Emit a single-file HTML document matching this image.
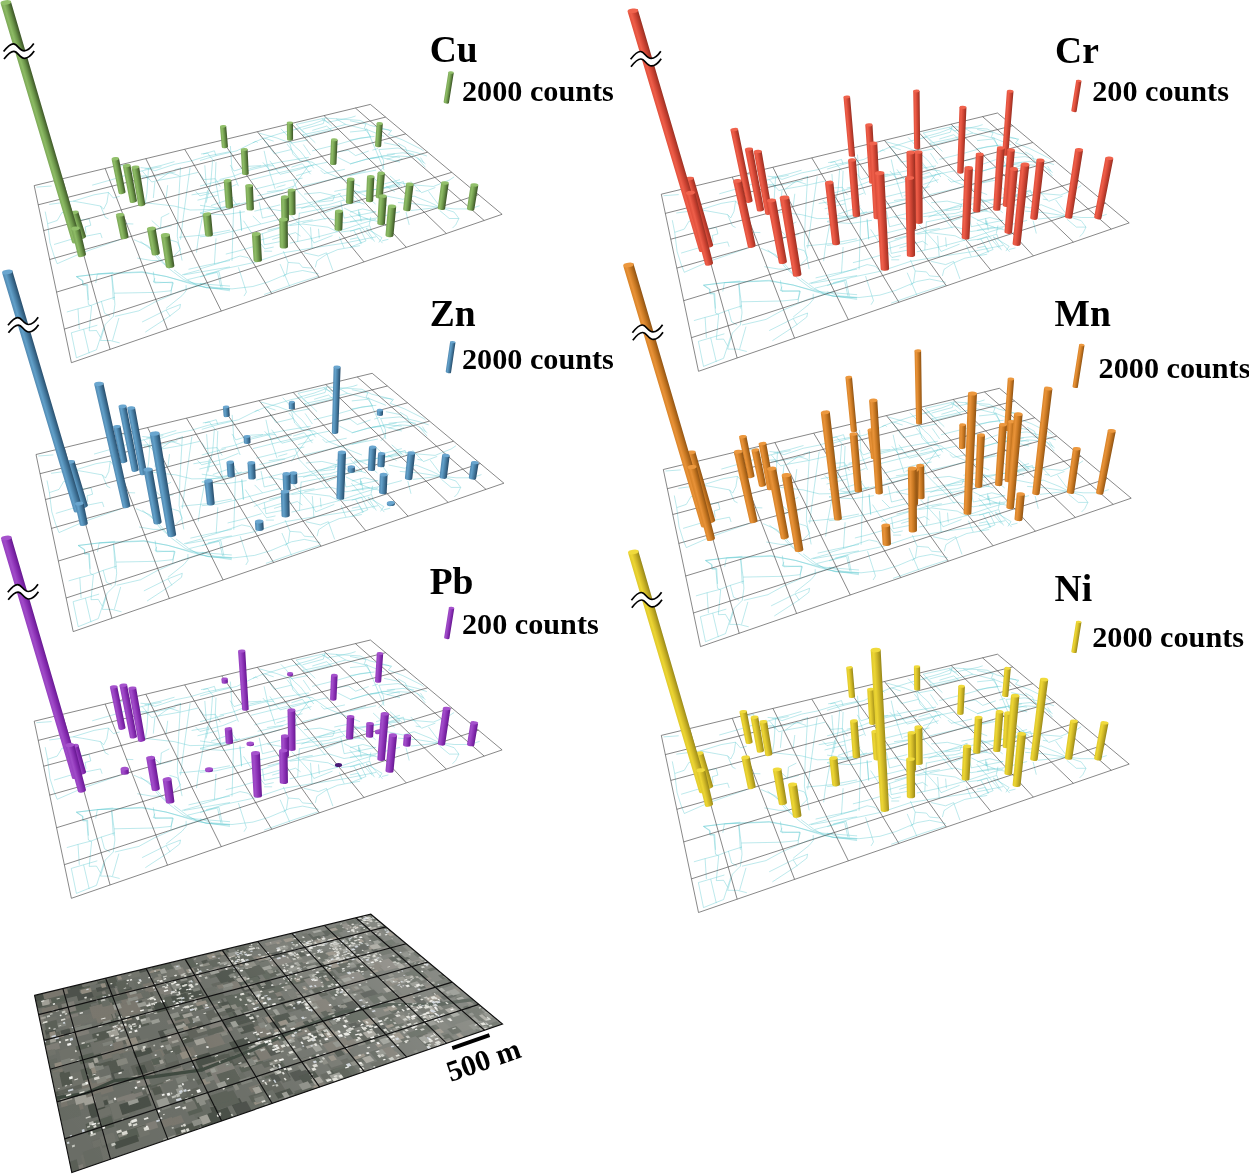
<!DOCTYPE html>
<html><head><meta charset="utf-8"><title>Heavy metal distribution maps</title>
<style>
html,body{margin:0;padding:0;background:#fff}
svg{display:block}
.t{font-family:"Liberation Serif","Times New Roman",serif;font-weight:bold;fill:#000}
</style></head><body>
<svg width="1249" height="1174" viewBox="0 0 1249 1174">
<defs>
<linearGradient id="gCu" x1="0" y1="0" x2="1" y2="0"><stop offset="0" stop-color="#7ca757"/><stop offset="0.28" stop-color="#8dbb65"/><stop offset="0.6" stop-color="#6c964a"/><stop offset="0.85" stop-color="#4c6a32"/><stop offset="1" stop-color="#3c5527"/></linearGradient>
<linearGradient id="gZn" x1="0" y1="0" x2="1" y2="0"><stop offset="0" stop-color="#5188b0"/><stop offset="0.28" stop-color="#62a0c9"/><stop offset="0.6" stop-color="#477da3"/><stop offset="0.85" stop-color="#325e7f"/><stop offset="1" stop-color="#284c6a"/></linearGradient>
<linearGradient id="gPb" x1="0" y1="0" x2="1" y2="0"><stop offset="0" stop-color="#9640c0"/><stop offset="0.28" stop-color="#a04cc8"/><stop offset="0.6" stop-color="#8a30b4"/><stop offset="0.85" stop-color="#74209f"/><stop offset="1" stop-color="#63188c"/></linearGradient>
<linearGradient id="gCr" x1="0" y1="0" x2="1" y2="0"><stop offset="0" stop-color="#e2503c"/><stop offset="0.28" stop-color="#ee5e49"/><stop offset="0.6" stop-color="#d04534"/><stop offset="0.85" stop-color="#ae3728"/><stop offset="1" stop-color="#952e21"/></linearGradient>
<linearGradient id="gMn" x1="0" y1="0" x2="1" y2="0"><stop offset="0" stop-color="#d98428"/><stop offset="0.28" stop-color="#e89238"/><stop offset="0.6" stop-color="#c87822"/><stop offset="0.85" stop-color="#a46018"/><stop offset="1" stop-color="#8c5112"/></linearGradient>
<linearGradient id="gNi" x1="0" y1="0" x2="1" y2="0"><stop offset="0" stop-color="#dfc82c"/><stop offset="0.28" stop-color="#ecd533"/><stop offset="0.6" stop-color="#cdb526"/><stop offset="0.85" stop-color="#ab981d"/><stop offset="1" stop-color="#938418"/></linearGradient>
<filter id="blur" x="-5%" y="-5%" width="110%" height="110%"><feGaussianBlur stdDeviation="0.55"/></filter>
<linearGradient id="pg" gradientUnits="userSpaceOnUse" x1="72" y1="1172" x2="400" y2="930"><stop offset="0" stop-color="#fff" stop-opacity="0"/><stop offset="0.45" stop-color="#fff" stop-opacity="0.02"/><stop offset="1" stop-color="#fff" stop-opacity="0.2"/></linearGradient>
</defs>
<rect width="1249" height="1174" fill="#fff"/>
<g id="panel-Cu">
<clipPath id="c0"><polygon points="34.2,185.6 370.4,104.4 502.1,214.3 71.4,362.7"/></clipPath><path clip-path="url(#c0)" d="M71.3 332.8L76.4 357.8L96.5 349.7L103.7 327.6M71.3 332.8L97.3 325.2M83.6 329.2L89.2 353.3M66.8 312L78 308.8L90.8 305.5L102.1 301.2L114.9 297.2M78 308.8L79.3 329.2M86.8 285.2L88.4 304.4L91.6 306L89.2 330.8L96.5 330.5L100.5 337.3M76.4 276.7L82.8 281.2L82.8 285.2L86.8 285.2M76.4 276.7L97.3 274L113.3 272.4M111.7 274.8L114.1 293.2L114.9 304.4L113.3 316.4L105.3 324.4L100.5 340.5L110.1 340.5L119.7 342.9M114.1 293.2L154.9 292.4L170.9 290.8L173.3 282.8L153.3 282L154.9 278M101.3 301.2L104.5 313.2L110.1 316.4M118.9 318L112.5 340.5M114.9 316.4L138.9 310.8L154.9 302L180.5 290.8L206.1 282.8M142.1 322L166.1 310L180.5 304.4L179.7 308.4L169.3 316.4L145.3 332.1M166.1 310L170.1 316.4M97.3 274L142.1 272.4L166.1 276.4L190.1 283.6L206.1 287.6L230 289.2M174.1 270L186.9 279.6L198.1 286L230 290.8M182.1 274.8L199.7 270M187.7 279.6L217.3 272.4M206.1 274L219 271.6L222.2 287.6M186.1 285.2L186.1 290.8L182.1 295.6L166.1 308.4M36.4 187.1L51.6 186M49.2 204.4L73.2 201.2L94.1 194.8L108.5 192.4L113.3 198L119.7 196.4M108.5 192.4L106.9 202.8L103.7 209.2L100.5 206L82.8 202.8L73.2 201.2M45.2 211.6L47.6 223.7L57.2 220.5L62 212.4L71.6 214.1M47.6 223.7L50 242.9L54 255.7L57.2 263.7L82.8 252.5L119.7 239.7M54 244.5L70 239.7L82.8 236.5M84.4 236.5L100.5 233.3L102.1 238.1M78 220.5L89.2 218.9L90.8 225.3L85.2 226.9L86 233.3M100.5 206L105.3 217.3L108.5 218.9M126.1 223.7L133.3 224M140.5 167.6L148.5 168.4L154.9 170.8L174.1 164.4L190.1 161.2L206.1 156.4L230 151.6M142.1 170.8L151.7 182L158.1 180.4L180.5 176.4L198.1 172.4M148.5 168.4L146.9 193.2L145.3 202.8M154.9 182L153.3 198M167.7 185.2L166.1 198M180.5 167.6L179.7 182L178.1 210.8L177.3 236.5L182.1 260.5M190.1 167.6L183.7 214.1L180.5 239.7M207.7 190L202.9 214.1L198.1 239.7L196.5 252.5M212.5 161.2L210.9 182L206.1 202.8M158.1 180.4L169.3 172.4L178.9 175.6M145.3 202.8L174.1 206L190.1 210L230 209.2M169.3 213.3L161.3 217.3L160.5 228.5L151.7 220.5M134.1 239.7L148.5 246.1L158.1 258.9L170.9 270.1L183.7 279.7L206.1 287.7L230 289.3M140.5 241.3L154.9 252.5L166.1 265.3M137.3 258.1L151.7 260.5L162.9 260.5M169.3 239.7L177.3 242.1L180.5 249.3L174.1 255.7M178.9 237.3L204.5 234.9L230 230.1M188.5 269.3L206.1 265.3L230 260.5M183.7 274.9L230 266.9M76.4 276.5L97.3 274.1L142.1 271.7L166.1 276.5L190.1 282.9L230 286.1M76.4 276.5L82.8 280.5L82.8 284.5L87.6 284.5L88.4 300M111.7 274.9L113.3 300M97.3 274.1L95.7 282.9M153.3 271.7L154.9 282.9L172.5 282.1L170.9 294.1M200 283.3L212.8 287.3L232 288.9L252.8 286.5L268.9 281.7L289.7 272.9L302.5 270.5L318.5 273.7M200 276.9L224 268.9L254.4 262.4L283.3 252.8L312.1 248L344.1 243.2L376.1 236.8M200 268.9L216 264.1L240 256L248 257.6L252.8 262.4M216 238.4L214.4 264.1M233.6 208L232 260.8M217.6 272.9L220.8 287.3M238.4 267.3L246.4 292.1L244 296.1M264.1 294.5L296.1 283.3L318.5 276.1M280.1 264.1L289.7 286.5M283.3 251.2L288.1 262.4L286.5 273.7L283.3 276.9M288.1 262.4L299.3 263.3L302.5 267.3L312.1 268.1M304.1 252.8L318.5 256L326.5 252.8L332.9 270.5M315.3 267.3L316.9 260.8L326.5 254.4L337.7 249.6L360.1 245.6M200 236.8L216 235.2L236.8 230.4L260.8 224L280.1 219.2M240 211.2L241.6 230.4M252.8 216L260.8 224M262.4 233.6L264.1 244.8L280.1 241.6M264.1 251.2L272.1 251.2M260.8 240L280.1 234.4M289.7 243.2L312.1 238.4L336.1 232L360.1 224L376.1 219.2M289.7 225.6L302.5 224L328.1 227.2L337.7 232M299.3 212.8L297.7 241.6M310.5 227.2L312.1 248M318.5 228.8L319.3 238.4M340.9 232L353.7 230.4L369.7 225.6L371.3 230.4L382.5 243.2M353.7 230.4L361.7 243.2M366.5 228.8L374.5 241.6M344.1 208L360.1 216L368.1 219.2M358.5 209.6L359.3 216M200 212.8L219.2 208L240 203.2M254.4 211.2L280.1 204.8M296.1 208L328.1 204.8L344.1 200M339.3 236.8L344.1 248M200 160.5L216 155.7L236.8 150.8L252.8 142.8L264.1 138L273.7 141.2M203.2 154.1L214.4 150.8L216 155.7M204.8 165.3L206.4 186.1M216 162.1L215.2 179.7L220.8 208.5M230.4 146L232 170.1L238.4 186.1M252.8 142.8L256 141.2L257.6 142.8M259.2 133.2L276.9 138L289.7 142.8L292.9 154.1L299.3 160.5L312.1 162.1M264.1 150.8L267.3 165.3L275.3 189.3M249.6 168.5L280.1 162.1L308.9 157.3M251.2 179.7L283.3 171.7L312.1 165.3L328.1 162.1M254.4 189.3L286.5 181.3L302.5 178.1M257.6 195.7L283.3 190.1M308.9 165.3L296.1 182.9L289.7 192.5M296.1 124.4L324.9 118L336.1 118.8L345.7 124.4L324.9 130L302.5 134.8M296.1 124.4L315.3 142.8M302.5 134.8L305.7 136.4L331.3 130M324.9 118L323.3 123.6L302.5 129.2M336.1 118.8L360.1 120.4L369.7 125.2L389 130L390.6 131.6M345.7 124.4L368.1 130L384.1 136.4M312.1 150.8L337.7 144.4L360.1 138L374.5 136.4M337.7 157.3L350.5 163.7L368.1 158.9L384.1 155.7L400 157.3M366.5 128.4L376.1 150.8L384.1 170.1M384.1 142.8L400 146M380.9 157.3L400 162.1M312.1 162.1L328.1 173.3L344.1 179.7L360.1 186.1M302.5 186.1L344.1 176.5L376.1 170.1M304.1 194.1L320.1 192.5L334.5 195.7L332.9 200.5L318.5 202.1M296.1 205.3L328.1 198.9L360.1 192.5L400 184.5M299.3 213.3L331.3 206.9L360.1 202.1M200 186.1L224 179.7M200 205.3L220.8 208.5L248 202.1L280.1 194.1M200 213.3L224 214.9L244.8 211.7M240 210.1L241.6 230.9M259.2 202.1L262.4 218.1L275.3 214.9M267.3 208.5L286.5 211.7M340.9 202.1L344.1 218.1L360.1 214.9L376.1 211.7M358.5 211.7L359.3 216.5M302.5 222.9L328.1 218.1L344.1 222.9L376.1 218.1L400 211.7M376.1 186.1L400 179.7M352.1 192.5L400 186.1M350 120.8L366 124L364.4 128L370.8 136.8L350 140M350 132L366 130.4M380.4 128.8L391.6 130.4L388.4 134.4L402.8 140L422.1 149.6L423.7 151.2M378.8 149.6L398 148L417.3 152.8L426.9 156M378.8 149.6L383.6 160.8L383.6 167.3L378.8 172.1M386.8 154.4L402.8 152.8L414.1 154.4M386.8 159.2L398 156L410.8 156.8M350 164.1L366 159.2L378.8 157.6M417.3 157.6L425.3 167.3M420.5 157.6L423.7 162.4M350 175.3L366 170.5M391.6 181.7L414.1 184.9L433.3 186.5L449.3 180.1L454.1 176.9M415.7 190.5L420.5 191.3M414.1 196.1L430.1 202.5L439.7 207.3L454.1 208.9L470.1 208.9L479.7 205.7M398 202.5L417.3 204.1L438.1 207.3M410.8 210.5L439.7 207.3M428.5 191.3L438.1 204.1M439.7 210.5L449.3 218.5L458.9 218.5L455.7 224.9L452.5 228.1M444.5 208.9L454.1 212.1L458.9 218.5M406 212.1L409.2 224.9M386.8 196.1L402.8 199.3L414.1 196.1M350 212.1L362.8 208.9L375.6 212.1M350 221.7L366 218.5L378.8 221.7M350 231.3L359.6 228.1L366 240.9L350 247.3M366 228.1L382 237.7L378.8 242.5M359.6 212.1L361.2 221.7M369.2 224.9L370.8 216.9M350 239.3L358 237.7L361.2 244.1M382 240.9L388.4 239.3M353.2 189.7L366 196.1L375.6 204.1M350 199.3L364.4 204.1M338.6 193.3L348.2 204.1M279.8 228L261.1 234.1L252.1 237.6M171.8 225.6L150.6 230.9M175.5 171.8L153.8 176.5L142.2 177.5M174.5 169.9L180.9 167.9M197.5 200.2L218.1 195.1M126.3 171.8L126.7 164.5L115.1 167.3M394.8 191.8L386.2 186.2M394.8 154L380.3 156.8L370.1 158.3M349.6 214.3L357.1 222.6L361.1 226.7L372.3 239.8M387.2 206.3L381.5 198.3M398.1 143.3L405.4 147.4L407 151.9L418.3 158.7L425.5 163.9M373.1 177.4L384.2 187.8L403.3 181.5L405 187.1M301.3 208.6L311.9 204.4L322.1 200L340.6 193.5M293.5 180.4L297.4 190.7L306.7 200.5L317 209.8L325.3 219.6M303.3 144.5L310.6 155.1M285.5 184.8L276.4 187.4M220.4 186.6L215.3 178.7L203.8 179.6L199.9 173.7M266.9 191.9L283 189.8L293.5 186.2M289.4 140.4L294.5 146.1L300.4 151.3L308.3 161.4L313.8 168.4M273.7 247L264.8 248.9L255.2 236.3L251.5 232.8L243.5 220.7M237.4 205.7L230 195.2M233.2 197.2L228.1 199.8L211 205.6M291.5 216L299.4 224.1L309.5 235.3L313.9 242.9L332.5 235.5M214.6 161.8L209.6 155.9L207.6 153L201 154M236.7 184.4L229.6 187.2L222.7 190L199.9 195.9L195.6 191.4M348.7 190.9L360.3 202.1M311.5 170.9L296.1 175.8M320.7 170.2L324 173.5L344.9 169.3M372.4 150.2L378 148.5M291.1 149.6L274.2 153.7L268.3 145.4L262.4 137.8M230.1 165L234 171L248.8 166.3L261.2 165.6M174.5 161.6L161.3 165.4L144.6 169.1M435.4 187.5L421.6 192.7L410.7 181.3M295.3 128.9L312.3 124.2L324.5 119.6L331.9 126.2M350.9 188.2L334.3 191.4M308 139.9L291.3 143.1L289.5 138.7L286.1 134.2L280.9 128.8M402.1 186.6L389.9 175.9M355.6 116L351 117.5L334.6 120.9L327.3 122.3L321.9 119M313.9 164.8L298.3 169.7L280.1 174.3L276.9 170.5L269.8 160.8M161.5 166.7L151.2 168.6L132.1 173.4L111.6 179.7L92.2 185.2M259.9 244.7L239.9 250.6L225.8 254.1M147.6 179.2L146.2 175.7L139.2 176.4L138.8 169.9M208.2 192.1L191.6 194.9M312.3 130.4L326.7 126.1L332.7 131.4M287 144L295.1 154.1L300 160.2M312.7 219.8L300.7 221.7L288.5 225.2L267.6 230.3M274 165.6L266.4 166L249.2 170.2L232.9 176.4L219.6 179.5M304.1 133.2L299.7 128.7L290.3 130.5L280.4 133.4L264.6 138.3M320.6 206.1L324.7 212.7L341.8 205.9M300.6 236.2L295.5 232.6L272.2 239.5M402.3 158.6L395 161.5M289.9 166.1L270.3 170.7L262.8 162.4M330.7 153.1L348.2 150.2L355.6 155.6L368.7 151M291.4 167.2L302.4 163.7L310.6 174.2" stroke="#62cad2" stroke-opacity="0.85" stroke-width="0.5" fill="none" stroke-linejoin="round"/>
<path d="M62.5 178.8L110.1 349.4M105.2 168.5L167.5 329.6M145.8 158.6L221.3 311.1M184.7 149.3L271.8 293.7M221.8 140.3L319.3 277.3M257.3 131.7L364 261.9M291.4 123.5L406.3 247.3M324 115.6L446.3 233.5M355.4 108L484.2 220.5M38.2 204.8L385.6 117.1M43.7 230.6L405.7 133.9M49.7 259.5L427.6 152.2M56.6 292.1L451.8 172.3M64.3 329.1L478.5 194.6" stroke="#555" stroke-width="0.7" fill="none"/>
<polygon points="34.2,185.6 370.4,104.4 502.1,214.3 71.4,362.7" stroke="#555" stroke-width="0.7" fill="none"/>
<g transform="translate(290.1 140.7) rotate(-0.6)"><path d="M-3 -1.3 L-3.1 -17.9 L3.1 -17.9 L3 -1.3 A3 1.3 0 0 1 -3 -1.3 Z" fill="url(#gCu)"/><ellipse cx="0" cy="-17.9" rx="3.1" ry="1.4" fill="#92c06b"/></g>
<g transform="translate(378 147.2) rotate(4.1)"><path d="M-3.1 -1.4 L-3.1 -23.8 L3.1 -23.8 L3.1 -1.4 A3.1 1.4 0 0 1 -3.1 -1.4 Z" fill="url(#gCu)"/><ellipse cx="0" cy="-23.8" rx="3.1" ry="1.4" fill="#92c06b"/></g>
<g transform="translate(225 148.2) rotate(-5)"><path d="M-3.1 -1.4 L-3.1 -21.9 L3.1 -21.9 L3.1 -1.4 A3.1 1.4 0 0 1 -3.1 -1.4 Z" fill="url(#gCu)"/><ellipse cx="0" cy="-21.9" rx="3.1" ry="1.4" fill="#92c06b"/></g>
<g transform="translate(333.2 165.1) rotate(2.5)"><path d="M-3.2 -1.5 L-3.3 -25.3 L3.3 -25.3 L3.2 -1.5 A3.2 1.5 0 0 1 -3.2 -1.5 Z" fill="url(#gCu)"/><ellipse cx="0" cy="-25.3" rx="3.3" ry="1.5" fill="#92c06b"/></g>
<g transform="translate(245.5 175.1) rotate(-2.9)"><path d="M-3.3 -1.5 L-3.4 -25.6 L3.4 -25.6 L3.3 -1.5 A3.3 1.5 0 0 1 -3.3 -1.5 Z" fill="url(#gCu)"/><ellipse cx="0" cy="-25.6" rx="3.4" ry="1.5" fill="#92c06b"/></g>
<g transform="translate(122.4 194.1) rotate(-11.4)"><path d="M-3.5 -1.6 L-3.7 -36 L3.7 -36 L3.5 -1.6 A3.5 1.6 0 0 1 -3.5 -1.6 Z" fill="url(#gCu)"/><ellipse cx="0" cy="-36" rx="3.7" ry="1.7" fill="#92c06b" transform="rotate(6.3 0 -36)"/></g>
<g transform="translate(379.1 198.4) rotate(4.8)"><path d="M-3.6 -1.6 L-3.7 -25.3 L3.7 -25.3 L3.6 -1.6 A3.6 1.6 0 0 1 -3.6 -1.6 Z" fill="url(#gCu)"/><ellipse cx="0" cy="-25.3" rx="3.7" ry="1.7" fill="#92c06b"/></g>
<g transform="translate(369.5 202.2) rotate(2.7)"><path d="M-3.6 -1.6 L-3.7 -25.6 L3.7 -25.6 L3.6 -1.6 A3.6 1.6 0 0 1 -3.6 -1.6 Z" fill="url(#gCu)"/><ellipse cx="0" cy="-25.6" rx="3.7" ry="1.7" fill="#92c06b"/></g>
<g transform="translate(133.7 202.8) rotate(-10.8)"><path d="M-3.6 -1.6 L-3.8 -37.9 L3.8 -37.9 L3.6 -1.6 A3.6 1.6 0 0 1 -3.6 -1.6 Z" fill="url(#gCu)"/><ellipse cx="0" cy="-37.9" rx="3.8" ry="1.7" fill="#92c06b" transform="rotate(5.9 0 -37.9)"/></g>
<g transform="translate(349.5 204) rotate(2.8)"><path d="M-3.6 -1.6 L-3.7 -24.8 L3.7 -24.8 L3.6 -1.6 A3.6 1.6 0 0 1 -3.6 -1.6 Z" fill="url(#gCu)"/><ellipse cx="0" cy="-24.8" rx="3.7" ry="1.7" fill="#92c06b"/></g>
<g transform="translate(142 206.2) rotate(-9.7)"><path d="M-3.6 -1.6 L-3.8 -39.6 L3.8 -39.6 L3.6 -1.6 A3.6 1.6 0 0 1 -3.6 -1.6 Z" fill="url(#gCu)"/><ellipse cx="0" cy="-39.6" rx="3.9" ry="1.7" fill="#92c06b" transform="rotate(5.4 0 -39.6)"/></g>
<g transform="translate(229.5 208.4) rotate(-4.1)"><path d="M-3.7 -1.6 L-3.8 -27.7 L3.8 -27.7 L3.7 -1.6 A3.7 1.6 0 0 1 -3.7 -1.6 Z" fill="url(#gCu)"/><ellipse cx="0" cy="-27.7" rx="3.8" ry="1.7" fill="#92c06b"/></g>
<g transform="translate(441.2 209.9) rotate(8)"><path d="M-3.7 -1.7 L-3.8 -27.2 L3.8 -27.2 L3.7 -1.7 A3.7 1.7 0 0 1 -3.7 -1.7 Z" fill="url(#gCu)"/><ellipse cx="0" cy="-27.2" rx="3.9" ry="1.7" fill="#92c06b" transform="rotate(-4.4 0 -27.2)"/></g>
<g transform="translate(250.3 210.6) rotate(-2.7)"><path d="M-3.7 -1.7 L-3.8 -25 L3.8 -25 L3.7 -1.7 A3.7 1.7 0 0 1 -3.7 -1.7 Z" fill="url(#gCu)"/><ellipse cx="0" cy="-25" rx="3.8" ry="1.7" fill="#92c06b"/></g>
<g transform="translate(470.4 210.6) rotate(9.1)"><path d="M-3.7 -1.7 L-3.8 -26 L3.8 -26 L3.7 -1.7 A3.7 1.7 0 0 1 -3.7 -1.7 Z" fill="url(#gCu)"/><ellipse cx="0" cy="-26" rx="3.9" ry="1.7" fill="#92c06b" transform="rotate(-5 0 -26)"/></g>
<g transform="translate(406.6 211.2) rotate(6.8)"><path d="M-3.7 -1.7 L-3.8 -27.1 L3.8 -27.1 L3.7 -1.7 A3.7 1.7 0 0 1 -3.7 -1.7 Z" fill="url(#gCu)"/><ellipse cx="0" cy="-27.1" rx="3.8" ry="1.7" fill="#92c06b"/></g>
<g transform="translate(291.9 215.3) rotate(-0.7)"><path d="M-3.7 -1.7 L-3.8 -25.2 L3.8 -25.2 L3.7 -1.7 A3.7 1.7 0 0 1 -3.7 -1.7 Z" fill="url(#gCu)"/><ellipse cx="0" cy="-25.2" rx="3.8" ry="1.7" fill="#92c06b"/></g>
<g transform="translate(285.2 221.8) rotate(-0.9)"><path d="M-3.8 -1.7 L-3.9 -24.7 L3.9 -24.7 L3.8 -1.7 A3.8 1.7 0 0 1 -3.8 -1.7 Z" fill="url(#gCu)"/><ellipse cx="0" cy="-24.7" rx="3.9" ry="1.8" fill="#92c06b"/></g>
<g transform="translate(381 225.3) rotate(3.7)"><path d="M-3.8 -1.7 L-4 -29.3 L4 -29.3 L3.8 -1.7 A3.8 1.7 0 0 1 -3.8 -1.7 Z" fill="url(#gCu)"/><ellipse cx="0" cy="-29.3" rx="4" ry="1.8" fill="#92c06b"/></g>
<g transform="translate(338.4 230.8) rotate(1.8)"><path d="M-3.9 -1.7 L-4 -19.6 L4 -19.6 L3.9 -1.7 A3.9 1.7 0 0 1 -3.9 -1.7 Z" fill="url(#gCu)"/><ellipse cx="0" cy="-19.6" rx="4" ry="1.8" fill="#92c06b"/></g>
<g transform="translate(209.2 236.6) rotate(-5.9)"><path d="M-3.9 -1.8 L-4.1 -22.5 L4.1 -22.5 L3.9 -1.8 A3.9 1.8 0 0 1 -3.9 -1.8 Z" fill="url(#gCu)"/><ellipse cx="0" cy="-22.5" rx="4.1" ry="1.8" fill="#92c06b"/></g>
<g transform="translate(389.3 237.2) rotate(5.2)"><path d="M-4 -1.8 L-4.1 -31 L4.1 -31 L4 -1.8 A4 1.8 0 0 1 -4 -1.8 Z" fill="url(#gCu)"/><ellipse cx="0" cy="-31" rx="4.1" ry="1.8" fill="#92c06b"/></g>
<g transform="translate(82.7 239) rotate(-17.7)"><path d="M-4 -1.8 L-4.1 -27.9 L4.1 -27.9 L4 -1.8 A4 1.8 0 0 1 -4 -1.8 Z" fill="url(#gCu)"/><ellipse cx="0" cy="-27.9" rx="4.2" ry="1.8" fill="#92c06b" transform="rotate(9.7 0 -27.9)"/></g>
<g transform="translate(125 239.1) rotate(-11.6)"><path d="M-4 -1.8 L-4.1 -24.8 L4.1 -24.8 L4 -1.8 A4 1.8 0 0 1 -4 -1.8 Z" fill="url(#gCu)"/><ellipse cx="0" cy="-24.8" rx="4.2" ry="1.8" fill="#92c06b" transform="rotate(6.4 0 -24.8)"/></g>
<g transform="translate(77 243) rotate(-16.5)"><path d="M-4.6 -2.1 L-5.2 -250.8 L5.2 -250.8 L4.6 -2.1 A4.6 2.1 0 0 1 -4.6 -2.1 Z" fill="url(#gCu)"/><ellipse cx="0" cy="-250.8" rx="5.3" ry="2.3" fill="#92c06b" transform="rotate(9.1 0 -250.8)"/></g>
<g transform="translate(283.9 248.5) rotate(-0.8)"><path d="M-4.1 -1.8 L-4.2 -29 L4.2 -29 L4.1 -1.8 A4.1 1.8 0 0 1 -4.1 -1.8 Z" fill="url(#gCu)"/><ellipse cx="0" cy="-29" rx="4.2" ry="1.9" fill="#92c06b"/></g>
<g transform="translate(156.1 255.3) rotate(-10.2)"><path d="M-4.1 -1.9 L-4.3 -27.2 L4.3 -27.2 L4.1 -1.9 A4.1 1.9 0 0 1 -4.1 -1.9 Z" fill="url(#gCu)"/><ellipse cx="0" cy="-27.2" rx="4.4" ry="1.9" fill="#92c06b" transform="rotate(5.6 0 -27.2)"/></g>
<g transform="translate(82.4 256.8) rotate(-13.5)"><path d="M-4.1 -1.9 L-4.3 -29.1 L4.3 -29.1 L4.1 -1.9 A4.1 1.9 0 0 1 -4.1 -1.9 Z" fill="url(#gCu)"/><ellipse cx="0" cy="-29.1" rx="4.4" ry="1.9" fill="#92c06b" transform="rotate(7.4 0 -29.1)"/></g>
<g transform="translate(257.9 262.1) rotate(-3.5)"><path d="M-4.2 -1.9 L-4.3 -28.2 L4.3 -28.2 L4.2 -1.9 A4.2 1.9 0 0 1 -4.2 -1.9 Z" fill="url(#gCu)"/><ellipse cx="0" cy="-28.2" rx="4.3" ry="2" fill="#92c06b"/></g>
<g transform="translate(170.4 268) rotate(-8.8)"><path d="M-4.3 -1.9 L-4.4 -33.3 L4.4 -33.3 L4.3 -1.9 A4.3 1.9 0 0 1 -4.3 -1.9 Z" fill="url(#gCu)"/><ellipse cx="0" cy="-33.3" rx="4.5" ry="2" fill="#92c06b" transform="rotate(4.8 0 -33.3)"/></g>
<path d="M3.6 51.6 C7.1 47.1 10.1 43.9 13.4 43.9 C17.6 43.9 19.1 50.8 24.2 50.8 C28.1 50.8 31.1 47.6 33.8 43.6 L34.2 51.1 C31.5 55.1 28.5 58.3 24.6 58.3 C19.5 58.3 18 51.4 13.8 51.4 C10.5 51.4 7.5 54.6 4 59.1 Z" fill="#fff"/><path d="M3.6 51.6 C7.1 47.1 10.1 43.9 13.4 43.9 C17.6 43.9 19.1 50.8 24.2 50.8 C28.1 50.8 31.1 47.6 33.8 43.6" stroke="#000" stroke-width="1.7" fill="none" stroke-linecap="butt"/><path d="M4 59.1 C7.5 54.6 10.5 51.4 13.8 51.4 C18 51.4 19.5 58.3 24.6 58.3 C28.5 58.3 31.5 55.1 34.2 51.1" stroke="#000" stroke-width="1.7" fill="none" stroke-linecap="butt"/>
<g transform="translate(446.1 103.6) rotate(9.1)"><path d="M-2.7 -1.2 L-2.7 -31.5 L2.7 -31.5 L2.7 -1.2 A2.7 1.2 0 0 1 -2.7 -1.2 Z" fill="url(#gCu)"/><ellipse cx="0" cy="-31.5" rx="2.8" ry="1.2" fill="#92c06b" transform="rotate(-5 0 -31.5)"/></g>
<text x="429.7" y="62.3" font-size="37.5" class="t">Cu</text>
<text x="462" y="100.8" font-size="30.2" class="t">2000 counts</text>
</g>
<g id="panel-Zn">
<clipPath id="c281"><polygon points="36,454.5 372.2,373.3 503.9,483.2 73.2,631.6"/></clipPath><path clip-path="url(#c281)" d="M73.1 601.7L78.2 626.7L98.3 618.6L105.5 596.5M73.1 601.7L99.1 594.1M85.4 598.1L91 622.2M68.6 580.9L79.8 577.7L92.6 574.4L103.9 570.1L116.7 566.1M79.8 577.7L81.1 598.1M88.6 554.1L90.2 573.3L93.4 574.9L91 599.7L98.3 599.4L102.3 606.2M78.2 545.6L84.6 550.1L84.6 554.1L88.6 554.1M78.2 545.6L99.1 542.9L115.1 541.3M113.5 543.7L115.9 562.1L116.7 573.3L115.1 585.3L107.1 593.3L102.3 609.4L111.9 609.4L121.5 611.8M115.9 562.1L156.7 561.3L172.7 559.7L175.1 551.7L155.1 550.9L156.7 546.9M103.1 570.1L106.3 582.1L111.9 585.3M120.7 586.9L114.3 609.4M116.7 585.3L140.7 579.7L156.7 570.9L182.3 559.7L207.9 551.7M143.9 590.9L167.9 578.9L182.3 573.3L181.5 577.3L171.1 585.3L147.1 601M167.9 578.9L171.9 585.3M99.1 542.9L143.9 541.3L167.9 545.3L191.9 552.5L207.9 556.5L231.8 558.1M175.9 538.9L188.7 548.5L199.9 554.9L231.8 559.7M183.9 543.7L201.5 538.9M189.5 548.5L219.1 541.3M207.9 542.9L220.8 540.5L224 556.5M187.9 554.1L187.9 559.7L183.9 564.5L167.9 577.3M38.2 456L53.4 454.9M51 473.3L75 470.1L95.9 463.7L110.3 461.3L115.1 466.9L121.5 465.3M110.3 461.3L108.7 471.7L105.5 478.1L102.3 474.9L84.6 471.7L75 470.1M47 480.5L49.4 492.6L59 489.4L63.8 481.3L73.4 483M49.4 492.6L51.8 511.8L55.8 524.6L59 532.6L84.6 521.4L121.5 508.6M55.8 513.4L71.8 508.6L84.6 505.4M86.2 505.4L102.3 502.2L103.9 507M79.8 489.4L91 487.8L92.6 494.2L87 495.8L87.8 502.2M102.3 474.9L107.1 486.2L110.3 487.8M127.9 492.6L135.1 492.9M142.3 436.5L150.3 437.3L156.7 439.7L175.9 433.3L191.9 430.1L207.9 425.3L231.8 420.5M143.9 439.7L153.5 450.9L159.9 449.3L182.3 445.3L199.9 441.3M150.3 437.3L148.7 462.1L147.1 471.7M156.7 450.9L155.1 466.9M169.5 454.1L167.9 466.9M182.3 436.5L181.5 450.9L179.9 479.7L179.1 505.4L183.9 529.4M191.9 436.5L185.5 483L182.3 508.6M209.5 458.9L204.7 483L199.9 508.6L198.3 521.4M214.3 430.1L212.7 450.9L207.9 471.7M159.9 449.3L171.1 441.3L180.7 444.5M147.1 471.7L175.9 474.9L191.9 478.9L231.8 478.1M171.1 482.2L163.1 486.2L162.3 497.4L153.5 489.4M135.9 508.6L150.3 515L159.9 527.8L172.7 539L185.5 548.6L207.9 556.6L231.8 558.2M142.3 510.2L156.7 521.4L167.9 534.2M139.1 527L153.5 529.4L164.7 529.4M171.1 508.6L179.1 511L182.3 518.2L175.9 524.6M180.7 506.2L206.3 503.8L231.8 499M190.3 538.2L207.9 534.2L231.8 529.4M185.5 543.8L231.8 535.8M78.2 545.4L99.1 543L143.9 540.6L167.9 545.4L191.9 551.8L231.8 555M78.2 545.4L84.6 549.4L84.6 553.4L89.4 553.4L90.2 568.9M113.5 543.8L115.1 568.9M99.1 543L97.5 551.8M155.1 540.6L156.7 551.8L174.3 551L172.7 563M201.8 552.2L214.6 556.2L233.8 557.8L254.6 555.4L270.7 550.6L291.5 541.8L304.3 539.4L320.3 542.6M201.8 545.8L225.8 537.8L256.2 531.3L285.1 521.7L313.9 516.9L345.9 512.1L377.9 505.7M201.8 537.8L217.8 533L241.8 524.9L249.8 526.5L254.6 531.3M217.8 507.3L216.2 533M235.4 476.9L233.8 529.7M219.4 541.8L222.6 556.2M240.2 536.2L248.2 561L245.8 565M265.9 563.4L297.9 552.2L320.3 545M281.9 533L291.5 555.4M285.1 520.1L289.9 531.3L288.3 542.6L285.1 545.8M289.9 531.3L301.1 532.2L304.3 536.2L313.9 537M305.9 521.7L320.3 524.9L328.3 521.7L334.7 539.4M317.1 536.2L318.7 529.7L328.3 523.3L339.5 518.5L361.9 514.5M201.8 505.7L217.8 504.1L238.6 499.3L262.6 492.9L281.9 488.1M241.8 480.1L243.4 499.3M254.6 484.9L262.6 492.9M264.2 502.5L265.9 513.7L281.9 510.5M265.9 520.1L273.9 520.1M262.6 508.9L281.9 503.3M291.5 512.1L313.9 507.3L337.9 500.9L361.9 492.9L377.9 488.1M291.5 494.5L304.3 492.9L329.9 496.1L339.5 500.9M301.1 481.7L299.5 510.5M312.3 496.1L313.9 516.9M320.3 497.7L321.1 507.3M342.7 500.9L355.5 499.3L371.5 494.5L373.1 499.3L384.3 512.1M355.5 499.3L363.5 512.1M368.3 497.7L376.3 510.5M345.9 476.9L361.9 484.9L369.9 488.1M360.3 478.5L361.1 484.9M201.8 481.7L221 476.9L241.8 472.1M256.2 480.1L281.9 473.7M297.9 476.9L329.9 473.7L345.9 468.9M341.1 505.7L345.9 516.9M201.8 429.4L217.8 424.6L238.6 419.7L254.6 411.7L265.9 406.9L275.5 410.1M205 423L216.2 419.7L217.8 424.6M206.6 434.2L208.2 455M217.8 431L217 448.6L222.6 477.4M232.2 414.9L233.8 439L240.2 455M254.6 411.7L257.8 410.1L259.4 411.7M261 402.1L278.7 406.9L291.5 411.7L294.7 423L301.1 429.4L313.9 431M265.9 419.7L269.1 434.2L277.1 458.2M251.4 437.4L281.9 431L310.7 426.2M253 448.6L285.1 440.6L313.9 434.2L329.9 431M256.2 458.2L288.3 450.2L304.3 447M259.4 464.6L285.1 459M310.7 434.2L297.9 451.8L291.5 461.4M297.9 393.3L326.7 386.9L337.9 387.7L347.5 393.3L326.7 398.9L304.3 403.7M297.9 393.3L317.1 411.7M304.3 403.7L307.5 405.3L333.1 398.9M326.7 386.9L325.1 392.5L304.3 398.1M337.9 387.7L361.9 389.3L371.5 394.1L390.8 398.9L392.4 400.5M347.5 393.3L369.9 398.9L385.9 405.3M313.9 419.7L339.5 413.3L361.9 406.9L376.3 405.3M339.5 426.2L352.3 432.6L369.9 427.8L385.9 424.6L401.8 426.2M368.3 397.3L377.9 419.7L385.9 439M385.9 411.7L401.8 414.9M382.7 426.2L401.8 431M313.9 431L329.9 442.2L345.9 448.6L361.9 455M304.3 455L345.9 445.4L377.9 439M305.9 463L321.9 461.4L336.3 464.6L334.7 469.4L320.3 471M297.9 474.2L329.9 467.8L361.9 461.4L401.8 453.4M301.1 482.2L333.1 475.8L361.9 471M201.8 455L225.8 448.6M201.8 474.2L222.6 477.4L249.8 471L281.9 463M201.8 482.2L225.8 483.8L246.6 480.6M241.8 479L243.4 499.8M261 471L264.2 487L277.1 483.8M269.1 477.4L288.3 480.6M342.7 471L345.9 487L361.9 483.8L377.9 480.6M360.3 480.6L361.1 485.4M304.3 491.8L329.9 487L345.9 491.8L377.9 487L401.8 480.6M377.9 455L401.8 448.6M353.9 461.4L401.8 455M351.8 389.7L367.8 392.9L366.2 396.9L372.6 405.7L351.8 408.9M351.8 400.9L367.8 399.3M382.2 397.7L393.4 399.3L390.2 403.3L404.6 408.9L423.9 418.5L425.5 420.1M380.6 418.5L399.8 416.9L419.1 421.7L428.7 424.9M380.6 418.5L385.4 429.7L385.4 436.2L380.6 441M388.6 423.3L404.6 421.7L415.9 423.3M388.6 428.1L399.8 424.9L412.6 425.7M351.8 433L367.8 428.1L380.6 426.5M419.1 426.5L427.1 436.2M422.3 426.5L425.5 431.3M351.8 444.2L367.8 439.4M393.4 450.6L415.9 453.8L435.1 455.4L451.1 449L455.9 445.8M417.5 459.4L422.3 460.2M415.9 465L431.9 471.4L441.5 476.2L455.9 477.8L471.9 477.8L481.5 474.6M399.8 471.4L419.1 473L439.9 476.2M412.6 479.4L441.5 476.2M430.3 460.2L439.9 473M441.5 479.4L451.1 487.4L460.7 487.4L457.5 493.8L454.3 497M446.3 477.8L455.9 481L460.7 487.4M407.8 481L411 493.8M388.6 465L404.6 468.2L415.9 465M351.8 481L364.6 477.8L377.4 481M351.8 490.6L367.8 487.4L380.6 490.6M351.8 500.2L361.4 497L367.8 509.8L351.8 516.2M367.8 497L383.8 506.6L380.6 511.4M361.4 481L363 490.6M371 493.8L372.6 485.8M351.8 508.2L359.8 506.6L363 513M383.8 509.8L390.2 508.2M355 458.6L367.8 465L377.4 473M351.8 468.2L366.2 473M340.4 462.2L350 473M281.6 496.9L262.9 503L253.9 506.5M173.6 494.5L152.4 499.8M177.3 440.7L155.6 445.4L144 446.4M176.3 438.8L182.7 436.8M199.3 469.1L219.9 464M128.1 440.7L128.5 433.4L116.9 436.2M396.6 460.7L388 455.1M396.6 422.9L382.1 425.7L371.9 427.2M351.4 483.2L358.9 491.5L362.9 495.6L374.1 508.7M389 475.2L383.3 467.2M399.9 412.2L407.2 416.3L408.8 420.8L420.1 427.6L427.3 432.8M374.9 446.3L386 456.7L405.1 450.4L406.8 456M303.1 477.5L313.7 473.3L323.9 468.9L342.4 462.4M295.3 449.3L299.2 459.6L308.5 469.4L318.8 478.7L327.1 488.5M305.1 413.4L312.4 424M287.3 453.7L278.2 456.3M222.2 455.5L217.1 447.6L205.6 448.5L201.7 442.6M268.7 460.8L284.8 458.7L295.3 455.1M291.2 409.3L296.3 415L302.2 420.2L310.1 430.3L315.6 437.3M275.5 515.9L266.6 517.8L257 505.2L253.3 501.7L245.3 489.6M239.2 474.6L231.8 464.1M235 466.1L229.9 468.7L212.8 474.5M293.3 484.9L301.2 493L311.3 504.2L315.7 511.8L334.3 504.4M216.4 430.7L211.4 424.8L209.4 421.9L202.8 422.9M238.5 453.3L231.4 456.1L224.5 458.9L201.7 464.8L197.4 460.3M350.5 459.8L362.1 471M313.3 439.8L297.9 444.7M322.5 439.1L325.8 442.4L346.7 438.2M374.2 419.1L379.8 417.4M292.9 418.5L276 422.6L270.1 414.3L264.2 406.7M231.9 433.9L235.8 439.9L250.6 435.2L263 434.5M176.3 430.5L163.1 434.3L146.4 438M437.2 456.4L423.4 461.6L412.5 450.2M297.1 397.8L314.1 393.1L326.3 388.5L333.7 395.1M352.7 457.1L336.1 460.3M309.8 408.8L293.1 412L291.3 407.6L287.9 403.1L282.7 397.7M403.9 455.5L391.7 444.8M357.4 384.9L352.8 386.4L336.4 389.8L329.1 391.2L323.7 387.9M315.7 433.7L300.1 438.6L281.9 443.2L278.7 439.4L271.6 429.7M163.3 435.6L153 437.5L133.9 442.3L113.4 448.6L94 454.1M261.7 513.6L241.7 519.5L227.6 523M149.4 448.1L148 444.6L141 445.3L140.6 438.8M210 461L193.4 463.8M314.1 399.3L328.5 395L334.5 400.3M288.8 412.9L296.9 423L301.8 429.1M314.5 488.7L302.5 490.6L290.3 494.1L269.4 499.2M275.8 434.5L268.2 434.9L251 439.1L234.7 445.3L221.4 448.4M305.9 402.1L301.5 397.6L292.1 399.4L282.2 402.3L266.4 407.2M322.4 475L326.5 481.6L343.6 474.8M302.4 505.1L297.3 501.5L274 508.4M404.1 427.5L396.8 430.4M291.7 435L272.1 439.6L264.6 431.3M332.5 422L350 419.1L357.4 424.5L370.5 419.9M293.2 436.1L304.2 432.6L312.4 443.1" stroke="#62cad2" stroke-opacity="0.85" stroke-width="0.5" fill="none" stroke-linejoin="round"/>
<path d="M64.3 447.7L111.9 618.3M107 437.4L169.3 598.5M147.6 427.5L223.1 580M186.5 418.2L273.6 562.6M223.6 409.2L321.1 546.2M259.1 400.6L365.8 530.8M293.2 392.4L408.1 516.2M325.8 384.5L448.1 502.4M357.2 376.9L486 489.4M40 473.7L387.4 386M45.5 499.5L407.5 402.8M51.5 528.4L429.4 421.1M58.4 561L453.6 441.2M66.1 598L480.3 463.5" stroke="#555" stroke-width="0.7" fill="none"/>
<polygon points="36,454.5 372.2,373.3 503.9,483.2 73.2,631.6" stroke="#555" stroke-width="0.7" fill="none"/>
<g transform="translate(291.9 409.6) rotate(-0.8)"><path d="M-3 -1.3 L-3 -7.5 L3 -7.5 L3 -1.3 A3 1.3 0 0 1 -3 -1.3 Z" fill="url(#gZn)"/><ellipse cx="0" cy="-7.5" rx="3" ry="1.4" fill="#6aa6cf"/></g>
<g transform="translate(379.8 416.1) rotate(1.9)"><path d="M-3.1 -1.4 L-3.1 -5.9 L3.1 -5.9 L3.1 -1.4 A3.1 1.4 0 0 1 -3.1 -1.4 Z" fill="url(#gZn)"/><ellipse cx="0" cy="-5.9" rx="3.1" ry="1.4" fill="#6aa6cf"/></g>
<g transform="translate(226.8 417.1) rotate(-4.5)"><path d="M-3.1 -1.4 L-3.1 -10.2 L3.1 -10.2 L3.1 -1.4 A3.1 1.4 0 0 1 -3.1 -1.4 Z" fill="url(#gZn)"/><ellipse cx="0" cy="-10.2" rx="3.1" ry="1.4" fill="#6aa6cf"/></g>
<g transform="translate(335 434) rotate(1.8)"><path d="M-3.2 -1.5 L-3.5 -67 L3.5 -67 L3.2 -1.5 A3.2 1.5 0 0 1 -3.2 -1.5 Z" fill="url(#gZn)"/><ellipse cx="0" cy="-67" rx="3.5" ry="1.6" fill="#6aa6cf"/></g>
<g transform="translate(247.3 444) rotate(-3)"><path d="M-3.3 -1.5 L-3.4 -7.6 L3.4 -7.6 L3.3 -1.5 A3.3 1.5 0 0 1 -3.3 -1.5 Z" fill="url(#gZn)"/><ellipse cx="0" cy="-7.6" rx="3.4" ry="1.5" fill="#6aa6cf"/></g>
<g transform="translate(124.2 463) rotate(-11.5)"><path d="M-3.5 -1.6 L-3.7 -37.1 L3.7 -37.1 L3.5 -1.6 A3.5 1.6 0 0 1 -3.5 -1.6 Z" fill="url(#gZn)"/><ellipse cx="0" cy="-37.1" rx="3.8" ry="1.7" fill="#6aa6cf" transform="rotate(6.3 0 -37.1)"/></g>
<g transform="translate(380.9 467.3) rotate(2.9)"><path d="M-3.6 -1.6 L-3.6 -13.7 L3.6 -13.7 L3.6 -1.6 A3.6 1.6 0 0 1 -3.6 -1.6 Z" fill="url(#gZn)"/><ellipse cx="0" cy="-13.7" rx="3.6" ry="1.6" fill="#6aa6cf"/></g>
<g transform="translate(371.3 471.1) rotate(3.3)"><path d="M-3.6 -1.6 L-3.7 -24 L3.7 -24 L3.6 -1.6 A3.6 1.6 0 0 1 -3.6 -1.6 Z" fill="url(#gZn)"/><ellipse cx="0" cy="-24" rx="3.7" ry="1.7" fill="#6aa6cf"/></g>
<g transform="translate(135.5 471.7) rotate(-11.3)"><path d="M-3.6 -1.6 L-3.9 -66.6 L3.9 -66.6 L3.6 -1.6 A3.6 1.6 0 0 1 -3.6 -1.6 Z" fill="url(#gZn)"/><ellipse cx="0" cy="-66.6" rx="4" ry="1.8" fill="#6aa6cf" transform="rotate(6.2 0 -66.6)"/></g>
<g transform="translate(351.3 472.9) rotate(0)"><path d="M-3.6 -1.6 L-3.6 -6.1 L3.6 -6.1 L3.6 -1.6 A3.6 1.6 0 0 1 -3.6 -1.6 Z" fill="url(#gZn)"/><ellipse cx="0" cy="-6.1" rx="3.6" ry="1.6" fill="#6aa6cf"/></g>
<g transform="translate(143.8 475.1) rotate(-10.7)"><path d="M-3.6 -1.6 L-3.9 -68.3 L3.9 -68.3 L3.6 -1.6 A3.6 1.6 0 0 1 -3.6 -1.6 Z" fill="url(#gZn)"/><ellipse cx="0" cy="-68.3" rx="4" ry="1.8" fill="#6aa6cf" transform="rotate(5.9 0 -68.3)"/></g>
<g transform="translate(231.3 477.3) rotate(-4.2)"><path d="M-3.7 -1.6 L-3.7 -15.1 L3.7 -15.1 L3.7 -1.6 A3.7 1.6 0 0 1 -3.7 -1.6 Z" fill="url(#gZn)"/><ellipse cx="0" cy="-15.1" rx="3.7" ry="1.7" fill="#6aa6cf"/></g>
<g transform="translate(443 478.8) rotate(7.1)"><path d="M-3.7 -1.7 L-3.8 -23.6 L3.8 -23.6 L3.7 -1.7 A3.7 1.7 0 0 1 -3.7 -1.7 Z" fill="url(#gZn)"/><ellipse cx="0" cy="-23.6" rx="3.8" ry="1.7" fill="#6aa6cf"/></g>
<g transform="translate(252.1 479.5) rotate(-2.7)"><path d="M-3.7 -1.7 L-3.8 -16.7 L3.8 -16.7 L3.7 -1.7 A3.7 1.7 0 0 1 -3.7 -1.7 Z" fill="url(#gZn)"/><ellipse cx="0" cy="-16.7" rx="3.8" ry="1.7" fill="#6aa6cf"/></g>
<g transform="translate(472.2 479.5) rotate(9.1)"><path d="M-3.7 -1.7 L-3.8 -17.1 L3.8 -17.1 L3.7 -1.7 A3.7 1.7 0 0 1 -3.7 -1.7 Z" fill="url(#gZn)"/><ellipse cx="0" cy="-17.1" rx="3.8" ry="1.7" fill="#6aa6cf" transform="rotate(-5 0 -17.1)"/></g>
<g transform="translate(408.4 480.1) rotate(6.3)"><path d="M-3.7 -1.7 L-3.8 -27.3 L3.8 -27.3 L3.7 -1.7 A3.7 1.7 0 0 1 -3.7 -1.7 Z" fill="url(#gZn)"/><ellipse cx="0" cy="-27.3" rx="3.8" ry="1.7" fill="#6aa6cf"/></g>
<g transform="translate(293.7 484.2) rotate(-1.5)"><path d="M-3.7 -1.7 L-3.8 -11.2 L3.8 -11.2 L3.7 -1.7 A3.7 1.7 0 0 1 -3.7 -1.7 Z" fill="url(#gZn)"/><ellipse cx="0" cy="-11.2" rx="3.8" ry="1.7" fill="#6aa6cf"/></g>
<g transform="translate(287 490.7) rotate(-2)"><path d="M-3.8 -1.7 L-3.9 -16.9 L3.9 -16.9 L3.8 -1.7 A3.8 1.7 0 0 1 -3.8 -1.7 Z" fill="url(#gZn)"/><ellipse cx="0" cy="-16.9" rx="3.9" ry="1.7" fill="#6aa6cf"/></g>
<g transform="translate(382.8 494.2) rotate(2.6)"><path d="M-3.8 -1.7 L-3.9 -19.6 L3.9 -19.6 L3.8 -1.7 A3.8 1.7 0 0 1 -3.8 -1.7 Z" fill="url(#gZn)"/><ellipse cx="0" cy="-19.6" rx="3.9" ry="1.8" fill="#6aa6cf"/></g>
<g transform="translate(340.2 499.7) rotate(2.1)"><path d="M-3.9 -1.7 L-4.1 -47.4 L4.1 -47.4 L3.9 -1.7 A3.9 1.7 0 0 1 -3.9 -1.7 Z" fill="url(#gZn)"/><ellipse cx="0" cy="-47.4" rx="4.1" ry="1.8" fill="#6aa6cf"/></g>
<g transform="translate(211 505.5) rotate(-6)"><path d="M-3.9 -1.8 L-4.1 -24.8 L4.1 -24.8 L3.9 -1.8 A3.9 1.8 0 0 1 -3.9 -1.8 Z" fill="url(#gZn)"/><ellipse cx="0" cy="-24.8" rx="4.1" ry="1.8" fill="#6aa6cf"/></g>
<g transform="translate(391.1 506.1) rotate(-5.4)"><path d="M-4 -1.8 L-4 -3.2 L4 -3.2 L4 -1.8 A4 1.8 0 0 1 -4 -1.8 Z" fill="url(#gZn)"/><ellipse cx="0" cy="-3.2" rx="4" ry="1.8" fill="#6aa6cf"/></g>
<g transform="translate(84.5 507.9) rotate(-17)"><path d="M-4 -1.8 L-4.2 -48.1 L4.2 -48.1 L4 -1.8 A4 1.8 0 0 1 -4 -1.8 Z" fill="url(#gZn)"/><ellipse cx="0" cy="-48.1" rx="4.3" ry="1.9" fill="#6aa6cf" transform="rotate(9.4 0 -48.1)"/></g>
<g transform="translate(126.8 508) rotate(-12.7)"><path d="M-4 -1.8 L-4.6 -127.3 L4.6 -127.3 L4 -1.8 A4 1.8 0 0 1 -4 -1.8 Z" fill="url(#gZn)"/><ellipse cx="0" cy="-127.3" rx="4.7" ry="2.1" fill="#6aa6cf" transform="rotate(7 0 -127.3)"/></g>
<g transform="translate(78.8 511.9) rotate(-16.6)"><path d="M-4.6 -2.1 L-5.2 -250.3 L5.2 -250.3 L4.6 -2.1 A4.6 2.1 0 0 1 -4.6 -2.1 Z" fill="url(#gZn)"/><ellipse cx="0" cy="-250.3" rx="5.3" ry="2.3" fill="#6aa6cf" transform="rotate(9.1 0 -250.3)"/></g>
<g transform="translate(285.7 517.4) rotate(-1.6)"><path d="M-4.1 -1.8 L-4.2 -25.8 L4.2 -25.8 L4.1 -1.8 A4.1 1.8 0 0 1 -4.1 -1.8 Z" fill="url(#gZn)"/><ellipse cx="0" cy="-25.8" rx="4.2" ry="1.9" fill="#6aa6cf"/></g>
<g transform="translate(157.9 524.2) rotate(-10.3)"><path d="M-4.1 -1.9 L-4.4 -55.6 L4.4 -55.6 L4.1 -1.9 A4.1 1.9 0 0 1 -4.1 -1.9 Z" fill="url(#gZn)"/><ellipse cx="0" cy="-55.6" rx="4.5" ry="2" fill="#6aa6cf" transform="rotate(5.6 0 -55.6)"/></g>
<g transform="translate(84.2 525.7) rotate(-12.4)"><path d="M-4.1 -1.9 L-4.3 -22.7 L4.3 -22.7 L4.1 -1.9 A4.1 1.9 0 0 1 -4.1 -1.9 Z" fill="url(#gZn)"/><ellipse cx="0" cy="-22.7" rx="4.3" ry="1.9" fill="#6aa6cf" transform="rotate(6.8 0 -22.7)"/></g>
<g transform="translate(259.7 531) rotate(-3.6)"><path d="M-4.2 -1.9 L-4.2 -9.5 L4.2 -9.5 L4.2 -1.9 A4.2 1.9 0 0 1 -4.2 -1.9 Z" fill="url(#gZn)"/><ellipse cx="0" cy="-9.5" rx="4.2" ry="1.9" fill="#6aa6cf"/></g>
<g transform="translate(172.2 536.9) rotate(-9.7)"><path d="M-4.3 -1.9 L-4.8 -104.8 L4.8 -104.8 L4.3 -1.9 A4.3 1.9 0 0 1 -4.3 -1.9 Z" fill="url(#gZn)"/><ellipse cx="0" cy="-104.8" rx="4.9" ry="2.2" fill="#6aa6cf" transform="rotate(5.3 0 -104.8)"/></g>
<path d="M8 325.3 C11.5 320.8 14.5 317.6 17.8 317.6 C22 317.6 23.5 324.5 28.6 324.5 C32.5 324.5 35.5 321.3 38.2 317.3 L38.6 324.8 C35.9 328.8 32.9 332 29 332 C23.9 332 22.4 325.1 18.2 325.1 C14.9 325.1 11.9 328.3 8.4 332.8 Z" fill="#fff"/><path d="M8 325.3 C11.5 320.8 14.5 317.6 17.8 317.6 C22 317.6 23.5 324.5 28.6 324.5 C32.5 324.5 35.5 321.3 38.2 317.3" stroke="#000" stroke-width="1.7" fill="none" stroke-linecap="butt"/><path d="M8.4 332.8 C11.9 328.3 14.9 325.1 18.2 325.1 C22.4 325.1 23.9 332 29 332 C32.9 332 35.9 328.8 38.6 324.8" stroke="#000" stroke-width="1.7" fill="none" stroke-linecap="butt"/>
<g transform="translate(448.2 373.2) rotate(8.4)"><path d="M-2.7 -1.2 L-2.7 -31.4 L2.7 -31.4 L2.7 -1.2 A2.7 1.2 0 0 1 -2.7 -1.2 Z" fill="url(#gZn)"/><ellipse cx="0" cy="-31.4" rx="2.8" ry="1.2" fill="#6aa6cf" transform="rotate(-4.6 0 -31.4)"/></g>
<text x="429.7" y="325.6" font-size="37.5" class="t">Zn</text>
<text x="462" y="369.4" font-size="30.2" class="t">2000 counts</text>
</g>
<g id="panel-Pb">
<clipPath id="c535"><polygon points="34.2,721.2 370.4,640 502.1,749.9 71.4,898.3"/></clipPath><path clip-path="url(#c535)" d="M71.3 868.4L76.4 893.4L96.5 885.3L103.7 863.2M71.3 868.4L97.3 860.8M83.6 864.8L89.2 888.9M66.8 847.6L78 844.4L90.8 841.1L102.1 836.8L114.9 832.8M78 844.4L79.3 864.8M86.8 820.8L88.4 840L91.6 841.6L89.2 866.4L96.5 866.1L100.5 872.9M76.4 812.3L82.8 816.8L82.8 820.8L86.8 820.8M76.4 812.3L97.3 809.6L113.3 808M111.7 810.4L114.1 828.8L114.9 840L113.3 852L105.3 860L100.5 876.1L110.1 876.1L119.7 878.5M114.1 828.8L154.9 828L170.9 826.4L173.3 818.4L153.3 817.6L154.9 813.6M101.3 836.8L104.5 848.8L110.1 852M118.9 853.6L112.5 876.1M114.9 852L138.9 846.4L154.9 837.6L180.5 826.4L206.1 818.4M142.1 857.6L166.1 845.6L180.5 840L179.7 844L169.3 852L145.3 867.7M166.1 845.6L170.1 852M97.3 809.6L142.1 808L166.1 812L190.1 819.2L206.1 823.2L230 824.8M174.1 805.6L186.9 815.2L198.1 821.6L230 826.4M182.1 810.4L199.7 805.6M187.7 815.2L217.3 808M206.1 809.6L219 807.2L222.2 823.2M186.1 820.8L186.1 826.4L182.1 831.2L166.1 844M36.4 722.7L51.6 721.6M49.2 740L73.2 736.8L94.1 730.4L108.5 728L113.3 733.6L119.7 732M108.5 728L106.9 738.4L103.7 744.8L100.5 741.6L82.8 738.4L73.2 736.8M45.2 747.2L47.6 759.3L57.2 756.1L62 748L71.6 749.7M47.6 759.3L50 778.5L54 791.3L57.2 799.3L82.8 788.1L119.7 775.3M54 780.1L70 775.3L82.8 772.1M84.4 772.1L100.5 768.9L102.1 773.7M78 756.1L89.2 754.5L90.8 760.9L85.2 762.5L86 768.9M100.5 741.6L105.3 752.9L108.5 754.5M126.1 759.3L133.3 759.6M140.5 703.2L148.5 704L154.9 706.4L174.1 700L190.1 696.8L206.1 692L230 687.2M142.1 706.4L151.7 717.6L158.1 716L180.5 712L198.1 708M148.5 704L146.9 728.8L145.3 738.4M154.9 717.6L153.3 733.6M167.7 720.8L166.1 733.6M180.5 703.2L179.7 717.6L178.1 746.4L177.3 772.1L182.1 796.1M190.1 703.2L183.7 749.7L180.5 775.3M207.7 725.6L202.9 749.7L198.1 775.3L196.5 788.1M212.5 696.8L210.9 717.6L206.1 738.4M158.1 716L169.3 708L178.9 711.2M145.3 738.4L174.1 741.6L190.1 745.6L230 744.8M169.3 748.9L161.3 752.9L160.5 764.1L151.7 756.1M134.1 775.3L148.5 781.7L158.1 794.5L170.9 805.7L183.7 815.3L206.1 823.3L230 824.9M140.5 776.9L154.9 788.1L166.1 800.9M137.3 793.7L151.7 796.1L162.9 796.1M169.3 775.3L177.3 777.7L180.5 784.9L174.1 791.3M178.9 772.9L204.5 770.5L230 765.7M188.5 804.9L206.1 800.9L230 796.1M183.7 810.5L230 802.5M76.4 812.1L97.3 809.7L142.1 807.3L166.1 812.1L190.1 818.5L230 821.7M76.4 812.1L82.8 816.1L82.8 820.1L87.6 820.1L88.4 835.6M111.7 810.5L113.3 835.6M97.3 809.7L95.7 818.5M153.3 807.3L154.9 818.5L172.5 817.7L170.9 829.7M200 818.9L212.8 822.9L232 824.5L252.8 822.1L268.9 817.3L289.7 808.5L302.5 806.1L318.5 809.3M200 812.5L224 804.5L254.4 798L283.3 788.4L312.1 783.6L344.1 778.8L376.1 772.4M200 804.5L216 799.7L240 791.6L248 793.2L252.8 798M216 774L214.4 799.7M233.6 743.6L232 796.4M217.6 808.5L220.8 822.9M238.4 802.9L246.4 827.7L244 831.7M264.1 830.1L296.1 818.9L318.5 811.7M280.1 799.7L289.7 822.1M283.3 786.8L288.1 798L286.5 809.3L283.3 812.5M288.1 798L299.3 798.9L302.5 802.9L312.1 803.7M304.1 788.4L318.5 791.6L326.5 788.4L332.9 806.1M315.3 802.9L316.9 796.4L326.5 790L337.7 785.2L360.1 781.2M200 772.4L216 770.8L236.8 766L260.8 759.6L280.1 754.8M240 746.8L241.6 766M252.8 751.6L260.8 759.6M262.4 769.2L264.1 780.4L280.1 777.2M264.1 786.8L272.1 786.8M260.8 775.6L280.1 770M289.7 778.8L312.1 774L336.1 767.6L360.1 759.6L376.1 754.8M289.7 761.2L302.5 759.6L328.1 762.8L337.7 767.6M299.3 748.4L297.7 777.2M310.5 762.8L312.1 783.6M318.5 764.4L319.3 774M340.9 767.6L353.7 766L369.7 761.2L371.3 766L382.5 778.8M353.7 766L361.7 778.8M366.5 764.4L374.5 777.2M344.1 743.6L360.1 751.6L368.1 754.8M358.5 745.2L359.3 751.6M200 748.4L219.2 743.6L240 738.8M254.4 746.8L280.1 740.4M296.1 743.6L328.1 740.4L344.1 735.6M339.3 772.4L344.1 783.6M200 696.1L216 691.3L236.8 686.4L252.8 678.4L264.1 673.6L273.7 676.8M203.2 689.7L214.4 686.4L216 691.3M204.8 700.9L206.4 721.7M216 697.7L215.2 715.3L220.8 744.1M230.4 681.6L232 705.7L238.4 721.7M252.8 678.4L256 676.8L257.6 678.4M259.2 668.8L276.9 673.6L289.7 678.4L292.9 689.7L299.3 696.1L312.1 697.7M264.1 686.4L267.3 700.9L275.3 724.9M249.6 704.1L280.1 697.7L308.9 692.9M251.2 715.3L283.3 707.3L312.1 700.9L328.1 697.7M254.4 724.9L286.5 716.9L302.5 713.7M257.6 731.3L283.3 725.7M308.9 700.9L296.1 718.5L289.7 728.1M296.1 660L324.9 653.6L336.1 654.4L345.7 660L324.9 665.6L302.5 670.4M296.1 660L315.3 678.4M302.5 670.4L305.7 672L331.3 665.6M324.9 653.6L323.3 659.2L302.5 664.8M336.1 654.4L360.1 656L369.7 660.8L389 665.6L390.6 667.2M345.7 660L368.1 665.6L384.1 672M312.1 686.4L337.7 680L360.1 673.6L374.5 672M337.7 692.9L350.5 699.3L368.1 694.5L384.1 691.3L400 692.9M366.5 664L376.1 686.4L384.1 705.7M384.1 678.4L400 681.6M380.9 692.9L400 697.7M312.1 697.7L328.1 708.9L344.1 715.3L360.1 721.7M302.5 721.7L344.1 712.1L376.1 705.7M304.1 729.7L320.1 728.1L334.5 731.3L332.9 736.1L318.5 737.7M296.1 740.9L328.1 734.5L360.1 728.1L400 720.1M299.3 748.9L331.3 742.5L360.1 737.7M200 721.7L224 715.3M200 740.9L220.8 744.1L248 737.7L280.1 729.7M200 748.9L224 750.5L244.8 747.3M240 745.7L241.6 766.5M259.2 737.7L262.4 753.7L275.3 750.5M267.3 744.1L286.5 747.3M340.9 737.7L344.1 753.7L360.1 750.5L376.1 747.3M358.5 747.3L359.3 752.1M302.5 758.5L328.1 753.7L344.1 758.5L376.1 753.7L400 747.3M376.1 721.7L400 715.3M352.1 728.1L400 721.7M350 656.4L366 659.6L364.4 663.6L370.8 672.4L350 675.6M350 667.6L366 666M380.4 664.4L391.6 666L388.4 670L402.8 675.6L422.1 685.2L423.7 686.8M378.8 685.2L398 683.6L417.3 688.4L426.9 691.6M378.8 685.2L383.6 696.4L383.6 702.9L378.8 707.7M386.8 690L402.8 688.4L414.1 690M386.8 694.8L398 691.6L410.8 692.4M350 699.7L366 694.8L378.8 693.2M417.3 693.2L425.3 702.9M420.5 693.2L423.7 698M350 710.9L366 706.1M391.6 717.3L414.1 720.5L433.3 722.1L449.3 715.7L454.1 712.5M415.7 726.1L420.5 726.9M414.1 731.7L430.1 738.1L439.7 742.9L454.1 744.5L470.1 744.5L479.7 741.3M398 738.1L417.3 739.7L438.1 742.9M410.8 746.1L439.7 742.9M428.5 726.9L438.1 739.7M439.7 746.1L449.3 754.1L458.9 754.1L455.7 760.5L452.5 763.7M444.5 744.5L454.1 747.7L458.9 754.1M406 747.7L409.2 760.5M386.8 731.7L402.8 734.9L414.1 731.7M350 747.7L362.8 744.5L375.6 747.7M350 757.3L366 754.1L378.8 757.3M350 766.9L359.6 763.7L366 776.5L350 782.9M366 763.7L382 773.3L378.8 778.1M359.6 747.7L361.2 757.3M369.2 760.5L370.8 752.5M350 774.9L358 773.3L361.2 779.7M382 776.5L388.4 774.9M353.2 725.3L366 731.7L375.6 739.7M350 734.9L364.4 739.7M338.6 728.9L348.2 739.7M279.8 763.6L261.1 769.7L252.1 773.2M171.8 761.2L150.6 766.5M175.5 707.4L153.8 712.1L142.2 713.1M174.5 705.5L180.9 703.5M197.5 735.8L218.1 730.7M126.3 707.4L126.7 700.1L115.1 702.9M394.8 727.4L386.2 721.8M394.8 689.6L380.3 692.4L370.1 693.9M349.6 749.9L357.1 758.2L361.1 762.3L372.3 775.4M387.2 741.9L381.5 733.9M398.1 678.9L405.4 683L407 687.5L418.3 694.3L425.5 699.5M373.1 713L384.2 723.4L403.3 717.1L405 722.7M301.3 744.2L311.9 740L322.1 735.6L340.6 729.1M293.5 716L297.4 726.3L306.7 736.1L317 745.4L325.3 755.2M303.3 680.1L310.6 690.7M285.5 720.4L276.4 723M220.4 722.2L215.3 714.3L203.8 715.2L199.9 709.3M266.9 727.5L283 725.4L293.5 721.8M289.4 676L294.5 681.7L300.4 686.9L308.3 697L313.8 704M273.7 782.6L264.8 784.5L255.2 771.9L251.5 768.4L243.5 756.3M237.4 741.3L230 730.8M233.2 732.8L228.1 735.4L211 741.2M291.5 751.6L299.4 759.7L309.5 770.9L313.9 778.5L332.5 771.1M214.6 697.4L209.6 691.5L207.6 688.6L201 689.6M236.7 720L229.6 722.8L222.7 725.6L199.9 731.5L195.6 727M348.7 726.5L360.3 737.7M311.5 706.5L296.1 711.4M320.7 705.8L324 709.1L344.9 704.9M372.4 685.8L378 684.1M291.1 685.2L274.2 689.3L268.3 681L262.4 673.4M230.1 700.6L234 706.6L248.8 701.9L261.2 701.2M174.5 697.2L161.3 701L144.6 704.7M435.4 723.1L421.6 728.3L410.7 716.9M295.3 664.5L312.3 659.8L324.5 655.2L331.9 661.8M350.9 723.8L334.3 727M308 675.5L291.3 678.7L289.5 674.3L286.1 669.8L280.9 664.4M402.1 722.2L389.9 711.5M355.6 651.6L351 653.1L334.6 656.5L327.3 657.9L321.9 654.6M313.9 700.4L298.3 705.3L280.1 709.9L276.9 706.1L269.8 696.4M161.5 702.3L151.2 704.2L132.1 709L111.6 715.3L92.2 720.8M259.9 780.3L239.9 786.2L225.8 789.7M147.6 714.8L146.2 711.3L139.2 712L138.8 705.5M208.2 727.7L191.6 730.5M312.3 666L326.7 661.7L332.7 667M287 679.6L295.1 689.7L300 695.8M312.7 755.4L300.7 757.3L288.5 760.8L267.6 765.9M274 701.2L266.4 701.6L249.2 705.8L232.9 712L219.6 715.1M304.1 668.8L299.7 664.3L290.3 666.1L280.4 669L264.6 673.9M320.6 741.7L324.7 748.3L341.8 741.5M300.6 771.8L295.5 768.2L272.2 775.1M402.3 694.2L395 697.1M289.9 701.7L270.3 706.3L262.8 698M330.7 688.7L348.2 685.8L355.6 691.2L368.7 686.6M291.4 702.8L302.4 699.3L310.6 709.8" stroke="#62cad2" stroke-opacity="0.85" stroke-width="0.5" fill="none" stroke-linejoin="round"/>
<path d="M62.5 714.4L110.1 885M105.2 704.1L167.5 865.2M145.8 694.2L221.3 846.7M184.7 684.9L271.8 829.3M221.8 675.9L319.3 812.9M257.3 667.3L364 797.5M291.4 659.1L406.3 782.9M324 651.2L446.3 769.1M355.4 643.6L484.2 756.1M38.2 740.4L385.6 652.7M43.7 766.2L405.7 669.5M49.7 795.1L427.6 687.8M56.6 827.7L451.8 707.9M64.3 864.7L478.5 730.2" stroke="#555" stroke-width="0.7" fill="none"/>
<polygon points="34.2,721.2 370.4,640 502.1,749.9 71.4,898.3" stroke="#555" stroke-width="0.7" fill="none"/>
<g transform="translate(290.1 676.3) rotate(0)"><path d="M-3 -1.3 L-3 -2.9 L3 -2.9 L3 -1.3 A3 1.3 0 0 1 -3 -1.3 Z" fill="url(#gPb)"/><ellipse cx="0" cy="-2.9" rx="3" ry="1.3" fill="#a552cc"/></g>
<g transform="translate(378 682.8) rotate(3.9)"><path d="M-3.1 -1.4 L-3.2 -29.4 L3.2 -29.4 L3.1 -1.4 A3.1 1.4 0 0 1 -3.1 -1.4 Z" fill="url(#gPb)"/><ellipse cx="0" cy="-29.4" rx="3.2" ry="1.4" fill="#a552cc"/></g>
<g transform="translate(225 683.8) rotate(-5.7)"><path d="M-3.1 -1.4 L-3.1 -5 L3.1 -5 L3.1 -1.4 A3.1 1.4 0 0 1 -3.1 -1.4 Z" fill="url(#gPb)"/><ellipse cx="0" cy="-5" rx="3.1" ry="1.4" fill="#a552cc"/></g>
<g transform="translate(333.2 700.7) rotate(2.5)"><path d="M-3.2 -1.5 L-3.3 -25.4 L3.3 -25.4 L3.2 -1.5 A3.2 1.5 0 0 1 -3.2 -1.5 Z" fill="url(#gPb)"/><ellipse cx="0" cy="-25.4" rx="3.3" ry="1.5" fill="#a552cc"/></g>
<g transform="translate(245.5 710.7) rotate(-3.7)"><path d="M-3.3 -1.5 L-3.6 -59.8 L3.6 -59.8 L3.3 -1.5 A3.3 1.5 0 0 1 -3.3 -1.5 Z" fill="url(#gPb)"/><ellipse cx="0" cy="-59.8" rx="3.6" ry="1.6" fill="#a552cc"/></g>
<g transform="translate(122.4 729.7) rotate(-11.6)"><path d="M-3.5 -1.6 L-3.7 -43.7 L3.7 -43.7 L3.5 -1.6 A3.5 1.6 0 0 1 -3.5 -1.6 Z" fill="url(#gPb)"/><ellipse cx="0" cy="-43.7" rx="3.8" ry="1.7" fill="#a552cc" transform="rotate(6.4 0 -43.7)"/></g>
<g transform="translate(379.1 734) rotate(-13.4)"><path d="M-3.6 -1.6 L-3.6 -2.9 L3.6 -2.9 L3.6 -1.6 A3.6 1.6 0 0 1 -3.6 -1.6 Z" fill="url(#gPb)"/><ellipse cx="0" cy="-2.9" rx="3.6" ry="1.6" fill="#a552cc" transform="rotate(7.4 0 -2.9)"/></g>
<g transform="translate(369.5 737.8) rotate(2)"><path d="M-3.6 -1.6 L-3.7 -14.3 L3.7 -14.3 L3.6 -1.6 A3.6 1.6 0 0 1 -3.6 -1.6 Z" fill="url(#gPb)"/><ellipse cx="0" cy="-14.3" rx="3.7" ry="1.6" fill="#a552cc"/></g>
<g transform="translate(133.7 738.4) rotate(-11.1)"><path d="M-3.6 -1.6 L-3.8 -54.1 L3.8 -54.1 L3.6 -1.6 A3.6 1.6 0 0 1 -3.6 -1.6 Z" fill="url(#gPb)"/><ellipse cx="0" cy="-54.1" rx="3.9" ry="1.7" fill="#a552cc" transform="rotate(6.1 0 -54.1)"/></g>
<g transform="translate(349.5 739.6) rotate(2.7)"><path d="M-3.6 -1.6 L-3.7 -23 L3.7 -23 L3.6 -1.6 A3.6 1.6 0 0 1 -3.6 -1.6 Z" fill="url(#gPb)"/><ellipse cx="0" cy="-23" rx="3.7" ry="1.7" fill="#a552cc"/></g>
<g transform="translate(142 741.8) rotate(-10.3)"><path d="M-3.6 -1.6 L-3.9 -54.5 L3.9 -54.5 L3.6 -1.6 A3.6 1.6 0 0 1 -3.6 -1.6 Z" fill="url(#gPb)"/><ellipse cx="0" cy="-54.5" rx="4" ry="1.7" fill="#a552cc" transform="rotate(5.6 0 -54.5)"/></g>
<g transform="translate(229.5 744) rotate(-4.1)"><path d="M-3.7 -1.6 L-3.7 -15.2 L3.7 -15.2 L3.7 -1.6 A3.7 1.6 0 0 1 -3.7 -1.6 Z" fill="url(#gPb)"/><ellipse cx="0" cy="-15.2" rx="3.7" ry="1.7" fill="#a552cc"/></g>
<g transform="translate(441.2 745.5) rotate(8.5)"><path d="M-3.7 -1.7 L-3.8 -37.4 L3.8 -37.4 L3.7 -1.7 A3.7 1.7 0 0 1 -3.7 -1.7 Z" fill="url(#gPb)"/><ellipse cx="0" cy="-37.4" rx="3.9" ry="1.7" fill="#a552cc" transform="rotate(-4.7 0 -37.4)"/></g>
<g transform="translate(250.3 746.2) rotate(0)"><path d="M-3.7 -1.7 L-3.7 -3 L3.7 -3 L3.7 -1.7 A3.7 1.7 0 0 1 -3.7 -1.7 Z" fill="url(#gPb)"/><ellipse cx="0" cy="-3" rx="3.7" ry="1.7" fill="#a552cc"/></g>
<g transform="translate(470.4 746.2) rotate(9.5)"><path d="M-3.7 -1.7 L-3.8 -23.7 L3.8 -23.7 L3.7 -1.7 A3.7 1.7 0 0 1 -3.7 -1.7 Z" fill="url(#gPb)"/><ellipse cx="0" cy="-23.7" rx="3.9" ry="1.7" fill="#a552cc" transform="rotate(-5.2 0 -23.7)"/></g>
<g transform="translate(406.6 746.8) rotate(4.6)"><path d="M-3.7 -1.7 L-3.7 -11.1 L3.7 -11.1 L3.7 -1.7 A3.7 1.7 0 0 1 -3.7 -1.7 Z" fill="url(#gPb)"/><ellipse cx="0" cy="-11.1" rx="3.7" ry="1.7" fill="#a552cc"/></g>
<g transform="translate(291.9 750.9) rotate(-0.7)"><path d="M-3.7 -1.7 L-3.9 -40.8 L3.9 -40.8 L3.7 -1.7 A3.7 1.7 0 0 1 -3.7 -1.7 Z" fill="url(#gPb)"/><ellipse cx="0" cy="-40.8" rx="3.9" ry="1.8" fill="#a552cc"/></g>
<g transform="translate(285.2 757.4) rotate(-0.8)"><path d="M-3.8 -1.7 L-3.9 -21.4 L3.9 -21.4 L3.8 -1.7 A3.8 1.7 0 0 1 -3.8 -1.7 Z" fill="url(#gPb)"/><ellipse cx="0" cy="-21.4" rx="3.9" ry="1.8" fill="#a552cc"/></g>
<g transform="translate(381 760.9) rotate(4.7)"><path d="M-3.8 -1.7 L-4.1 -47.3 L4.1 -47.3 L3.8 -1.7 A3.8 1.7 0 0 1 -3.8 -1.7 Z" fill="url(#gPb)"/><ellipse cx="0" cy="-47.3" rx="4.1" ry="1.8" fill="#a552cc"/></g>
<ellipse cx="338.5" cy="765.1" rx="3.6" ry="2" fill="#4a1a78"/>
<g transform="translate(209.2 772.2) rotate(-4.1)"><path d="M-3.9 -1.8 L-4 -3.1 L4 -3.1 L3.9 -1.8 A3.9 1.8 0 0 1 -3.9 -1.8 Z" fill="url(#gPb)"/><ellipse cx="0" cy="-3.1" rx="4" ry="1.8" fill="#a552cc"/></g>
<g transform="translate(389.3 772.8) rotate(5.6)"><path d="M-4 -1.8 L-4.1 -37.8 L4.1 -37.8 L4 -1.8 A4 1.8 0 0 1 -4 -1.8 Z" fill="url(#gPb)"/><ellipse cx="0" cy="-37.8" rx="4.1" ry="1.9" fill="#a552cc"/></g>
<g transform="translate(82.7 774.6) rotate(-16.1)"><path d="M-4 -1.8 L-4.1 -30 L4.1 -30 L4 -1.8 A4 1.8 0 0 1 -4 -1.8 Z" fill="url(#gPb)"/><ellipse cx="0" cy="-30" rx="4.2" ry="1.9" fill="#a552cc" transform="rotate(8.8 0 -30)"/></g>
<g transform="translate(125 774.7) rotate(-3.8)"><path d="M-4 -1.8 L-4 -6.1 L4 -6.1 L4 -1.8 A4 1.8 0 0 1 -4 -1.8 Z" fill="url(#gPb)"/><ellipse cx="0" cy="-6.1" rx="4" ry="1.8" fill="#a552cc"/></g>
<g transform="translate(77 778.6) rotate(-16.4)"><path d="M-4.6 -2.1 L-5.2 -250.9 L5.2 -250.9 L4.6 -2.1 A4.6 2.1 0 0 1 -4.6 -2.1 Z" fill="url(#gPb)"/><ellipse cx="0" cy="-250.9" rx="5.3" ry="2.3" fill="#a552cc" transform="rotate(9 0 -250.9)"/></g>
<g transform="translate(283.9 784.1) rotate(-1)"><path d="M-4.1 -1.8 L-4.2 -33.5 L4.2 -33.5 L4.1 -1.8 A4.1 1.8 0 0 1 -4.1 -1.8 Z" fill="url(#gPb)"/><ellipse cx="0" cy="-33.5" rx="4.2" ry="1.9" fill="#a552cc"/></g>
<g transform="translate(156.1 790.9) rotate(-9.6)"><path d="M-4.1 -1.9 L-4.3 -33.6 L4.3 -33.6 L4.1 -1.9 A4.1 1.9 0 0 1 -4.1 -1.9 Z" fill="url(#gPb)"/><ellipse cx="0" cy="-33.6" rx="4.4" ry="1.9" fill="#a552cc" transform="rotate(5.3 0 -33.6)"/></g>
<g transform="translate(82.4 792.4) rotate(-14.9)"><path d="M-4.1 -1.9 L-4.4 -49 L4.4 -49 L4.1 -1.9 A4.1 1.9 0 0 1 -4.1 -1.9 Z" fill="url(#gPb)"/><ellipse cx="0" cy="-49" rx="4.5" ry="2" fill="#a552cc" transform="rotate(8.2 0 -49)"/></g>
<g transform="translate(257.9 797.7) rotate(-3.1)"><path d="M-4.2 -1.9 L-4.4 -44.8 L4.4 -44.8 L4.2 -1.9 A4.2 1.9 0 0 1 -4.2 -1.9 Z" fill="url(#gPb)"/><ellipse cx="0" cy="-44.8" rx="4.4" ry="2" fill="#a552cc"/></g>
<g transform="translate(170.4 803.6) rotate(-7.9)"><path d="M-4.3 -1.9 L-4.4 -24.6 L4.4 -24.6 L4.3 -1.9 A4.3 1.9 0 0 1 -4.3 -1.9 Z" fill="url(#gPb)"/><ellipse cx="0" cy="-24.6" rx="4.4" ry="2" fill="#a552cc"/></g>
<path d="M7.8 592.3 C11.3 587.8 14.3 584.6 17.6 584.6 C21.8 584.6 23.3 591.5 28.4 591.5 C32.3 591.5 35.3 588.3 38 584.3 L38.4 591.8 C35.7 595.8 32.7 599 28.8 599 C23.7 599 22.2 592.1 18 592.1 C14.7 592.1 11.7 595.3 8.2 599.8 Z" fill="#fff"/><path d="M7.8 592.3 C11.3 587.8 14.3 584.6 17.6 584.6 C21.8 584.6 23.3 591.5 28.4 591.5 C32.3 591.5 35.3 588.3 38 584.3" stroke="#000" stroke-width="1.7" fill="none" stroke-linecap="butt"/><path d="M8.2 599.8 C11.7 595.3 14.7 592.1 18 592.1 C22.2 592.1 23.7 599 28.8 599 C32.7 599 35.7 595.8 38.4 591.8" stroke="#000" stroke-width="1.7" fill="none" stroke-linecap="butt"/>
<g transform="translate(446.6 639.1) rotate(9.1)"><path d="M-2.7 -1.2 L-2.7 -31.5 L2.7 -31.5 L2.7 -1.2 A2.7 1.2 0 0 1 -2.7 -1.2 Z" fill="url(#gPb)"/><ellipse cx="0" cy="-31.5" rx="2.8" ry="1.2" fill="#a552cc" transform="rotate(-5 0 -31.5)"/></g>
<text x="429.7" y="594.3" font-size="37.5" class="t">Pb</text>
<text x="462" y="633.9" font-size="30.2" class="t">200 counts</text>
</g>
<g id="panel-Cr">
<clipPath id="c4398"><polygon points="661.3,194.2 997.5,113 1129.2,222.9 698.5,371.3"/></clipPath><path clip-path="url(#c4398)" d="M698.4 341.4L703.5 366.4L723.6 358.3L730.8 336.2M698.4 341.4L724.4 333.8M710.7 337.8L716.3 361.9M693.9 320.6L705.1 317.4L717.9 314.1L729.2 309.8L742 305.8M705.1 317.4L706.4 337.8M713.9 293.8L715.5 313L718.7 314.6L716.3 339.4L723.6 339.1L727.6 345.9M703.5 285.3L709.9 289.8L709.9 293.8L713.9 293.8M703.5 285.3L724.4 282.6L740.4 281M738.8 283.4L741.2 301.8L742 313L740.4 325L732.4 333L727.6 349.1L737.2 349.1L746.8 351.5M741.2 301.8L782 301L798 299.4L800.4 291.4L780.4 290.6L782 286.6M728.4 309.8L731.6 321.8L737.2 325M746 326.6L739.6 349.1M742 325L766 319.4L782 310.6L807.6 299.4L833.2 291.4M769.2 330.6L793.2 318.6L807.6 313L806.8 317L796.4 325L772.4 340.7M793.2 318.6L797.2 325M724.4 282.6L769.2 281L793.2 285L817.2 292.2L833.2 296.2L857.1 297.8M801.2 278.6L814 288.2L825.2 294.6L857.1 299.4M809.2 283.4L826.8 278.6M814.8 288.2L844.4 281M833.2 282.6L846.1 280.2L849.3 296.2M813.2 293.8L813.2 299.4L809.2 304.2L793.2 317M663.5 195.7L678.7 194.6M676.3 213L700.3 209.8L721.2 203.4L735.6 201L740.4 206.6L746.8 205M735.6 201L734 211.4L730.8 217.8L727.6 214.6L709.9 211.4L700.3 209.8M672.3 220.2L674.7 232.3L684.3 229.1L689.1 221L698.7 222.7M674.7 232.3L677.1 251.5L681.1 264.3L684.3 272.3L709.9 261.1L746.8 248.3M681.1 253.1L697.1 248.3L709.9 245.1M711.5 245.1L727.6 241.9L729.2 246.7M705.1 229.1L716.3 227.5L717.9 233.9L712.3 235.5L713.1 241.9M727.6 214.6L732.4 225.9L735.6 227.5M753.2 232.3L760.4 232.6M767.6 176.2L775.6 177L782 179.4L801.2 173L817.2 169.8L833.2 165L857.1 160.2M769.2 179.4L778.8 190.6L785.2 189L807.6 185L825.2 181M775.6 177L774 201.8L772.4 211.4M782 190.6L780.4 206.6M794.8 193.8L793.2 206.6M807.6 176.2L806.8 190.6L805.2 219.4L804.4 245.1L809.2 269.1M817.2 176.2L810.8 222.7L807.6 248.3M834.8 198.6L830 222.7L825.2 248.3L823.6 261.1M839.6 169.8L838 190.6L833.2 211.4M785.2 189L796.4 181L806 184.2M772.4 211.4L801.2 214.6L817.2 218.6L857.1 217.8M796.4 221.9L788.4 225.9L787.6 237.1L778.8 229.1M761.2 248.3L775.6 254.7L785.2 267.5L798 278.7L810.8 288.3L833.2 296.3L857.1 297.9M767.6 249.9L782 261.1L793.2 273.9M764.4 266.7L778.8 269.1L790 269.1M796.4 248.3L804.4 250.7L807.6 257.9L801.2 264.3M806 245.9L831.6 243.5L857.1 238.7M815.6 277.9L833.2 273.9L857.1 269.1M810.8 283.5L857.1 275.5M703.5 285.1L724.4 282.7L769.2 280.3L793.2 285.1L817.2 291.5L857.1 294.7M703.5 285.1L709.9 289.1L709.9 293.1L714.7 293.1L715.5 308.6M738.8 283.5L740.4 308.6M724.4 282.7L722.8 291.5M780.4 280.3L782 291.5L799.6 290.7L798 302.7M827.1 291.9L839.9 295.9L859.1 297.5L879.9 295.1L896 290.3L916.8 281.5L929.6 279.1L945.6 282.3M827.1 285.5L851.1 277.5L881.5 271L910.4 261.4L939.2 256.6L971.2 251.8L1003.2 245.4M827.1 277.5L843.1 272.7L867.1 264.6L875.1 266.2L879.9 271M843.1 247L841.5 272.7M860.7 216.6L859.1 269.4M844.7 281.5L847.9 295.9M865.5 275.9L873.5 300.7L871.1 304.7M891.2 303.1L923.2 291.9L945.6 284.7M907.2 272.7L916.8 295.1M910.4 259.8L915.2 271L913.6 282.3L910.4 285.5M915.2 271L926.4 271.9L929.6 275.9L939.2 276.7M931.2 261.4L945.6 264.6L953.6 261.4L960 279.1M942.4 275.9L944 269.4L953.6 263L964.8 258.2L987.2 254.2M827.1 245.4L843.1 243.8L863.9 239L887.9 232.6L907.2 227.8M867.1 219.8L868.7 239M879.9 224.6L887.9 232.6M889.5 242.2L891.2 253.4L907.2 250.2M891.2 259.8L899.2 259.8M887.9 248.6L907.2 243M916.8 251.8L939.2 247L963.2 240.6L987.2 232.6L1003.2 227.8M916.8 234.2L929.6 232.6L955.2 235.8L964.8 240.6M926.4 221.4L924.8 250.2M937.6 235.8L939.2 256.6M945.6 237.4L946.4 247M968 240.6L980.8 239L996.8 234.2L998.4 239L1009.6 251.8M980.8 239L988.8 251.8M993.6 237.4L1001.6 250.2M971.2 216.6L987.2 224.6L995.2 227.8M985.6 218.2L986.4 224.6M827.1 221.4L846.3 216.6L867.1 211.8M881.5 219.8L907.2 213.4M923.2 216.6L955.2 213.4L971.2 208.6M966.4 245.4L971.2 256.6M827.1 169.1L843.1 164.3L863.9 159.4L879.9 151.4L891.2 146.6L900.8 149.8M830.3 162.7L841.5 159.4L843.1 164.3M831.9 173.9L833.5 194.7M843.1 170.7L842.3 188.3L847.9 217.1M857.5 154.6L859.1 178.7L865.5 194.7M879.9 151.4L883.1 149.8L884.7 151.4M886.3 141.8L904 146.6L916.8 151.4L920 162.7L926.4 169.1L939.2 170.7M891.2 159.4L894.4 173.9L902.4 197.9M876.7 177.1L907.2 170.7L936 165.9M878.3 188.3L910.4 180.3L939.2 173.9L955.2 170.7M881.5 197.9L913.6 189.9L929.6 186.7M884.7 204.3L910.4 198.7M936 173.9L923.2 191.5L916.8 201.1M923.2 133L952 126.6L963.2 127.4L972.8 133L952 138.6L929.6 143.4M923.2 133L942.4 151.4M929.6 143.4L932.8 145L958.4 138.6M952 126.6L950.4 132.2L929.6 137.8M963.2 127.4L987.2 129L996.8 133.8L1016.1 138.6L1017.7 140.2M972.8 133L995.2 138.6L1011.2 145M939.2 159.4L964.8 153L987.2 146.6L1001.6 145M964.8 165.9L977.6 172.3L995.2 167.5L1011.2 164.3L1027.1 165.9M993.6 137L1003.2 159.4L1011.2 178.7M1011.2 151.4L1027.1 154.6M1008 165.9L1027.1 170.7M939.2 170.7L955.2 181.9L971.2 188.3L987.2 194.7M929.6 194.7L971.2 185.1L1003.2 178.7M931.2 202.7L947.2 201.1L961.6 204.3L960 209.1L945.6 210.7M923.2 213.9L955.2 207.5L987.2 201.1L1027.1 193.1M926.4 221.9L958.4 215.5L987.2 210.7M827.1 194.7L851.1 188.3M827.1 213.9L847.9 217.1L875.1 210.7L907.2 202.7M827.1 221.9L851.1 223.5L871.9 220.3M867.1 218.7L868.7 239.5M886.3 210.7L889.5 226.7L902.4 223.5M894.4 217.1L913.6 220.3M968 210.7L971.2 226.7L987.2 223.5L1003.2 220.3M985.6 220.3L986.4 225.1M929.6 231.5L955.2 226.7L971.2 231.5L1003.2 226.7L1027.1 220.3M1003.2 194.7L1027.1 188.3M979.2 201.1L1027.1 194.7M977.1 129.4L993.1 132.6L991.5 136.6L997.9 145.4L977.1 148.6M977.1 140.6L993.1 139M1007.5 137.4L1018.7 139L1015.5 143L1029.9 148.6L1049.2 158.2L1050.8 159.8M1005.9 158.2L1025.1 156.6L1044.4 161.4L1054 164.6M1005.9 158.2L1010.7 169.4L1010.7 175.9L1005.9 180.7M1013.9 163L1029.9 161.4L1041.2 163M1013.9 167.8L1025.1 164.6L1037.9 165.4M977.1 172.7L993.1 167.8L1005.9 166.2M1044.4 166.2L1052.4 175.9M1047.6 166.2L1050.8 171M977.1 183.9L993.1 179.1M1018.7 190.3L1041.2 193.5L1060.4 195.1L1076.4 188.7L1081.2 185.5M1042.8 199.1L1047.6 199.9M1041.2 204.7L1057.2 211.1L1066.8 215.9L1081.2 217.5L1097.2 217.5L1106.8 214.3M1025.1 211.1L1044.4 212.7L1065.2 215.9M1037.9 219.1L1066.8 215.9M1055.6 199.9L1065.2 212.7M1066.8 219.1L1076.4 227.1L1086 227.1L1082.8 233.5L1079.6 236.7M1071.6 217.5L1081.2 220.7L1086 227.1M1033.1 220.7L1036.3 233.5M1013.9 204.7L1029.9 207.9L1041.2 204.7M977.1 220.7L989.9 217.5L1002.7 220.7M977.1 230.3L993.1 227.1L1005.9 230.3M977.1 239.9L986.7 236.7L993.1 249.5L977.1 255.9M993.1 236.7L1009.1 246.3L1005.9 251.1M986.7 220.7L988.3 230.3M996.3 233.5L997.9 225.5M977.1 247.9L985.1 246.3L988.3 252.7M1009.1 249.5L1015.5 247.9M980.3 198.3L993.1 204.7L1002.7 212.7M977.1 207.9L991.5 212.7M965.7 201.9L975.3 212.7M906.9 236.6L888.2 242.7L879.2 246.2M798.9 234.2L777.7 239.5M802.6 180.4L780.9 185.1L769.3 186.1M801.6 178.5L808 176.5M824.6 208.8L845.2 203.7M753.4 180.4L753.8 173.1L742.2 175.9M1021.9 200.4L1013.3 194.8M1021.9 162.6L1007.4 165.4L997.2 166.9M976.7 222.9L984.2 231.2L988.2 235.3L999.4 248.4M1014.3 214.9L1008.6 206.9M1025.2 151.9L1032.5 156L1034.1 160.5L1045.4 167.3L1052.6 172.5M1000.2 186L1011.3 196.4L1030.4 190.1L1032.1 195.7M928.4 217.2L939 213L949.2 208.6L967.7 202.1M920.6 189L924.5 199.3L933.8 209.1L944.1 218.4L952.4 228.2M930.4 153.1L937.7 163.7M912.6 193.4L903.5 196M847.5 195.2L842.4 187.3L830.9 188.2L827 182.3M894 200.5L910.1 198.4L920.6 194.8M916.5 149L921.6 154.7L927.5 159.9L935.4 170L940.9 177M900.8 255.6L891.9 257.5L882.3 244.9L878.6 241.4L870.6 229.3M864.5 214.3L857.1 203.8M860.3 205.8L855.2 208.4L838.1 214.2M918.6 224.6L926.5 232.7L936.6 243.9L941 251.5L959.6 244.1M841.7 170.4L836.7 164.5L834.7 161.6L828.1 162.6M863.8 193L856.7 195.8L849.8 198.6L827 204.5L822.7 200M975.8 199.5L987.4 210.7M938.6 179.5L923.2 184.4M947.8 178.8L951.1 182.1L972 177.9M999.5 158.8L1005.1 157.1M918.2 158.2L901.3 162.3L895.4 154L889.5 146.4M857.2 173.6L861.1 179.6L875.9 174.9L888.3 174.2M801.6 170.2L788.4 174L771.7 177.7M1062.5 196.1L1048.7 201.3L1037.8 189.9M922.4 137.5L939.4 132.8L951.6 128.2L959 134.8M978 196.8L961.4 200M935.1 148.5L918.4 151.7L916.6 147.3L913.2 142.8L908 137.4M1029.2 195.2L1017 184.5M982.7 124.6L978.1 126.1L961.7 129.5L954.4 130.9L949 127.6M941 173.4L925.4 178.3L907.2 182.9L904 179.1L896.9 169.4M788.6 175.3L778.3 177.2L759.2 182L738.7 188.3L719.3 193.8M887 253.3L867 259.2L852.9 262.7M774.7 187.8L773.3 184.3L766.3 185L765.9 178.5M835.3 200.7L818.7 203.5M939.4 139L953.8 134.7L959.8 140M914.1 152.6L922.2 162.7L927.1 168.8M939.8 228.4L927.8 230.3L915.6 233.8L894.7 238.9M901.1 174.2L893.5 174.6L876.3 178.8L860 185L846.7 188.1M931.2 141.8L926.8 137.3L917.4 139.1L907.5 142L891.7 146.9M947.7 214.7L951.8 221.3L968.9 214.5M927.7 244.8L922.6 241.2L899.3 248.1M1029.4 167.2L1022.1 170.1M917 174.7L897.4 179.3L889.9 171M957.8 161.7L975.3 158.8L982.7 164.2L995.8 159.6M918.5 175.8L929.5 172.3L937.7 182.8" stroke="#62cad2" stroke-opacity="0.85" stroke-width="0.5" fill="none" stroke-linejoin="round"/>
<path d="M689.6 187.4L737.2 358M732.3 177.1L794.6 338.2M772.9 167.2L848.4 319.7M811.8 157.9L898.9 302.3M848.9 148.9L946.4 285.9M884.4 140.3L991.1 270.5M918.5 132.1L1033.4 255.9M951.1 124.2L1073.4 242.1M982.5 116.6L1111.3 229.1M665.3 213.4L1012.7 125.7M670.8 239.2L1032.8 142.5M676.8 268.1L1054.7 160.8M683.7 300.7L1078.9 180.9M691.4 337.7L1105.6 203.2" stroke="#555" stroke-width="0.7" fill="none"/>
<polygon points="661.3,194.2 997.5,113 1129.2,222.9 698.5,371.3" stroke="#555" stroke-width="0.7" fill="none"/>
<g transform="translate(917.2 149.3) rotate(-0.8)"><path d="M-3 -1.3 L-3.2 -58.3 L3.2 -58.3 L3 -1.3 A3 1.3 0 0 1 -3 -1.3 Z" fill="url(#gCr)"/><ellipse cx="0" cy="-58.3" rx="3.2" ry="1.4" fill="#f0634d"/></g>
<g transform="translate(1005.1 155.8) rotate(4.5)"><path d="M-3.1 -1.4 L-3.3 -64.7 L3.3 -64.7 L3.1 -1.4 A3.1 1.4 0 0 1 -3.1 -1.4 Z" fill="url(#gCr)"/><ellipse cx="0" cy="-64.7" rx="3.3" ry="1.5" fill="#f0634d"/></g>
<g transform="translate(852.1 156.8) rotate(-5.1)"><path d="M-3.1 -1.4 L-3.3 -60 L3.3 -60 L3.1 -1.4 A3.1 1.4 0 0 1 -3.1 -1.4 Z" fill="url(#gCr)"/><ellipse cx="0" cy="-60" rx="3.3" ry="1.5" fill="#f0634d"/></g>
<g transform="translate(960.3 173.7) rotate(2.3)"><path d="M-3.2 -1.5 L-3.5 -66.3 L3.5 -66.3 L3.2 -1.5 A3.2 1.5 0 0 1 -3.2 -1.5 Z" fill="url(#gCr)"/><ellipse cx="0" cy="-66.3" rx="3.5" ry="1.6" fill="#f0634d"/></g>
<g transform="translate(872.6 183.7) rotate(-3.6)"><path d="M-3.3 -1.5 L-3.6 -58.9 L3.6 -58.9 L3.3 -1.5 A3.3 1.5 0 0 1 -3.3 -1.5 Z" fill="url(#gCr)"/><ellipse cx="0" cy="-58.9" rx="3.6" ry="1.6" fill="#f0634d"/></g>
<g transform="translate(749.5 202.7) rotate(-11.8)"><path d="M-3.5 -1.6 L-3.8 -74.7 L3.8 -74.7 L3.5 -1.6 A3.5 1.6 0 0 1 -3.5 -1.6 Z" fill="url(#gCr)"/><ellipse cx="0" cy="-74.7" rx="3.9" ry="1.7" fill="#f0634d" transform="rotate(6.5 0 -74.7)"/></g>
<g transform="translate(1006.2 207) rotate(4.9)"><path d="M-3.6 -1.6 L-3.8 -57.3 L3.8 -57.3 L3.6 -1.6 A3.6 1.6 0 0 1 -3.6 -1.6 Z" fill="url(#gCr)"/><ellipse cx="0" cy="-57.3" rx="3.8" ry="1.7" fill="#f0634d"/></g>
<g transform="translate(996.6 210.8) rotate(3.9)"><path d="M-3.6 -1.6 L-3.9 -62.9 L3.9 -62.9 L3.6 -1.6 A3.6 1.6 0 0 1 -3.6 -1.6 Z" fill="url(#gCr)"/><ellipse cx="0" cy="-62.9" rx="3.9" ry="1.7" fill="#f0634d"/></g>
<g transform="translate(760.8 211.4) rotate(-10.9)"><path d="M-3.6 -1.6 L-3.9 -63.4 L3.9 -63.4 L3.6 -1.6 A3.6 1.6 0 0 1 -3.6 -1.6 Z" fill="url(#gCr)"/><ellipse cx="0" cy="-63.4" rx="4" ry="1.7" fill="#f0634d" transform="rotate(6 0 -63.4)"/></g>
<g transform="translate(976.6 212.6) rotate(3.1)"><path d="M-3.6 -1.6 L-3.9 -58.4 L3.9 -58.4 L3.6 -1.6 A3.6 1.6 0 0 1 -3.6 -1.6 Z" fill="url(#gCr)"/><ellipse cx="0" cy="-58.4" rx="3.9" ry="1.7" fill="#f0634d"/></g>
<g transform="translate(769.1 214.8) rotate(-10.2)"><path d="M-3.6 -1.6 L-3.9 -64.3 L3.9 -64.3 L3.6 -1.6 A3.6 1.6 0 0 1 -3.6 -1.6 Z" fill="url(#gCr)"/><ellipse cx="0" cy="-64.3" rx="4" ry="1.8" fill="#f0634d" transform="rotate(5.6 0 -64.3)"/></g>
<g transform="translate(856.6 217) rotate(-4.6)"><path d="M-3.7 -1.6 L-3.9 -57.2 L3.9 -57.2 L3.7 -1.6 A3.7 1.6 0 0 1 -3.7 -1.6 Z" fill="url(#gCr)"/><ellipse cx="0" cy="-57.2" rx="3.9" ry="1.8" fill="#f0634d"/></g>
<g transform="translate(1068.3 218.5) rotate(8.9)"><path d="M-3.7 -1.7 L-4 -69.5 L4 -69.5 L3.7 -1.7 A3.7 1.7 0 0 1 -3.7 -1.7 Z" fill="url(#gCr)"/><ellipse cx="0" cy="-69.5" rx="4.1" ry="1.8" fill="#f0634d" transform="rotate(-4.9 0 -69.5)"/></g>
<g transform="translate(877.4 219.2) rotate(-3.1)"><path d="M-3.7 -1.7 L-4 -75.9 L4 -75.9 L3.7 -1.7 A3.7 1.7 0 0 1 -3.7 -1.7 Z" fill="url(#gCr)"/><ellipse cx="0" cy="-75.9" rx="4" ry="1.8" fill="#f0634d"/></g>
<g transform="translate(1097.5 219.2) rotate(11)"><path d="M-3.7 -1.7 L-4 -62.1 L4 -62.1 L3.7 -1.7 A3.7 1.7 0 0 1 -3.7 -1.7 Z" fill="url(#gCr)"/><ellipse cx="0" cy="-62.1" rx="4" ry="1.8" fill="#f0634d" transform="rotate(-6.1 0 -62.1)"/></g>
<g transform="translate(1033.7 219.8) rotate(6.5)"><path d="M-3.7 -1.7 L-4 -59.8 L4 -59.8 L3.7 -1.7 A3.7 1.7 0 0 1 -3.7 -1.7 Z" fill="url(#gCr)"/><ellipse cx="0" cy="-59.8" rx="4" ry="1.8" fill="#f0634d"/></g>
<g transform="translate(919 223.9) rotate(-0.6)"><path d="M-3.7 -1.7 L-4.1 -71.9 L4.1 -71.9 L3.7 -1.7 A3.7 1.7 0 0 1 -3.7 -1.7 Z" fill="url(#gCr)"/><ellipse cx="0" cy="-71.9" rx="4.1" ry="1.8" fill="#f0634d"/></g>
<g transform="translate(912.3 230.4) rotate(-1.2)"><path d="M-3.8 -1.7 L-4.2 -77.9 L4.2 -77.9 L3.8 -1.7 A3.8 1.7 0 0 1 -3.8 -1.7 Z" fill="url(#gCr)"/><ellipse cx="0" cy="-77.9" rx="4.2" ry="1.9" fill="#f0634d"/></g>
<g transform="translate(1008.1 233.9) rotate(5.1)"><path d="M-3.8 -1.7 L-4.1 -65.2 L4.1 -65.2 L3.8 -1.7 A3.8 1.7 0 0 1 -3.8 -1.7 Z" fill="url(#gCr)"/><ellipse cx="0" cy="-65.2" rx="4.1" ry="1.9" fill="#f0634d"/></g>
<g transform="translate(965.5 239.4) rotate(2.6)"><path d="M-3.9 -1.7 L-4.2 -71.5 L4.2 -71.5 L3.9 -1.7 A3.9 1.7 0 0 1 -3.9 -1.7 Z" fill="url(#gCr)"/><ellipse cx="0" cy="-71.5" rx="4.2" ry="1.9" fill="#f0634d"/></g>
<g transform="translate(836.3 245.2) rotate(-6.5)"><path d="M-3.9 -1.8 L-4.2 -63 L4.2 -63 L3.9 -1.8 A3.9 1.8 0 0 1 -3.9 -1.8 Z" fill="url(#gCr)"/><ellipse cx="0" cy="-63" rx="4.2" ry="1.9" fill="#f0634d"/></g>
<g transform="translate(1016.4 245.8) rotate(6.1)"><path d="M-4 -1.8 L-4.3 -81.7 L4.3 -81.7 L4 -1.8 A4 1.8 0 0 1 -4 -1.8 Z" fill="url(#gCr)"/><ellipse cx="0" cy="-81.7" rx="4.3" ry="2" fill="#f0634d"/></g>
<g transform="translate(709.8 247.6) rotate(-16.5)"><path d="M-4 -1.8 L-4.3 -71.9 L4.3 -71.9 L4 -1.8 A4 1.8 0 0 1 -4 -1.8 Z" fill="url(#gCr)"/><ellipse cx="0" cy="-71.9" rx="4.4" ry="1.9" fill="#f0634d" transform="rotate(9.1 0 -71.9)"/></g>
<g transform="translate(752.1 247.7) rotate(-12.4)"><path d="M-4 -1.8 L-4.3 -68.4 L4.3 -68.4 L4 -1.8 A4 1.8 0 0 1 -4 -1.8 Z" fill="url(#gCr)"/><ellipse cx="0" cy="-68.4" rx="4.4" ry="1.9" fill="#f0634d" transform="rotate(6.8 0 -68.4)"/></g>
<g transform="translate(704.1 251.6) rotate(-16.5)"><path d="M-4.6 -2.1 L-5.2 -251.1 L5.2 -251.1 L4.6 -2.1 A4.6 2.1 0 0 1 -4.6 -2.1 Z" fill="url(#gCr)"/><ellipse cx="0" cy="-251.1" rx="5.3" ry="2.3" fill="#f0634d" transform="rotate(9.1 0 -251.1)"/></g>
<g transform="translate(911 257.1) rotate(-1)"><path d="M-4.1 -1.8 L-4.5 -79.2 L4.5 -79.2 L4.1 -1.8 A4.1 1.8 0 0 1 -4.1 -1.8 Z" fill="url(#gCr)"/><ellipse cx="0" cy="-79.2" rx="4.5" ry="2" fill="#f0634d"/></g>
<g transform="translate(783.2 263.9) rotate(-10.5)"><path d="M-4.1 -1.9 L-4.5 -64.5 L4.5 -64.5 L4.1 -1.9 A4.1 1.9 0 0 1 -4.1 -1.9 Z" fill="url(#gCr)"/><ellipse cx="0" cy="-64.5" rx="4.5" ry="2" fill="#f0634d" transform="rotate(5.8 0 -64.5)"/></g>
<g transform="translate(709.5 265.4) rotate(-14.7)"><path d="M-4.1 -1.9 L-4.5 -75 L4.5 -75 L4.1 -1.9 A4.1 1.9 0 0 1 -4.1 -1.9 Z" fill="url(#gCr)"/><ellipse cx="0" cy="-75" rx="4.6" ry="2" fill="#f0634d" transform="rotate(8.1 0 -75)"/></g>
<g transform="translate(885 270.7) rotate(-3.2)"><path d="M-4.2 -1.9 L-4.7 -97.8 L4.7 -97.8 L4.2 -1.9 A4.2 1.9 0 0 1 -4.2 -1.9 Z" fill="url(#gCr)"/><ellipse cx="0" cy="-97.8" rx="4.7" ry="2.1" fill="#f0634d"/></g>
<g transform="translate(797.5 276.6) rotate(-9.4)"><path d="M-4.3 -1.9 L-4.7 -80.1 L4.7 -80.1 L4.3 -1.9 A4.3 1.9 0 0 1 -4.3 -1.9 Z" fill="url(#gCr)"/><ellipse cx="0" cy="-80.1" rx="4.8" ry="2.1" fill="#f0634d" transform="rotate(5.2 0 -80.1)"/></g>
<path d="M630.6 59.2 C634.1 54.7 637.1 51.5 640.4 51.5 C644.6 51.5 646.1 58.4 651.2 58.4 C655.1 58.4 658.1 55.2 660.8 51.2 L661.2 58.7 C658.5 62.7 655.5 65.9 651.6 65.9 C646.5 65.9 645 59 640.8 59 C637.5 59 634.5 62.2 631 66.7 Z" fill="#fff"/><path d="M630.6 59.2 C634.1 54.7 637.1 51.5 640.4 51.5 C644.6 51.5 646.1 58.4 651.2 58.4 C655.1 58.4 658.1 55.2 660.8 51.2" stroke="#000" stroke-width="1.7" fill="none" stroke-linecap="butt"/><path d="M631 66.7 C634.5 62.2 637.5 59 640.8 59 C645 59 646.5 65.9 651.6 65.9 C655.5 65.9 658.5 62.7 661.2 58.7" stroke="#000" stroke-width="1.7" fill="none" stroke-linecap="butt"/>
<g transform="translate(1073.8 112.1) rotate(9.1)"><path d="M-2.7 -1.2 L-2.7 -31.6 L2.7 -31.6 L2.7 -1.2 A2.7 1.2 0 0 1 -2.7 -1.2 Z" fill="url(#gCr)"/><ellipse cx="0" cy="-31.6" rx="2.8" ry="1.2" fill="#f0634d" transform="rotate(-5 0 -31.6)"/></g>
<text x="1055.1" y="62.7" font-size="37.5" class="t">Cr</text>
<text x="1092.2" y="101.1" font-size="30.2" class="t">200 counts</text>
</g>
<g id="panel-Mn">
<clipPath id="c4687"><polygon points="663.3,469.5 999.4,388.3 1131.2,498.2 700.5,646.6"/></clipPath><path clip-path="url(#c4687)" d="M700.4 616.7L705.5 641.7L725.5 633.6L732.7 611.5M700.4 616.7L726.3 609.1M712.7 613.1L718.3 637.2M695.9 595.9L707.1 592.7L719.9 589.4L731.1 585.1L743.9 581.1M707.1 592.7L708.4 613.1M715.9 569.1L717.5 588.3L720.7 589.9L718.3 614.7L725.5 614.4L729.5 621.2M705.5 560.6L711.9 565.1L711.9 569.1L715.9 569.1M705.5 560.6L726.3 557.9L742.3 556.3M740.7 558.7L743.1 577.1L743.9 588.3L742.3 600.3L734.3 608.3L729.5 624.4L739.1 624.4L748.7 626.8M743.1 577.1L783.9 576.3L800 574.7L802.4 566.7L782.3 565.9L783.9 561.9M730.3 585.1L733.5 597.1L739.1 600.3M747.9 601.9L741.5 624.4M743.9 600.3L767.9 594.7L783.9 585.9L809.6 574.7L835.2 566.7M771.1 605.9L795.2 593.9L809.6 588.3L808.8 592.3L798.4 600.3L774.3 616M795.2 593.9L799.2 600.3M726.3 557.9L771.1 556.3L795.2 560.3L819.2 567.5L835.2 571.5L859 573.1M803.2 553.9L816 563.5L827.2 569.9L859 574.7M811.2 558.7L828.8 553.9M816.8 563.5L846.4 556.3M835.2 557.9L848 555.5L851.2 571.5M815.2 569.1L815.2 574.7L811.2 579.5L795.2 592.3M665.5 471L680.7 469.9M678.3 488.3L702.3 485.1L723.1 478.7L737.5 476.3L742.3 481.9L748.7 480.3M737.5 476.3L735.9 486.7L732.7 493.1L729.5 489.9L711.9 486.7L702.3 485.1M674.3 495.5L676.7 507.6L686.3 504.4L691.1 496.3L700.7 498M676.7 507.6L679.1 526.8L683.1 539.6L686.3 547.6L711.9 536.4L748.7 523.6M683.1 528.4L699.1 523.6L711.9 520.4M713.5 520.4L729.5 517.2L731.1 522M707.1 504.4L718.3 502.8L719.9 509.2L714.3 510.8L715.1 517.2M729.5 489.9L734.3 501.2L737.5 502.8M755.1 507.6L762.3 507.9M769.5 451.5L777.5 452.3L783.9 454.7L803.2 448.3L819.2 445.1L835.2 440.3L859 435.5M771.1 454.7L780.7 465.9L787.2 464.3L809.6 460.3L827.2 456.3M777.5 452.3L775.9 477.1L774.3 486.7M783.9 465.9L782.3 481.9M796.8 469.1L795.2 481.9M809.6 451.5L808.8 465.9L807.2 494.7L806.4 520.4L811.2 544.4M819.2 451.5L812.8 498L809.6 523.6M836.8 473.9L832 498L827.2 523.6L825.6 536.4M841.6 445.1L840 465.9L835.2 486.7M787.2 464.3L798.4 456.3L808 459.5M774.3 486.7L803.2 489.9L819.2 493.9L859 493.1M798.4 497.2L790.4 501.2L789.6 512.4L780.7 504.4M763.1 523.6L777.5 530L787.2 542.8L800 554L812.8 563.6L835.2 571.6L859 573.2M769.5 525.2L783.9 536.4L795.2 549.2M766.3 542L780.7 544.4L792 544.4M798.4 523.6L806.4 526L809.6 533.2L803.2 539.6M808 521.2L833.6 518.8L859 514M817.6 553.2L835.2 549.2L859 544.4M812.8 558.8L859 550.8M705.5 560.4L726.3 558L771.1 555.6L795.2 560.4L819.2 566.8L859 570M705.5 560.4L711.9 564.4L711.9 568.4L716.7 568.4L717.5 583.9M740.7 558.8L742.3 583.9M726.3 558L724.7 566.8M782.3 555.6L783.9 566.8L801.6 566L800 578M829 567.2L841.9 571.2L861.1 572.8L881.9 570.4L897.9 565.6L918.7 556.8L931.5 554.4L947.5 557.6M829 560.8L853.1 552.8L883.5 546.3L912.3 536.7L941.1 531.9L973.2 527.1L1005.2 520.7M829 552.8L845.1 548L869.1 539.9L877.1 541.5L881.9 546.3M845.1 522.3L843.5 548M862.7 491.9L861.1 544.7M846.7 556.8L849.9 571.2M867.5 551.2L875.5 576L873.1 580M893.1 578.4L925.1 567.2L947.5 560M909.1 548L918.7 570.4M912.3 535.1L917.1 546.3L915.5 557.6L912.3 560.8M917.1 546.3L928.3 547.2L931.5 551.2L941.1 552M933.1 536.7L947.5 539.9L955.6 536.7L962 554.4M944.3 551.2L945.9 544.7L955.6 538.3L966.8 533.5L989.2 529.5M829 520.7L845.1 519.1L865.9 514.3L889.9 507.9L909.1 503.1M869.1 495.1L870.7 514.3M881.9 499.9L889.9 507.9M891.5 517.5L893.1 528.7L909.1 525.5M893.1 535.1L901.1 535.1M889.9 523.9L909.1 518.3M918.7 527.1L941.1 522.3L965.2 515.9L989.2 507.9L1005.2 503.1M918.7 509.5L931.5 507.9L957.2 511.1L966.8 515.9M928.3 496.7L926.7 525.5M939.5 511.1L941.1 531.9M947.5 512.7L948.3 522.3M970 515.9L982.8 514.3L998.8 509.5L1000.4 514.3L1011.6 527.1M982.8 514.3L990.8 527.1M995.6 512.7L1003.6 525.5M973.2 491.9L989.2 499.9L997.2 503.1M987.6 493.5L988.4 499.9M829 496.7L848.3 491.9L869.1 487.1M883.5 495.1L909.1 488.7M925.1 491.9L957.2 488.7L973.2 483.9M968.4 520.7L973.2 531.9M829 444.4L845.1 439.6L865.9 434.7L881.9 426.7L893.1 421.9L902.7 425.1M832.3 438L843.5 434.7L845.1 439.6M833.9 449.2L835.5 470M845.1 446L844.3 463.6L849.9 492.4M859.5 429.9L861.1 454L867.5 470M881.9 426.7L885.1 425.1L886.7 426.7M888.3 417.1L905.9 421.9L918.7 426.7L921.9 438L928.3 444.4L941.1 446M893.1 434.7L896.3 449.2L904.3 473.2M878.7 452.4L909.1 446L937.9 441.2M880.3 463.6L912.3 455.6L941.1 449.2L957.2 446M883.5 473.2L915.5 465.2L931.5 462M886.7 479.6L912.3 474M937.9 449.2L925.1 466.8L918.7 476.4M925.1 408.3L953.9 401.9L965.2 402.7L974.8 408.3L953.9 413.9L931.5 418.7M925.1 408.3L944.3 426.7M931.5 418.7L934.7 420.3L960.4 413.9M953.9 401.9L952.3 407.5L931.5 413.1M965.2 402.7L989.2 404.3L998.8 409.1L1018 413.9L1019.6 415.5M974.8 408.3L997.2 413.9L1013.2 420.3M941.1 434.7L966.8 428.3L989.2 421.9L1003.6 420.3M966.8 441.2L979.6 447.6L997.2 442.8L1013.2 439.6L1029 441.2M995.6 412.3L1005.2 434.7L1013.2 454M1013.2 426.7L1029 429.9M1010 441.2L1029 446M941.1 446L957.2 457.2L973.2 463.6L989.2 470M931.5 470L973.2 460.4L1005.2 454M933.1 478L949.1 476.4L963.6 479.6L962 484.4L947.5 486M925.1 489.2L957.2 482.8L989.2 476.4L1029 468.4M928.3 497.2L960.4 490.8L989.2 486M829 470L853.1 463.6M829 489.2L849.9 492.4L877.1 486L909.1 478M829 497.2L853.1 498.8L873.9 495.6M869.1 494L870.7 514.8M888.3 486L891.5 502L904.3 498.8M896.3 492.4L915.5 495.6M970 486L973.2 502L989.2 498.8L1005.2 495.6M987.6 495.6L988.4 500.4M931.5 506.8L957.2 502L973.2 506.8L1005.2 502L1029 495.6M1005.2 470L1029 463.6M981.2 476.4L1029 470M979 404.7L995.1 407.9L993.5 411.9L999.9 420.7L979 423.9M979 415.9L995.1 414.3M1009.5 412.7L1020.7 414.3L1017.5 418.3L1031.9 423.9L1051.1 433.5L1052.7 435.1M1007.9 433.5L1027.1 431.9L1046.3 436.7L1055.9 439.9M1007.9 433.5L1012.7 444.7L1012.7 451.2L1007.9 456M1015.9 438.3L1031.9 436.7L1043.1 438.3M1015.9 443.1L1027.1 439.9L1039.9 440.7M979 448L995.1 443.1L1007.9 441.5M1046.3 441.5L1054.3 451.2M1049.5 441.5L1052.7 446.3M979 459.2L995.1 454.4M1020.7 465.6L1043.1 468.8L1062.3 470.4L1078.3 464L1083.1 460.8M1044.7 474.4L1049.5 475.2M1043.1 480L1059.1 486.4L1068.7 491.2L1083.1 492.8L1099.1 492.8L1108.8 489.6M1027.1 486.4L1046.3 488L1067.1 491.2M1039.9 494.4L1068.7 491.2M1057.5 475.2L1067.1 488M1068.7 494.4L1078.3 502.4L1087.9 502.4L1084.7 508.8L1081.5 512M1073.5 492.8L1083.1 496L1087.9 502.4M1035.1 496L1038.3 508.8M1015.9 480L1031.9 483.2L1043.1 480M979 496L991.9 492.8L1004.7 496M979 505.6L995.1 502.4L1007.9 505.6M979 515.2L988.7 512L995.1 524.8L979 531.2M995.1 512L1011.1 521.6L1007.9 526.4M988.7 496L990.3 505.6M998.3 508.8L999.9 500.8M979 523.2L987.1 521.6L990.3 528M1011.1 524.8L1017.5 523.2M982.3 473.6L995.1 480L1004.7 488M979 483.2L993.5 488M967.7 477.2L977.2 488M908.9 511.9L890.1 518L881.2 521.5M800.9 509.5L779.7 514.8M804.6 455.7L782.9 460.4L771.3 461.4M803.6 453.8L809.9 451.8M826.5 484.1L847.2 479M755.3 455.7L755.7 448.4L744.1 451.2M1023.9 475.7L1015.2 470.1M1023.8 437.9L1009.4 440.7L999.2 442.2M978.6 498.2L986.1 506.5L990.1 510.6L1001.4 523.7M1016.3 490.2L1010.5 482.2M1027.1 427.2L1034.4 431.3L1036.1 435.8L1047.4 442.6L1054.5 447.8M1002.1 461.3L1013.2 471.7L1032.4 465.4L1034.1 471M930.3 492.5L940.9 488.3L951.2 483.9L969.7 477.4M922.5 464.3L926.4 474.6L935.8 484.4L946 493.7L954.4 503.5M932.3 428.4L939.7 439M914.6 468.7L905.4 471.3M849.4 470.5L844.4 462.6L832.9 463.5L829 457.6M895.9 475.8L912 473.7L922.6 470.1M918.4 424.3L923.6 430L929.5 435.2L937.4 445.3L942.9 452.3M902.7 530.9L893.8 532.8L884.3 520.2L880.5 516.7L872.5 504.6M866.5 489.6L859.1 479.1M862.3 481.1L857.1 483.7L840.1 489.5M920.6 499.9L928.4 508L938.6 519.2L943 526.8L961.6 519.4M843.7 445.7L838.7 439.8L836.6 436.9L830.1 437.9M865.7 468.3L858.7 471.1L851.7 473.9L829 479.8L824.6 475.3M977.8 474.8L989.4 486M940.6 454.8L925.2 459.7M949.7 454.1L953 457.4L973.9 453.2M1001.4 434.1L1007.1 432.4M920.2 433.5L903.2 437.6L897.3 429.3L891.4 421.7M859.2 448.9L863.1 454.9L877.9 450.2L890.3 449.5M803.5 445.5L790.3 449.3L773.6 453M1064.5 471.4L1050.7 476.6L1039.8 465.2M924.4 412.8L941.3 408.1L953.5 403.5L960.9 410.1M980 472.1L963.4 475.3M937 423.8L920.4 427L918.5 422.6L915.2 418.1L909.9 412.7M1031.2 470.5L1018.9 459.8M984.6 399.9L980 401.4L963.6 404.8L956.3 406.2L950.9 402.9M943 448.7L927.4 453.6L909.2 458.2L905.9 454.4L898.9 444.7M790.6 450.6L780.2 452.5L761.2 457.3L740.6 463.6L721.3 469.1M888.9 528.6L869 534.5L854.9 538M776.7 463.1L775.2 459.6L768.2 460.3L767.8 453.8M837.3 476L820.7 478.8M941.4 414.3L955.8 410L961.7 415.3M916 427.9L924.2 438L929 444.1M941.8 503.7L929.8 505.6L917.6 509.1L896.6 514.2M903.1 449.5L895.5 449.9L878.2 454.1L861.9 460.3L848.6 463.4M933.1 417.1L928.8 412.6L919.4 414.4L909.5 417.3L893.7 422.2M949.7 490L953.8 496.6L970.8 489.8M929.6 520.1L924.6 516.5L901.2 523.4M1031.4 442.5L1024 445.4M918.9 450L899.3 454.6L891.8 446.3M959.8 437L977.3 434.1L984.6 439.5L997.7 434.9M920.4 451.1L931.5 447.6L939.7 458.1" stroke="#62cad2" stroke-opacity="0.85" stroke-width="0.5" fill="none" stroke-linejoin="round"/>
<path d="M691.6 462.7L739.2 633.3M734.2 452.4L796.6 613.5M774.9 442.5L850.3 595M813.7 433.2L900.8 577.6M850.8 424.2L948.3 561.2M886.4 415.6L993.1 545.8M920.4 407.4L1035.4 531.2M953.1 399.5L1075.3 517.4M984.4 391.9L1113.2 504.4M667.3 488.7L1014.6 401M672.7 514.5L1034.7 417.8M678.8 543.4L1056.7 436.1M685.6 576L1080.9 456.2M693.4 613L1107.6 478.5" stroke="#555" stroke-width="0.7" fill="none"/>
<polygon points="663.3,469.5 999.4,388.3 1131.2,498.2 700.5,646.6" stroke="#555" stroke-width="0.7" fill="none"/>
<g transform="translate(919.1 424.6) rotate(-1)"><path d="M-3 -1.3 L-3.3 -73.8 L3.3 -73.8 L3 -1.3 A3 1.3 0 0 1 -3 -1.3 Z" fill="url(#gMn)"/><ellipse cx="0" cy="-73.8" rx="3.3" ry="1.5" fill="#ec983e"/></g>
<g transform="translate(1007 431.1) rotate(4.3)"><path d="M-3.1 -1.4 L-3.2 -52.2 L3.2 -52.2 L3.1 -1.4 A3.1 1.4 0 0 1 -3.1 -1.4 Z" fill="url(#gMn)"/><ellipse cx="0" cy="-52.2" rx="3.2" ry="1.5" fill="#ec983e"/></g>
<g transform="translate(854 432.1) rotate(-5.5)"><path d="M-3.1 -1.4 L-3.3 -55.1 L3.3 -55.1 L3.1 -1.4 A3.1 1.4 0 0 1 -3.1 -1.4 Z" fill="url(#gMn)"/><ellipse cx="0" cy="-55.1" rx="3.3" ry="1.5" fill="#ec983e"/></g>
<g transform="translate(962.2 449) rotate(1.1)"><path d="M-3.2 -1.5 L-3.3 -24.2 L3.3 -24.2 L3.2 -1.5 A3.2 1.5 0 0 1 -3.2 -1.5 Z" fill="url(#gMn)"/><ellipse cx="0" cy="-24.2" rx="3.3" ry="1.5" fill="#ec983e"/></g>
<g transform="translate(874.5 459) rotate(-6.9)"><path d="M-3.3 -1.5 L-3.4 -29.4 L3.4 -29.4 L3.3 -1.5 A3.3 1.5 0 0 1 -3.3 -1.5 Z" fill="url(#gMn)"/><ellipse cx="0" cy="-29.4" rx="3.4" ry="1.6" fill="#ec983e"/></g>
<g transform="translate(751.4 478) rotate(-11.8)"><path d="M-3.5 -1.6 L-3.7 -42.2 L3.7 -42.2 L3.5 -1.6 A3.5 1.6 0 0 1 -3.5 -1.6 Z" fill="url(#gMn)"/><ellipse cx="0" cy="-42.2" rx="3.8" ry="1.7" fill="#ec983e" transform="rotate(6.5 0 -42.2)"/></g>
<g transform="translate(1008.1 482.3) rotate(3.5)"><path d="M-3.6 -1.6 L-3.8 -60.8 L3.8 -60.8 L3.6 -1.6 A3.6 1.6 0 0 1 -3.6 -1.6 Z" fill="url(#gMn)"/><ellipse cx="0" cy="-60.8" rx="3.8" ry="1.7" fill="#ec983e"/></g>
<g transform="translate(998.5 486.1) rotate(4.2)"><path d="M-3.6 -1.6 L-3.9 -61.5 L3.9 -61.5 L3.6 -1.6 A3.6 1.6 0 0 1 -3.6 -1.6 Z" fill="url(#gMn)"/><ellipse cx="0" cy="-61.5" rx="3.9" ry="1.7" fill="#ec983e"/></g>
<g transform="translate(762.8 486.7) rotate(-11.7)"><path d="M-3.6 -1.6 L-3.8 -37.4 L3.8 -37.4 L3.6 -1.6 A3.6 1.6 0 0 1 -3.6 -1.6 Z" fill="url(#gMn)"/><ellipse cx="0" cy="-37.4" rx="3.8" ry="1.7" fill="#ec983e" transform="rotate(6.4 0 -37.4)"/></g>
<g transform="translate(978.5 487.9) rotate(2.8)"><path d="M-3.6 -1.6 L-3.9 -53 L3.9 -53 L3.6 -1.6 A3.6 1.6 0 0 1 -3.6 -1.6 Z" fill="url(#gMn)"/><ellipse cx="0" cy="-53" rx="3.9" ry="1.7" fill="#ec983e"/></g>
<g transform="translate(771 490.1) rotate(-10.4)"><path d="M-3.6 -1.6 L-3.8 -47.3 L3.8 -47.3 L3.6 -1.6 A3.6 1.6 0 0 1 -3.6 -1.6 Z" fill="url(#gMn)"/><ellipse cx="0" cy="-47.3" rx="3.9" ry="1.7" fill="#ec983e" transform="rotate(5.7 0 -47.3)"/></g>
<g transform="translate(858.5 492.3) rotate(-4.9)"><path d="M-3.7 -1.6 L-3.9 -58.5 L3.9 -58.5 L3.7 -1.6 A3.7 1.6 0 0 1 -3.7 -1.6 Z" fill="url(#gMn)"/><ellipse cx="0" cy="-58.5" rx="3.9" ry="1.8" fill="#ec983e"/></g>
<g transform="translate(1070.2 493.8) rotate(8.3)"><path d="M-3.7 -1.7 L-3.9 -45.5 L3.9 -45.5 L3.7 -1.7 A3.7 1.7 0 0 1 -3.7 -1.7 Z" fill="url(#gMn)"/><ellipse cx="0" cy="-45.5" rx="4" ry="1.7" fill="#ec983e" transform="rotate(-4.6 0 -45.5)"/></g>
<g transform="translate(879.3 494.5) rotate(-3.7)"><path d="M-3.7 -1.7 L-4.1 -94.3 L4.1 -94.3 L3.7 -1.7 A3.7 1.7 0 0 1 -3.7 -1.7 Z" fill="url(#gMn)"/><ellipse cx="0" cy="-94.3" rx="4.1" ry="1.8" fill="#ec983e"/></g>
<g transform="translate(1099.4 494.5) rotate(11)"><path d="M-3.7 -1.7 L-4 -64.8 L4 -64.8 L3.7 -1.7 A3.7 1.7 0 0 1 -3.7 -1.7 Z" fill="url(#gMn)"/><ellipse cx="0" cy="-64.8" rx="4.1" ry="1.8" fill="#ec983e" transform="rotate(-6 0 -64.8)"/></g>
<g transform="translate(1035.7 495.1) rotate(6.7)"><path d="M-3.7 -1.7 L-4.2 -107.3 L4.2 -107.3 L3.7 -1.7 A3.7 1.7 0 0 1 -3.7 -1.7 Z" fill="url(#gMn)"/><ellipse cx="0" cy="-107.3" rx="4.2" ry="1.9" fill="#ec983e"/></g>
<g transform="translate(920.9 499.2) rotate(-1.1)"><path d="M-3.7 -1.7 L-3.9 -33.8 L3.9 -33.8 L3.7 -1.7 A3.7 1.7 0 0 1 -3.7 -1.7 Z" fill="url(#gMn)"/><ellipse cx="0" cy="-33.8" rx="3.9" ry="1.7" fill="#ec983e"/></g>
<g transform="translate(914.2 505.7) rotate(0.9)"><path d="M-3.8 -1.7 L-4 -35.7 L4 -35.7 L3.8 -1.7 A3.8 1.7 0 0 1 -3.8 -1.7 Z" fill="url(#gMn)"/><ellipse cx="0" cy="-35.7" rx="4" ry="1.8" fill="#ec983e"/></g>
<g transform="translate(1010 509.2) rotate(5)"><path d="M-3.8 -1.7 L-4.3 -95.4 L4.3 -95.4 L3.8 -1.7 A3.8 1.7 0 0 1 -3.8 -1.7 Z" fill="url(#gMn)"/><ellipse cx="0" cy="-95.4" rx="4.3" ry="1.9" fill="#ec983e"/></g>
<g transform="translate(967.4 514.7) rotate(2.4)"><path d="M-3.9 -1.7 L-4.5 -121.2 L4.5 -121.2 L3.9 -1.7 A3.9 1.7 0 0 1 -3.9 -1.7 Z" fill="url(#gMn)"/><ellipse cx="0" cy="-121.2" rx="4.5" ry="2" fill="#ec983e"/></g>
<g transform="translate(838.2 520.5) rotate(-6.8)"><path d="M-3.9 -1.8 L-4.5 -108.9 L4.5 -108.9 L3.9 -1.8 A3.9 1.8 0 0 1 -3.9 -1.8 Z" fill="url(#gMn)"/><ellipse cx="0" cy="-108.9" rx="4.5" ry="2" fill="#ec983e"/></g>
<g transform="translate(1018.3 521.1) rotate(5.2)"><path d="M-4 -1.8 L-4.1 -27.2 L4.1 -27.2 L4 -1.8 A4 1.8 0 0 1 -4 -1.8 Z" fill="url(#gMn)"/><ellipse cx="0" cy="-27.2" rx="4.1" ry="1.8" fill="#ec983e"/></g>
<g transform="translate(711.8 522.9) rotate(-16.4)"><path d="M-4 -1.8 L-4.3 -73.4 L4.3 -73.4 L4 -1.8 A4 1.8 0 0 1 -4 -1.8 Z" fill="url(#gMn)"/><ellipse cx="0" cy="-73.4" rx="4.4" ry="1.9" fill="#ec983e" transform="rotate(9 0 -73.4)"/></g>
<g transform="translate(754 523) rotate(-12.5)"><path d="M-4 -1.8 L-4.3 -73 L4.3 -73 L4 -1.8 A4 1.8 0 0 1 -4 -1.8 Z" fill="url(#gMn)"/><ellipse cx="0" cy="-73" rx="4.4" ry="1.9" fill="#ec983e" transform="rotate(6.9 0 -73)"/></g>
<g transform="translate(706 526.9) rotate(-16.5)"><path d="M-4.6 -2.1 L-5.2 -273.2 L5.2 -273.2 L4.6 -2.1 A4.6 2.1 0 0 1 -4.6 -2.1 Z" fill="url(#gMn)"/><ellipse cx="0" cy="-273.2" rx="5.3" ry="2.3" fill="#ec983e" transform="rotate(9.1 0 -273.2)"/></g>
<g transform="translate(912.9 532.4) rotate(-0.6)"><path d="M-4.1 -1.8 L-4.4 -63.8 L4.4 -63.8 L4.1 -1.8 A4.1 1.8 0 0 1 -4.1 -1.8 Z" fill="url(#gMn)"/><ellipse cx="0" cy="-63.8" rx="4.4" ry="2" fill="#ec983e"/></g>
<g transform="translate(785.1 539.2) rotate(-10.8)"><path d="M-4.1 -1.9 L-4.5 -71.8 L4.5 -71.8 L4.1 -1.9 A4.1 1.9 0 0 1 -4.1 -1.9 Z" fill="url(#gMn)"/><ellipse cx="0" cy="-71.8" rx="4.6" ry="2" fill="#ec983e" transform="rotate(5.9 0 -71.8)"/></g>
<g transform="translate(711.4 540.7) rotate(-14.7)"><path d="M-4.1 -1.9 L-4.5 -76.1 L4.5 -76.1 L4.1 -1.9 A4.1 1.9 0 0 1 -4.1 -1.9 Z" fill="url(#gMn)"/><ellipse cx="0" cy="-76.1" rx="4.6" ry="2" fill="#ec983e" transform="rotate(8.1 0 -76.1)"/></g>
<g transform="translate(886.9 546) rotate(-3.2)"><path d="M-4.2 -1.9 L-4.3 -20.7 L4.3 -20.7 L4.2 -1.9 A4.2 1.9 0 0 1 -4.2 -1.9 Z" fill="url(#gMn)"/><ellipse cx="0" cy="-20.7" rx="4.3" ry="1.9" fill="#ec983e"/></g>
<g transform="translate(799.4 551.9) rotate(-9.6)"><path d="M-4.3 -1.9 L-4.7 -77.8 L4.7 -77.8 L4.3 -1.9 A4.3 1.9 0 0 1 -4.3 -1.9 Z" fill="url(#gMn)"/><ellipse cx="0" cy="-77.8" rx="4.8" ry="2.1" fill="#ec983e" transform="rotate(5.3 0 -77.8)"/></g>
<path d="M632.4 332.7 C635.9 328.2 638.9 325 642.2 325 C646.4 325 647.9 331.9 653 331.9 C656.9 331.9 659.9 328.7 662.6 324.7 L663 332.2 C660.3 336.2 657.3 339.4 653.4 339.4 C648.3 339.4 646.8 332.5 642.6 332.5 C639.3 332.5 636.3 335.7 632.8 340.2 Z" fill="#fff"/><path d="M632.4 332.7 C635.9 328.2 638.9 325 642.2 325 C646.4 325 647.9 331.9 653 331.9 C656.9 331.9 659.9 328.7 662.6 324.7" stroke="#000" stroke-width="1.7" fill="none" stroke-linecap="butt"/><path d="M632.8 340.2 C636.3 335.7 639.3 332.5 642.6 332.5 C646.8 332.5 648.3 339.4 653.4 339.4 C657.3 339.4 660.3 336.2 663 332.2" stroke="#000" stroke-width="1.7" fill="none" stroke-linecap="butt"/>
<g transform="translate(1075 388) rotate(9)"><path d="M-2.7 -1.2 L-2.7 -43.5 L2.7 -43.5 L2.7 -1.2 A2.7 1.2 0 0 1 -2.7 -1.2 Z" fill="url(#gMn)"/><ellipse cx="0" cy="-43.5" rx="2.8" ry="1.2" fill="#ec983e" transform="rotate(-4.9 0 -43.5)"/></g>
<text x="1054.6" y="325.9" font-size="37.5" class="t">Mn</text>
<text x="1098.6" y="378.2" font-size="30.2" class="t">2000 counts</text>
</g>
<g id="panel-Ni">
<clipPath id="c4939"><polygon points="661.3,735.4 997.5,654.2 1129.2,764.1 698.5,912.5"/></clipPath><path clip-path="url(#c4939)" d="M698.4 882.6L703.5 907.6L723.6 899.5L730.8 877.4M698.4 882.6L724.4 875M710.7 879L716.3 903.1M693.9 861.8L705.1 858.6L717.9 855.3L729.2 851L742 847M705.1 858.6L706.4 879M713.9 835L715.5 854.2L718.7 855.8L716.3 880.6L723.6 880.3L727.6 887.1M703.5 826.5L709.9 831L709.9 835L713.9 835M703.5 826.5L724.4 823.8L740.4 822.2M738.8 824.6L741.2 843L742 854.2L740.4 866.2L732.4 874.2L727.6 890.3L737.2 890.3L746.8 892.7M741.2 843L782 842.2L798 840.6L800.4 832.6L780.4 831.8L782 827.8M728.4 851L731.6 863L737.2 866.2M746 867.8L739.6 890.3M742 866.2L766 860.6L782 851.8L807.6 840.6L833.2 832.6M769.2 871.8L793.2 859.8L807.6 854.2L806.8 858.2L796.4 866.2L772.4 881.9M793.2 859.8L797.2 866.2M724.4 823.8L769.2 822.2L793.2 826.2L817.2 833.4L833.2 837.4L857.1 839M801.2 819.8L814 829.4L825.2 835.8L857.1 840.6M809.2 824.6L826.8 819.8M814.8 829.4L844.4 822.2M833.2 823.8L846.1 821.4L849.3 837.4M813.2 835L813.2 840.6L809.2 845.4L793.2 858.2M663.5 736.9L678.7 735.8M676.3 754.2L700.3 751L721.2 744.6L735.6 742.2L740.4 747.8L746.8 746.2M735.6 742.2L734 752.6L730.8 759L727.6 755.8L709.9 752.6L700.3 751M672.3 761.4L674.7 773.5L684.3 770.3L689.1 762.2L698.7 763.9M674.7 773.5L677.1 792.7L681.1 805.5L684.3 813.5L709.9 802.3L746.8 789.5M681.1 794.3L697.1 789.5L709.9 786.3M711.5 786.3L727.6 783.1L729.2 787.9M705.1 770.3L716.3 768.7L717.9 775.1L712.3 776.7L713.1 783.1M727.6 755.8L732.4 767.1L735.6 768.7M753.2 773.5L760.4 773.8M767.6 717.4L775.6 718.2L782 720.6L801.2 714.2L817.2 711L833.2 706.2L857.1 701.4M769.2 720.6L778.8 731.8L785.2 730.2L807.6 726.2L825.2 722.2M775.6 718.2L774 743L772.4 752.6M782 731.8L780.4 747.8M794.8 735L793.2 747.8M807.6 717.4L806.8 731.8L805.2 760.6L804.4 786.3L809.2 810.3M817.2 717.4L810.8 763.9L807.6 789.5M834.8 739.8L830 763.9L825.2 789.5L823.6 802.3M839.6 711L838 731.8L833.2 752.6M785.2 730.2L796.4 722.2L806 725.4M772.4 752.6L801.2 755.8L817.2 759.8L857.1 759M796.4 763.1L788.4 767.1L787.6 778.3L778.8 770.3M761.2 789.5L775.6 795.9L785.2 808.7L798 819.9L810.8 829.5L833.2 837.5L857.1 839.1M767.6 791.1L782 802.3L793.2 815.1M764.4 807.9L778.8 810.3L790 810.3M796.4 789.5L804.4 791.9L807.6 799.1L801.2 805.5M806 787.1L831.6 784.7L857.1 779.9M815.6 819.1L833.2 815.1L857.1 810.3M810.8 824.7L857.1 816.7M703.5 826.3L724.4 823.9L769.2 821.5L793.2 826.3L817.2 832.7L857.1 835.9M703.5 826.3L709.9 830.3L709.9 834.3L714.7 834.3L715.5 849.8M738.8 824.7L740.4 849.8M724.4 823.9L722.8 832.7M780.4 821.5L782 832.7L799.6 831.9L798 843.9M827.1 833.1L839.9 837.1L859.1 838.7L879.9 836.3L896 831.5L916.8 822.7L929.6 820.3L945.6 823.5M827.1 826.7L851.1 818.7L881.5 812.2L910.4 802.6L939.2 797.8L971.2 793L1003.2 786.6M827.1 818.7L843.1 813.9L867.1 805.8L875.1 807.4L879.9 812.2M843.1 788.2L841.5 813.9M860.7 757.8L859.1 810.6M844.7 822.7L847.9 837.1M865.5 817.1L873.5 841.9L871.1 845.9M891.2 844.3L923.2 833.1L945.6 825.9M907.2 813.9L916.8 836.3M910.4 801L915.2 812.2L913.6 823.5L910.4 826.7M915.2 812.2L926.4 813.1L929.6 817.1L939.2 817.9M931.2 802.6L945.6 805.8L953.6 802.6L960 820.3M942.4 817.1L944 810.6L953.6 804.2L964.8 799.4L987.2 795.4M827.1 786.6L843.1 785L863.9 780.2L887.9 773.8L907.2 769M867.1 761L868.7 780.2M879.9 765.8L887.9 773.8M889.5 783.4L891.2 794.6L907.2 791.4M891.2 801L899.2 801M887.9 789.8L907.2 784.2M916.8 793L939.2 788.2L963.2 781.8L987.2 773.8L1003.2 769M916.8 775.4L929.6 773.8L955.2 777L964.8 781.8M926.4 762.6L924.8 791.4M937.6 777L939.2 797.8M945.6 778.6L946.4 788.2M968 781.8L980.8 780.2L996.8 775.4L998.4 780.2L1009.6 793M980.8 780.2L988.8 793M993.6 778.6L1001.6 791.4M971.2 757.8L987.2 765.8L995.2 769M985.6 759.4L986.4 765.8M827.1 762.6L846.3 757.8L867.1 753M881.5 761L907.2 754.6M923.2 757.8L955.2 754.6L971.2 749.8M966.4 786.6L971.2 797.8M827.1 710.3L843.1 705.5L863.9 700.6L879.9 692.6L891.2 687.8L900.8 691M830.3 703.9L841.5 700.6L843.1 705.5M831.9 715.1L833.5 735.9M843.1 711.9L842.3 729.5L847.9 758.3M857.5 695.8L859.1 719.9L865.5 735.9M879.9 692.6L883.1 691L884.7 692.6M886.3 683L904 687.8L916.8 692.6L920 703.9L926.4 710.3L939.2 711.9M891.2 700.6L894.4 715.1L902.4 739.1M876.7 718.3L907.2 711.9L936 707.1M878.3 729.5L910.4 721.5L939.2 715.1L955.2 711.9M881.5 739.1L913.6 731.1L929.6 727.9M884.7 745.5L910.4 739.9M936 715.1L923.2 732.7L916.8 742.3M923.2 674.2L952 667.8L963.2 668.6L972.8 674.2L952 679.8L929.6 684.6M923.2 674.2L942.4 692.6M929.6 684.6L932.8 686.2L958.4 679.8M952 667.8L950.4 673.4L929.6 679M963.2 668.6L987.2 670.2L996.8 675L1016.1 679.8L1017.7 681.4M972.8 674.2L995.2 679.8L1011.2 686.2M939.2 700.6L964.8 694.2L987.2 687.8L1001.6 686.2M964.8 707.1L977.6 713.5L995.2 708.7L1011.2 705.5L1027.1 707.1M993.6 678.2L1003.2 700.6L1011.2 719.9M1011.2 692.6L1027.1 695.8M1008 707.1L1027.1 711.9M939.2 711.9L955.2 723.1L971.2 729.5L987.2 735.9M929.6 735.9L971.2 726.3L1003.2 719.9M931.2 743.9L947.2 742.3L961.6 745.5L960 750.3L945.6 751.9M923.2 755.1L955.2 748.7L987.2 742.3L1027.1 734.3M926.4 763.1L958.4 756.7L987.2 751.9M827.1 735.9L851.1 729.5M827.1 755.1L847.9 758.3L875.1 751.9L907.2 743.9M827.1 763.1L851.1 764.7L871.9 761.5M867.1 759.9L868.7 780.7M886.3 751.9L889.5 767.9L902.4 764.7M894.4 758.3L913.6 761.5M968 751.9L971.2 767.9L987.2 764.7L1003.2 761.5M985.6 761.5L986.4 766.3M929.6 772.7L955.2 767.9L971.2 772.7L1003.2 767.9L1027.1 761.5M1003.2 735.9L1027.1 729.5M979.2 742.3L1027.1 735.9M977.1 670.6L993.1 673.8L991.5 677.8L997.9 686.6L977.1 689.8M977.1 681.8L993.1 680.2M1007.5 678.6L1018.7 680.2L1015.5 684.2L1029.9 689.8L1049.2 699.4L1050.8 701M1005.9 699.4L1025.1 697.8L1044.4 702.6L1054 705.8M1005.9 699.4L1010.7 710.6L1010.7 717.1L1005.9 721.9M1013.9 704.2L1029.9 702.6L1041.2 704.2M1013.9 709L1025.1 705.8L1037.9 706.6M977.1 713.9L993.1 709L1005.9 707.4M1044.4 707.4L1052.4 717.1M1047.6 707.4L1050.8 712.2M977.1 725.1L993.1 720.3M1018.7 731.5L1041.2 734.7L1060.4 736.3L1076.4 729.9L1081.2 726.7M1042.8 740.3L1047.6 741.1M1041.2 745.9L1057.2 752.3L1066.8 757.1L1081.2 758.7L1097.2 758.7L1106.8 755.5M1025.1 752.3L1044.4 753.9L1065.2 757.1M1037.9 760.3L1066.8 757.1M1055.6 741.1L1065.2 753.9M1066.8 760.3L1076.4 768.3L1086 768.3L1082.8 774.7L1079.6 777.9M1071.6 758.7L1081.2 761.9L1086 768.3M1033.1 761.9L1036.3 774.7M1013.9 745.9L1029.9 749.1L1041.2 745.9M977.1 761.9L989.9 758.7L1002.7 761.9M977.1 771.5L993.1 768.3L1005.9 771.5M977.1 781.1L986.7 777.9L993.1 790.7L977.1 797.1M993.1 777.9L1009.1 787.5L1005.9 792.3M986.7 761.9L988.3 771.5M996.3 774.7L997.9 766.7M977.1 789.1L985.1 787.5L988.3 793.9M1009.1 790.7L1015.5 789.1M980.3 739.5L993.1 745.9L1002.7 753.9M977.1 749.1L991.5 753.9M965.7 743.1L975.3 753.9M906.9 777.8L888.2 783.9L879.2 787.4M798.9 775.4L777.7 780.7M802.6 721.6L780.9 726.3L769.3 727.3M801.6 719.7L808 717.7M824.6 750L845.2 744.9M753.4 721.6L753.8 714.3L742.2 717.1M1021.9 741.6L1013.3 736M1021.9 703.8L1007.4 706.6L997.2 708.1M976.7 764.1L984.2 772.4L988.2 776.5L999.4 789.6M1014.3 756.1L1008.6 748.1M1025.2 693.1L1032.5 697.2L1034.1 701.7L1045.4 708.5L1052.6 713.7M1000.2 727.2L1011.3 737.6L1030.4 731.3L1032.1 736.9M928.4 758.4L939 754.2L949.2 749.8L967.7 743.3M920.6 730.2L924.5 740.5L933.8 750.3L944.1 759.6L952.4 769.4M930.4 694.3L937.7 704.9M912.6 734.6L903.5 737.2M847.5 736.4L842.4 728.5L830.9 729.4L827 723.5M894 741.7L910.1 739.6L920.6 736M916.5 690.2L921.6 695.9L927.5 701.1L935.4 711.2L940.9 718.2M900.8 796.8L891.9 798.7L882.3 786.1L878.6 782.6L870.6 770.5M864.5 755.5L857.1 745M860.3 747L855.2 749.6L838.1 755.4M918.6 765.8L926.5 773.9L936.6 785.1L941 792.7L959.6 785.3M841.7 711.6L836.7 705.7L834.7 702.8L828.1 703.8M863.8 734.2L856.7 737L849.8 739.8L827 745.7L822.7 741.2M975.8 740.7L987.4 751.9M938.6 720.7L923.2 725.6M947.8 720L951.1 723.3L972 719.1M999.5 700L1005.1 698.3M918.2 699.4L901.3 703.5L895.4 695.2L889.5 687.6M857.2 714.8L861.1 720.8L875.9 716.1L888.3 715.4M801.6 711.4L788.4 715.2L771.7 718.9M1062.5 737.3L1048.7 742.5L1037.8 731.1M922.4 678.7L939.4 674L951.6 669.4L959 676M978 738L961.4 741.2M935.1 689.7L918.4 692.9L916.6 688.5L913.2 684L908 678.6M1029.2 736.4L1017 725.7M982.7 665.8L978.1 667.3L961.7 670.7L954.4 672.1L949 668.8M941 714.6L925.4 719.5L907.2 724.1L904 720.3L896.9 710.6M788.6 716.5L778.3 718.4L759.2 723.2L738.7 729.5L719.3 735M887 794.5L867 800.4L852.9 803.9M774.7 729L773.3 725.5L766.3 726.2L765.9 719.7M835.3 741.9L818.7 744.7M939.4 680.2L953.8 675.9L959.8 681.2M914.1 693.8L922.2 703.9L927.1 710M939.8 769.6L927.8 771.5L915.6 775L894.7 780.1M901.1 715.4L893.5 715.8L876.3 720L860 726.2L846.7 729.3M931.2 683L926.8 678.5L917.4 680.3L907.5 683.2L891.7 688.1M947.7 755.9L951.8 762.5L968.9 755.7M927.7 786L922.6 782.4L899.3 789.3M1029.4 708.4L1022.1 711.3M917 715.9L897.4 720.5L889.9 712.2M957.8 702.9L975.3 700L982.7 705.4L995.8 700.8M918.5 717L929.5 713.5L937.7 724" stroke="#62cad2" stroke-opacity="0.85" stroke-width="0.5" fill="none" stroke-linejoin="round"/>
<path d="M689.6 728.6L737.2 899.2M732.3 718.3L794.6 879.4M772.9 708.4L848.4 860.9M811.8 699.1L898.9 843.5M848.9 690.1L946.4 827.1M884.4 681.5L991.1 811.7M918.5 673.3L1033.4 797.1M951.1 665.4L1073.4 783.3M982.5 657.8L1111.3 770.3M665.3 754.6L1012.7 666.9M670.8 780.4L1032.8 683.7M676.8 809.3L1054.7 702M683.7 841.9L1078.9 722.1M691.4 878.9L1105.6 744.4" stroke="#555" stroke-width="0.7" fill="none"/>
<polygon points="661.3,735.4 997.5,654.2 1129.2,764.1 698.5,912.5" stroke="#555" stroke-width="0.7" fill="none"/>
<g transform="translate(917.2 690.5) rotate(-0.5)"><path d="M-3 -1.3 L-3.1 -23.9 L3.1 -23.9 L3 -1.3 A3 1.3 0 0 1 -3 -1.3 Z" fill="url(#gNi)"/><ellipse cx="0" cy="-23.9" rx="3.1" ry="1.4" fill="#f0da3c"/></g>
<g transform="translate(1005.1 697) rotate(5)"><path d="M-3.1 -1.4 L-3.2 -28.8 L3.2 -28.8 L3.1 -1.4 A3.1 1.4 0 0 1 -3.1 -1.4 Z" fill="url(#gNi)"/><ellipse cx="0" cy="-28.8" rx="3.2" ry="1.4" fill="#f0da3c"/></g>
<g transform="translate(852.1 698) rotate(-5.1)"><path d="M-3.1 -1.4 L-3.2 -30.6 L3.2 -30.6 L3.1 -1.4 A3.1 1.4 0 0 1 -3.1 -1.4 Z" fill="url(#gNi)"/><ellipse cx="0" cy="-30.6" rx="3.2" ry="1.4" fill="#f0da3c"/></g>
<g transform="translate(960.3 714.9) rotate(2.6)"><path d="M-3.2 -1.5 L-3.3 -28.7 L3.3 -28.7 L3.2 -1.5 A3.2 1.5 0 0 1 -3.2 -1.5 Z" fill="url(#gNi)"/><ellipse cx="0" cy="-28.7" rx="3.3" ry="1.5" fill="#f0da3c"/></g>
<g transform="translate(872.6 724.9) rotate(-3.1)"><path d="M-3.3 -1.5 L-3.5 -35.7 L3.5 -35.7 L3.3 -1.5 A3.3 1.5 0 0 1 -3.3 -1.5 Z" fill="url(#gNi)"/><ellipse cx="0" cy="-35.7" rx="3.5" ry="1.6" fill="#f0da3c"/></g>
<g transform="translate(749.5 743.9) rotate(-11.2)"><path d="M-3.5 -1.6 L-3.7 -33 L3.7 -33 L3.5 -1.6 A3.5 1.6 0 0 1 -3.5 -1.6 Z" fill="url(#gNi)"/><ellipse cx="0" cy="-33" rx="3.7" ry="1.6" fill="#f0da3c" transform="rotate(6.1 0 -33)"/></g>
<g transform="translate(1006.2 748.2) rotate(3.1)"><path d="M-3.6 -1.6 L-3.7 -35.2 L3.7 -35.2 L3.6 -1.6 A3.6 1.6 0 0 1 -3.6 -1.6 Z" fill="url(#gNi)"/><ellipse cx="0" cy="-35.2" rx="3.7" ry="1.7" fill="#f0da3c"/></g>
<g transform="translate(996.6 752) rotate(4.3)"><path d="M-3.6 -1.6 L-3.8 -40.3 L3.8 -40.3 L3.6 -1.6 A3.6 1.6 0 0 1 -3.6 -1.6 Z" fill="url(#gNi)"/><ellipse cx="0" cy="-40.3" rx="3.8" ry="1.7" fill="#f0da3c"/></g>
<g transform="translate(760.8 752.6) rotate(-10.3)"><path d="M-3.6 -1.6 L-3.8 -35.9 L3.8 -35.9 L3.6 -1.6 A3.6 1.6 0 0 1 -3.6 -1.6 Z" fill="url(#gNi)"/><ellipse cx="0" cy="-35.9" rx="3.8" ry="1.7" fill="#f0da3c" transform="rotate(5.7 0 -35.9)"/></g>
<g transform="translate(976.6 753.8) rotate(3.1)"><path d="M-3.6 -1.6 L-3.8 -36.5 L3.8 -36.5 L3.6 -1.6 A3.6 1.6 0 0 1 -3.6 -1.6 Z" fill="url(#gNi)"/><ellipse cx="0" cy="-36.5" rx="3.8" ry="1.7" fill="#f0da3c"/></g>
<g transform="translate(769.1 756) rotate(-9.6)"><path d="M-3.6 -1.6 L-3.8 -34.8 L3.8 -34.8 L3.6 -1.6 A3.6 1.6 0 0 1 -3.6 -1.6 Z" fill="url(#gNi)"/><ellipse cx="0" cy="-34.8" rx="3.9" ry="1.7" fill="#f0da3c" transform="rotate(5.3 0 -34.8)"/></g>
<g transform="translate(856.6 758.2) rotate(-4.3)"><path d="M-3.7 -1.6 L-3.8 -37.3 L3.8 -37.3 L3.7 -1.6 A3.7 1.6 0 0 1 -3.7 -1.6 Z" fill="url(#gNi)"/><ellipse cx="0" cy="-37.3" rx="3.8" ry="1.7" fill="#f0da3c"/></g>
<g transform="translate(1068.3 759.7) rotate(8.4)"><path d="M-3.7 -1.7 L-3.9 -38.8 L3.9 -38.8 L3.7 -1.7 A3.7 1.7 0 0 1 -3.7 -1.7 Z" fill="url(#gNi)"/><ellipse cx="0" cy="-38.8" rx="3.9" ry="1.7" fill="#f0da3c" transform="rotate(-4.6 0 -38.8)"/></g>
<g transform="translate(877.4 760.4) rotate(-4.3)"><path d="M-3.7 -1.7 L-3.8 -29.1 L3.8 -29.1 L3.7 -1.7 A3.7 1.7 0 0 1 -3.7 -1.7 Z" fill="url(#gNi)"/><ellipse cx="0" cy="-29.1" rx="3.8" ry="1.7" fill="#f0da3c"/></g>
<g transform="translate(1097.5 760.4) rotate(10.7)"><path d="M-3.7 -1.7 L-3.9 -38.2 L3.9 -38.2 L3.7 -1.7 A3.7 1.7 0 0 1 -3.7 -1.7 Z" fill="url(#gNi)"/><ellipse cx="0" cy="-38.2" rx="3.9" ry="1.7" fill="#f0da3c" transform="rotate(-5.9 0 -38.2)"/></g>
<g transform="translate(1033.7 761) rotate(7.3)"><path d="M-3.7 -1.7 L-4.1 -82.1 L4.1 -82.1 L3.7 -1.7 A3.7 1.7 0 0 1 -3.7 -1.7 Z" fill="url(#gNi)"/><ellipse cx="0" cy="-82.1" rx="4.1" ry="1.8" fill="#f0da3c"/></g>
<g transform="translate(919 765.1) rotate(-0.8)"><path d="M-3.7 -1.7 L-3.9 -38 L3.9 -38 L3.7 -1.7 A3.7 1.7 0 0 1 -3.7 -1.7 Z" fill="url(#gNi)"/><ellipse cx="0" cy="-38" rx="3.9" ry="1.8" fill="#f0da3c"/></g>
<g transform="translate(912.3 771.6) rotate(-0.9)"><path d="M-3.8 -1.7 L-4 -38.9 L4 -38.9 L3.8 -1.7 A3.8 1.7 0 0 1 -3.8 -1.7 Z" fill="url(#gNi)"/><ellipse cx="0" cy="-38.9" rx="4" ry="1.8" fill="#f0da3c"/></g>
<g transform="translate(1008.1 775.1) rotate(5.1)"><path d="M-3.8 -1.7 L-4.2 -79.8 L4.2 -79.8 L3.8 -1.7 A3.8 1.7 0 0 1 -3.8 -1.7 Z" fill="url(#gNi)"/><ellipse cx="0" cy="-79.8" rx="4.2" ry="1.9" fill="#f0da3c"/></g>
<g transform="translate(965.5 780.6) rotate(2.8)"><path d="M-3.9 -1.7 L-4 -34.4 L4 -34.4 L3.9 -1.7 A3.9 1.7 0 0 1 -3.9 -1.7 Z" fill="url(#gNi)"/><ellipse cx="0" cy="-34.4" rx="4" ry="1.8" fill="#f0da3c"/></g>
<g transform="translate(836.3 786.4) rotate(-5.9)"><path d="M-3.9 -1.8 L-4.1 -28.4 L4.1 -28.4 L3.9 -1.8 A3.9 1.8 0 0 1 -3.9 -1.8 Z" fill="url(#gNi)"/><ellipse cx="0" cy="-28.4" rx="4.1" ry="1.8" fill="#f0da3c"/></g>
<g transform="translate(1016.4 787) rotate(5.8)"><path d="M-4 -1.8 L-4.2 -53.5 L4.2 -53.5 L4 -1.8 A4 1.8 0 0 1 -4 -1.8 Z" fill="url(#gNi)"/><ellipse cx="0" cy="-53.5" rx="4.2" ry="1.9" fill="#f0da3c"/></g>
<g transform="translate(709.8 788.8) rotate(-16.8)"><path d="M-4 -1.8 L-4.1 -37.1 L4.1 -37.1 L4 -1.8 A4 1.8 0 0 1 -4 -1.8 Z" fill="url(#gNi)"/><ellipse cx="0" cy="-37.1" rx="4.2" ry="1.9" fill="#f0da3c" transform="rotate(9.2 0 -37.1)"/></g>
<g transform="translate(752.1 788.9) rotate(-11.8)"><path d="M-4 -1.8 L-4.1 -32.3 L4.1 -32.3 L4 -1.8 A4 1.8 0 0 1 -4 -1.8 Z" fill="url(#gNi)"/><ellipse cx="0" cy="-32.3" rx="4.2" ry="1.9" fill="#f0da3c" transform="rotate(6.5 0 -32.3)"/></g>
<g transform="translate(704.1 792.8) rotate(-16.4)"><path d="M-4.6 -2.1 L-5.2 -251 L5.2 -251 L4.6 -2.1 A4.6 2.1 0 0 1 -4.6 -2.1 Z" fill="url(#gNi)"/><ellipse cx="0" cy="-251" rx="5.3" ry="2.3" fill="#f0da3c" transform="rotate(9 0 -251)"/></g>
<g transform="translate(911 798.3) rotate(-0.7)"><path d="M-4.1 -1.8 L-4.3 -39.2 L4.3 -39.2 L4.1 -1.8 A4.1 1.8 0 0 1 -4.1 -1.8 Z" fill="url(#gNi)"/><ellipse cx="0" cy="-39.2" rx="4.3" ry="1.9" fill="#f0da3c"/></g>
<g transform="translate(783.2 805.1) rotate(-9.7)"><path d="M-4.1 -1.9 L-4.3 -36.2 L4.3 -36.2 L4.1 -1.9 A4.1 1.9 0 0 1 -4.1 -1.9 Z" fill="url(#gNi)"/><ellipse cx="0" cy="-36.2" rx="4.4" ry="1.9" fill="#f0da3c" transform="rotate(5.3 0 -36.2)"/></g>
<g transform="translate(709.5 806.6) rotate(-13.6)"><path d="M-4.1 -1.9 L-4.3 -37.4 L4.3 -37.4 L4.1 -1.9 A4.1 1.9 0 0 1 -4.1 -1.9 Z" fill="url(#gNi)"/><ellipse cx="0" cy="-37.4" rx="4.4" ry="2" fill="#f0da3c" transform="rotate(7.5 0 -37.4)"/></g>
<g transform="translate(885 811.9) rotate(-3.3)"><path d="M-4.2 -1.9 L-5 -162.1 L5 -162.1 L4.2 -1.9 A4.2 1.9 0 0 1 -4.2 -1.9 Z" fill="url(#gNi)"/><ellipse cx="0" cy="-162.1" rx="5" ry="2.3" fill="#f0da3c"/></g>
<g transform="translate(797.5 817.8) rotate(-8.5)"><path d="M-4.3 -1.9 L-4.4 -33.7 L4.4 -33.7 L4.3 -1.9 A4.3 1.9 0 0 1 -4.3 -1.9 Z" fill="url(#gNi)"/><ellipse cx="0" cy="-33.7" rx="4.5" ry="2" fill="#f0da3c" transform="rotate(4.7 0 -33.7)"/></g>
<path d="M631.4 600.2 C634.9 595.7 637.9 592.5 641.2 592.5 C645.4 592.5 646.9 599.4 652 599.4 C655.9 599.4 658.9 596.2 661.6 592.2 L662 599.7 C659.3 603.7 656.3 606.9 652.4 606.9 C647.3 606.9 645.8 600 641.6 600 C638.3 600 635.3 603.2 631.8 607.7 Z" fill="#fff"/><path d="M631.4 600.2 C634.9 595.7 637.9 592.5 641.2 592.5 C645.4 592.5 646.9 599.4 652 599.4 C655.9 599.4 658.9 596.2 661.6 592.2" stroke="#000" stroke-width="1.7" fill="none" stroke-linecap="butt"/><path d="M631.8 607.7 C635.3 603.2 638.3 600 641.6 600 C645.8 600 647.3 606.9 652.4 606.9 C656.3 606.9 659.3 603.7 662 599.7" stroke="#000" stroke-width="1.7" fill="none" stroke-linecap="butt"/>
<g transform="translate(1073.8 653) rotate(9.1)"><path d="M-2.7 -1.2 L-2.7 -31.5 L2.7 -31.5 L2.7 -1.2 A2.7 1.2 0 0 1 -2.7 -1.2 Z" fill="url(#gNi)"/><ellipse cx="0" cy="-31.5" rx="2.8" ry="1.2" fill="#f0da3c" transform="rotate(-5 0 -31.5)"/></g>
<text x="1054.6" y="600.7" font-size="37.5" class="t">Ni</text>
<text x="1092.2" y="646.5" font-size="30.2" class="t">2000 counts</text>
</g>
<clipPath id="pc"><polygon points="34.6,995.4 370.8,914.2 502.5,1024.1 71.8,1172.5"/></clipPath>
<polygon points="34.6,995.4 370.8,914.2 502.5,1024.1 71.8,1172.5" fill="#6a6d66"/>
<g clip-path="url(#pc)" filter="url(#blur)">
<polygon points="240.7,1022.7 262.4,1016.4 267.8,1024.2 245.8,1030.7" fill="#6e6f68"/>
<polygon points="344.7,939.7 359.8,935.9 365.7,941.2 350.4,945.2" fill="#7e7c74"/>
<polygon points="315.9,935.1 324.5,933 327.4,935.9 318.8,938.1" fill="#5a5f57"/>
<polygon points="78.2,1165.5 110.2,1154.5 114.7,1170.8 82,1182.3" fill="#7e7c74"/>
<polygon points="323.4,1009.5 342,1004 345.4,1007.9 326.7,1013.5" fill="#474d44"/>
<polygon points="110.6,1006.9 117.2,1005.2 120.1,1012.6 113.4,1014.3" fill="#4b5049"/>
<polygon points="259.1,962.2 267.6,960 271.5,964.8 262.9,967" fill="#474d44"/>
<polygon points="309.4,986.4 318.8,983.8 328.5,994.9 318.9,997.6" fill="#51574e"/>
<polygon points="310.2,965.3 318.4,963.1 322.9,967.9 314.6,970.2" fill="#51574e"/>
<polygon points="242.3,955 248.8,953.4 252.4,958 245.7,959.7" fill="#51574e"/>
<polygon points="462.7,1007 467.6,1005.5 473.7,1010.6 468.8,1012.2" fill="#474d44"/>
<polygon points="294.1,1091.2 308.2,1086.4 312,1091.9 297.8,1096.8" fill="#5a5f57"/>
<polygon points="140,1074 153.7,1069.8 157,1077.8 143.1,1082" fill="#474d44"/>
<polygon points="450.9,994.5 457.4,992.5 463.5,997.7 457,999.7" fill="#51574e"/>
<polygon points="39.4,1062.9 56.7,1058.1 59.4,1069.7 41.7,1074.8" fill="#666a62"/>
<polygon points="207.8,974.6 224.6,970.3 227.2,974.1 210.2,978.5" fill="#5a5f57"/>
<polygon points="199.2,1007 221.8,1000.8 223.8,1004.1 201.1,1010.3" fill="#7e7c74"/>
<polygon points="207.3,1098 218.5,1094.3 223.5,1104.1 212.1,1107.9" fill="#7e7c74"/>
<polygon points="268.1,947.7 286.9,943 290.4,946.9 271.3,951.6" fill="#70726a"/>
<polygon points="43.8,1089.6 69.5,1082 71.7,1091.2 45.6,1099" fill="#51574e"/>
<polygon points="82.8,1072.7 94.9,1069.2 98.3,1080.4 85.9,1084.1" fill="#78756c"/>
<polygon points="263.8,952.1 277.2,948.8 284.2,957 270.6,960.4" fill="#5d6159"/>
<polygon points="347.5,938.1 354,936.5 362.8,944.6 356.2,946.3" fill="#7e7c74"/>
<polygon points="132,993.7 150.5,989 155.8,999.9 136.8,1004.8" fill="#666a62"/>
<polygon points="310.6,975.7 322.8,972.3 326,975.8 313.7,979.2" fill="#474d44"/>
<polygon points="66,989.1 89,983.5 90.7,988.4 67.5,994.1" fill="#575d53"/>
<polygon points="179.3,1093.3 198.4,1087.1 202.4,1095.4 183,1101.7" fill="#5d6159"/>
<polygon points="474.3,1029 481.2,1026.6 490.7,1034.9 483.7,1037.4" fill="#5a5f57"/>
<polygon points="393.6,987.4 402.5,984.7 413.7,995.2 404.6,997.9" fill="#666a62"/>
<polygon points="299.8,936.1 310,933.6 313.8,937.5 303.5,940" fill="#474d44"/>
<polygon points="111.3,1026.6 128.3,1022 130.3,1026.8 113.1,1031.5" fill="#78756c"/>
<polygon points="98.8,1043.8 111.8,1040.1 115.8,1051.5 102.5,1055.3" fill="#6e6f68"/>
<polygon points="252.2,956.7 257.7,955.3 259.8,958.1 254.3,959.5" fill="#78756c"/>
<polygon points="387.8,1055.3 393.8,1053.3 403.8,1064.3 397.7,1066.4" fill="#4b5049"/>
<polygon points="60.4,1030.8 69.6,1028.3 70.8,1032.7 61.5,1035.2" fill="#4b5049"/>
<polygon points="296.7,1038.4 317.9,1031.9 326.7,1042.9 305.1,1049.8" fill="#5d6159"/>
<polygon points="415.5,1035.9 426.4,1032.2 437.2,1042.8 426.1,1046.6" fill="#51574e"/>
<polygon points="375,962.3 390.6,958 400.4,966.8 384.6,971.3" fill="#7e7c74"/>
<polygon points="48.3,1098.9 64.4,1094.1 65.5,1099.1 49.3,1103.9" fill="#51574e"/>
<polygon points="80.7,1084.5 109,1076.1 113.8,1091.1 84.7,1100" fill="#78756c"/>
<polygon points="230.9,1058.3 248,1053.1 253.4,1061.9 236.1,1067.4" fill="#6e6f68"/>
<polygon points="88.2,1105.7 96.3,1103.2 99.9,1116 91.6,1118.6" fill="#4b5049"/>
<polygon points="65.6,1163.1 76.8,1159.3 80.9,1177.9 69.4,1181.9" fill="#5a5f57"/>
<polygon points="371.8,941.1 376.4,940 381.3,944.3 376.7,945.5" fill="#5a5f57"/>
<polygon points="297.6,999.4 314.8,994.5 320,1000.6 302.6,1005.6" fill="#4b5049"/>
<polygon points="230.3,975.9 241.9,972.9 245.3,977.6 233.6,980.7" fill="#5a5f57"/>
<polygon points="256.5,1064.8 279.8,1057.5 289.1,1071.4 265.4,1079.1" fill="#575d53"/>
<polygon points="169.3,1119 181.1,1115.1 184.1,1122.1 172.1,1126.1" fill="#78756c"/>
<polygon points="421.3,1020.7 437.3,1015.5 450.6,1027.9 434.3,1033.3" fill="#70726a"/>
<polygon points="326.6,934.7 337.4,932.1 345.9,940.1 334.9,942.9" fill="#575d53"/>
<polygon points="208.8,1024.9 226.7,1019.9 233,1030.2 214.8,1035.5" fill="#7e7c74"/>
<polygon points="201.2,960.9 206.8,959.5 212.6,968.4 206.9,969.9" fill="#474d44"/>
<polygon points="296.8,964.1 306.9,961.4 313.6,968.8 303.3,971.5" fill="#7e7c74"/>
<polygon points="33.2,1010.8 48.2,1007.1 49,1010.6 34,1014.4" fill="#70726a"/>
<polygon points="124.5,988.7 131.1,987.1 134.7,995.2 128,996.9" fill="#4b5049"/>
<polygon points="89.5,1061.7 109.4,1056.1 112.1,1064.2 91.9,1070.1" fill="#51574e"/>
<polygon points="291.1,954.6 302.7,951.6 306.2,955.4 294.5,958.4" fill="#474d44"/>
<polygon points="350.5,987 356,985.4 360.7,990.3 355.1,991.9" fill="#78756c"/>
<polygon points="320,1074.7 335.3,1069.5 347.5,1085.5 331.9,1091" fill="#5d6159"/>
<polygon points="238.8,1067.5 262.2,1060.1 265.5,1065.3 241.9,1072.8" fill="#575d53"/>
<polygon points="95.1,1045.4 114,1040.1 118.7,1053.4 99.3,1058.9" fill="#575d53"/>
<polygon points="288.7,1025.1 302.9,1020.8 311.7,1032.2 297.3,1036.6" fill="#78756c"/>
<polygon points="254.2,1035.2 263.7,1032.3 271.1,1043.2 261.4,1046.2" fill="#5a5f57"/>
<polygon points="358.6,928.1 366.1,926.2 371.3,930.8 363.8,932.7" fill="#51574e"/>
<polygon points="423.8,966.3 439,962 445.1,967 429.8,971.5" fill="#474d44"/>
<polygon points="163.9,971.1 176.4,968 180.3,974.9 167.6,978.1" fill="#70726a"/>
<polygon points="210.1,952.9 227.3,948.8 229.4,951.7 212.2,955.9" fill="#474d44"/>
<polygon points="108.1,1022 128.9,1016.4 130.9,1021.2 109.8,1026.9" fill="#5d6159"/>
<polygon points="485.3,1009.9 497.6,1005.8 509.1,1015.2 496.8,1019.4" fill="#4b5049"/>
<polygon points="408.1,964.1 425.5,959.2 429.4,962.5 411.9,967.5" fill="#666a62"/>
<polygon points="235.4,1024 255.6,1018.2 261.6,1027 241,1033" fill="#5d6159"/>
<polygon points="299.8,1058.9 315.9,1053.7 321.5,1061.1 305.2,1066.5" fill="#575d53"/>
<polygon points="465.3,1010.5 479,1006.1 486.2,1012.1 472.4,1016.7" fill="#5d6159"/>
<polygon points="419.3,965.7 431.6,962.2 436.6,966.4 424.2,969.9" fill="#6e6f68"/>
<polygon points="69.1,983.9 81.5,980.9 83.9,988.1 71.2,991.2" fill="#474d44"/>
<polygon points="250.5,993.9 268.8,988.9 274.6,996.6 256.1,1001.7" fill="#4b5049"/>
<polygon points="66.3,1007 89.6,1001.2 92,1008.4 68.4,1014.4" fill="#575d53"/>
<polygon points="157.8,1031.3 166.4,1028.9 170.1,1036.8 161.4,1039.3" fill="#4b5049"/>
<polygon points="229.2,958.4 240.5,955.5 242.6,958.4 231.2,961.2" fill="#70726a"/>
<polygon points="113.2,1104.3 121.1,1101.8 123.5,1109.3 115.6,1111.8" fill="#666a62"/>
<polygon points="34.2,1033.3 55.2,1027.8 56.7,1033.8 35.4,1039.5" fill="#4b5049"/>
<polygon points="97.9,1098.5 107.9,1095.4 111.4,1106.7 101.2,1109.9" fill="#70726a"/>
<polygon points="357.8,1013 376.8,1007.2 380.3,1010.8 361.1,1016.7" fill="#5a5f57"/>
<polygon points="222.2,1022.7 230.9,1020.3 234.3,1025.7 225.5,1028.2" fill="#5a5f57"/>
<polygon points="241.2,969.9 249.6,967.7 254.7,974.5 246.1,976.7" fill="#7e7c74"/>
<polygon points="349.7,943.9 364.2,940.2 372.6,947.8 357.9,951.7" fill="#5d6159"/>
<polygon points="166.3,1003.4 188,997.6 190.8,1002.7 168.9,1008.6" fill="#666a62"/>
<polygon points="348.8,931.8 356.3,929.9 363.7,936.6 356.1,938.6" fill="#70726a"/>
<polygon points="204,1012 226,1006 231.1,1014.1 208.8,1020.4" fill="#5d6159"/>
<polygon points="137.8,1065.3 160.5,1058.6 162.7,1063.8 139.9,1070.7" fill="#7e7c74"/>
<polygon points="373,1049.2 394.8,1042 399.5,1047.1 377.6,1054.4" fill="#6e6f68"/>
<polygon points="288,975.2 308,969.9 316,978.9 295.6,984.5" fill="#51574e"/>
<polygon points="208,952.9 224.4,949 229.2,955.6 212.5,959.7" fill="#7e7c74"/>
<polygon points="220,971.4 227,969.6 229.9,973.7 222.8,975.5" fill="#5d6159"/>
<polygon points="486.6,1014.6 492.8,1012.5 497.7,1016.5 491.4,1018.6" fill="#5a5f57"/>
<polygon points="265.4,1053.6 277.4,1049.8 283.5,1058.8 271.3,1062.7" fill="#6e6f68"/>
<polygon points="174.4,985.8 186.1,982.8 190.7,990.9 178.8,994" fill="#474d44"/>
<polygon points="340.4,939.7 351,937 358.6,944.1 347.9,946.9" fill="#575d53"/>
<polygon points="415.2,979.4 421.3,977.7 431.7,986.8 425.5,988.6" fill="#78756c"/>
<polygon points="433.7,1007.8 449.1,1002.9 461.4,1013.8 445.8,1018.9" fill="#5a5f57"/>
<polygon points="416.2,973.6 423.5,971.5 431.9,978.7 424.5,980.9" fill="#78756c"/>
<polygon points="336.1,950.8 353.2,946.3 361.1,953.8 343.7,958.4" fill="#5d6159"/>
<polygon points="355.4,966 372.8,961.3 382.4,970.3 364.8,975.3" fill="#78756c"/>
<polygon points="384.2,1016.6 395.8,1013 405.8,1023 394.1,1026.8" fill="#51574e"/>
<polygon points="338.3,956 344.4,954.4 353.3,963.2 347.1,964.9" fill="#5a5f57"/>
<polygon points="344.7,922.8 352.5,920.9 361.3,928.7 353.4,930.7" fill="#70726a"/>
<polygon points="201.9,1052.4 218.9,1047.3 224.4,1056.9 207.1,1062.2" fill="#575d53"/>
<polygon points="259.1,1006.9 268.2,1004.4 271.4,1008.7 262.2,1011.3" fill="#575d53"/>
<polygon points="364.4,915 376.2,912.2 383.7,918.4 371.8,921.3" fill="#70726a"/>
<polygon points="232.1,1015.7 250.9,1010.4 257.2,1019.7 238.1,1025.2" fill="#474d44"/>
<polygon points="71.9,1018.3 95.2,1012.2 98,1020.6 74.3,1026.9" fill="#6e6f68"/>
<polygon points="222.4,1021.2 242.9,1015.4 245.8,1019.7 225.1,1025.7" fill="#4b5049"/>
<polygon points="319.3,932.1 331.7,929.1 338.9,936 326.3,939.2" fill="#474d44"/>
<polygon points="251.3,1095.9 265.7,1091.1 276,1108.1 261.3,1113.2" fill="#4b5049"/>
<polygon points="279.6,1017.8 292.4,1014.1 298.5,1022 285.5,1025.9" fill="#70726a"/>
<polygon points="273.8,1019.7 285.6,1016.3 290.2,1022.4 278.3,1025.9" fill="#5a5f57"/>
<polygon points="195,1112.6 216.1,1105.5 223.5,1120.5 202,1127.9" fill="#474d44"/>
<polygon points="34.1,1027.1 41.5,1025.2 42.6,1030.3 35.1,1032.3" fill="#5a5f57"/>
<polygon points="248.4,1087.4 269.5,1080.4 272.8,1085.5 251.4,1092.7" fill="#78756c"/>
<polygon points="91.5,1141.1 109.6,1135.1 113.2,1147.7 94.8,1153.9" fill="#666a62"/>
<polygon points="43.5,1002.9 64.7,997.6 67.8,1008.6 46.1,1014.1" fill="#5d6159"/>
<polygon points="464.8,1000.7 478.2,996.4 483.3,1000.6 469.8,1004.9" fill="#7e7c74"/>
<polygon points="191.5,968.9 210.3,964.2 213.8,969.6 194.8,974.4" fill="#5d6159"/>
<polygon points="92,1044.4 111.7,1038.9 114.7,1047.4 94.6,1053" fill="#70726a"/>
<polygon points="326.5,1019 337.8,1015.6 346.8,1026 335.2,1029.6" fill="#5d6159"/>
<polygon points="443.6,992.6 451.8,990.1 456.5,994.1 448.3,996.7" fill="#70726a"/>
<polygon points="371.7,995.6 382.1,992.5 387.6,997.9 377,1001" fill="#5a5f57"/>
<polygon points="360.2,1011.9 368.4,1009.4 374,1015.3 365.6,1017.8" fill="#666a62"/>
<polygon points="110.8,1007.9 134.4,1001.8 139.3,1013 115.1,1019.5" fill="#5a5f57"/>
<polygon points="39.9,998.5 51.1,995.8 52.7,1002.5 41.4,1005.3" fill="#7e7c74"/>
<polygon points="44.2,1021 56,1018 58.6,1028.6 46.5,1031.8" fill="#5a5f57"/>
<polygon points="97.9,1009.1 121.8,1002.9 124.9,1010.4 100.6,1016.8" fill="#78756c"/>
<polygon points="124.7,1018.9 144.5,1013.6 149.4,1024.8 129.2,1030.3" fill="#51574e"/>
<polygon points="356.1,971.9 372.7,967.3 382.1,976.3 365.3,981.1" fill="#666a62"/>
<polygon points="256,1053 269.3,1048.9 273,1054.5 259.6,1058.7" fill="#5d6159"/>
<polygon points="373,1066.3 384.5,1062.3 393.6,1072.7 381.9,1076.8" fill="#5d6159"/>
<polygon points="214.3,998.9 221.5,996.9 228.3,1007.6 220.9,1009.6" fill="#51574e"/>
<polygon points="263.7,995.1 278.2,991.1 285.9,1001 271.1,1005.2" fill="#4b5049"/>
<polygon points="194.7,1077.9 202.9,1075.4 206.4,1082.3 198.1,1084.9" fill="#5a5f57"/>
<polygon points="314.4,1025.1 328.2,1020.9 337.2,1031.7 323.1,1036.1" fill="#78756c"/>
<polygon points="142.5,984.5 154.2,981.6 158.5,990.3 146.7,993.3" fill="#78756c"/>
<polygon points="375,949.1 385.4,946.3 392.8,952.8 382.3,955.6" fill="#5a5f57"/>
<polygon points="391,960.9 406.5,956.6 412,961.4 396.4,965.8" fill="#78756c"/>
<polygon points="174.2,1129 197.6,1121 203.3,1133.5 179.4,1141.8" fill="#51574e"/>
<polygon points="188.2,1005.3 200.2,1002.1 204.1,1008.8 191.9,1012.1" fill="#575d53"/>
<polygon points="390.9,1009.6 401.7,1006.3 408.6,1013.1 397.8,1016.5" fill="#5d6159"/>
<polygon points="381.5,982.5 388.9,980.4 398.4,989.3 390.9,991.6" fill="#70726a"/>
<polygon points="334.4,946.3 339.8,944.9 343.4,948.5 338,949.9" fill="#70726a"/>
<polygon points="436.1,980.8 451.9,976.1 456,979.5 440.1,984.3" fill="#6e6f68"/>
<polygon points="178.6,1038 191,1034.5 194.4,1041 181.8,1044.6" fill="#51574e"/>
<polygon points="347.2,926.3 359.6,923.2 363.1,926.3 350.6,929.4" fill="#5a5f57"/>
<polygon points="243,1050.1 258.1,1045.5 266.8,1059 251.4,1063.9" fill="#78756c"/>
<polygon points="337.6,969.2 347.4,966.6 357.2,976.5 347.3,979.3" fill="#5a5f57"/>
<polygon points="100,1050.1 122.5,1043.8 124.2,1048.4 101.5,1054.9" fill="#7e7c74"/>
<polygon points="388.2,957.8 403.9,953.5 412.3,960.7 396.3,965.1" fill="#474d44"/>
<polygon points="407.9,1022.1 426.8,1016 440,1028.5 420.7,1034.9" fill="#5a5f57"/>
<polygon points="42.4,1044 49.4,1042.1 50.6,1047.1 43.5,1049" fill="#575d53"/>
<polygon points="369.2,940.5 375.8,938.8 383.1,945.3 376.5,947.1" fill="#5a5f57"/>
<polygon points="99.3,1004.2 113,1000.7 115.3,1006.4 101.4,1010" fill="#474d44"/>
<polygon points="265.6,1046.8 277.1,1043.3 280.9,1048.8 269.3,1052.4" fill="#5d6159"/>
<polygon points="433,999.2 438.1,997.6 446.3,1004.9 441.1,1006.6" fill="#474d44"/>
<polygon points="157.3,988.4 169.1,985.4 173.2,993.2 161.3,996.3" fill="#7e7c74"/>
<polygon points="344.4,998.5 353,996 357.4,1000.8 348.8,1003.3" fill="#70726a"/>
<polygon points="255.5,1088 280.2,1079.8 288,1091.9 262.9,1100.5" fill="#6e6f68"/>
<polygon points="225,979.9 244.3,974.9 251.5,984.8 231.8,990.1" fill="#78756c"/>
<polygon points="345.5,1029.9 352.5,1027.7 363.1,1039.8 355.9,1042.2" fill="#575d53"/>
<polygon points="80.7,1155.4 108.2,1146.2 111.5,1157.8 83.5,1167.4" fill="#6e6f68"/>
<polygon points="395.3,1014.8 412.6,1009.4 416.7,1013.3 399.3,1018.8" fill="#666a62"/>
<polygon points="444.5,1018.1 463.1,1012 471.7,1019.5 452.9,1025.8" fill="#666a62"/>
<polygon points="344.3,1000.5 352,998.2 356.2,1002.8 348.5,1005.1" fill="#78756c"/>
<polygon points="129.8,1129 155.6,1120.5 158.3,1127.6 132.2,1136.3" fill="#7e7c74"/>
<polygon points="160.9,1041.2 170.1,1038.5 175.7,1050.2 166.3,1053" fill="#474d44"/>
<polygon points="161.2,1120.6 171.8,1117.1 174.6,1124.1 163.9,1127.7" fill="#78756c"/>
<polygon points="176.4,1071.4 184.9,1068.7 189.6,1078.6 180.9,1081.3" fill="#4b5049"/>
<polygon points="87.6,1105.5 107.1,1099.5 110.6,1110.9 90.7,1117.2" fill="#474d44"/>
<polygon points="348.4,969.6 366.3,964.7 369.8,968.1 351.8,973.1" fill="#4b5049"/>
<polygon points="135.8,1049.9 152.5,1045.1 154.9,1050.7 138,1055.6" fill="#70726a"/>
<polygon points="172.7,1015.9 188.5,1011.6 195.3,1024.1 179.1,1028.7" fill="#5a5f57"/>
<polygon points="317.3,969.7 332.2,965.7 335.6,969.2 320.5,973.3" fill="#575d53"/>
<polygon points="348.1,1024.3 366.3,1018.7 370.5,1023.4 352.3,1029.1" fill="#4b5049"/>
<polygon points="37.3,1048 58.6,1042.2 60.1,1048.5 38.5,1054.4" fill="#7e7c74"/>
<polygon points="104.6,1105.4 130.7,1097.2 136.2,1112.9 109.4,1121.6" fill="#666a62"/>
<polygon points="354.9,932.5 367.4,929.3 376.5,937.3 363.8,940.6" fill="#70726a"/>
<polygon points="447.2,995.1 459.9,991.1 464.4,995 451.7,999" fill="#666a62"/>
<polygon points="144.7,1084.2 158.5,1079.9 165.1,1095.9 150.9,1100.4" fill="#7e7c74"/>
<polygon points="255.5,1032.7 269.2,1028.6 274.4,1036.1 260.5,1040.3" fill="#51574e"/>
<polygon points="83.4,992.5 101.3,988.1 104.5,996.9 86.3,1001.5" fill="#5d6159"/>
<polygon points="101.9,980.1 115.5,976.8 118.9,985.2 105.1,988.6" fill="#51574e"/>
<polygon points="121.1,991.9 129,989.9 131.8,996.3 123.7,998.3" fill="#51574e"/>
<polygon points="218.7,1080.5 243.4,1072.6 247,1078.7 222,1086.7" fill="#666a62"/>
<polygon points="391.9,1024.8 403.3,1021.1 410,1027.8 398.5,1031.6" fill="#575d53"/>
<polygon points="325.6,1027.6 341.3,1022.8 347,1029.4 331.1,1034.3" fill="#666a62"/>
<polygon points="325.4,1006.4 331.1,1004.8 336.4,1011 330.8,1012.7" fill="#78756c"/>
<polygon points="171.4,1022.1 187.4,1017.7 190.3,1023.1 174.1,1027.6" fill="#78756c"/>
<polygon points="400.4,1022.8 415.2,1018.1 420.3,1023.1 405.4,1027.9" fill="#6e6f68"/>
<polygon points="401.6,974.4 411.2,971.7 418.7,978.3 409,981.2" fill="#5d6159"/>
<polygon points="253.6,964 272.5,959.1 280.6,968.9 261.2,974" fill="#666a62"/>
<polygon points="237.2,946.2 251.7,942.7 257.7,950.2 243.1,953.8" fill="#5d6159"/>
<polygon points="154.3,1050.7 174.1,1044.9 177.6,1052.3 157.5,1058.3" fill="#78756c"/>
<polygon points="188.9,1103.6 205.4,1098.2 212.3,1112.5 195.5,1118.2" fill="#666a62"/>
<polygon points="401.3,973.8 413.8,970.2 421.9,977.2 409.2,980.9" fill="#70726a"/>
<polygon points="130.5,1091.6 156.4,1083.6 159.9,1092.2 133.6,1100.5" fill="#5d6159"/>
<polygon points="112.6,1114.8 126.5,1110.3 132.3,1127.6 118,1132.3" fill="#666a62"/>
<polygon points="332.1,966.2 339.3,964.3 346.2,971.4 338.9,973.4" fill="#51574e"/>
<polygon points="227.4,1000.6 245.9,995.5 253.6,1006.6 234.7,1011.9" fill="#5a5f57"/>
<polygon points="116.2,1098.3 141.6,1090.4 147.6,1106.5 121.5,1114.9" fill="#7e7c74"/>
<polygon points="323,1043.3 329,1041.4 333.7,1047.3 327.7,1049.3" fill="#4b5049"/>
<polygon points="52.5,1070.9 62.2,1068.1 64.3,1077.1 54.4,1079.9" fill="#78756c"/>
<polygon points="239.9,976.5 254,972.8 258,978.2 243.8,982" fill="#5a5f57"/>
<polygon points="384.3,1008.6 401.4,1003.3 408.4,1010.1 391.1,1015.6" fill="#4b5049"/>
<polygon points="288.3,994.3 300.1,991 306.9,999.3 294.9,1002.7" fill="#7e7c74"/>
<polygon points="379.1,1015.7 391.9,1011.7 404.3,1024.2 391.2,1028.4" fill="#575d53"/>
<polygon points="328.1,934.9 334.1,933.4 342.6,941.6 336.5,943.2" fill="#78756c"/>
<polygon points="256.8,997.1 276.8,991.6 281.2,997.3 261,1003" fill="#474d44"/>
<polygon points="180,1050.6 194.6,1046.3 198.7,1054.2 183.9,1058.6" fill="#78756c"/>
<polygon points="323.8,960.2 337,956.8 340.1,959.9 326.8,963.4" fill="#51574e"/>
<polygon points="346.9,945.9 363.2,941.6 372.8,950.4 356.2,954.8" fill="#4b5049"/>
<polygon points="328.4,991.9 337.2,989.4 342.4,995 333.5,997.6" fill="#575d53"/>
<polygon points="461.9,1013.5 481.4,1007.1 493.3,1017 473.5,1023.7" fill="#5a5f57"/>
<polygon points="205.4,1030.5 221.5,1025.8 224.6,1031.1 208.3,1035.8" fill="#5a5f57"/>
<polygon points="351.4,991.9 370,986.5 373.8,990.4 355.1,995.8" fill="#5d6159"/>
<polygon points="96.6,1060.1 122.5,1052.7 124,1056.8 97.8,1064.3" fill="#666a62"/>
<polygon points="289.2,933.3 296.1,931.6 300.8,936.6 293.9,938.4" fill="#4b5049"/>
<polygon points="354.7,965 364.5,962.3 371.7,969.3 361.8,972" fill="#474d44"/>
<polygon points="172.2,1024.2 183.9,1020.9 187.3,1027.5 175.4,1030.9" fill="#5d6159"/>
<polygon points="475.9,1028.5 488,1024.3 494.6,1029.9 482.3,1034.2" fill="#70726a"/>
<polygon points="406.3,996.7 412.1,995 418.4,1000.8 412.5,1002.6" fill="#78756c"/>
<polygon points="340.4,920 352.7,917.1 359.7,923.2 347.2,926.3" fill="#6e6f68"/>
<polygon points="138.8,1065.9 149.3,1062.8 155.1,1077 144.3,1080.3" fill="#474d44"/>
<polygon points="289.7,969.4 306.8,964.9 315.5,974.7 298.1,979.5" fill="#70726a"/>
<polygon points="412.8,998.3 419.7,996.2 429.6,1005.3 422.6,1007.5" fill="#4b5049"/>
<polygon points="194.4,975.1 213.4,970.3 215.9,974 196.7,978.9" fill="#666a62"/>
<polygon points="176.2,1072.1 192.8,1067 196.6,1074.7 179.8,1080" fill="#70726a"/>
<polygon points="217.1,1048.3 239.6,1041.5 245.7,1051.5 222.8,1058.5" fill="#666a62"/>
<polygon points="476.9,1011.6 484.4,1009.2 490.9,1014.6 483.4,1017.1" fill="#5d6159"/>
<polygon points="266.5,946.8 285.3,942.2 290,947.5 271.1,952.2" fill="#6e6f68"/>
<polygon points="91.8,1141.5 99.9,1138.8 103.8,1153.2 95.5,1156" fill="#6e6f68"/>
<polygon points="174.6,1090.2 183.3,1087.5 187,1095.6 178.2,1098.5" fill="#666a62"/>
<polygon points="135.7,1006 151.3,1001.9 153.6,1006.7 137.8,1010.9" fill="#5d6159"/>
<polygon points="367.7,915.4 377.6,913.1 385.2,919.3 375.3,921.8" fill="#575d53"/>
<polygon points="51.3,1150.8 61,1147.6 62.4,1154.4 52.6,1157.7" fill="#5a5f57"/>
<polygon points="375.9,948.6 386.9,945.7 390,948.5 378.9,951.4" fill="#70726a"/>
<polygon points="292.9,1061.5 311.3,1055.5 318.6,1065.3 299.8,1071.5" fill="#6e6f68"/>
<polygon points="135.5,1097.4 146.2,1094 150.9,1106.6 140,1110.1" fill="#666a62"/>
<polygon points="321.4,997.4 330.7,994.8 338.8,1004 329.5,1006.7" fill="#666a62"/>
<polygon points="158.6,1043.5 181.1,1037.1 186,1047 163.2,1053.7" fill="#70726a"/>
<polygon points="56.3,1083.2 79.1,1076.5 82,1087.8 58.8,1094.7" fill="#5d6159"/>
<polygon points="192,1045.6 209.6,1040.4 216.4,1052.6 198.4,1058" fill="#6e6f68"/>
<polygon points="211.2,983.9 229.4,979.1 231.8,982.6 213.4,987.5" fill="#5d6159"/>
<polygon points="284.3,1007.3 302.6,1002.1 306.9,1007.4 288.4,1012.8" fill="#5d6159"/>
<polygon points="58.6,1050.5 79.5,1044.7 83.1,1057.3 61.6,1063.3" fill="#6e6f68"/>
<polygon points="389.1,1015.1 402,1011 411.4,1020.4 398.3,1024.6" fill="#6e6f68"/>
<polygon points="103.4,1010.7 112.5,1008.3 116.1,1017.9 106.9,1020.3" fill="#7e7c74"/>
<polygon points="310.8,932.4 320.8,930 325.4,934.5 315.3,937" fill="#666a62"/>
<polygon points="388,1054 395.9,1051.4 407,1063.6 399.1,1066.4" fill="#7e7c74"/>
<polygon points="379.1,925.5 389,923 397.1,929.6 387,932.2" fill="#474d44"/>
<polygon points="34,1054.5 51.9,1049.6 53,1054.6 34.9,1059.6" fill="#6e6f68"/>
<polygon points="166.6,1020.7 174,1018.6 175.9,1022.5 168.5,1024.5" fill="#7e7c74"/>
<polygon points="127.6,1004.2 143.3,1000.1 145.7,1005.4 129.8,1009.6" fill="#4b5049"/>
<polygon points="65.5,1016.3 77.7,1013.1 81.3,1025.3 68.8,1028.6" fill="#7e7c74"/>
<polygon points="117.9,993.1 133.9,989.1 138.9,1000.4 122.5,1004.6" fill="#78756c"/>
<polygon points="327,1064.6 348.7,1057.4 360.4,1071.8 338.2,1079.4" fill="#5d6159"/>
<polygon points="229.7,998.4 249.1,993.1 253.5,999.4 233.9,1004.8" fill="#474d44"/>
<polygon points="126.9,1018.9 136.4,1016.4 140.1,1024.9 130.4,1027.6" fill="#5d6159"/>
<polygon points="237,997.5 252.2,993.3 259,1002.9 243.5,1007.2" fill="#4b5049"/>
<polygon points="285.5,1097.3 305.2,1090.5 315.9,1106.1 295.7,1113.3" fill="#666a62"/>
<polygon points="261.3,993.8 267.4,992.1 271.5,997.5 265.3,999.3" fill="#70726a"/>
<polygon points="301,998.5 318,993.7 324.4,1001.1 307.2,1006.1" fill="#7e7c74"/>
<polygon points="431.2,993.1 439.9,990.4 446.9,996.5 438.1,999.2" fill="#5d6159"/>
<polygon points="371.5,1022.7 379.1,1020.4 384.6,1026.2 377,1028.6" fill="#51574e"/>
<polygon points="39.3,1038.2 53.7,1034.3 54.8,1038.9 40.3,1042.8" fill="#575d53"/>
<polygon points="206.3,1073.3 223,1068.1 225.7,1073 208.9,1078.3" fill="#575d53"/>
<polygon points="293,995.9 301.3,993.6 307.4,1001 299,1003.4" fill="#5d6159"/>
<polygon points="44.3,1035.2 59.3,1031.2 61.6,1040.3 46.2,1044.5" fill="#5d6159"/>
<polygon points="265,1013.7 275.8,1010.6 281.3,1018.1 270.3,1021.3" fill="#575d53"/>
<polygon points="90.8,1006.4 102,1003.6 105.4,1013.1 94,1016.1" fill="#575d53"/>
<polygon points="101.5,1054.9 115.3,1051 117.1,1056.1 103.1,1060.1" fill="#78756c"/>
<polygon points="171.1,987.5 177.3,985.9 179.1,989.1 172.8,990.7" fill="#5a5f57"/>
<polygon points="207.3,951.5 223.7,947.6 229.1,955 212.4,959.1" fill="#5a5f57"/>
<polygon points="369.5,1052 378.8,1048.9 388.9,1060.3 379.4,1063.5" fill="#5a5f57"/>
<polygon points="109.2,1104.6 124.8,1099.7 129.8,1114.8 113.9,1119.9" fill="#70726a"/>
<polygon points="75.5,1046.3 90,1042.3 91.4,1046.8 76.7,1050.9" fill="#575d53"/>
<polygon points="378.2,943.2 391.9,939.6 396.4,943.5 382.6,947.1" fill="#575d53"/>
<polygon points="148.3,1090.9 162.7,1086.4 168.3,1099.9 153.6,1104.6" fill="#6e6f68"/>
<polygon points="73.2,1032.4 87.9,1028.4 89.5,1033.6 74.6,1037.6" fill="#7e7c74"/>
<polygon points="181.8,1099 195.2,1094.7 203,1111.2 189.2,1115.8" fill="#575d53"/>
<polygon points="117,1133.7 145.5,1124.2 148.8,1133.4 119.9,1143.1" fill="#575d53"/>
<polygon points="260.4,1021.5 274.1,1017.5 278.8,1024.1 264.9,1028.2" fill="#70726a"/>
<polygon points="52.9,991.8 64.7,989 66.5,995.1 54.5,998" fill="#70726a"/>
<polygon points="168.8,1063.9 179.1,1060.8 183.5,1070.3 173.1,1073.5" fill="#7e7c74"/>
<polygon points="226.1,1094.8 233.5,1092.3 240.9,1106 233.4,1108.6" fill="#666a62"/>
<polygon points="367.5,997.2 381.9,992.9 388.6,999.5 374,1003.9" fill="#575d53"/>
<polygon points="50.3,997 64.9,993.4 66.8,1000.3 52.1,1004" fill="#575d53"/>
<polygon points="41.5,1008.7 57.4,1004.8 58.9,1010.8 42.9,1014.9" fill="#78756c"/>
<polygon points="204.6,953.3 218.8,949.9 221.8,954.3 207.5,957.8" fill="#70726a"/>
<polygon points="293,958.7 297.8,957.5 303.6,964 298.7,965.3" fill="#575d53"/>
<polygon points="38.5,1078.6 64.1,1071.2 67.3,1084.5 41,1092.3" fill="#51574e"/>
<polygon points="306.8,1003.8 325.4,998.4 335.4,1010 316.5,1015.6" fill="#78756c"/>
<polygon points="133,981.5 139,980.1 143.3,989.3 137.2,990.9" fill="#666a62"/>
<polygon points="347.8,1013.4 368.3,1007.2 378.4,1017.9 357.5,1024.5" fill="#5d6159"/>
<polygon points="202.4,1058 224,1051.4 228.1,1058.6 206.3,1065.3" fill="#575d53"/>
<polygon points="186.3,1075 203.6,1069.6 207.2,1076.7 189.7,1082.2" fill="#666a62"/>
<polygon points="216.7,1056.9 240.2,1049.8 247.4,1061.7 223.5,1069.2" fill="#51574e"/>
<polygon points="468.4,999.7 485.7,994.2 492.8,1000 475.4,1005.6" fill="#4b5049"/>
<polygon points="276.7,1033.6 283.3,1031.6 290.4,1041.5 283.7,1043.5" fill="#575d53"/>
<polygon points="335.3,925.6 343,923.7 348.7,928.9 341,930.8" fill="#575d53"/>
<polygon points="162.3,1059.4 176,1055.3 181.4,1066.9 167.4,1071.2" fill="#5d6159"/>
<polygon points="209.1,1070 231.9,1062.9 239.6,1076.6 216.4,1084" fill="#7e7c74"/>
<polygon points="440.1,978 446.4,976.1 456.8,984.7 450.4,986.7" fill="#70726a"/>
<polygon points="321.5,937.5 331.1,935.1 337.8,941.7 328.1,944.2" fill="#666a62"/>
<polygon points="370.1,1063.8 384,1059 394.5,1070.9 380.3,1075.9" fill="#5d6159"/>
<polygon points="144.2,1002.5 154.5,999.8 158.8,1008.8 148.3,1011.6" fill="#575d53"/>
<polygon points="477.7,1030.3 483.5,1028.3 495.7,1039 489.9,1041" fill="#51574e"/>
<polygon points="349.9,938.9 359.1,936.5 365.5,942.3 356.2,944.7" fill="#51574e"/>
<polygon points="255.8,1086.6 278.4,1079.1 288,1093.9 264.8,1101.8" fill="#5d6159"/>
<polygon points="188.6,996.6 207.7,991.5 213.9,1001.6 194.4,1006.9" fill="#70726a"/>
<polygon points="155.3,1078.9 170.4,1074.3 173.1,1080.4 157.8,1085.1" fill="#7e7c74"/>
<polygon points="227.3,1051.3 243.6,1046.4 251.2,1058.8 234.6,1064" fill="#5d6159"/>
<polygon points="264.5,1068.1 281.2,1062.8 290.8,1077.2 273.8,1082.9" fill="#4b5049"/>
<polygon points="199.5,971.4 218.7,966.6 221.9,971.4 202.5,976.3" fill="#7e7c74"/>
<polygon points="110.8,1072.8 123.4,1069.1 125.9,1076 113.1,1079.8" fill="#4b5049"/>
<polygon points="133,1052.2 150.5,1047.2 152.9,1052.8 135.2,1057.9" fill="#474d44"/>
<polygon points="369.3,948.8 374.9,947.4 379,951.1 373.4,952.6" fill="#4b5049"/>
<polygon points="119,1104.7 147.8,1095.6 151.6,1105.6 122.4,1115" fill="#474d44"/>
<polygon points="249.6,1067.2 263.3,1062.9 266.4,1067.8 252.6,1072.2" fill="#6e6f68"/>
<polygon points="335.8,1043.9 345.8,1040.7 350.6,1046.5 340.5,1049.8" fill="#70726a"/>
<polygon points="454.2,1039.5 466.4,1035.3 479.8,1047.6 467.4,1052" fill="#474d44"/>
<polygon points="94.6,980.6 103.2,978.5 104.7,982.4 96,984.5" fill="#51574e"/>
<polygon points="131.4,971.4 146,967.8 147.6,971.1 132.9,974.7" fill="#4b5049"/>
<polygon points="31.5,1022.4 56.5,1016 57.4,1019.6 32.2,1026.1" fill="#6e6f68"/>
<polygon points="141.4,999.4 163.3,993.7 166.9,1001 144.8,1006.8" fill="#70726a"/>
<polygon points="406,1021.5 423.1,1016.1 436.4,1028.8 419,1034.5" fill="#51574e"/>
<polygon points="403.7,963.8 419.7,959.3 426.3,964.9 410.1,969.5" fill="#7e7c74"/>
<polygon points="49.6,1081.2 61.8,1077.6 63.9,1086.7 51.5,1090.4" fill="#78756c"/>
<polygon points="236.1,979.4 256.9,973.9 262.7,981.6 241.5,987.2" fill="#4b5049"/>
<polygon points="178.9,994.7 199.8,989.2 203.2,994.9 182.1,1000.5" fill="#51574e"/>
<polygon points="139.4,995.3 148.3,993 150,996.5 141,998.9" fill="#5d6159"/>
<polygon points="290.3,1029.6 299,1027 302.6,1031.7 293.8,1034.4" fill="#5d6159"/>
<polygon points="179.4,980.6 185.3,979.2 188.8,985.2 182.9,986.7" fill="#474d44"/>
<polygon points="201.2,995.1 215.7,991.3 222.6,1002.3 207.8,1006.4" fill="#666a62"/>
<polygon points="35.1,1016.1 42.8,1014.1 44.7,1023 36.9,1025" fill="#7e7c74"/>
<polygon points="413,953.7 430.1,949 435.1,953 417.9,957.8" fill="#575d53"/>
<polygon points="406.6,1033.2 424.8,1027.2 429.3,1031.6 411,1037.7" fill="#575d53"/>
<polygon points="387.7,945.7 394.6,943.9 400.2,948.7 393.3,950.6" fill="#474d44"/>
<polygon points="113.5,1073.8 128.3,1069.5 132.5,1081.3 117.5,1085.8" fill="#666a62"/>
<polygon points="281.7,977.1 293.5,973.9 300.5,982.2 288.5,985.5" fill="#575d53"/>
<polygon points="262.2,1017.9 269.8,1015.7 277.8,1026.9 270.1,1029.2" fill="#4b5049"/>
<polygon points="225.9,1011.3 245.8,1005.7 251,1013.5 230.8,1019.2" fill="#575d53"/>
<polygon points="299.3,1008 313.1,1004 316.1,1007.6 302.2,1011.6" fill="#5a5f57"/>
<polygon points="216.6,985.5 222.7,983.9 225,987.4 218.8,989" fill="#78756c"/>
<polygon points="105.9,1045 131.8,1037.8 136.2,1049.1 109.8,1056.7" fill="#78756c"/>
<polygon points="122.2,1040.5 139.3,1035.7 141,1040 123.9,1044.9" fill="#5d6159"/>
<polygon points="397.8,1038.1 405.1,1035.7 410.5,1041.4 403.3,1043.8" fill="#5a5f57"/>
<polygon points="319.6,940.1 325.7,938.6 328.8,941.6 322.6,943.2" fill="#70726a"/>
<polygon points="372.7,917.8 387.6,914.1 395.1,920.2 380.1,924" fill="#70726a"/>
<polygon points="246.5,987.1 255.1,984.8 257.4,987.9 248.7,990.3" fill="#575d53"/>
<polygon points="115,1011.5 132.7,1006.8 134.4,1010.8 116.5,1015.5" fill="#6e6f68"/>
<polygon points="255.4,1055.2 277.5,1048.3 280.8,1053 258.5,1060" fill="#4b5049"/>
<polygon points="416.1,1007.7 429.3,1003.5 441.6,1014.8 428.1,1019.2" fill="#5d6159"/>
<polygon points="330,942 339.1,939.7 347.8,948.1 338.6,950.5" fill="#666a62"/>
<polygon points="330.8,934.3 337.6,932.6 342.6,937.3 335.7,939" fill="#5a5f57"/>
<polygon points="345.8,1056.2 352.9,1053.8 365.2,1068.7 358,1071.2" fill="#666a62"/>
<polygon points="249,981.7 269.2,976.3 277.3,986.8 256.7,992.4" fill="#6e6f68"/>
<polygon points="308.6,982.6 314,981.1 318.9,986.7 313.5,988.2" fill="#78756c"/>
<polygon points="439.1,1034.4 454.6,1029.2 460.8,1034.9 445.2,1040.3" fill="#666a62"/>
<polygon points="101.1,992.8 119.1,988.3 121.9,995.1 103.7,999.8" fill="#5d6159"/>
<polygon points="147.6,999.8 159.4,996.7 163.6,1005.2 151.5,1008.4" fill="#70726a"/>
<polygon points="163.7,1139.5 186.8,1131.6 193.7,1147.8 170,1156.2" fill="#78756c"/>
<polygon points="421.2,1005.9 429.2,1003.4 433.5,1007.3 425.5,1009.8" fill="#70726a"/>
<polygon points="255.4,1068.2 269.4,1063.7 275.5,1073.1 261.3,1077.7" fill="#6e6f68"/>
<polygon points="76.3,994.3 91.5,990.6 93.7,997.1 78.3,1001" fill="#4b5049"/>
<polygon points="263,973.5 281.4,968.6 285.4,973.6 266.9,978.5" fill="#51574e"/>
<polygon points="314.1,984.7 333.3,979.4 338.9,985.4 319.4,990.9" fill="#575d53"/>
<polygon points="286.5,991.4 292.8,989.6 298.1,996.2 291.7,998" fill="#70726a"/>
<polygon points="302.7,1022 312.7,1019 320.5,1028.7 310.3,1031.8" fill="#474d44"/>
<polygon points="291.2,960.6 302.1,957.8 305.3,961.3 294.4,964.2" fill="#70726a"/>
<polygon points="192,991.1 199.3,989.2 205.5,999.5 198,1001.5" fill="#7e7c74"/>
<polygon points="93.6,1084.4 110.4,1079.3 112.6,1086.4 95.6,1091.5" fill="#78756c"/>
<polygon points="29.1,996.9 46.2,992.8 48.3,1001.7 30.9,1006" fill="#474d44"/>
<polygon points="281.6,951.3 287.4,949.8 290.7,953.5 284.8,955" fill="#6e6f68"/>
<polygon points="193.3,1057.1 211.3,1051.7 219.2,1066.3 200.8,1072" fill="#474d44"/>
<polygon points="410.2,949.6 425.4,945.4 433.9,952.2 418.5,956.5" fill="#51574e"/>
<polygon points="374,917.6 383.8,915.2 389.2,919.6 379.3,922.1" fill="#5a5f57"/>
<polygon points="407,968.2 419.6,964.7 427.1,971 414.3,974.7" fill="#5d6159"/>
<polygon points="224.9,957.8 241.9,953.6 243.8,956.2 226.8,960.5" fill="#5a5f57"/>
<polygon points="360.9,1027.9 380.9,1021.6 390.2,1031.5 369.9,1038.1" fill="#4b5049"/>
<polygon points="313,938.9 324,936.2 326.5,938.7 315.5,941.5" fill="#78756c"/>
<polygon points="466,1015.3 471.3,1013.6 479,1020.2 473.6,1022" fill="#6e6f68"/>
<polygon points="332.7,1076.6 352.9,1069.8 357.3,1075.2 336.9,1082.2" fill="#6e6f68"/>
<polygon points="239.3,950.7 247.7,948.6 253.2,955.6 244.7,957.8" fill="#6e6f68"/>
<polygon points="239.7,980.9 257.2,976.3 260.8,981.1 243.2,985.8" fill="#575d53"/>
<polygon points="293.7,1093.6 311.5,1087.5 316.2,1094.3 298.2,1100.5" fill="#51574e"/>
<polygon points="273.8,1068.8 282,1066.1 291.4,1080.2 283,1083" fill="#5d6159"/>
<polygon points="107.5,1062 117.8,1059 121.6,1070 111.1,1073.2" fill="#51574e"/>
<polygon points="182.9,957.3 190.4,955.5 195.6,963.8 188,965.7" fill="#575d53"/>
<polygon points="111.4,1054.7 118.7,1052.6 120.6,1057.8 113.2,1060" fill="#70726a"/>
<polygon points="403.9,973 419.2,968.6 429.1,977.2 413.6,981.8" fill="#575d53"/>
<polygon points="188.4,964.5 197.7,962.2 199.9,965.7 190.5,968.1" fill="#575d53"/>
<polygon points="184.1,1026.6 201.9,1021.6 208.6,1033.6 190.4,1038.9" fill="#5d6159"/>
<polygon points="279.6,1001.7 299.5,996.1 304.8,1002.6 284.6,1008.4" fill="#70726a"/>
<polygon points="166.1,1051.6 176.8,1048.5 179.1,1053.4 168.4,1056.5" fill="#4b5049"/>
<polygon points="221.1,1044.6 233.3,1040.9 236.4,1046 224,1049.7" fill="#70726a"/>
<polygon points="325.9,928.8 337.2,926.1 343.1,931.6 331.6,934.4" fill="#575d53"/>
<polygon points="390.1,998.6 405.8,993.9 409.4,997.3 393.7,1002.1" fill="#78756c"/>
<polygon points="224.2,975.9 241.2,971.5 245.9,978 228.7,982.5" fill="#474d44"/>
<polygon points="211.4,1037.2 219.4,1034.8 225.6,1045.5 217.4,1048" fill="#78756c"/>
<polygon points="396.9,949.1 409.2,945.8 415.1,950.7 402.7,954.1" fill="#70726a"/>
<polygon points="151.7,1088.6 159.9,1086.1 162.7,1093 154.5,1095.6" fill="#51574e"/>
<polygon points="286.5,1044.8 293.4,1042.7 296.9,1047.6 290,1049.7" fill="#70726a"/>
<polygon points="322.5,1044.2 344.4,1037.3 353.1,1047.7 330.8,1054.9" fill="#78756c"/>
<polygon points="198,990.6 214.8,986.2 217.2,990 200.3,994.4" fill="#666a62"/>
<polygon points="352.2,956 361.2,953.6 369.9,961.8 360.8,964.3" fill="#70726a"/>
<polygon points="264.5,943.2 280,939.4 282.4,942.1 266.8,946" fill="#7e7c74"/>
<polygon points="61.3,1004.2 73.7,1001.1 76.5,1010.6 63.8,1013.8" fill="#7e7c74"/>
<polygon points="440.3,996.8 453.4,992.8 457.2,996 444,1000.1" fill="#4b5049"/>
<polygon points="238.2,1045.3 262,1038.1 270.8,1051.3 246.5,1058.9" fill="#51574e"/>
<polygon points="95.8,987.9 113.5,983.6 115.1,987.7 97.2,992.1" fill="#4b5049"/>
<polygon points="355.8,1032.4 368.6,1028.3 379.9,1040.8 366.8,1045.1" fill="#51574e"/>
<polygon points="437.5,1037.2 448.3,1033.5 461.2,1045.6 450.1,1049.5" fill="#51574e"/>
<polygon points="317.1,975.2 332.3,971.1 339.6,978.8 324.2,983.1" fill="#51574e"/>
<polygon points="367.4,936.6 377.2,934.1 383.8,939.8 373.9,942.4" fill="#51574e"/>
<polygon points="97.4,1015.2 111.1,1011.6 115.4,1023.2 101.3,1027" fill="#575d53"/>
<polygon points="142.8,1078.8 159.8,1073.6 163.8,1083.2 146.6,1088.5" fill="#575d53"/>
<polygon points="256.4,1005.1 271,1001 278.9,1011.7 264,1016" fill="#7e7c74"/>
<polygon points="150.7,965.5 169.2,961.1 173.4,968.4 154.6,973" fill="#575d53"/>
<polygon points="290.3,1001.8 301.9,998.5 308.5,1006.6 296.7,1010" fill="#4b5049"/>
<polygon points="204.2,1037.5 219,1033.2 226.9,1046.8 211.7,1051.4" fill="#78756c"/>
<polygon points="78.5,1056.4 98.1,1050.9 100.6,1058.7 80.6,1064.4" fill="#575d53"/>
<polygon points="259,970.6 265.1,969 272.1,978 265.9,979.7" fill="#575d53"/>
<polygon points="130.8,997.4 152.4,991.9 154.2,995.6 132.4,1001.2" fill="#5d6159"/>
<polygon points="478.8,1013.8 490.3,1010 499.7,1017.8 488.1,1021.7" fill="#666a62"/>
<polygon points="130.6,1065.9 151,1059.9 155,1069.6 134.3,1075.9" fill="#5d6159"/>
<polygon points="60.5,1102.9 80.7,1096.8 83.8,1108.7 63.1,1115.1" fill="#78756c"/>
<polygon points="244.7,1002.7 266.2,996.7 270.8,1003 249.1,1009.1" fill="#70726a"/>
<polygon points="97.3,1110.4 109.6,1106.5 111.9,1114.1 99.4,1118.1" fill="#6e6f68"/>
<polygon points="323.2,965.9 330.4,964 334.3,968.1 327,970.1" fill="#5d6159"/>
<polygon points="455,1024.6 470.4,1019.4 478.4,1026.4 462.8,1031.7" fill="#70726a"/>
<polygon points="332.9,1045.6 355.3,1038.4 359.6,1043.3 336.9,1050.7" fill="#78756c"/>
<polygon points="46.6,1074.4 59.2,1070.7 61,1078.5 48.1,1082.2" fill="#70726a"/>
<polygon points="254.5,972.6 260.8,970.9 263.1,974 256.8,975.6" fill="#70726a"/>
<polygon points="367.4,929.3 376.7,927 385.1,934.2 375.7,936.6" fill="#6e6f68"/>
<polygon points="393.7,986.5 406.4,982.8 416.1,991.6 403.2,995.5" fill="#6e6f68"/>
<polygon points="369.8,1009.6 384.1,1005.3 392.9,1014.2 378.4,1018.8" fill="#70726a"/>
<polygon points="82.7,1151.9 99.6,1146.3 104.3,1164.2 87,1170.2" fill="#666a62"/>
<polygon points="264.8,1038.5 276.8,1034.8 281,1040.8 268.8,1044.5" fill="#5a5f57"/>
<polygon points="262.3,1017.5 273.9,1014.2 277.9,1019.8 266.3,1023.2" fill="#6e6f68"/>
<polygon points="113.7,1142.5 136.8,1134.7 139.1,1141.3 115.7,1149.3" fill="#474d44"/>
<polygon points="87.6,1067.9 97.1,1065.2 101.8,1080.8 92.1,1083.7" fill="#70726a"/>
<polygon points="169.5,977.5 190.3,972.3 195,980.1 173.8,985.5" fill="#5d6159"/>
<polygon points="52.5,1079.2 80.8,1071 84.1,1083.3 55.2,1091.9" fill="#6e6f68"/>
<polygon points="263.7,995.9 280,991.4 283,995.2 266.6,999.8" fill="#78756c"/>
<polygon points="347.2,1060.8 368.4,1053.7 372.8,1058.9 351.5,1066.1" fill="#5d6159"/>
<polygon points="213.2,958.5 225.7,955.4 230.3,961.9 217.7,965" fill="#6e6f68"/>
<polygon points="99.6,1136.9 113.4,1132.3 116,1141 102,1145.7" fill="#70726a"/>
<polygon points="477.4,1027.7 496.6,1021.2 511.4,1033.6 491.9,1040.5" fill="#575d53"/>
<polygon points="351.2,917.9 361.6,915.4 367.9,920.9 357.5,923.4" fill="#5a5f57"/>
<polygon points="326.8,1061.7 338.4,1057.9 343.2,1063.9 331.5,1067.8" fill="#6e6f68"/>
<polygon points="136.7,1128 146.7,1124.7 150.1,1134.2 139.9,1137.7" fill="#70726a"/>
<polygon points="358,916.7 362.6,915.6 370.6,922.4 365.9,923.6" fill="#7e7c74"/>
<polygon points="269.3,1017.9 287.6,1012.6 295.8,1023.4 277.1,1029" fill="#474d44"/>
<polygon points="246.5,1102.1 257.6,1098.4 263.4,1108.3 252.1,1112.2" fill="#666a62"/>
<polygon points="203.9,996.5 215.3,993.5 217.3,996.7 205.9,999.8" fill="#666a62"/>
<polygon points="162.8,1049.9 179.3,1045.1 182.9,1052.6 166.2,1057.5" fill="#5a5f57"/>
<polygon points="207.3,1049.2 230.8,1042.2 235.7,1050.3 211.8,1057.6" fill="#666a62"/>
<polygon points="94.2,1012.9 109.2,1009 113,1019.4 97.7,1023.5" fill="#78756c"/>
<polygon points="133.8,1076.5 153.1,1070.6 157.8,1081.9 138,1088" fill="#7e7c74"/>
<polygon points="182.9,1104.2 193.9,1100.6 197.5,1108.5 186.4,1112.2" fill="#70726a"/>
<polygon points="282.3,1043.3 291.8,1040.4 294.8,1044.6 285.3,1047.6" fill="#666a62"/>
<polygon points="232,953.8 248.3,949.8 251.6,954 235.2,958.1" fill="#666a62"/>
<polygon points="59.5,1074.5 69.6,1071.6 72.6,1083.8 62.3,1086.8" fill="#51574e"/>
<polygon points="470.1,1033.2 481.1,1029.4 486.9,1034.5 475.8,1038.3" fill="#5a5f57"/>
<polygon points="337.3,961.3 353.2,957 358.7,962.3 342.6,966.7" fill="#70726a"/>
<polygon points="329.1,1071 336.4,1068.5 348.4,1084.2 341,1086.8" fill="#474d44"/>
<polygon points="44.4,993.6 67.7,987.9 69.5,994.4 45.9,1000.2" fill="#5d6159"/>
<polygon points="89.3,1006.9 111.3,1001.3 115.7,1012.9 93.1,1018.9" fill="#78756c"/>
<polygon points="229.8,1101.2 239.5,1098 247.2,1112.1 237.3,1115.5" fill="#474d44"/>
<polygon points="106.3,992.5 124,988.1 128.4,998.4 110.3,1003" fill="#5a5f57"/>
<polygon points="224.6,996.6 232.1,994.5 235.7,1000 228.1,1002.1" fill="#51574e"/>
<polygon points="452.4,988.3 466.5,984 471.4,988 457.2,992.4" fill="#78756c"/>
<polygon points="101.7,991.9 116.8,988.1 119.8,995.6 104.5,999.5" fill="#7e7c74"/>
<polygon points="261.2,1062.8 272.3,1059.3 275.7,1064.5 264.6,1068.1" fill="#5a5f57"/>
<polygon points="115.5,982.2 126.5,979.5 130.3,988.4 119.2,991.2" fill="#5a5f57"/>
<polygon points="225.8,966 236,963.4 240.9,970.2 230.6,972.9" fill="#70726a"/>
<polygon points="289.3,1072.9 306.6,1067.2 312.5,1075.6 295,1081.4" fill="#4b5049"/>
<polygon points="214.2,973 234.2,967.9 241.4,978 221,983.3" fill="#474d44"/>
<polygon points="237.6,1027.9 252.9,1023.4 257.1,1029.7 241.6,1034.3" fill="#474d44"/>
<polygon points="132,1089.1 143.6,1085.6 145.4,1090.4 133.8,1094.1" fill="#666a62"/>
<polygon points="271.2,1094.5 289.7,1088.3 293.3,1093.7 274.6,1100.1" fill="#474d44"/>
<polygon points="96.7,978.6 107.6,975.9 108.9,979.2 97.9,981.8" fill="#70726a"/>
<polygon points="385.3,981.3 400,977.1 405.3,981.9 390.4,986.3" fill="#78756c"/>
<polygon points="96,996.2 112.2,992.2 115.4,1000.4 98.9,1004.6" fill="#575d53"/>
<polygon points="265.1,999.2 276,996.2 284.3,1007.2 273.3,1010.3" fill="#666a62"/>
<polygon points="333.4,1006.4 352.6,1000.7 360.9,1009.6 341.4,1015.6" fill="#4b5049"/>
<polygon points="311.7,1086.2 323.5,1082.2 328.3,1088.8 316.4,1092.9" fill="#78756c"/>
<polygon points="150.5,1053.1 160.1,1050.3 166.4,1064.6 156.6,1067.5" fill="#70726a"/>
<polygon points="320.5,1012.3 326,1010.6 332.5,1018.4 327,1020" fill="#51574e"/>
<polygon points="298.7,1076.3 314.5,1071.1 320.9,1079.8 304.9,1085.3" fill="#474d44"/>
<polygon points="303.5,979.5 316.1,976 324.6,985.5 311.8,989.1" fill="#7e7c74"/>
<polygon points="205.7,961.7 218.5,958.6 222.7,964.7 209.7,967.9" fill="#5a5f57"/>
<polygon points="81.5,983.8 96.7,980.1 97.9,983.5 82.6,987.2" fill="#70726a"/>
<polygon points="332,948.7 348,944.5 356.1,952.3 339.9,956.6" fill="#70726a"/>
<polygon points="135.5,1067 144.3,1064.4 147.6,1072.6 138.7,1075.3" fill="#474d44"/>
<polygon points="407.8,963.8 418.9,960.7 424.5,965.5 413.3,968.7" fill="#5a5f57"/>
<polygon points="240.5,987.8 249.1,985.5 252.5,990.2 243.9,992.6" fill="#4b5049"/>
<polygon points="429.3,1044.7 449.3,1037.8 460.7,1048.7 440.4,1055.8" fill="#70726a"/>
<polygon points="404.5,1017 412.4,1014.5 423.7,1025.5 415.7,1028.1" fill="#70726a"/>
<polygon points="286.6,936.3 302.3,932.5 310.2,940.8 294.3,944.7" fill="#5a5f57"/>
<polygon points="216.3,1074.5 234.7,1068.7 243.3,1083.7 224.4,1089.8" fill="#5a5f57"/>
<polygon points="451.5,1036.6 459.3,1033.9 466.1,1040.3 458.4,1043" fill="#70726a"/>
<polygon points="362.8,950.7 369.9,948.9 377.8,956.1 370.6,958" fill="#70726a"/>
<polygon points="438,975.6 444.3,973.8 454.5,982.2 448.1,984.1" fill="#474d44"/>
<polygon points="220.8,1003.1 233,999.7 239.4,1009.5 226.9,1013" fill="#474d44"/>
<polygon points="331.9,1069.9 349.4,1064 357.3,1073.8 339.5,1080" fill="#575d53"/>
<polygon points="285.1,936.1 301.8,932 307,937.4 290.1,941.6" fill="#666a62"/>
<polygon points="151,1059.6 159.9,1056.9 162.5,1062.7 153.5,1065.4" fill="#575d53"/>
<polygon points="163.5,997.7 172.5,995.4 177,1004 167.9,1006.5" fill="#5a5f57"/>
<polygon points="310.1,937.7 319.1,935.4 321.8,938.1 312.8,940.4" fill="#474d44"/>
<polygon points="207.4,1113.9 227.4,1107.1 236.7,1125.1 216.1,1132.3" fill="#474d44"/>
<polygon points="170.8,996.8 185.4,993 189.4,1000.2 174.6,1004.1" fill="#474d44"/>
<polygon points="92.3,1094.7 100.7,1092.1 104.9,1106.4 96.3,1109.1" fill="#6e6f68"/>
<polygon points="132.6,994.9 148.5,990.9 150.9,996 134.9,1000.1" fill="#78756c"/>
<polygon points="200.6,998 222.2,992.3 225.8,997.8 204,1003.8" fill="#5a5f57"/>
<polygon points="240,969.8 259.3,964.8 265.9,973.4 246.3,978.5" fill="#51574e"/>
<polygon points="90.4,1043.1 110.5,1037.5 114.5,1049.1 94,1054.9" fill="#6e6f68"/>
<polygon points="422.6,1035.5 435.8,1031.1 449.5,1044.3 436.1,1048.9" fill="#7e7c74"/>
<polygon points="327.4,1083.8 343.4,1078.3 348.6,1085.1 332.5,1090.7" fill="#474d44"/>
<polygon points="266.4,958.8 285.5,953.9 292.5,962 273.1,967" fill="#7e7c74"/>
<polygon points="317,964.1 332.9,959.9 339.9,967.2 323.8,971.5" fill="#474d44"/>
<polygon points="230.8,1004.3 238.2,1002.2 243.1,1009.6 235.6,1011.7" fill="#70726a"/>
<polygon points="341.2,924.4 346.4,923.2 350.6,927 345.3,928.3" fill="#7e7c74"/>
<polygon points="199.6,968.2 211.5,965.2 216.1,972.2 204,975.2" fill="#666a62"/>
<polygon points="228.9,1042.4 247.3,1036.9 253.7,1046.9 235,1052.7" fill="#474d44"/>
<polygon points="80.3,1069.8 92.4,1066.3 95.6,1077.1 83.3,1080.7" fill="#575d53"/>
<polygon points="30.5,1002.5 44.1,999.1 45.7,1006.4 32,1009.8" fill="#51574e"/>
<polygon points="118.1,1005.4 137.4,1000.4 142.5,1012.3 122.9,1017.5" fill="#78756c"/>
<polygon points="421.2,983.1 430.6,980.3 434.3,983.4 424.7,986.3" fill="#6e6f68"/>
<polygon points="309.2,1035 329.6,1028.6 334.2,1034.2 313.6,1040.7" fill="#474d44"/>
<polygon points="385,1005.9 397,1002.3 403.6,1008.8 391.5,1012.5" fill="#575d53"/>
<polygon points="127.5,1033.2 137.8,1030.4 139.4,1034.3 129,1037.2" fill="#70726a"/>
<polygon points="260.5,948.1 275.9,944.4 281.6,950.9 266,954.9" fill="#6e6f68"/>
<polygon points="225.2,997 245.5,991.5 253.3,1002.7 232.6,1008.5" fill="#575d53"/>
<polygon points="342.3,926.4 349.6,924.6 353.6,928.2 346.3,930" fill="#7e7c74"/>
<polygon points="431.3,983 445.4,978.8 452.9,985.1 438.7,989.4" fill="#5a5f57"/>
<polygon points="179.8,1047.8 187.8,1045.4 192.9,1055.5 184.8,1058" fill="#78756c"/>
<polygon points="267.1,987.9 285.6,982.9 290.2,988.7 271.5,993.8" fill="#575d53"/>
<polygon points="163.6,1054.9 174.4,1051.8 178.3,1060.1 167.3,1063.4" fill="#666a62"/>
<polygon points="336.2,975.4 348.4,972 351.6,975.3 339.3,978.7" fill="#666a62"/>
<polygon points="361.1,962.4 374.1,958.9 382.4,966.6 369.3,970.2" fill="#78756c"/>
<polygon points="352.8,993.4 361.7,990.9 370.4,999.8 361.4,1002.5" fill="#6e6f68"/>
<polygon points="190.7,974.4 196.5,972.9 201.7,981.5 195.8,983" fill="#7e7c74"/>
<polygon points="202.1,1065.5 226.8,1057.9 230.8,1065.1 205.8,1072.9" fill="#7e7c74"/>
<polygon points="232.8,1105.6 246.3,1101 255.9,1118 242,1122.9" fill="#4b5049"/>
<polygon points="292.5,966.3 309.3,961.9 314.5,967.6 297.5,972.2" fill="#5d6159"/>
<polygon points="64,990.9 78.3,987.4 80.7,995 66.2,998.6" fill="#4b5049"/>
<polygon points="333.4,1071.7 345.8,1067.5 356.1,1080.5 343.5,1084.9" fill="#51574e"/>
<polygon points="41.3,1077.6 52.2,1074.4 54,1083.1 42.9,1086.4" fill="#666a62"/>
<polygon points="188.7,991.3 200.2,988.3 204.7,995.7 192.9,998.9" fill="#474d44"/>
<polygon points="259,991.1 270.8,987.9 278,997.4 266,1000.8" fill="#5a5f57"/>
<polygon points="447.1,1029.1 456.1,1026.1 462,1031.5 452.9,1034.6" fill="#51574e"/>
<polygon points="415.9,984.5 421.1,982.9 426.1,987.5 421,989" fill="#474d44"/>
<polygon points="269.1,1038.9 275.5,1037 283.9,1049.1 277.4,1051.2" fill="#78756c"/>
<polygon points="148.1,1077.3 169.1,1070.9 172.7,1079.2 151.4,1085.8" fill="#666a62"/>
<polygon points="403,999.2 408.4,997.6 420.1,1008.7 414.7,1010.4" fill="#7e7c74"/>
<polygon points="165.3,1034.7 178.2,1031.1 182.7,1040.2 169.6,1044" fill="#7e7c74"/>
<polygon points="265,954.8 283.9,950 288.1,954.9 269,959.8" fill="#4b5049"/>
<polygon points="352.9,935.9 359.7,934.1 366.4,940.2 359.5,942" fill="#5d6159"/>
<polygon points="253.3,1026.9 265.1,1023.4 272.7,1034.4 260.7,1038.1" fill="#78756c"/>
<polygon points="353.9,942 363.2,939.6 367.5,943.5 358.1,945.9" fill="#5a5f57"/>
<polygon points="66.6,1100.5 75.5,1097.8 79.3,1113.5 70.2,1116.4" fill="#6e6f68"/>
<polygon points="353.4,917.9 361.7,915.9 368.1,921.3 359.7,923.4" fill="#4b5049"/>
<polygon points="333.7,1051.8 340.7,1049.5 344.8,1054.6 337.8,1056.9" fill="#474d44"/>
<polygon points="412.3,981.9 424.9,978.2 428.7,981.4 416,985.2" fill="#5d6159"/>
<polygon points="306.8,967.2 318.5,964.1 323,968.9 311.1,972.1" fill="#6e6f68"/>
<polygon points="37.1,1027.1 43.8,1025.3 46.5,1037.9 39.7,1039.7" fill="#70726a"/>
<polygon points="127.1,971.4 137.8,968.8 141.2,976 130.4,978.7" fill="#70726a"/>
<polygon points="99.6,998 107.3,996.1 110.6,1005 102.8,1007" fill="#666a62"/>
<polygon points="211.2,1097.2 233.3,1090 240.1,1102.5 217.6,1110.1" fill="#5a5f57"/>
<polygon points="252.9,1048.2 263.4,1045 271.7,1057.5 261,1060.9" fill="#78756c"/>
<polygon points="252.3,1004.1 266.6,1000.1 272.3,1008 257.9,1012.1" fill="#666a62"/>
<polygon points="152.6,1004.1 165.4,1000.8 169.8,1009.6 156.9,1013.1" fill="#474d44"/>
<polygon points="277.4,969.8 285.3,967.7 293.1,976.9 285,979.1" fill="#6e6f68"/>
<polygon points="344.1,1015.5 361.3,1010.2 368.2,1017.7 350.8,1023.1" fill="#575d53"/>
<polygon points="230.1,973.8 244.4,970.2 250,977.9 235.6,981.7" fill="#666a62"/>
<polygon points="61.1,1020.4 85.9,1014 88.6,1022.4 63.4,1029.1" fill="#6e6f68"/>
<polygon points="234.4,948.3 243.5,946.1 247.3,951 238.1,953.2" fill="#51574e"/>
<polygon points="231.9,958.2 249.8,953.8 256.1,961.9 237.8,966.5" fill="#5a5f57"/>
<polygon points="338.9,976.7 358.3,971.4 367.9,981 348.2,986.6" fill="#7e7c74"/>
<polygon points="359.9,993.5 373.7,989.5 378.2,994 364.3,998.1" fill="#4b5049"/>
<polygon points="315,954.1 326.8,951 335.5,960 323.5,963.2" fill="#5a5f57"/>
<polygon points="254.9,983.1 269.2,979.3 275.3,987.2 260.8,991.1" fill="#474d44"/>
<polygon points="49.5,1111.3 78.2,1102.5 81.4,1115.4 52,1124.6" fill="#666a62"/>
<polygon points="330.1,962.6 348.5,957.7 355.2,964.3 336.6,969.4" fill="#51574e"/>
<polygon points="380.6,929.9 387.2,928.2 395.8,935.3 389,937" fill="#666a62"/>
<polygon points="301.6,934.2 306.6,933 313.7,940.3 308.6,941.5" fill="#5d6159"/>
<polygon points="375.2,996.1 391.3,991.3 402.2,1001.8 385.8,1006.9" fill="#5a5f57"/>
<polygon points="390.8,944.8 398.6,942.7 407.9,950.6 400,952.7" fill="#5d6159"/>
<polygon points="155,977.6 160.6,976.2 164.9,984.4 159.1,985.8" fill="#7e7c74"/>
<polygon points="206.7,1096.8 226.9,1090.2 232,1099.8 211.5,1106.6" fill="#5a5f57"/>
<polygon points="122.4,1045 147.6,1038 150.3,1044.2 124.8,1051.5" fill="#70726a"/>
<polygon points="140.9,992.9 148.1,991.1 150.6,996.3 143.3,998.2" fill="#666a62"/>
<polygon points="248.5,1096.1 268.4,1089.5 272.2,1095.7 252.1,1102.5" fill="#5a5f57"/>
<polygon points="331.2,1008.1 342.6,1004.7 351.2,1014.3 339.6,1017.9" fill="#4b5049"/>
<polygon points="35.8,1054.1 54.9,1048.9 56.1,1054.2 36.8,1059.5" fill="#70726a"/>
<polygon points="42.8,993.2 66.6,987.5 68.4,993.6 44.3,999.5" fill="#78756c"/>
<polygon points="253.2,1096.3 272.5,1089.7 280.2,1102.1 260.4,1108.9" fill="#666a62"/>
<polygon points="253.8,1008.8 272.1,1003.6 278.1,1011.9 259.6,1017.2" fill="#666a62"/>
<polygon points="232.2,1012.3 238.7,1010.5 244.1,1018.8 237.5,1020.7" fill="#474d44"/>
<polygon points="91.7,1034.3 102.5,1031.4 105.2,1039.4 94.2,1042.4" fill="#575d53"/>
<polygon points="375.9,1018.4 392.5,1013.2 396.4,1017.1 379.7,1022.4" fill="#51574e"/>
<polygon points="89.1,1000.6 95.8,998.9 97,1002.4 90.3,1004.1" fill="#5a5f57"/>
<polygon points="176.1,968.6 182.2,967.1 187.5,976.1 181.3,977.7" fill="#7e7c74"/>
<polygon points="465.9,997.9 479,993.7 485.3,998.8 472.1,1003.1" fill="#5d6159"/>
<polygon points="104.5,989.7 113.9,987.4 117.2,995.6 107.7,998.1" fill="#5d6159"/>
<polygon points="85.5,1123.9 111.3,1115.6 114.5,1126.4 88.3,1135" fill="#575d53"/>
<polygon points="280.4,1002.6 292,999.3 297.8,1006.6 286,1010" fill="#474d44"/>
<polygon points="367.1,915 381.2,911.6 390.1,918.8 375.9,922.3" fill="#575d53"/>
<polygon points="401.8,980.6 412.1,977.6 420.1,984.7 409.6,987.9" fill="#5a5f57"/>
<polygon points="92.6,1034 112.7,1028.6 115.3,1035.9 94.9,1041.5" fill="#51574e"/>
<polygon points="345.5,921.6 353.4,919.7 357.7,923.6 349.8,925.5" fill="#51574e"/>
<polygon points="381.6,1049.2 390.3,1046.3 397.7,1054.4 388.9,1057.4" fill="#78756c"/>
<polygon points="392,1034.4 399.2,1032 404.8,1037.9 397.5,1040.3" fill="#908a7e"/>
<polygon points="368.1,947.7 373.4,946.3 375.5,948.3 370.2,949.7" fill="#908a7e"/>
<polygon points="127.5,1101.5 137.5,1098.4 138.9,1102.3 128.9,1105.4" fill="#989a92"/>
<polygon points="400.7,953.9 407,952.1 411.4,955.9 405,957.6" fill="#7d8078"/>
<polygon points="160.6,1106 169.7,1103.1 171.5,1107.3 162.3,1110.3" fill="#7d8078"/>
<polygon points="308.5,990.9 311.5,990.1 314,993.1 311,993.9" fill="#8a8c84"/>
<polygon points="331,944.7 336.3,943.4 339.4,946.4 334,947.8" fill="#989a92"/>
<polygon points="182.2,1014.8 191.1,1012.4 193,1015.8 184,1018.3" fill="#a09f96"/>
<polygon points="353.1,1057.1 363.6,1053.6 365.7,1056.1 355.2,1059.7" fill="#908a7e"/>
<polygon points="100.5,984.1 105,983 106.4,986.9 101.9,988" fill="#908a7e"/>
<polygon points="308.1,974.8 313.2,973.4 317.1,977.8 311.9,979.2" fill="#8a8c84"/>
<polygon points="317.6,1056.6 321.7,1055.3 325.5,1060.2 321.4,1061.6" fill="#7d8078"/>
<polygon points="218.8,963.3 227.3,961.2 228.6,963 220,965.1" fill="#989a92"/>
<polygon points="390.2,1038.5 397.3,1036.2 402.6,1041.7 395.4,1044.1" fill="#a09f96"/>
<polygon points="259.2,983.3 264,982.1 266.1,984.9 261.3,986.2" fill="#8a8c84"/>
<polygon points="54.3,1063.6 63.7,1061 64.7,1065.4 55.3,1068.1" fill="#908a7e"/>
<polygon points="171.4,1041.4 177.8,1039.5 178.9,1041.8 172.5,1043.6" fill="#a09f96"/>
<polygon points="175.3,1026.1 185,1023.4 186.7,1026.7 176.9,1029.5" fill="#a09f96"/>
<polygon points="245.5,997.6 251,996 254.6,1001.2 249,1002.7" fill="#7d8078"/>
<polygon points="406.7,959.8 409.7,958.9 412,960.9 409,961.8" fill="#8a8c84"/>
<polygon points="222.5,988.6 231.8,986.1 233.3,988.3 223.9,990.8" fill="#7d8078"/>
<polygon points="40.7,1017.4 45.5,1016.2 46,1018.3 41.2,1019.5" fill="#a09f96"/>
<polygon points="351,994 356,992.5 358.1,994.7 353.1,996.2" fill="#7d8078"/>
<polygon points="199.2,964.9 208.7,962.6 210.3,964.9 200.7,967.3" fill="#84857b"/>
<polygon points="436.5,1006 439.4,1005.1 443.7,1008.9 440.8,1009.9" fill="#84857b"/>
<polygon points="241.6,985.2 249.9,983 253.3,987.7 244.9,989.9" fill="#84857b"/>
<polygon points="468.5,1025.4 473.4,1023.7 478.7,1028.4 473.8,1030.1" fill="#7d8078"/>
<polygon points="341.8,949.6 347.4,948.1 350.2,950.9 344.6,952.4" fill="#989a92"/>
<polygon points="165,1045.5 169.8,1044.1 172.2,1049.3 167.3,1050.7" fill="#8a8c84"/>
<polygon points="337.3,982 340.6,981.1 342.4,983.1 339.1,984" fill="#84857b"/>
<polygon points="273.6,1030 279.5,1028.2 281.3,1030.7 275.3,1032.5" fill="#908a7e"/>
<polygon points="264.4,955.4 270.9,953.8 273.5,956.8 266.9,958.5" fill="#908a7e"/>
<polygon points="399,1016.3 403.4,1014.9 408.9,1020.4 404.5,1021.9" fill="#84857b"/>
<polygon points="319.7,940.9 325,939.6 327.7,942.3 322.4,943.6" fill="#989a92"/>
<polygon points="387,1001.4 392.3,999.8 396.3,1003.7 391,1005.3" fill="#989a92"/>
<polygon points="285.3,1023.9 294.2,1021.2 296.9,1024.9 288,1027.6" fill="#7d8078"/>
<polygon points="372.9,956.4 376.6,955.4 378.9,957.5 375.2,958.5" fill="#84857b"/>
<polygon points="345.5,957.4 349.3,956.4 352.3,959.3 348.5,960.4" fill="#989a92"/>
<polygon points="219.2,952.2 222.4,951.4 224.8,954.9 221.6,955.6" fill="#908a7e"/>
<polygon points="159.2,969.7 164.6,968.3 167,972.7 161.5,974.1" fill="#989a92"/>
<polygon points="334.1,1032 338,1030.8 340.7,1034 336.8,1035.2" fill="#a09f96"/>
<polygon points="94.9,1066.7 99.4,1065.4 100.7,1069.4 96.1,1070.8" fill="#8a8c84"/>
<polygon points="169.3,1005.9 174.7,1004.5 175.7,1006.4 170.2,1007.8" fill="#84857b"/>
<polygon points="287.7,953.2 292.9,951.9 295.3,954.6 290.1,956" fill="#a09f96"/>
<polygon points="409.6,983.5 417,981.3 420.3,984.2 412.8,986.4" fill="#8a8c84"/>
<polygon points="317.7,940.3 321.1,939.4 323.8,942.1 320.3,943" fill="#a09f96"/>
<polygon points="339.7,962.5 347.3,960.4 348.6,961.7 340.9,963.8" fill="#908a7e"/>
<polygon points="252.4,1088.3 258.9,1086.2 262.3,1091.8 255.7,1094" fill="#a09f96"/>
<polygon points="311.9,1022.5 318.7,1020.4 320.7,1022.9 313.9,1025" fill="#84857b"/>
<polygon points="288.2,1017.3 295.1,1015.3 297.9,1018.8 290.9,1020.9" fill="#8a8c84"/>
<polygon points="362.8,962.9 370.5,960.8 375,965 367.3,967.2" fill="#8a8c84"/>
<polygon points="379.2,1039.8 386.4,1037.5 390.7,1042.1 383.4,1044.5" fill="#989a92"/>
<polygon points="397.1,966.7 401.7,965.4 404.1,967.5 399.4,968.8" fill="#a09f96"/>
<polygon points="385,979.7 393.7,977.2 395.3,978.6 386.6,981.2" fill="#989a92"/>
<polygon points="456,1034.3 459.8,1033 464.2,1037 460.3,1038.3" fill="#908a7e"/>
<polygon points="173.3,965.9 179.2,964.5 181.6,968.7 175.7,970.2" fill="#989a92"/>
<polygon points="57.3,1035.8 63.6,1034.1 64.2,1036.5 57.9,1038.2" fill="#908a7e"/>
<polygon points="340.8,1005.5 344.9,1004.3 347.5,1007.1 343.4,1008.4" fill="#84857b"/>
<polygon points="325.1,952.9 332.5,951 334,952.5 326.5,954.4" fill="#8a8c84"/>
<polygon points="211.6,1018.3 221.3,1015.6 222.4,1017.4 212.7,1020.1" fill="#84857b"/>
<polygon points="162.9,1138.9 175.1,1134.8 176.5,1138.2 164.2,1142.4" fill="#989a92"/>
<polygon points="351.2,927.4 355.4,926.4 356.8,927.7 352.7,928.7" fill="#84857b"/>
<polygon points="387.6,974.7 391.9,973.5 394.4,975.8 390,977.1" fill="#84857b"/>
<polygon points="221.2,1006.4 228.7,1004.3 230.8,1007.5 223.2,1009.6" fill="#84857b"/>
<polygon points="268.2,991.6 273.1,990.3 274.3,991.8 269.4,993.2" fill="#a09f96"/>
<polygon points="99.5,1077.8 110.4,1074.6 111.3,1077.5 100.4,1080.7" fill="#8a8c84"/>
<polygon points="63.3,1061.9 75.1,1058.5 76.1,1062.2 64.1,1065.6" fill="#84857b"/>
<polygon points="244,964.9 249.4,963.5 252.4,967.4 246.9,968.8" fill="#a09f96"/>
<polygon points="425,998.2 430.7,996.5 434.5,999.9 428.8,1001.7" fill="#908a7e"/>
<polygon points="449.7,1009.5 455.9,1007.5 460.1,1011.2 453.9,1013.2" fill="#7d8078"/>
<polygon points="262.7,956.4 269.1,954.7 272.3,958.6 265.9,960.3" fill="#989a92"/>
<polygon points="427.4,1006.5 430.6,1005.5 435.2,1009.7 432,1010.8" fill="#a09f96"/>
<polygon points="418.1,977.9 421.1,977 424.3,979.9 421.3,980.8" fill="#8a8c84"/>
<polygon points="365,929.6 368.9,928.6 372.2,931.5 368.3,932.4" fill="#7d8078"/>
<polygon points="237.9,962.7 240.7,961.9 243.3,965.5 240.5,966.2" fill="#908a7e"/>
<polygon points="136.9,1003.7 145.2,1001.6 146.9,1005.4 138.6,1007.6" fill="#989a92"/>
<polygon points="296.2,969 299.7,968.1 303.4,972.3 299.8,973.3" fill="#a09f96"/>
<polygon points="477.1,1021.5 480.4,1020.4 482.9,1022.6 479.6,1023.7" fill="#7d8078"/>
<polygon points="369,945.7 377.1,943.5 381.5,947.4 373.3,949.6" fill="#a09f96"/>
<polygon points="256.1,957.4 264.8,955.2 267.6,958.8 258.9,961" fill="#908a7e"/>
<polygon points="145.2,1088.3 149.3,1087 151.6,1092.9 147.4,1094.2" fill="#84857b"/>
<polygon points="423.5,1015.7 426.7,1014.6 431.5,1019.2 428.3,1020.2" fill="#a09f96"/>
<polygon points="328.9,929.2 335.5,927.6 338,929.9 331.3,931.6" fill="#908a7e"/>
<polygon points="418.3,956.9 424.6,955.2 428.6,958.5 422.3,960.3" fill="#989a92"/>
<polygon points="233.4,1055.3 244.6,1051.9 246.2,1054.5 235,1058" fill="#84857b"/>
<polygon points="330.7,997 333.5,996.2 336.1,999.1 333.3,999.9" fill="#8a8c84"/>
<polygon points="383,988.6 390.9,986.3 394.8,990 386.8,992.4" fill="#a09f96"/>
<polygon points="326.1,1029.8 331.7,1028.1 334.3,1031.2 328.7,1033" fill="#7d8078"/>
<polygon points="239.9,952.1 245.7,950.7 246.8,952.1 241,953.6" fill="#84857b"/>
<polygon points="207,955.5 214,953.8 216.6,957.6 209.5,959.3" fill="#908a7e"/>
<polygon points="191.6,1027.5 196.4,1026.1 197.4,1028 192.6,1029.4" fill="#908a7e"/>
<polygon points="420.3,958.6 425,957.2 426.6,958.5 421.8,959.9" fill="#989a92"/>
<polygon points="353.7,925.1 357.8,924.1 359.2,925.3 355.1,926.3" fill="#7d8078"/>
<polygon points="93.2,1058.6 97.3,1057.4 98.8,1062.3 94.7,1063.5" fill="#a09f96"/>
<polygon points="140.7,1048.8 144.3,1047.7 145.6,1051 142,1052" fill="#a09f96"/>
<polygon points="178.2,1030.7 183.7,1029.2 185.7,1033.2 180.2,1034.7" fill="#7d8078"/>
<polygon points="101.6,1023 107.9,1021.3 108.9,1024 102.6,1025.7" fill="#7d8078"/>
<polygon points="446.2,1041.3 450.1,1039.9 454.7,1044.2 450.7,1045.6" fill="#908a7e"/>
<polygon points="234.2,1010.9 239.6,1009.4 243.1,1014.7 237.6,1016.2" fill="#7d8078"/>
<polygon points="407.8,951.3 414.1,949.6 416.4,951.5 410.1,953.3" fill="#8a8c84"/>
<polygon points="125.1,1039.8 135.8,1036.9 138.2,1042.9 127.4,1045.9" fill="#908a7e"/>
<polygon points="481.1,1009.6 485.3,1008.3 491,1013 486.7,1014.4" fill="#7d8078"/>
<polygon points="332.4,1042.7 339.4,1040.5 343.4,1045.3 336.4,1047.6" fill="#8a8c84"/>
<polygon points="340.9,990.7 349,988.4 350.5,990.1 342.4,992.4" fill="#a09f96"/>
<polygon points="254.3,1002.5 262.4,1000.3 263.6,1002 255.5,1004.3" fill="#908a7e"/>
<polygon points="171.1,985.3 179.4,983.2 181.8,987.5 173.4,989.6" fill="#8a8c84"/>
<polygon points="230.1,1022.2 235.4,1020.7 238.8,1026 233.4,1027.6" fill="#989a92"/>
<polygon points="85.1,1041.2 96.7,1038 97.4,1040.2 85.8,1043.4" fill="#7d8078"/>
<polygon points="413.1,1051 416.5,1049.8 419.1,1052.5 415.7,1053.7" fill="#7d8078"/>
<polygon points="316.4,969.1 325.5,966.6 327.5,968.8 318.4,971.3" fill="#7d8078"/>
<polygon points="128.8,992 135.7,990.3 137,993.2 130,995" fill="#989a92"/>
<polygon points="320.8,1060.7 325.5,1059.1 328.5,1063.1 323.8,1064.7" fill="#84857b"/>
<polygon points="83.1,1098.7 93.8,1095.4 95.7,1102.2 84.9,1105.6" fill="#a09f96"/>
<polygon points="226.2,962.2 232.3,960.7 235,964.5 228.8,966" fill="#8a8c84"/>
<polygon points="72.6,1028.3 83.6,1025.4 84.6,1028.6 73.5,1031.5" fill="#7d8078"/>
<polygon points="184.1,1099.3 191.2,1097 193,1100.9 185.9,1103.2" fill="#8a8c84"/>
<polygon points="268.9,1062.5 279,1059.3 281.1,1062.4 271,1065.6" fill="#84857b"/>
<polygon points="346.8,951.7 351.6,950.5 353.5,952.4 348.8,953.7" fill="#84857b"/>
<polygon points="438,989 441.8,987.8 445.5,990.9 441.7,992.1" fill="#989a92"/>
<polygon points="232.6,1085.1 236.6,1083.8 239.7,1089.3 235.6,1090.6" fill="#84857b"/>
<polygon points="116.7,976.1 120.4,975.2 122.1,979.2 118.4,980.1" fill="#908a7e"/>
<polygon points="49.2,1032.6 55,1031.1 56.3,1036.7 50.4,1038.3" fill="#908a7e"/>
<polygon points="102.9,1021.6 110.4,1019.6 111,1021.4 103.6,1023.4" fill="#8a8c84"/>
<polygon points="362.7,1032.7 372.3,1029.6 377.1,1034.9 367.4,1038" fill="#a09f96"/>
<polygon points="336.2,948.2 339,947.4 342.4,950.8 339.6,951.6" fill="#84857b"/>
<polygon points="208.5,970.4 216.7,968.3 219.6,972.7 211.4,974.8" fill="#989a92"/>
<polygon points="179.6,1053 188.7,1050.2 191.9,1056.5 182.6,1059.3" fill="#908a7e"/>
<polygon points="310,1004.1 315.5,1002.5 319.9,1007.7 314.4,1009.4" fill="#84857b"/>
<polygon points="228.3,975 233.8,973.6 235.9,976.6 230.4,978" fill="#7d8078"/>
<polygon points="368.4,928.5 375.4,926.8 378.7,929.6 371.7,931.4" fill="#a09f96"/>
<polygon points="64.2,1004.5 71,1002.8 71.6,1004.8 64.8,1006.6" fill="#7d8078"/>
<polygon points="343.4,1050.4 347.7,1049 350.3,1052.2 345.9,1053.6" fill="#908a7e"/>
<polygon points="307.3,1020.2 310.6,1019.2 312.6,1021.7 309.3,1022.7" fill="#84857b"/>
<polygon points="108.2,1100.9 112.7,1099.5 113.7,1102.7 109.1,1104.1" fill="#8a8c84"/>
<polygon points="126.1,1000.8 129.5,999.9 131.4,1004.4 128,1005.3" fill="#84857b"/>
<polygon points="324.2,959.6 328.6,958.4 332.1,962 327.6,963.2" fill="#989a92"/>
<polygon points="385.2,1025.9 392,1023.7 394.3,1026.1 387.5,1028.3" fill="#908a7e"/>
<polygon points="267.8,971.4 272.6,970.1 273.9,971.8 269.1,973.1" fill="#7d8078"/>
<polygon points="266.9,970.3 270.9,969.3 273.7,972.7 269.7,973.8" fill="#84857b"/>
<polygon points="350,1062.5 357.7,1059.9 360.6,1063.4 352.8,1066" fill="#84857b"/>
<polygon points="294.1,962.6 297.6,961.7 300.9,965.4 297.4,966.3" fill="#989a92"/>
<polygon points="277.9,1021.9 286,1019.5 288.9,1023.5 280.7,1025.9" fill="#908a7e"/>
<polygon points="275.7,974.2 280.6,972.9 282,974.6 277.1,975.9" fill="#989a92"/>
<polygon points="298.6,1084.4 307.8,1081.3 311.8,1087 302.5,1090.2" fill="#8a8c84"/>
<polygon points="60,1097.3 71.1,1093.9 72.4,1099.4 61.2,1102.8" fill="#a09f96"/>
<polygon points="310.6,1015.5 317.9,1013.3 320.2,1016.1 312.8,1018.3" fill="#84857b"/>
<polygon points="272.5,1010.1 276.2,1009.1 280.1,1014.3 276.3,1015.3" fill="#989a92"/>
<polygon points="168.8,1014.6 177.8,1012.1 180.1,1016.5 171,1019" fill="#8a8c84"/>
<polygon points="179.5,979.1 186.1,977.4 187.6,979.9 180.9,981.6" fill="#8a8c84"/>
<polygon points="185.8,969.7 192.9,968 195,971.6 188,973.4" fill="#908a7e"/>
<polygon points="239,1080.1 249.9,1076.6 252.8,1081.5 241.8,1085.1" fill="#7d8078"/>
<polygon points="281.6,1093.2 286.5,1091.5 289.7,1096.5 284.7,1098.2" fill="#989a92"/>
<polygon points="151,970.7 159.8,968.6 160.8,970.5 152,972.6" fill="#908a7e"/>
<polygon points="323,1085.2 333.5,1081.6 335.2,1083.8 324.7,1087.4" fill="#8a8c84"/>
<polygon points="393.6,964 398.8,962.6 400.9,964.4 395.6,965.9" fill="#989a92"/>
<polygon points="372.7,941.5 378,940.1 380.7,942.5 375.4,943.9" fill="#8a8c84"/>
<polygon points="230.3,1005.4 235.3,1004 237.9,1007.9 232.8,1009.3" fill="#84857b"/>
<polygon points="362,1058 369.9,1055.4 374.3,1060.5 366.4,1063.2" fill="#a09f96"/>
<polygon points="254.1,1043 264.1,1040 266.1,1042.9 256,1046" fill="#84857b"/>
<polygon points="213.7,1010.1 223.7,1007.4 225.7,1010.6 215.6,1013.4" fill="#8a8c84"/>
<polygon points="445.6,994.8 454.4,992 456.3,993.6 447.4,996.3" fill="#7d8078"/>
<polygon points="418.3,1037.8 424.4,1035.7 430.4,1041.7 424.2,1043.8" fill="#989a92"/>
<polygon points="41.3,1001 48.7,999.1 49.9,1004.2 42.5,1006.1" fill="#a09f96"/>
<polygon points="314.5,956.9 317.3,956.2 320.2,959.2 317.4,959.9" fill="#84857b"/>
<polygon points="210,1020.3 220.4,1017.4 222.5,1021 212.1,1023.9" fill="#8a8c84"/>
<polygon points="197.9,1100.9 203.8,1099 206.2,1103.9 200.2,1105.9" fill="#8a8c84"/>
<polygon points="236.2,968.9 243.4,967 244.6,968.7 237.4,970.5" fill="#7d8078"/>
<polygon points="80.3,990.1 90.5,987.6 91.9,991.8 81.7,994.3" fill="#908a7e"/>
<polygon points="442.6,975.9 448.3,974.2 452.7,977.9 447,979.6" fill="#84857b"/>
<polygon points="333.2,953.1 336.3,952.3 337.9,953.9 334.8,954.7" fill="#908a7e"/>
<polygon points="158.9,1060.4 162.5,1059.4 164.1,1063.1 160.5,1064.2" fill="#a09f96"/>
<polygon points="405.2,961.4 410.6,959.9 413.5,962.4 408.1,963.9" fill="#7d8078"/>
<polygon points="250,1061.3 256.7,1059.2 258.2,1061.5 251.4,1063.6" fill="#989a92"/>
<polygon points="348.5,945.3 355.7,943.5 357.9,945.5 350.7,947.4" fill="#8a8c84"/>
<polygon points="341.6,992.7 346.8,991.2 350.6,995.2 345.3,996.8" fill="#84857b"/>
<polygon points="236.1,979.1 245.6,976.6 247.8,979.5 238.2,982.1" fill="#a09f96"/>
<polygon points="116.1,1060.6 126.2,1057.7 128.3,1063.2 118,1066.2" fill="#84857b"/>
<polygon points="275.8,942.4 278.7,941.7 280.3,943.5 277.4,944.3" fill="#908a7e"/>
<polygon points="326,953.1 333.5,951.2 336.4,954.2 328.9,956.1" fill="#908a7e"/>
<polygon points="200.7,1080.1 208,1077.8 210.7,1083.1 203.4,1085.5" fill="#908a7e"/>
<polygon points="409.5,1011.2 415.9,1009.2 418.6,1011.7 412.1,1013.8" fill="#7d8078"/>
<polygon points="115.6,1039.5 126.8,1036.4 127.8,1039 116.5,1042.1" fill="#a09f96"/>
<polygon points="226.5,957.1 235.2,955 236.2,956.3 227.5,958.4" fill="#908a7e"/>
<polygon points="216.2,1083.8 224.7,1081 227.3,1085.9 218.8,1088.6" fill="#989a92"/>
<polygon points="305.6,1046.5 316.5,1043 318.2,1045.2 307.3,1048.7" fill="#a09f96"/>
<polygon points="131.4,1046.7 138.2,1044.8 139.8,1048.9 133,1050.9" fill="#a09f96"/>
<polygon points="191.1,1058.8 196.7,1057.1 197.9,1059.4 192.2,1061.1" fill="#908a7e"/>
<polygon points="314.8,1019.9 321.2,1017.9 323.9,1021.1 317.4,1023.1" fill="#7d8078"/>
<polygon points="327.9,1056.8 333.4,1055 336.9,1059.5 331.5,1061.3" fill="#908a7e"/>
<polygon points="371.5,958.9 380.1,956.6 382.6,958.8 374,961.2" fill="#8a8c84"/>
<polygon points="389.2,980.6 394.8,978.9 398,981.9 392.4,983.5" fill="#989a92"/>
<polygon points="107.7,1031.5 116.9,1029 119.1,1034.9 109.8,1037.5" fill="#a09f96"/>
<polygon points="293.9,954.2 297.5,953.3 299.6,955.7 296,956.6" fill="#84857b"/>
<polygon points="147.4,1009.6 151.9,1008.4 153.8,1012.6 149.3,1013.8" fill="#989a92"/>
<polygon points="347.4,963.4 352.7,962 357,966.3 351.7,967.7" fill="#7d8078"/>
<polygon points="396,958.4 398.8,957.6 401.5,960 398.7,960.8" fill="#989a92"/>
<polygon points="286.6,1054.2 295.7,1051.4 297.2,1053.6 288.2,1056.4" fill="#7d8078"/>
<polygon points="127.8,1077.9 137.2,1075.1 138.7,1079.3 129.3,1082.1" fill="#a09f96"/>
<polygon points="222.3,985.3 232,982.7 233.8,985.4 224,987.9" fill="#8a8c84"/>
<polygon points="444.8,1009.4 452.6,1006.9 457.9,1011.6 450.1,1014.1" fill="#a09f96"/>
<polygon points="283.5,946.2 287.2,945.3 289,947.3 285.3,948.2" fill="#8a8c84"/>
<polygon points="248.1,1047 256.9,1044.3 260.2,1049.6 251.4,1052.3" fill="#8a8c84"/>
<polygon points="375,1051.3 382.1,1048.9 386.5,1053.9 379.4,1056.3" fill="#8a8c84"/>
<polygon points="204.7,1078.1 212.9,1075.5 214.9,1079.5 206.7,1082.2" fill="#7d8078"/>
<polygon points="283.1,939.4 291.5,937.4 294.2,940.3 285.7,942.4" fill="#908a7e"/>
<polygon points="244.6,963.7 253.6,961.4 256.8,965.6 247.7,967.9" fill="#84857b"/>
<polygon points="301.7,1037.6 308.5,1035.5 310.4,1038 303.6,1040.1" fill="#a09f96"/>
<polygon points="297.7,1094.3 301.2,1093.1 304.8,1098.5 301.3,1099.7" fill="#84857b"/>
<polygon points="249.3,980.8 252.2,980.1 253.4,981.7 250.5,982.4" fill="#7d8078"/>
<polygon points="242.9,1065.4 254.6,1061.7 256,1064 244.2,1067.7" fill="#a09f96"/>
<polygon points="400.1,981.5 406.7,979.6 408.6,981.4 402,983.3" fill="#989a92"/>
<polygon points="362.1,1020.4 371.9,1017.3 377.1,1022.8 367.2,1026" fill="#908a7e"/>
<polygon points="196.2,1029.9 205.5,1027.3 207.3,1030.6 198,1033.3" fill="#84857b"/>
<polygon points="60.9,1060.4 69.8,1057.9 71.1,1063.3 62.2,1065.9" fill="#7d8078"/>
<polygon points="282.7,1035.8 290.9,1033.3 295.1,1039 286.8,1041.6" fill="#908a7e"/>
<polygon points="337,957.3 345.1,955.1 347.3,957.3 339.2,959.5" fill="#84857b"/>
<polygon points="227.6,953.4 235.7,951.4 238.1,954.5 229.8,956.6" fill="#8a8c84"/>
<polygon points="112.7,1005.1 119.9,1003.2 121.8,1008.1 114.6,1009.9" fill="#989a92"/>
<polygon points="199.1,1116.9 207.2,1114.2 210.9,1122 202.7,1124.9" fill="#a09f96"/>
<polygon points="329.4,1075.6 339.2,1072.3 344.5,1079.1 334.6,1082.6" fill="#989a92"/>
<polygon points="373,1018.2 376.6,1017.1 381,1021.7 377.3,1022.9" fill="#8a8c84"/>
<polygon points="74.3,1097.4 85.6,1093.9 87.7,1101.5 76.2,1105.1" fill="#a09f96"/>
<polygon points="303.5,943.5 308.5,942.2 311.9,945.7 306.8,947" fill="#a09f96"/>
<polygon points="306.8,961.3 314.9,959.1 317.2,961.6 309,963.7" fill="#8a8c84"/>
<polygon points="478,1028.1 485.7,1025.5 489.5,1028.8 481.8,1031.4" fill="#8a8c84"/>
<polygon points="327.8,957.1 335.7,955 339.8,959.1 331.9,961.2" fill="#7d8078"/>
<polygon points="353.7,1040 360.5,1037.8 365.8,1043.9 358.9,1046.1" fill="#84857b"/>
<polygon points="192,1018.6 198.6,1016.8 200.6,1020.4 193.9,1022.3" fill="#989a92"/>
<polygon points="333.8,959.4 342.2,957.2 345.5,960.4 337,962.7" fill="#a09f96"/>
<polygon points="478.9,1015.4 482.1,1014.3 488.4,1019.7 485.2,1020.8" fill="#a09f96"/>
<polygon points="392.6,1028.4 395.9,1027.4 398.7,1030.3 395.4,1031.4" fill="#84857b"/>
<polygon points="293.7,978.7 297.9,977.6 300.9,981.1 296.7,982.3" fill="#908a7e"/>
<polygon points="303.1,1004 310,1002 312.9,1005.5 306,1007.5" fill="#989a92"/>
<polygon points="385.8,932.5 390.2,931.4 394.6,935.1 390.2,936.2" fill="#908a7e"/>
<polygon points="251.5,992.7 258.8,990.7 261.9,994.9 254.5,996.9" fill="#989a92"/>
<polygon points="346.9,964.2 353.4,962.5 355.2,964.2 348.6,966" fill="#8a8c84"/>
<polygon points="150.7,1020.8 158.6,1018.6 160.2,1022 152.3,1024.2" fill="#989a92"/>
<polygon points="239.8,1065 251.3,1061.4 252.8,1063.8 241.2,1067.4" fill="#84857b"/>
<polygon points="377.8,923.1 383.5,921.7 387,924.6 381.2,926" fill="#84857b"/>
<polygon points="292.7,1049.9 300.4,1047.4 302.3,1050.1 294.6,1052.6" fill="#8a8c84"/>
<polygon points="281.5,986.9 289.3,984.7 292.2,988.3 284.3,990.5" fill="#84857b"/>
<polygon points="312.4,942.3 320.5,940.3 322.3,942 314.1,944.1" fill="#908a7e"/>
<polygon points="261.9,967.4 269.9,965.3 272.3,968.4 264.3,970.5" fill="#989a92"/>
<polygon points="96.1,1079.5 105.5,1076.8 106.8,1081.1 97.4,1083.9" fill="#84857b"/>
<polygon points="206.6,955.6 209.8,954.8 210.9,956.5 207.7,957.3" fill="#908a7e"/>
<polygon points="341.9,999.7 350.1,997.3 352.8,1000.3 344.6,1002.7" fill="#7d8078"/>
<polygon points="263,1024.7 269.1,1022.9 273.1,1028.5 266.9,1030.4" fill="#7d8078"/>
<polygon points="117.9,1134.7 126.3,1131.9 127.3,1134.9 118.9,1137.7" fill="#84857b"/>
<polygon points="373.8,943.3 379.5,941.8 380.8,942.9 375.1,944.4" fill="#8a8c84"/>
<polygon points="428.1,1011.5 432.2,1010.2 435.2,1013 431.1,1014.3" fill="#908a7e"/>
<polygon points="283.9,1003.7 293.6,1000.9 295.9,1004 286.2,1006.8" fill="#84857b"/>
<polygon points="157.4,974.2 160.4,973.5 161.9,976.3 158.8,977.1" fill="#84857b"/>
<polygon points="209.6,1066.1 214.8,1064.5 218.5,1071.3 213.2,1073" fill="#84857b"/>
<polygon points="224.5,1062.9 229.3,1061.4 231.6,1065.4 226.7,1066.9" fill="#7d8078"/>
<polygon points="149.1,971.7 157.8,969.5 158.5,971 149.8,973.2" fill="#908a7e"/>
<polygon points="429.9,996.7 437.3,994.4 441.8,998.4 434.4,1000.7" fill="#908a7e"/>
<polygon points="426.2,1035 431.6,1033.2 435.7,1037.2 430.3,1039.1" fill="#8a8c84"/>
<polygon points="136.4,1044.8 146,1042 147.9,1046.7 138.3,1049.5" fill="#7d8078"/>
<polygon points="282.3,1041.3 292.7,1038.1 295.3,1041.6 284.8,1044.9" fill="#989a92"/>
<polygon points="302.2,998.3 312,995.6 315.9,1000.2 306.1,1003.1" fill="#84857b"/>
<polygon points="193.8,1095.7 206.1,1091.7 209.7,1098.9 197.2,1103" fill="#8a8c84"/>
<polygon points="331,1009.6 334.2,1008.6 336,1010.7 332.8,1011.7" fill="#7d8078"/>
<polygon points="327.5,960.6 335.8,958.4 339.4,962 331.1,964.3" fill="#908a7e"/>
<polygon points="445.2,992 448.3,991 450.8,993.1 447.6,994.1" fill="#989a92"/>
<polygon points="337.5,1005.3 340.8,1004.3 343.5,1007.3 340.2,1008.3" fill="#84857b"/>
<polygon points="329.7,938.4 338,936.3 340.2,938.4 331.8,940.5" fill="#908a7e"/>
<polygon points="278.7,946.8 284.7,945.3 287.2,948.2 281.3,949.7" fill="#989a92"/>
<polygon points="57.3,1023.6 65.3,1021.5 66.4,1025.6 58.3,1027.8" fill="#7d8078"/>
<polygon points="316.5,1031.5 320.2,1030.3 322.7,1033.4 319,1034.6" fill="#84857b"/>
<polygon points="415,976.6 417.6,975.9 419.4,977.5 416.8,978.3" fill="#a09f96"/>
<polygon points="358.5,1072.9 367.3,1069.9 369.8,1072.9 361,1076" fill="#908a7e"/>
<polygon points="428.2,1018.1 435.6,1015.8 438.3,1018.3 431,1020.7" fill="#8a8c84"/>
<polygon points="92.8,1067.9 103,1065 104.1,1068.7 93.9,1071.7" fill="#7d8078"/>
<polygon points="236.9,1028.8 241.8,1027.3 244.2,1031 239.2,1032.5" fill="#7d8078"/>
<polygon points="382.8,1009.6 389.9,1007.4 391.9,1009.5 384.9,1011.7" fill="#908a7e"/>
<polygon points="246.6,1059.8 251.9,1058.2 255.4,1063.9 250,1065.6" fill="#7d8078"/>
<polygon points="127.5,998.6 137.2,996.2 138.6,999.3 128.8,1001.8" fill="#8a8c84"/>
<polygon points="257.7,1023.7 263.9,1021.9 267.1,1026.5 260.9,1028.4" fill="#7d8078"/>
<polygon points="309.1,954.4 311.8,953.7 313,955.1 310.3,955.8" fill="#989a92"/>
<polygon points="247.7,948.7 252,947.7 253.4,949.4 249.1,950.5" fill="#8a8c84"/>
<polygon points="375.2,1044.2 379.6,1042.8 382.5,1046 378.1,1047.5" fill="#908a7e"/>
<polygon points="123.3,1019.7 131.6,1017.5 132.4,1019.2 124,1021.4" fill="#908a7e"/>
<polygon points="134,1015.6 144.1,1012.9 145,1015 134.9,1017.7" fill="#84857b"/>
<polygon points="209.9,1069.5 214.4,1068.1 216.4,1071.7 211.8,1073.1" fill="#989a92"/>
<polygon points="353.8,987.1 357.2,986.2 359.5,988.6 356.1,989.6" fill="#8a8c84"/>
<polygon points="472.1,999.4 480.8,996.6 485.4,1000.3 476.6,1003.1" fill="#7d8078"/>
<polygon points="306,967 315.1,964.6 318.2,968.1 309,970.5" fill="#989a92"/>
<polygon points="360.6,987 366.8,985.2 371.3,989.8 365.1,991.6" fill="#7d8078"/>
<polygon points="253.8,1076.5 260.2,1074.5 262.5,1078.2 256.1,1080.3" fill="#7d8078"/>
<polygon points="377.3,997.2 382.8,995.6 387.2,1000 381.6,1001.7" fill="#8a8c84"/>
<polygon points="153.3,978.8 160.5,977 161.4,978.8 154.2,980.6" fill="#84857b"/>
<polygon points="355,959.2 360.3,957.8 364.3,961.6 359,963.1" fill="#a09f96"/>
<polygon points="350.7,933.9 358.7,931.9 360.9,933.9 353,936" fill="#84857b"/>
<polygon points="346.5,995.4 351.4,994 355.5,998.4 350.6,999.8" fill="#8a8c84"/>
<polygon points="362.4,923.8 368.6,922.3 370.5,923.9 364.2,925.4" fill="#7d8078"/>
<polygon points="81.3,1026.4 91.3,1023.8 92.6,1027.8 82.5,1030.5" fill="#7d8078"/>
<polygon points="102.3,1043.2 112.4,1040.4 113.6,1043.6 103.4,1046.5" fill="#7d8078"/>
<polygon points="357.5,940 361.6,938.9 364.4,941.4 360.2,942.5" fill="#908a7e"/>
<polygon points="484.7,1012.5 493.5,1009.5 498.9,1014 490,1017" fill="#a09f96"/>
<polygon points="447.7,990.9 455,988.7 460.5,993.3 453.2,995.6" fill="#8a8c84"/>
<polygon points="192.2,989.2 199.2,987.4 200.7,990 193.8,991.8" fill="#7d8078"/>
<polygon points="302,986.8 305.1,985.9 308.3,989.8 305.2,990.6" fill="#908a7e"/>
<polygon points="330.7,944.9 334.8,943.8 337.6,946.6 333.6,947.7" fill="#a09f96"/>
<polygon points="175.7,1089.2 182.4,1087.1 184.4,1091.5 177.7,1093.7" fill="#989a92"/>
<polygon points="302.3,1064.4 306,1063.2 310.6,1069.6 306.9,1070.9" fill="#a09f96"/>
<polygon points="326.2,969.3 329.5,968.4 331.7,970.8 328.4,971.7" fill="#908a7e"/>
<polygon points="376.7,924 382.8,922.4 385.5,924.7 379.3,926.2" fill="#989a92"/>
<polygon points="428.9,983 433.5,981.6 435.6,983.3 430.9,984.7" fill="#989a92"/>
<polygon points="88.1,1063.4 93.2,1061.9 95,1067.6 89.8,1069.1" fill="#a09f96"/>
<polygon points="330.8,945.4 338.1,943.5 340.2,945.5 332.9,947.4" fill="#a09f96"/>
<polygon points="253.6,1102.4 263.5,1099.1 265,1101.6 255.1,1105" fill="#908a7e"/>
<polygon points="314.8,1026.8 322.5,1024.5 325.1,1027.8 317.5,1030.2" fill="#989a92"/>
<polygon points="435.1,1030.2 440.1,1028.5 444.1,1032.3 439,1034" fill="#908a7e"/>
<polygon points="313.4,1086.2 318.4,1084.5 321.5,1088.8 316.4,1090.5" fill="#908a7e"/>
<polygon points="369.8,971.8 377,969.8 378.6,971.4 371.4,973.4" fill="#908a7e"/>
<polygon points="483.1,1013.6 487,1012.4 493.1,1017.4 489.1,1018.7" fill="#7d8078"/>
<polygon points="341.2,979.1 349,976.9 352,980 344.2,982.3" fill="#989a92"/>
<polygon points="90.8,1068.4 94.8,1067.3 96.5,1072.8 92.4,1074" fill="#908a7e"/>
<polygon points="386,1006.1 392.6,1004.1 397.7,1009.1 391,1011.2" fill="#908a7e"/>
<polygon points="322,962.1 327.2,960.7 331,964.7 325.7,966.1" fill="#a09f96"/>
<polygon points="468.8,1013.7 472,1012.6 474.3,1014.6 471.1,1015.7" fill="#7d8078"/>
<polygon points="49.5,1038.4 55,1036.9 56.1,1041.5 50.5,1043" fill="#a09f96"/>
<polygon points="391.9,979.7 397.1,978.1 398.9,979.8 393.6,981.3" fill="#908a7e"/>
<polygon points="338.2,940.4 344.8,938.7 348.4,942 341.7,943.8" fill="#8a8c84"/>
<polygon points="156.2,1100.6 166.9,1097.2 170.1,1104.9 159.3,1108.4" fill="#989a92"/>
<polygon points="395.1,963 399,961.9 403.4,965.8 399.5,966.9" fill="#989a92"/>
<polygon points="404.4,977.1 412,974.9 414.8,977.4 407.2,979.6" fill="#84857b"/>
<polygon points="175.4,1078.5 185.8,1075.3 188.4,1080.7 177.8,1084" fill="#7d8078"/>
<polygon points="163.2,1030.9 174.6,1027.7 176.4,1031.4 165,1034.6" fill="#7d8078"/>
<polygon points="294.6,956 298.9,954.9 302.5,958.9 298.2,960.1" fill="#84857b"/>
<polygon points="296.4,995.6 305.5,993 307.2,995.1 298,997.7" fill="#84857b"/>
<polygon points="311,1079.3 319.6,1076.4 323.6,1082 315,1085" fill="#a09f96"/>
<polygon points="426.3,1022.1 432.8,1020 437.1,1024 430.6,1026.1" fill="#8a8c84"/>
<polygon points="312.2,931.5 320.3,929.5 322.1,931.3 314,933.3" fill="#989a92"/>
<polygon points="456.2,998.3 462,996.5 464.3,998.5 458.5,1000.4" fill="#989a92"/>
<polygon points="243.4,1012.4 252.2,1009.9 254.4,1013 245.5,1015.6" fill="#989a92"/>
<polygon points="243.2,965.5 250.5,963.7 252.7,966.6 245.3,968.5" fill="#84857b"/>
<polygon points="434.6,1032.4 439.1,1030.9 441,1032.7 436.4,1034.2" fill="#8a8c84"/>
<polygon points="237.2,978.4 243.2,976.8 246,980.7 239.9,982.3" fill="#a09f96"/>
<polygon points="360,999.7 363.5,998.7 367.5,1002.9 364,1003.9" fill="#8a8c84"/>
<polygon points="324.3,978.2 327,977.4 329.8,980.6 327.2,981.3" fill="#908a7e"/>
<polygon points="365.4,917.9 369.5,916.9 372.3,919.4 368.3,920.4" fill="#a09f96"/>
<polygon points="399.2,964.6 401.8,963.9 405.2,966.9 402.6,967.6" fill="#a09f96"/>
<polygon points="449.4,1013.6 456.1,1011.4 460.1,1015 453.4,1017.2" fill="#989a92"/>
<polygon points="353.5,926.9 357.6,925.8 359.4,927.4 355.3,928.4" fill="#908a7e"/>
<polygon points="193.9,1040.5 203.5,1037.7 206.3,1042.8 196.6,1045.6" fill="#a09f96"/>
<polygon points="264.8,1017.4 270.9,1015.7 274.9,1021.2 268.7,1023" fill="#908a7e"/>
<polygon points="281.4,947 285.7,946 288.4,949 284.1,950.1" fill="#8a8c84"/>
<polygon points="312,1046.7 318.6,1044.6 322.7,1049.9 316,1052.1" fill="#989a92"/>
<polygon points="327.9,1014.1 333.6,1012.4 336.4,1015.7 330.7,1017.4" fill="#a09f96"/>
<polygon points="289.6,1034.9 296,1033 298.3,1036 291.8,1038" fill="#7d8078"/>
<polygon points="303.8,1002.8 310.3,1001 313.5,1004.8 307,1006.7" fill="#a09f96"/>
<polygon points="220.6,1033.3 226.3,1031.7 228,1034.6 222.3,1036.3" fill="#84857b"/>
<polygon points="191.6,1121.3 200.2,1118.4 202.7,1123.6 194,1126.6" fill="#8a8c84"/>
<polygon points="195.5,1002.9 205.5,1000.2 207.4,1003.3 197.3,1006.1" fill="#908a7e"/>
<polygon points="78.4,1090.3 89.2,1087.1 90.6,1092.3 79.7,1095.6" fill="#7d8078"/>
<polygon points="271.3,1068.1 276.6,1066.4 281.1,1073.2 275.7,1075" fill="#989a92"/>
<polygon points="139.9,1019.4 149.1,1016.9 151.3,1021.9 142,1024.5" fill="#8a8c84"/>
<polygon points="182.6,1027.2 187.3,1025.8 189.3,1029.7 184.6,1031" fill="#908a7e"/>
<polygon points="363.9,932.3 366.8,931.5 370,934.3 367,935.1" fill="#7d8078"/>
<polygon points="435.5,1035.1 440.2,1033.5 444.7,1037.8 439.9,1039.4" fill="#84857b"/>
<polygon points="297.7,1065.8 304.2,1063.7 308,1069.1 301.5,1071.2" fill="#7d8078"/>
<polygon points="247,1049.8 251.2,1048.5 254.9,1054.5 250.7,1055.8" fill="#7d8078"/>
<polygon points="364.3,943.3 366.9,942.6 369.7,945.2 367.1,945.9" fill="#989a92"/>
<polygon points="471.2,1018.2 474.5,1017.1 479.9,1021.7 476.5,1022.8" fill="#8a8c84"/>
<polygon points="295,967 299.2,965.9 301.3,968.2 297,969.4" fill="#84857b"/>
<polygon points="328.5,964.3 335.9,962.4 339.9,966.5 332.4,968.5" fill="#908a7e"/>
<polygon points="264,1104 267.8,1102.8 269.5,1105.7 265.8,1107" fill="#8a8c84"/>
<polygon points="254,1098.7 263,1095.7 265.5,1099.9 256.4,1103" fill="#7d8078"/>
<polygon points="329.6,1021.1 334.1,1019.7 337.4,1023.7 332.9,1025.1" fill="#7d8078"/>
<polygon points="287.6,968.5 296.9,966.1 299.8,969.5 290.5,972" fill="#8a8c84"/>
<polygon points="397.5,978 402.6,976.5 406.2,979.8 401.1,981.3" fill="#84857b"/>
<polygon points="323.6,1033.3 333.2,1030.3 337.3,1035.3 327.6,1038.3" fill="#908a7e"/>
<polyline points="56.2,1098.2 86.8,1093 114.4,1080.6 154.1,1076.6 202,1069.8 250.9,1050.8 298,1029 343.5,1011.8 390.2,1004.5 434.8,1004.6 473.1,999.6" fill="none" stroke="#3c463d" stroke-width="3.2" stroke-linejoin="round"/>
<polygon points="344.4,1013.9 348.1,1012.8 349.8,1014.7 346.2,1015.8" fill="#c4c6be"/>
<polygon points="332.5,1018.8 334.4,1018.2 335.6,1019.7 333.8,1020.3" fill="#ccd2d8"/>
<polygon points="342.3,1018.3 343.5,1018 344.4,1019 343.2,1019.3" fill="#deded6"/>
<polygon points="343.7,1020.5 346.4,1019.6 348.4,1021.8 345.6,1022.7" fill="#deded6"/>
<polygon points="332,1016 334.6,1015.2 335.6,1016.3 333,1017.1" fill="#c4c6be"/>
<polygon points="337.5,1005.7 339.1,1005.2 339.9,1006.1 338.3,1006.6" fill="#ccd2d8"/>
<polygon points="348.1,1028.3 350.8,1027.4 352.4,1029.3 349.7,1030.1" fill="#e8e8e2"/>
<polygon points="336.9,1019.8 338.2,1019.4 339,1020.3 337.7,1020.7" fill="#f4f4f0"/>
<polygon points="333.9,1017.4 335.6,1016.9 337.3,1018.8 335.6,1019.3" fill="#d8d8d0"/>
<polygon points="336.1,1018.4 339.9,1017.3 341.2,1018.8 337.4,1020" fill="#f4f4f0"/>
<polygon points="342.6,1025.5 345.2,1024.7 347.1,1026.9 344.5,1027.7" fill="#f4f4f0"/>
<polygon points="335.2,1020.5 339.2,1019.3 340.4,1020.7 336.4,1021.9" fill="#c4c6be"/>
<polygon points="336.6,1018.9 338.9,1018.2 340.1,1019.6 337.8,1020.3" fill="#f4f4f0"/>
<polygon points="355.6,918.8 358.2,918.2 359,918.8 356.4,919.5" fill="#b8bab2"/>
<polygon points="361.3,919.2 364.1,918.6 365.7,919.9 362.9,920.6" fill="#b8bab2"/>
<polygon points="364.6,920.6 366.7,920.1 367.3,920.5 365.1,921" fill="#e8e8e2"/>
<polygon points="363.4,922.2 365.3,921.7 366,922.3 364.1,922.8" fill="#b8bab2"/>
<polygon points="362.9,918.4 365.3,917.8 366.9,919.2 364.5,919.8" fill="#ccd2d8"/>
<polygon points="357,915.5 358.8,915.1 360,916.1 358.2,916.6" fill="#d8d8d0"/>
<polygon points="362.5,916.3 364.8,915.7 366,916.8 363.7,917.3" fill="#d8d8d0"/>
<polygon points="359.2,913.3 361.3,912.8 362.4,913.7 360.2,914.3" fill="#ccd2d8"/>
<polygon points="352.6,917.9 353.6,917.6 354.7,918.7 353.7,918.9" fill="#e8e8e2"/>
<polygon points="361.3,926.1 363.2,925.7 363.9,926.2 362,926.7" fill="#ccd2d8"/>
<polygon points="368.9,914.2 371.3,913.7 372.2,914.4 369.8,915" fill="#d8d8d0"/>
<polygon points="358.3,918 360.8,917.4 362.3,918.6 359.8,919.2" fill="#c4c6be"/>
<polygon points="365.7,915.7 367,915.4 367.5,915.8 366.2,916.1" fill="#e8e8e2"/>
<polygon points="364.8,917 365.8,916.8 367.2,918 366.2,918.2" fill="#e8e8e2"/>
<polygon points="358.7,915.9 359.7,915.6 360.3,916.1 359.2,916.3" fill="#d8d8d0"/>
<polygon points="361.4,921.9 362.7,921.6 364.1,922.8 362.8,923.1" fill="#deded6"/>
<polygon points="359,960.1 360,959.8 361.1,961 360.2,961.2" fill="#deded6"/>
<polygon points="373.7,959.6 376.5,958.8 378.2,960.4 375.4,961.2" fill="#e8e8e2"/>
<polygon points="362.2,956.9 365.4,956.1 367,957.7 363.9,958.5" fill="#c4c6be"/>
<polygon points="365.7,954 368.1,953.3 369,954.2 366.5,954.8" fill="#f4f4f0"/>
<polygon points="361.5,950.1 362.8,949.8 363.9,950.7 362.5,951.1" fill="#deded6"/>
<polygon points="372.4,955.1 375,954.4 375.7,955 373,955.7" fill="#deded6"/>
<polygon points="364.6,956.9 366.8,956.3 368,957.4 365.8,958" fill="#b8bab2"/>
<polygon points="374.3,953.2 376.2,952.7 377.8,954.2 376,954.7" fill="#c4c6be"/>
<polygon points="372.7,954.9 374.4,954.4 375.9,955.8 374.2,956.3" fill="#deded6"/>
<polygon points="375.2,960.4 376.9,959.9 377.5,960.4 375.8,960.9" fill="#c4c6be"/>
<polygon points="359.3,955.9 362,955.1 363,956.1 360.3,956.8" fill="#f4f4f0"/>
<polygon points="366.1,954.8 367.5,954.5 368.6,955.5 367.3,955.9" fill="#e8e8e2"/>
<polygon points="378.9,954.3 380.2,954 381.8,955.5 380.5,955.8" fill="#deded6"/>
<polygon points="366.9,952.1 368.3,951.7 369.9,953.2 368.5,953.6" fill="#f4f4f0"/>
<polygon points="377.6,952 378.5,951.8 379.1,952.3 378.2,952.5" fill="#b8bab2"/>
<polygon points="425,1006.3 428.2,1005.3 430.2,1007.2 427,1008.2" fill="#e8e8e2"/>
<polygon points="432.7,1004.7 435.8,1003.7 438,1005.7 434.9,1006.7" fill="#ccd2d8"/>
<polygon points="433.6,1005 435.4,1004.4 437,1005.9 435.2,1006.4" fill="#c4c6be"/>
<polygon points="430.8,997.8 432.2,997.3 434.1,999 432.7,999.5" fill="#d8d8d0"/>
<polygon points="426.4,1006.1 427.7,1005.7 430,1007.8 428.7,1008.2" fill="#d8d8d0"/>
<polygon points="429.1,1006 430.8,1005.4 432.2,1006.7 430.4,1007.2" fill="#c4c6be"/>
<polygon points="423.6,1007.1 426.1,1006.3 427.9,1008 425.4,1008.8" fill="#d8d8d0"/>
<polygon points="434.3,1001.5 437.4,1000.5 438.5,1001.4 435.4,1002.4" fill="#d8d8d0"/>
<polygon points="418.7,1006.8 421.1,1006 422.8,1007.6 420.4,1008.4" fill="#f4f4f0"/>
<polygon points="437.3,999.2 438.8,998.7 440.5,1000.2 439,1000.7" fill="#f4f4f0"/>
<polygon points="433.7,1007.4 435.8,1006.7 437.8,1008.6 435.7,1009.3" fill="#f4f4f0"/>
<polygon points="435.9,1002.1 439.2,1001.1 440.7,1002.4 437.3,1003.5" fill="#ccd2d8"/>
<polygon points="436.1,1002.6 437.4,1002.2 438.1,1002.8 436.8,1003.3" fill="#c4c6be"/>
<polygon points="417.7,1005.1 420.7,1004.2 421.5,1004.9 418.5,1005.9" fill="#d8d8d0"/>
<polygon points="358.1,1034 361,1033.1 363,1035.3 360.1,1036.3" fill="#deded6"/>
<polygon points="354.8,1034.6 358.4,1033.5 359.3,1034.4 355.6,1035.6" fill="#f4f4f0"/>
<polygon points="369.9,1037.3 373.6,1036.1 374.5,1037 370.8,1038.2" fill="#d8d8d0"/>
<polygon points="370.5,1037.6 373.6,1036.5 375.1,1038.2 372,1039.2" fill="#f4f4f0"/>
<polygon points="376.9,1034 378.3,1033.5 380.2,1035.5 378.7,1036" fill="#b8bab2"/>
<polygon points="356.8,1037.4 359.2,1036.7 361.2,1038.9 358.8,1039.7" fill="#deded6"/>
<polygon points="356.5,1030.6 359,1029.8 360,1030.9 357.5,1031.7" fill="#d8d8d0"/>
<polygon points="350,1028.3 352.7,1027.5 354.2,1029.3 351.6,1030.1" fill="#d8d8d0"/>
<polygon points="355.6,1039.6 357.9,1038.9 359,1040.2 356.7,1040.9" fill="#deded6"/>
<polygon points="369.7,1040.6 373.7,1039.3 375.4,1041.1 371.4,1042.4" fill="#deded6"/>
<polygon points="363.1,1029.5 365.2,1028.9 366.3,1030.2 364.3,1030.8" fill="#c4c6be"/>
<polygon points="361.7,1027.9 365.5,1026.7 367.4,1028.8 363.6,1030" fill="#d8d8d0"/>
<polygon points="368,1025.8 370.5,1025 372.3,1027 369.8,1027.8" fill="#deded6"/>
<polygon points="337.7,1035.2 341.4,1034 343.3,1036.2 339.5,1037.4" fill="#f4f4f0"/>
<polygon points="345.6,1030.1 348.2,1029.3 349.7,1031.1 347.1,1031.9" fill="#d8d8d0"/>
<polygon points="352.2,1026.3 354.3,1025.7 355.2,1026.7 353.1,1027.3" fill="#b8bab2"/>
<polygon points="343.7,1036.6 345.2,1036.2 346.5,1037.7 345,1038.1" fill="#b8bab2"/>
<polygon points="348,1031.8 350,1031.2 351.3,1032.7 349.3,1033.3" fill="#f4f4f0"/>
<polygon points="344.8,1033.5 348.1,1032.4 350.1,1034.7 346.7,1035.8" fill="#e8e8e2"/>
<polygon points="343.2,1033.4 346.8,1032.3 348.7,1034.5 345.1,1035.7" fill="#e8e8e2"/>
<polygon points="337.3,1030.8 339.2,1030.3 340.9,1032.3 339.1,1032.9" fill="#f4f4f0"/>
<polygon points="346.7,1029.7 350.2,1028.6 351.9,1030.6 348.4,1031.7" fill="#c4c6be"/>
<polygon points="191.1,1094.4 192.6,1093.9 193.2,1095.1 191.7,1095.6" fill="#c4c6be"/>
<polygon points="170.5,1092.8 171.9,1092.4 172.6,1094 171.2,1094.5" fill="#c4c6be"/>
<polygon points="177.8,1085.5 181.1,1084.4 182.2,1086.8 178.8,1087.9" fill="#b8bab2"/>
<polygon points="161.6,1094.4 164.2,1093.6 164.9,1095.3 162.3,1096.1" fill="#f4f4f0"/>
<polygon points="183.4,1089.9 186,1089.1 186.9,1091.2 184.4,1092" fill="#ccd2d8"/>
<polygon points="171.5,1096.4 175.8,1095 176.6,1097 172.3,1098.4" fill="#b8bab2"/>
<polygon points="196.3,1090.2 199.7,1089.1 201,1091.9 197.6,1093" fill="#f4f4f0"/>
<polygon points="178,1093.4 181.2,1092.4 181.8,1093.7 178.6,1094.7" fill="#c4c6be"/>
<polygon points="175.8,1099.3 180.9,1097.7 181.8,1099.9 176.7,1101.5" fill="#ccd2d8"/>
<polygon points="174.8,1107.6 180,1105.9 180.6,1107.3 175.4,1109" fill="#f4f4f0"/>
<polygon points="187.2,1090.2 190.1,1089.3 190.7,1090.6 187.8,1091.6" fill="#f4f4f0"/>
<polygon points="175.7,1094.3 178.9,1093.3 180.2,1096.2 177,1097.3" fill="#b8bab2"/>
<polygon points="166.6,1093.4 169.4,1092.5 170.5,1095.2 167.7,1096.1" fill="#f4f4f0"/>
<polygon points="178.9,1091.1 181.9,1090.1 182.9,1092.2 179.8,1093.2" fill="#ccd2d8"/>
<polygon points="165.6,1080.4 170,1079.1 170.4,1080.1 166.1,1081.4" fill="#c4c6be"/>
<polygon points="185.2,1098.6 188.1,1097.6 188.9,1099.3 186,1100.2" fill="#deded6"/>
<polygon points="225,968.4 226.7,967.9 227.8,969.5 226,969.9" fill="#e8e8e2"/>
<polygon points="242.6,961 244.3,960.6 245.1,961.7 243.4,962.1" fill="#b8bab2"/>
<polygon points="234.6,961.1 237.6,960.3 238.6,961.7 235.6,962.5" fill="#ccd2d8"/>
<polygon points="240.6,959.3 243.3,958.6 244.1,959.7 241.5,960.4" fill="#f4f4f0"/>
<polygon points="233.9,962.6 235.4,962.2 236.2,963.3 234.7,963.7" fill="#e8e8e2"/>
<polygon points="227.1,965.5 230,964.7 231.1,966.3 228.2,967" fill="#deded6"/>
<polygon points="223.7,964.1 226.6,963.4 227,964 224.1,964.7" fill="#deded6"/>
<polygon points="240.4,962.5 241.6,962.2 242.5,963.3 241.2,963.7" fill="#deded6"/>
<polygon points="234.2,963.8 236.3,963.3 237.4,964.8 235.3,965.3" fill="#f4f4f0"/>
<polygon points="233.7,964 236.3,963.3 236.8,964 234.2,964.7" fill="#e8e8e2"/>
<polygon points="233,970.8 234.4,970.5 235.1,971.4 233.7,971.8" fill="#c4c6be"/>
<polygon points="239.6,970.2 242.3,969.5 243.4,971.1 240.7,971.7" fill="#f4f4f0"/>
<polygon points="229,961 232.7,960.1 233.8,961.7 230.1,962.6" fill="#d8d8d0"/>
<polygon points="244.9,963.1 247,962.6 247.4,963.2 245.3,963.7" fill="#f4f4f0"/>
<polygon points="233,968.2 235.2,967.6 235.6,968.3 233.5,968.8" fill="#ccd2d8"/>
<polygon points="170.7,991.5 173.8,990.7 174.6,992.2 171.5,993" fill="#ccd2d8"/>
<polygon points="170.9,991.9 174.9,990.9 175.7,992.5 171.7,993.5" fill="#d8d8d0"/>
<polygon points="176.9,994.8 180.1,994 180.6,994.9 177.4,995.7" fill="#deded6"/>
<polygon points="178.1,992.4 179.7,992 180.7,993.7 179,994.1" fill="#f4f4f0"/>
<polygon points="163.6,990.5 167.7,989.5 168.4,990.8 164.3,991.9" fill="#f4f4f0"/>
<polygon points="175.6,994.8 179.4,993.8 179.8,994.6 176,995.6" fill="#c4c6be"/>
<polygon points="174.4,989.6 176.1,989.2 176.9,990.5 175.1,990.9" fill="#e8e8e2"/>
<polygon points="183.5,985.1 186.2,984.4 186.7,985.3 184,986" fill="#c4c6be"/>
<polygon points="173.9,992.2 177.1,991.4 177.6,992.3 174.4,993.2" fill="#b8bab2"/>
<polygon points="178.7,988.7 181.1,988.1 181.6,989 179.2,989.7" fill="#e8e8e2"/>
<polygon points="241,954.7 242.7,954.2 243.2,954.9 241.4,955.3" fill="#c4c6be"/>
<polygon points="237.8,956.9 239.2,956.6 240.1,957.7 238.6,958" fill="#d8d8d0"/>
<polygon points="244.2,954.2 246.7,953.6 247.7,954.8 245.2,955.5" fill="#ccd2d8"/>
<polygon points="238.9,952.9 241.5,952.3 242.4,953.5 239.7,954.1" fill="#ccd2d8"/>
<polygon points="236.9,950.1 238.5,949.7 239,950.4 237.5,950.8" fill="#d8d8d0"/>
<polygon points="231.3,956.2 234.4,955.4 234.8,956 231.7,956.8" fill="#d8d8d0"/>
<polygon points="227.9,959 230,958.5 230.8,959.6 228.7,960.1" fill="#deded6"/>
<polygon points="250.1,951.1 252.2,950.5 253,951.5 250.8,952" fill="#ccd2d8"/>
<polygon points="236.6,959.5 239.8,958.7 240.3,959.4 237.1,960.2" fill="#f4f4f0"/>
<polygon points="236.6,961.2 240.3,960.3 240.7,960.9 237,961.8" fill="#e8e8e2"/>
<polygon points="236.9,956.1 239.7,955.5 240.4,956.4 237.6,957.1" fill="#c4c6be"/>
<polygon points="245,959.8 248,959 249,960.3 246,961.1" fill="#ccd2d8"/>
<polygon points="228.8,957.1 230.7,956.7 231.5,957.9 229.7,958.3" fill="#c4c6be"/>
<polygon points="240.7,960.6 244.4,959.7 245.6,961.3 242,962.3" fill="#deded6"/>
<polygon points="234.8,957.7 236.6,957.3 237,957.9 235.3,958.3" fill="#d8d8d0"/>
<polygon points="244.7,964 247.9,963.2 249.1,964.9 245.9,965.7" fill="#d8d8d0"/>
<polygon points="246.1,954.9 249.3,954.1 250.3,955.5 247.1,956.3" fill="#f4f4f0"/>
<polygon points="234.7,952.7 236.8,952.2 237.5,953.2 235.5,953.7" fill="#ccd2d8"/>
<polygon points="237,952 238.2,951.7 238.9,952.7 237.7,953" fill="#f4f4f0"/>
<polygon points="241.9,961.8 244.9,961 245.5,961.8 242.5,962.6" fill="#ccd2d8"/>
<polygon points="369.3,967.2 371.1,966.8 372.2,967.8 370.4,968.3" fill="#b8bab2"/>
<polygon points="346.5,972.4 349.8,971.5 351.6,973.3 348.3,974.2" fill="#ccd2d8"/>
<polygon points="350.9,972 353.5,971.3 354.8,972.6 352.2,973.3" fill="#b8bab2"/>
<polygon points="357.8,970.1 358.9,969.8 359.6,970.4 358.5,970.7" fill="#ccd2d8"/>
<polygon points="341.5,970.8 344.5,970 345.4,970.9 342.4,971.7" fill="#c4c6be"/>
<polygon points="360.4,971.5 363.2,970.8 364.1,971.6 361.3,972.4" fill="#d8d8d0"/>
<polygon points="351.6,977.2 353.4,976.7 354.5,977.9 352.8,978.4" fill="#ccd2d8"/>
<polygon points="361.8,973.9 363.2,973.5 364,974.2 362.6,974.6" fill="#ccd2d8"/>
<polygon points="356,970.4 358.6,969.6 359.2,970.3 356.7,971" fill="#deded6"/>
<polygon points="357.6,970.4 359.1,969.9 360.2,971 358.7,971.5" fill="#deded6"/>
<polygon points="346.3,966.5 349.2,965.7 350.3,966.8 347.5,967.6" fill="#b8bab2"/>
<polygon points="348.3,973.5 350.4,973 351.4,974 349.3,974.6" fill="#deded6"/>
<polygon points="358,971.5 359.4,971.1 360.1,971.8 358.7,972.2" fill="#d8d8d0"/>
<polygon points="359.6,966 362.5,965.2 364,966.6 361.1,967.4" fill="#e8e8e2"/>
<polygon points="379,933.5 380.3,933.2 381.4,934.2 380.1,934.5" fill="#deded6"/>
<polygon points="383.9,929.6 385.6,929.2 387,930.3 385.2,930.7" fill="#ccd2d8"/>
<polygon points="387,926.9 389.3,926.3 390.6,927.4 388.4,928" fill="#b8bab2"/>
<polygon points="395.5,928.3 398.4,927.5 400.2,929 397.3,929.7" fill="#d8d8d0"/>
<polygon points="382.9,924.2 384.6,923.8 386.1,925 384.4,925.5" fill="#c4c6be"/>
<polygon points="397.6,930.2 400,929.6 401,930.4 398.6,931" fill="#b8bab2"/>
<polygon points="385.4,931.9 388.4,931.1 389.7,932.2 386.7,933" fill="#ccd2d8"/>
<polygon points="377.7,934.8 380,934.2 381.4,935.3 379,935.9" fill="#b8bab2"/>
<polygon points="303,946 304.6,945.6 305.7,946.8 304.2,947.2" fill="#ccd2d8"/>
<polygon points="321,945.4 324,944.6 324.8,945.5 321.8,946.2" fill="#deded6"/>
<polygon points="318.3,944.7 320.4,944.2 321.5,945.4 319.5,945.9" fill="#deded6"/>
<polygon points="308.9,947.4 312.2,946.6 313.1,947.5 309.8,948.4" fill="#b8bab2"/>
<polygon points="321.8,944.7 323.6,944.2 324.1,944.7 322.3,945.2" fill="#e8e8e2"/>
<polygon points="307.2,945.6 309.3,945.1 310.8,946.6 308.7,947.2" fill="#c4c6be"/>
<polygon points="314.2,944.6 316.6,944 317.3,944.7 314.9,945.3" fill="#c4c6be"/>
<polygon points="315.8,943.6 317.4,943.2 318.3,944.2 316.7,944.5" fill="#c4c6be"/>
<polygon points="313.9,942 315.5,941.6 316.9,943.1 315.3,943.5" fill="#c4c6be"/>
<polygon points="329.5,945.6 331,945.2 331.9,946.1 330.4,946.5" fill="#d8d8d0"/>
<polygon points="309.7,950.1 310.9,949.8 312.3,951.2 311.1,951.6" fill="#c4c6be"/>
<polygon points="264.3,1082.2 265.8,1081.7 267.5,1084.4 266,1084.9" fill="#deded6"/>
<polygon points="283.6,1078.2 285.1,1077.7 286.7,1080.1 285.2,1080.6" fill="#deded6"/>
<polygon points="275.2,1084.7 277.3,1084 278.6,1086 276.4,1086.7" fill="#c4c6be"/>
<polygon points="268.3,1079.8 269.8,1079.3 270.9,1081 269.3,1081.6" fill="#d8d8d0"/>
<polygon points="261.7,1080.7 263.9,1080 264.7,1081.2 262.5,1082" fill="#f4f4f0"/>
<polygon points="272,1085.4 274.2,1084.6 274.8,1085.6 272.6,1086.4" fill="#c4c6be"/>
<polygon points="336.8,957.1 338.7,956.6 339.9,957.8 338,958.3" fill="#ccd2d8"/>
<polygon points="358,956.3 359.6,955.9 360.9,957.1 359.2,957.6" fill="#b8bab2"/>
<polygon points="347.9,963.5 349.2,963.2 350.3,964.2 348.9,964.6" fill="#e8e8e2"/>
<polygon points="351.4,958.9 353.7,958.3 355,959.6 352.7,960.2" fill="#ccd2d8"/>
<polygon points="352.6,951.8 355,951.2 356.1,952.3 353.8,952.9" fill="#b8bab2"/>
<polygon points="342.4,960 343.3,959.7 344.4,960.9 343.5,961.1" fill="#deded6"/>
<polygon points="339.1,963 341.6,962.4 342.2,962.9 339.7,963.6" fill="#b8bab2"/>
<polygon points="338.1,959.3 341.5,958.4 342.9,959.8 339.4,960.7" fill="#c4c6be"/>
<polygon points="335.1,955.2 338.2,954.3 339.3,955.5 336.3,956.3" fill="#f4f4f0"/>
<polygon points="356,954.7 359,953.9 359.8,954.7 356.8,955.4" fill="#deded6"/>
<polygon points="485.6,1032.5 488.3,1031.6 489.7,1032.8 487,1033.7" fill="#b8bab2"/>
<polygon points="488.6,1030.1 490.3,1029.5 492.9,1031.7 491.1,1032.3" fill="#c4c6be"/>
<polygon points="485,1019.8 488,1018.8 489.1,1019.8 486.2,1020.8" fill="#b8bab2"/>
<polygon points="452,1028.6 455.4,1027.5 456.2,1028.3 452.9,1029.4" fill="#b8bab2"/>
<polygon points="483,1029 485.8,1028 488,1029.9 485.2,1030.9" fill="#d8d8d0"/>
<polygon points="486,1019 489.4,1017.8 491.3,1019.5 487.9,1020.6" fill="#c4c6be"/>
<polygon points="485.9,1024.6 487.9,1023.9 488.8,1024.6 486.8,1025.3" fill="#ccd2d8"/>
<polygon points="485,1022.8 486.2,1022.4 488.5,1024.4 487.3,1024.8" fill="#c4c6be"/>
<polygon points="476.7,1024.1 478.6,1023.4 480.7,1025.3 478.8,1025.9" fill="#f4f4f0"/>
<polygon points="474.3,1024.9 477,1024 477.9,1024.8 475.2,1025.8" fill="#e8e8e2"/>
<polygon points="479.5,1033.5 483,1032.3 484.9,1034 481.5,1035.2" fill="#ccd2d8"/>
<polygon points="489.3,1033.4 490.7,1032.9 491.8,1033.8 490.4,1034.3" fill="#deded6"/>
<polygon points="488.4,1025.5 491.1,1024.6 492.5,1025.8 489.8,1026.7" fill="#c4c6be"/>
<polygon points="480.1,1023.5 483.7,1022.3 486.2,1024.4 482.6,1025.6" fill="#deded6"/>
<polygon points="499.5,1028.2 500.7,1027.8 503.2,1029.8 502,1030.2" fill="#e8e8e2"/>
<polygon points="498.6,1027.5 501.7,1026.5 503.2,1027.7 500.1,1028.8" fill="#c4c6be"/>
<polygon points="250,946.4 252.9,945.7 253.4,946.3 250.5,947" fill="#b8bab2"/>
<polygon points="257.5,947.6 258.6,947.3 259.7,948.7 258.6,948.9" fill="#deded6"/>
<polygon points="248.6,948.2 251.5,947.5 252.4,948.7 249.5,949.5" fill="#c4c6be"/>
<polygon points="240,951.4 243,950.6 243.5,951.3 240.5,952.1" fill="#f4f4f0"/>
<polygon points="248.2,949.7 251.6,948.9 252.1,949.5 248.7,950.4" fill="#e8e8e2"/>
<polygon points="249,954.6 251.3,954 252.2,955.1 249.8,955.7" fill="#d8d8d0"/>
<polygon points="243.6,952.4 245.2,952 246,953.1 244.4,953.5" fill="#e8e8e2"/>
<polygon points="250.9,948 254.3,947.2 255.5,948.8 252.2,949.6" fill="#d8d8d0"/>
<polygon points="248.7,946.2 251.7,945.4 252.3,946.2 249.4,947" fill="#c4c6be"/>
<polygon points="258,954.6 260.5,954 261.4,955.2 259,955.8" fill="#b8bab2"/>
<polygon points="306.8,998.7 309.5,997.9 310.5,999.2 307.9,999.9" fill="#c4c6be"/>
<polygon points="297.3,1003.9 299.5,1003.2 300,1003.9 297.8,1004.5" fill="#d8d8d0"/>
<polygon points="300.9,1002.6 303.3,1001.9 304.1,1002.8 301.7,1003.5" fill="#f4f4f0"/>
<polygon points="300.5,997.1 303.1,996.3 304.2,997.7 301.6,998.5" fill="#c4c6be"/>
<polygon points="307.5,1009 308.9,1008.6 310.4,1010.6 309,1011" fill="#f4f4f0"/>
<polygon points="296.3,1001.9 299.6,1001 301.1,1002.8 297.8,1003.8" fill="#ccd2d8"/>
<polygon points="306.9,1001.9 310.6,1000.9 311.7,1002.2 308,1003.3" fill="#f4f4f0"/>
<polygon points="308.4,1001.7 309.6,1001.4 310.9,1003 309.8,1003.4" fill="#b8bab2"/>
<polygon points="297.1,1001.8 300.6,1000.8 301.5,1001.9 297.9,1002.9" fill="#f4f4f0"/>
<polygon points="304.4,1003.8 307.2,1003 308.8,1005 306,1005.8" fill="#e8e8e2"/>
<polygon points="306.2,1001.1 307.5,1000.7 308.2,1001.4 306.8,1001.8" fill="#f4f4f0"/>
<polygon points="292.8,1007.6 294.6,1007 295.6,1008.3 293.8,1008.9" fill="#ccd2d8"/>
<polygon points="302.8,1000.9 306.3,999.9 307.2,1001.1 303.8,1002.1" fill="#e8e8e2"/>
<polygon points="305.5,1007.7 309.3,1006.6 310.1,1007.6 306.3,1008.7" fill="#deded6"/>
<polygon points="305.2,1007.5 307.2,1007 308.6,1008.7 306.6,1009.3" fill="#f4f4f0"/>
<polygon points="289.2,1004.3 291.4,1003.7 292.2,1004.7 290,1005.4" fill="#deded6"/>
<polygon points="420,1029.2 423.2,1028.2 424.8,1029.7 421.6,1030.8" fill="#c4c6be"/>
<polygon points="411.7,1025.4 415.1,1024.3 416.7,1025.9 413.3,1027" fill="#f4f4f0"/>
<polygon points="408.1,1018.6 409.4,1018.2 410.6,1019.3 409.2,1019.8" fill="#ccd2d8"/>
<polygon points="413.4,1023.4 416.9,1022.2 418.5,1023.8 415,1024.9" fill="#b8bab2"/>
<polygon points="413.5,1026.3 416.1,1025.4 417.3,1026.7 414.7,1027.5" fill="#d8d8d0"/>
<polygon points="410.4,1026.6 413.2,1025.7 415.4,1027.9 412.5,1028.8" fill="#e8e8e2"/>
<polygon points="406.8,1024.3 410.5,1023 411.9,1024.5 408.2,1025.7" fill="#deded6"/>
<polygon points="414,1023.6 417.1,1022.6 418.1,1023.6 415,1024.6" fill="#c4c6be"/>
<polygon points="401.2,1026.5 405,1025.3 406.7,1027 402.9,1028.2" fill="#c4c6be"/>
<polygon points="414.7,1029.3 416.6,1028.6 417.6,1029.6 415.6,1030.2" fill="#f4f4f0"/>
<polygon points="414.3,1024.4 416,1023.8 417.8,1025.6 416.1,1026.1" fill="#b8bab2"/>
<polygon points="402.5,1018.9 405.7,1017.9 407.6,1019.8 404.4,1020.8" fill="#c4c6be"/>
<polygon points="424.8,1021.4 426.4,1020.9 427.7,1022.2 426.2,1022.7" fill="#f4f4f0"/>
<polygon points="397.1,985 399.8,984.2 400.7,985 397.9,985.8" fill="#ccd2d8"/>
<polygon points="409.9,979.9 411.9,979.3 412.7,980 410.6,980.6" fill="#e8e8e2"/>
<polygon points="400.4,981.5 401.9,981.1 403,982.1 401.4,982.5" fill="#ccd2d8"/>
<polygon points="405.3,985.5 408.2,984.6 410.1,986.3 407.2,987.2" fill="#e8e8e2"/>
<polygon points="426.3,980.8 428.4,980.2 430.3,981.9 428.2,982.5" fill="#e8e8e2"/>
<polygon points="405.8,981.3 409.1,980.4 410.9,982.1 407.7,983" fill="#d8d8d0"/>
<polygon points="398,982.4 399.3,982 400.3,983 399,983.3" fill="#deded6"/>
<polygon points="409.9,976.9 412.2,976.2 413.1,977 410.8,977.7" fill="#d8d8d0"/>
<polygon points="403.8,979.9 406.7,979 407.5,979.7 404.6,980.6" fill="#e8e8e2"/>
<polygon points="399.8,986.1 400.8,985.8 402.5,987.5 401.5,987.8" fill="#deded6"/>
<polygon points="413.8,986.3 417,985.4 418.5,986.8 415.4,987.7" fill="#c4c6be"/>
<polygon points="415.4,984.8 418.9,983.8 421,985.7 417.5,986.7" fill="#e8e8e2"/>
<polygon points="419.1,985 422.5,984 424.3,985.7 420.9,986.7" fill="#b8bab2"/>
<polygon points="411.6,977.8 413,977.4 414.2,978.5 412.8,978.9" fill="#b8bab2"/>
<polygon points="392.5,981.1 393.8,980.7 394.8,981.7 393.5,982.1" fill="#e8e8e2"/>
<polygon points="233.2,976.4 235.3,975.9 236.5,977.6 234.4,978.1" fill="#b8bab2"/>
<polygon points="237.2,967.7 238.4,967.4 239.5,968.8 238.2,969.2" fill="#b8bab2"/>
<polygon points="237.8,975.9 241.5,974.9 242.2,975.9 238.4,976.9" fill="#b8bab2"/>
<polygon points="233.9,968 237,967.2 237.6,968.1 234.5,968.8" fill="#ccd2d8"/>
<polygon points="246.7,978.4 248.9,977.8 249.8,979.1 247.7,979.7" fill="#deded6"/>
<polygon points="420.6,966.7 423.3,966 425,967.5 422.3,968.2" fill="#c4c6be"/>
<polygon points="424.8,964.6 426.2,964.2 428.2,966 426.8,966.4" fill="#b8bab2"/>
<polygon points="407.9,961.7 409.2,961.4 410.1,962.1 408.8,962.5" fill="#e8e8e2"/>
<polygon points="423,963.5 424.5,963.1 426.3,964.6 424.8,965.1" fill="#f4f4f0"/>
<polygon points="425.1,964.2 427.4,963.5 429,964.9 426.7,965.6" fill="#ccd2d8"/>
<polygon points="424,960.9 426.7,960.1 427.8,961.1 425.1,961.8" fill="#e8e8e2"/>
<polygon points="413.9,962.9 415.5,962.4 416.3,963.1 414.7,963.6" fill="#b8bab2"/>
<polygon points="418,963.2 420.2,962.6 420.9,963.2 418.6,963.8" fill="#e8e8e2"/>
<polygon points="84.8,1082.4 87.6,1081.5 88.3,1084.1 85.5,1085" fill="#f4f4f0"/>
<polygon points="57.8,1088.3 59.6,1087.8 59.8,1088.8 58,1089.3" fill="#c4c6be"/>
<polygon points="66,1094.9 71,1093.4 71.4,1095 66.4,1096.4" fill="#e8e8e2"/>
<polygon points="93.8,1077.8 99,1076.2 99.7,1078.7 94.6,1080.3" fill="#d8d8d0"/>
<polygon points="64.7,1085.4 67,1084.7 67.3,1086 65,1086.7" fill="#c4c6be"/>
<polygon points="69.9,1084.4 71.7,1083.9 71.9,1085 70.2,1085.6" fill="#d8d8d0"/>
<polygon points="81.9,1083.8 85.5,1082.8 86,1084.9 82.5,1086" fill="#c4c6be"/>
<polygon points="68.9,1077.1 72.3,1076.1 72.9,1078.5 69.5,1079.5" fill="#f4f4f0"/>
<polygon points="79.2,1092.5 84.3,1090.9 84.6,1092.2 79.5,1093.8" fill="#deded6"/>
<polygon points="67.9,1089.9 73,1088.4 73.5,1090.3 68.4,1091.8" fill="#ccd2d8"/>
<polygon points="336.1,962.6 337.8,962.2 339.4,963.8 337.6,964.2" fill="#ccd2d8"/>
<polygon points="330.3,959 333,958.3 334.4,959.7 331.6,960.4" fill="#ccd2d8"/>
<polygon points="326.8,960.6 328.1,960.3 329.7,962 328.5,962.3" fill="#e8e8e2"/>
<polygon points="335,958.9 337.3,958.3 337.8,958.8 335.5,959.5" fill="#f4f4f0"/>
<polygon points="332.6,959.6 335,959 335.9,959.9 333.4,960.5" fill="#b8bab2"/>
<polygon points="328.8,960.7 330.1,960.3 330.7,961 329.4,961.4" fill="#f4f4f0"/>
<polygon points="329.3,961.7 330.7,961.3 331.2,961.9 329.9,962.3" fill="#b8bab2"/>
<polygon points="346.5,957 347.9,956.7 349.2,957.9 347.8,958.3" fill="#e8e8e2"/>
<polygon points="333.8,956.4 336.1,955.8 336.7,956.4 334.4,957" fill="#deded6"/>
<polygon points="334,955.7 336.7,955 337.4,955.7 334.7,956.4" fill="#c4c6be"/>
<polygon points="335.5,957.8 338.2,957.1 339.8,958.7 337.1,959.4" fill="#deded6"/>
<polygon points="341,962.2 342.4,961.9 343.2,962.7 341.8,963" fill="#d8d8d0"/>
<polygon points="335.1,958.9 336.9,958.4 338,959.5 336.2,960" fill="#d8d8d0"/>
<polygon points="267.3,1008.5 270.3,1007.7 271.2,1009 268.2,1009.8" fill="#deded6"/>
<polygon points="267.3,1004.9 268.8,1004.5 270,1006.1 268.5,1006.5" fill="#b8bab2"/>
<polygon points="258,1002.3 259.7,1001.8 260.3,1002.7 258.6,1003.1" fill="#ccd2d8"/>
<polygon points="271.8,1003.9 275.2,1003 276.5,1004.8 273.2,1005.8" fill="#f4f4f0"/>
<polygon points="266.7,998.4 270.1,997.5 271.5,999.4 268.2,1000.4" fill="#ccd2d8"/>
<polygon points="255.2,1000.3 258.8,999.3 259.9,1000.8 256.3,1001.8" fill="#c4c6be"/>
<polygon points="254.4,996.8 257,996.1 257.9,997.3 255.3,998" fill="#c4c6be"/>
<polygon points="255.7,1007.4 258.6,1006.6 259.2,1007.4 256.3,1008.2" fill="#ccd2d8"/>
<polygon points="260.6,997.4 263.6,996.6 264.9,998.3 261.8,999.2" fill="#e8e8e2"/>
<polygon points="262.2,1002.8 265.9,1001.8 267.1,1003.4 263.4,1004.5" fill="#f4f4f0"/>
<polygon points="251.1,1002.9 253.5,1002.3 254.5,1003.7 252.1,1004.4" fill="#c4c6be"/>
<polygon points="143.4,1127.7 148.1,1126.2 149.4,1129.5 144.6,1131.1" fill="#deded6"/>
<polygon points="130,1121.6 133.7,1120.4 134.2,1121.8 130.5,1123" fill="#deded6"/>
<polygon points="128,1123.4 131,1122.5 132,1125.6 129,1126.5" fill="#d8d8d0"/>
<polygon points="132.6,1124.5 136.8,1123.1 137.5,1125.1 133.3,1126.5" fill="#d8d8d0"/>
<polygon points="143.7,1118.5 147.9,1117.1 148.6,1118.7 144.3,1120.1" fill="#e8e8e2"/>
<polygon points="116.4,1131.1 121.2,1129.6 121.9,1132 117.1,1133.6" fill="#d8d8d0"/>
<polygon points="121.5,1132.3 126.8,1130.5 127.9,1133.8 122.5,1135.6" fill="#d8d8d0"/>
<polygon points="156,1120.5 159.5,1119.3 160.2,1121 156.6,1122.2" fill="#ccd2d8"/>
<polygon points="131.2,1120.2 136.4,1118.5 137.4,1121.3 132.1,1123.1" fill="#e8e8e2"/>
<polygon points="313.3,1036.6 316.3,1035.7 317,1036.6 314,1037.6" fill="#d8d8d0"/>
<polygon points="326.2,1033.6 329.2,1032.6 331,1034.9 328,1035.8" fill="#d8d8d0"/>
<polygon points="326.5,1031.3 327.9,1030.8 329.2,1032.4 327.7,1032.8" fill="#deded6"/>
<polygon points="324,1038.7 327.3,1037.7 328.7,1039.5 325.5,1040.5" fill="#f4f4f0"/>
<polygon points="310.6,1035.2 312.6,1034.6 314.1,1036.6 312.2,1037.2" fill="#f4f4f0"/>
<polygon points="312.6,1037.3 316.4,1036.1 317.4,1037.3 313.5,1038.5" fill="#d8d8d0"/>
<polygon points="311.4,1039.7 314.9,1038.6 316.3,1040.4 312.8,1041.5" fill="#deded6"/>
<polygon points="322.8,1030.3 326.7,1029.1 328.4,1031.1 324.4,1032.3" fill="#c4c6be"/>
<polygon points="313.5,1037.6 314.9,1037.1 315.6,1038 314.2,1038.4" fill="#f4f4f0"/>
<polygon points="310.9,1039.2 312.6,1038.7 313.9,1040.4 312.2,1040.9" fill="#ccd2d8"/>
<polygon points="315.9,1029.8 317,1029.5 318.9,1031.9 317.7,1032.2" fill="#b8bab2"/>
<polygon points="302.3,1037.6 306.3,1036.4 307.9,1038.4 303.8,1039.7" fill="#b8bab2"/>
<polygon points="318.1,1034.4 322.1,1033.2 323.1,1034.5 319.1,1035.7" fill="#b8bab2"/>
<polygon points="382.9,1029.5 385.7,1028.6 387.5,1030.5 384.7,1031.4" fill="#d8d8d0"/>
<polygon points="383.3,1019.8 386,1019 387,1020.1 384.4,1020.9" fill="#b8bab2"/>
<polygon points="397.8,1014.7 399.1,1014.2 400.8,1015.9 399.5,1016.3" fill="#d8d8d0"/>
<polygon points="386.2,1031.2 387.8,1030.7 389.2,1032.3 387.7,1032.8" fill="#c4c6be"/>
<polygon points="390,1020 391.1,1019.6 391.9,1020.5 390.9,1020.8" fill="#deded6"/>
<polygon points="393,1022.6 395.2,1021.9 396.8,1023.5 394.6,1024.2" fill="#b8bab2"/>
<polygon points="372.3,1018.4 373.5,1018 374.8,1019.3 373.5,1019.7" fill="#ccd2d8"/>
<polygon points="384.8,1018.2 387.9,1017.2 388.9,1018.2 385.8,1019.2" fill="#c4c6be"/>
<polygon points="394.9,1027.1 398.5,1025.9 400.2,1027.6 396.5,1028.7" fill="#b8bab2"/>
<polygon points="379.1,1023.8 382.4,1022.7 384,1024.4 380.7,1025.5" fill="#d8d8d0"/>
<polygon points="419.5,1015.4 422.5,1014.4 423.3,1015.2 420.3,1016.2" fill="#d8d8d0"/>
<polygon points="423.2,1020.4 425.8,1019.5 427.2,1020.8 424.6,1021.7" fill="#e8e8e2"/>
<polygon points="434.1,1013.3 435.9,1012.7 438.2,1014.9 436.4,1015.4" fill="#f4f4f0"/>
<polygon points="435.2,1009.3 437,1008.8 438.7,1010.4 437,1010.9" fill="#d8d8d0"/>
<polygon points="420.1,1006.1 423.3,1005 424,1005.7 420.8,1006.8" fill="#ccd2d8"/>
<polygon points="425.9,1012.2 428.3,1011.5 430.1,1013.2 427.8,1013.9" fill="#e8e8e2"/>
<polygon points="436.8,1015 438.2,1014.5 440.3,1016.5 438.9,1016.9" fill="#ccd2d8"/>
<polygon points="425.9,1002.9 427.1,1002.5 429,1004.3 427.8,1004.7" fill="#b8bab2"/>
<polygon points="446.8,1018.8 449.9,1017.8 451.5,1019.3 448.4,1020.3" fill="#b8bab2"/>
<polygon points="430.7,1016.1 433.4,1015.3 434.2,1016 431.5,1016.9" fill="#f4f4f0"/>
<polygon points="429.8,1008.9 431.3,1008.4 432.8,1009.7 431.2,1010.2" fill="#c4c6be"/>
<polygon points="437.4,1017.9 439.2,1017.3 441.4,1019.3 439.6,1019.9" fill="#ccd2d8"/>
<polygon points="432,1005.7 433.3,1005.3 434.2,1006.1 432.9,1006.6" fill="#d8d8d0"/>
<polygon points="430.2,1015.7 432.9,1014.8 434.3,1016.2 431.6,1017" fill="#b8bab2"/>
<polygon points="431,1010.9 434,1009.9 436.1,1011.8 433.1,1012.8" fill="#ccd2d8"/>
<polygon points="260,1049.6 264.2,1048.3 265.3,1050.1 261.1,1051.4" fill="#b8bab2"/>
<polygon points="252.7,1032.8 256.8,1031.6 257.4,1032.5 253.3,1033.7" fill="#f4f4f0"/>
<polygon points="257.1,1042.9 259.8,1042 260.8,1043.5 258.1,1044.4" fill="#ccd2d8"/>
<polygon points="254.7,1042.7 257.5,1041.8 258.4,1043.2 255.5,1044.1" fill="#deded6"/>
<polygon points="247.5,1041.7 249.3,1041.2 250.3,1042.7 248.4,1043.3" fill="#d8d8d0"/>
<polygon points="255.8,1043.4 259.9,1042.2 260.7,1043.5 256.6,1044.7" fill="#deded6"/>
<polygon points="269.6,1042.7 271.1,1042.2 272.6,1044.5 271.1,1045" fill="#d8d8d0"/>
<polygon points="250.8,1046.2 254.2,1045.2 255.1,1046.7 251.7,1047.7" fill="#b8bab2"/>
<polygon points="257.9,1041 261.3,1040 262.4,1041.6 259,1042.6" fill="#c4c6be"/>
<polygon points="267.9,1040.3 270.6,1039.5 271.9,1041.4 269.2,1042.3" fill="#e8e8e2"/>
<polygon points="266.1,1033.5 270.2,1032.3 271.1,1033.6 267,1034.8" fill="#e8e8e2"/>
<polygon points="257.2,1038.7 259.5,1038 260.3,1039.3 258,1040" fill="#ccd2d8"/>
<polygon points="255.7,1033.8 258.3,1033 259.5,1034.8 256.8,1035.6" fill="#deded6"/>
<polygon points="164.3,987 167.1,986.2 168,987.9 165.1,988.6" fill="#deded6"/>
<polygon points="176.9,984.3 178.5,983.9 179.1,985.1 177.6,985.5" fill="#f4f4f0"/>
<polygon points="173.3,981.7 175.7,981.1 176.7,982.9 174.3,983.6" fill="#f4f4f0"/>
<polygon points="174,975.2 176.3,974.6 177.1,976 174.8,976.6" fill="#e8e8e2"/>
<polygon points="171,983.2 173.3,982.6 173.9,983.9 171.7,984.5" fill="#e8e8e2"/>
<polygon points="188.3,981 191.6,980.1 192.4,981.5 189.2,982.4" fill="#b8bab2"/>
<polygon points="177.3,984.9 179.6,984.3 180,985.1 177.8,985.6" fill="#deded6"/>
<polygon points="166.1,984.4 167.5,984.1 168.5,985.9 167.1,986.3" fill="#e8e8e2"/>
<polygon points="170.9,983.4 174,982.6 174.8,984 171.7,984.8" fill="#deded6"/>
<polygon points="162.1,986.6 164.7,986 165.1,986.7 162.5,987.4" fill="#e8e8e2"/>
<polygon points="263.9,1041.3 267.6,1040.2 269,1042.2 265.3,1043.4" fill="#f4f4f0"/>
<polygon points="282.3,1028.6 284.5,1027.9 286.1,1030.2 283.9,1030.8" fill="#d8d8d0"/>
<polygon points="275.1,1036.3 277.5,1035.5 278,1036.3 275.6,1037.1" fill="#f4f4f0"/>
<polygon points="290.1,1028.5 294,1027.4 295.3,1029.1 291.3,1030.2" fill="#e8e8e2"/>
<polygon points="273.8,1032.9 277.7,1031.8 279,1033.6 275.1,1034.8" fill="#d8d8d0"/>
<polygon points="291.3,1035.5 294.3,1034.6 295.2,1035.7 292.1,1036.7" fill="#ccd2d8"/>
<polygon points="278.1,1032.4 280.6,1031.7 281.5,1033 279,1033.7" fill="#c4c6be"/>
<polygon points="291.7,1034.5 293.2,1034 294.8,1036.3 293.4,1036.7" fill="#deded6"/>
<polygon points="293.4,1032.5 294.7,1032.2 295.8,1033.7 294.6,1034.1" fill="#d8d8d0"/>
<polygon points="281.7,1028.5 284.8,1027.5 285.5,1028.4 282.4,1029.4" fill="#deded6"/>
<polygon points="345.2,947.2 346.4,946.9 347.9,948.3 346.7,948.6" fill="#e8e8e2"/>
<polygon points="356,944.9 357.7,944.4 358.4,945.1 356.6,945.5" fill="#b8bab2"/>
<polygon points="348.2,945.4 351,944.6 351.8,945.4 349.1,946.1" fill="#e8e8e2"/>
<polygon points="344.9,943 347.6,942.3 348.7,943.5 346.1,944.1" fill="#d8d8d0"/>
<polygon points="353.6,940.4 356.3,939.7 357.5,940.8 354.8,941.5" fill="#d8d8d0"/>
<polygon points="353.2,936.2 355.8,935.5 356.8,936.4 354.2,937.1" fill="#f4f4f0"/>
<polygon points="354.3,946.4 357.1,945.6 358.6,947.1 355.8,947.8" fill="#ccd2d8"/>
<polygon points="348,938.7 350.7,938.1 351.7,939 349,939.7" fill="#ccd2d8"/>
<polygon points="330,943.3 332.5,942.7 333.3,943.5 330.8,944.1" fill="#f4f4f0"/>
<polygon points="338.6,946 340.5,945.6 341.3,946.3 339.4,946.8" fill="#e8e8e2"/>
<polygon points="358.5,942.3 360.9,941.7 362.3,943 359.9,943.6" fill="#d8d8d0"/>
<polygon points="357.8,939.2 359.7,938.8 360.5,939.5 358.6,940" fill="#f4f4f0"/>
<polygon points="252.2,1003.5 254.1,1003 255.2,1004.6 253.3,1005.1" fill="#deded6"/>
<polygon points="257.4,998.7 258.9,998.3 259.4,999.1 258,999.5" fill="#d8d8d0"/>
<polygon points="259.3,991.1 261.7,990.5 262.7,991.8 260.3,992.4" fill="#deded6"/>
<polygon points="256.1,995.1 259.1,994.3 260.3,996 257.3,996.8" fill="#ccd2d8"/>
<polygon points="257.2,996.3 258.4,996 259.7,997.8 258.5,998.1" fill="#deded6"/>
<polygon points="264,995.8 267.2,994.9 267.9,995.8 264.6,996.7" fill="#ccd2d8"/>
<polygon points="248.9,1000.7 251,1000.1 251.8,1001.3 249.8,1001.9" fill="#deded6"/>
<polygon points="240,993.7 243.3,992.8 244.2,994.1 240.8,995" fill="#f4f4f0"/>
<polygon points="257.4,995.8 259.9,995.1 260.7,996.2 258.2,996.9" fill="#deded6"/>
<polygon points="251.5,993.7 253.3,993.2 254,994.2 252.2,994.7" fill="#d8d8d0"/>
<polygon points="238.9,998.8 240.9,998.3 242.3,1000.3 240.3,1000.9" fill="#c4c6be"/>
<polygon points="266.6,997.6 268.3,997.1 269.5,998.8 267.9,999.3" fill="#b8bab2"/>
<polygon points="246.6,999.5 249.1,998.8 250.4,1000.7 247.9,1001.4" fill="#c4c6be"/>
<polygon points="240,994.4 243.9,993.3 244.7,994.4 240.8,995.5" fill="#deded6"/>
<polygon points="258.3,994.9 259.9,994.5 260.6,995.4 259,995.9" fill="#deded6"/>
<polygon points="336.1,943.8 339.1,943.1 339.7,943.6 336.7,944.4" fill="#ccd2d8"/>
<polygon points="331.3,939.5 332.7,939.1 333.3,939.8 332,940.1" fill="#e8e8e2"/>
<polygon points="333.3,944.5 335.6,943.9 336.2,944.5 333.9,945" fill="#deded6"/>
<polygon points="331.1,945.9 332.2,945.6 333.2,946.7 332.1,947" fill="#b8bab2"/>
<polygon points="347.1,949.2 349.7,948.5 350.3,949 347.7,949.7" fill="#deded6"/>
<polygon points="338.1,938.1 340.1,937.6 340.9,938.5 339,939" fill="#ccd2d8"/>
<polygon points="329.2,944.2 331.4,943.7 332.1,944.3 329.8,944.8" fill="#d8d8d0"/>
<polygon points="332.9,941 336,940.2 337.1,941.3 334.1,942.1" fill="#b8bab2"/>
<polygon points="333,944.2 334.2,943.9 335.6,945.3 334.4,945.6" fill="#c4c6be"/>
<polygon points="340.7,943.1 342.1,942.7 343,943.7 341.6,944" fill="#f4f4f0"/>
<polygon points="332.2,942.8 335.3,941.9 336.3,942.9 333.1,943.7" fill="#f4f4f0"/>
<polygon points="323.1,944.8 324.5,944.4 325.4,945.3 323.9,945.6" fill="#ccd2d8"/>
<polygon points="318.9,944.4 321.5,943.7 322.9,945.2 320.3,945.8" fill="#d8d8d0"/>
<polygon points="321.3,943.6 323.5,943.1 324.2,943.8 322.1,944.4" fill="#e8e8e2"/>
<polygon points="324.7,943.8 326.6,943.3 327.4,944.2 325.5,944.6" fill="#ccd2d8"/>
<polygon points="322.5,936.8 324,936.4 324.8,937.3 323.4,937.7" fill="#ccd2d8"/>
<polygon points="321.2,938.4 324.3,937.7 325.8,939.1 322.6,939.9" fill="#e8e8e2"/>
<polygon points="322.6,942.2 323.9,941.9 324.8,942.8 323.5,943.1" fill="#c4c6be"/>
<polygon points="327.7,939.5 331,938.7 332.4,940.1 329.2,941" fill="#deded6"/>
<polygon points="320.4,942 322.8,941.4 323.9,942.5 321.4,943.1" fill="#c4c6be"/>
<polygon points="323,943 325.2,942.4 326.2,943.4 324,943.9" fill="#ccd2d8"/>
<polygon points="316.6,938.4 317.9,938.1 319.3,939.6 318.1,939.9" fill="#c4c6be"/>
<polygon points="327,940.6 328.7,940.2 329.7,941.2 328.1,941.7" fill="#ccd2d8"/>
<polygon points="316,944.7 318.7,944 320.1,945.4 317.4,946.1" fill="#e8e8e2"/>
<polygon points="321.9,939.3 324.5,938.6 325.2,939.3 322.5,940" fill="#c4c6be"/>
<polygon points="318.4,943.6 319.4,943.3 320.8,944.7 319.8,944.9" fill="#ccd2d8"/>
<polygon points="322.2,943.5 323.8,943.1 325,944.4 323.4,944.8" fill="#d8d8d0"/>
<polygon points="310.9,939.8 312.1,939.5 313.4,940.9 312.2,941.2" fill="#d8d8d0"/>
<polygon points="318.9,939.4 320,939.2 320.5,939.7 319.4,940" fill="#deded6"/>
<polygon points="340.7,989.1 343.3,988.4 344.7,989.9 342.1,990.7" fill="#f4f4f0"/>
<polygon points="343.1,994.3 346.7,993.3 348.2,994.9 344.6,995.9" fill="#d8d8d0"/>
<polygon points="334.3,994.5 336.5,993.9 337.8,995.4 335.6,996" fill="#f4f4f0"/>
<polygon points="344.2,991.8 347.4,990.9 348.4,992 345.2,992.9" fill="#d8d8d0"/>
<polygon points="331.3,988.4 333.1,987.9 334.2,989.1 332.4,989.6" fill="#b8bab2"/>
<polygon points="339.2,991.9 342.4,991 343.6,992.3 340.4,993.2" fill="#ccd2d8"/>
<polygon points="327.1,985.8 330.2,984.9 331.8,986.6 328.7,987.5" fill="#c4c6be"/>
<polygon points="320.2,991.3 323.9,990.2 325.5,992 321.7,993.1" fill="#deded6"/>
<polygon points="334.8,984.4 338,983.5 339.5,985.1 336.3,986" fill="#f4f4f0"/>
<polygon points="335.6,991.8 337.7,991.2 339.5,993.2 337.3,993.8" fill="#c4c6be"/>
<polygon points="335,988.7 338.1,987.8 339.7,989.6 336.6,990.4" fill="#d8d8d0"/>
<polygon points="339.2,987.7 341.8,986.9 342.6,987.8 340,988.5" fill="#deded6"/>
<polygon points="69.5,1038.5 72.5,1037.6 73.2,1040 70.1,1040.9" fill="#ccd2d8"/>
<polygon points="67,1043.8 70.8,1042.8 71.4,1045.1 67.6,1046.1" fill="#f4f4f0"/>
<polygon points="42,1041.1 45.7,1040.1 46.2,1042.1 42.4,1043.1" fill="#ccd2d8"/>
<polygon points="51.4,1036 55.7,1034.8 56.2,1036.9 51.8,1038" fill="#ccd2d8"/>
<polygon points="53.3,1028.8 55.5,1028.2 55.8,1029.2 53.5,1029.8" fill="#e8e8e2"/>
<polygon points="58.9,1041.4 60.5,1041 60.9,1042.9 59.3,1043.3" fill="#f4f4f0"/>
<polygon points="54.6,1037.3 58.4,1036.2 59,1038.6 55.1,1039.6" fill="#ccd2d8"/>
<polygon points="68.7,1034 73.4,1032.7 73.6,1033.6 69,1034.9" fill="#deded6"/>
<polygon points="346.3,928.5 347.2,928.3 348.2,929.2 347.3,929.4" fill="#d8d8d0"/>
<polygon points="350.4,930.4 353.5,929.6 354.9,930.9 351.7,931.6" fill="#deded6"/>
<polygon points="354.4,928 357.5,927.2 358.5,928 355.3,928.8" fill="#f4f4f0"/>
<polygon points="341.9,927.2 343,926.9 344.2,928 343.1,928.2" fill="#b8bab2"/>
<polygon points="347,931.4 349.5,930.8 350.5,931.7 347.9,932.3" fill="#ccd2d8"/>
<polygon points="350.7,929.4 353.8,928.6 354.7,929.5 351.6,930.2" fill="#d8d8d0"/>
<polygon points="349.7,926.9 350.6,926.7 351.4,927.4 350.4,927.6" fill="#c4c6be"/>
<polygon points="365.4,933.6 366.9,933.2 368.1,934.3 366.6,934.6" fill="#d8d8d0"/>
<polygon points="358.7,936.9 361.2,936.3 362.8,937.7 360.2,938.3" fill="#f4f4f0"/>
<polygon points="352.3,931.1 353.7,930.7 355.2,932.1 353.8,932.4" fill="#deded6"/>
<polygon points="351.1,924.1 353.2,923.6 354.4,924.6 352.3,925.2" fill="#d8d8d0"/>
<polygon points="366.3,920 367.3,919.7 368.4,920.7 367.4,920.9" fill="#d8d8d0"/>
<polygon points="368.9,920.8 371.3,920.2 372.8,921.5 370.4,922.1" fill="#b8bab2"/>
<polygon points="372.1,916.7 374.3,916.1 375,916.7 372.8,917.3" fill="#f4f4f0"/>
<polygon points="378.9,916.7 381.1,916.2 381.8,916.7 379.6,917.3" fill="#d8d8d0"/>
<polygon points="367.5,919.9 369.9,919.3 370.8,920.1 368.3,920.7" fill="#d8d8d0"/>
<polygon points="365.9,923 367.6,922.6 369,923.7 367.3,924.2" fill="#d8d8d0"/>
<polygon points="362.3,920.4 365.3,919.7 366.7,920.8 363.7,921.6" fill="#deded6"/>
<polygon points="372,917.5 373.1,917.2 374.5,918.4 373.3,918.7" fill="#e8e8e2"/>
<polygon points="369.6,921 371.3,920.6 372.7,921.8 371.1,922.2" fill="#c4c6be"/>
<polygon points="364.1,918 367,917.3 368.4,918.5 365.5,919.2" fill="#ccd2d8"/>
<polygon points="374.4,921.6 377.5,920.9 378.3,921.6 375.3,922.3" fill="#d8d8d0"/>
<polygon points="372.9,1066.8 374.8,1066.2 376.8,1068.5 374.9,1069.1" fill="#f4f4f0"/>
<polygon points="359.4,1071.3 361.7,1070.5 362.8,1071.8 360.4,1072.6" fill="#b8bab2"/>
<polygon points="377.1,1055.3 379.4,1054.6 381.5,1057 379.2,1057.8" fill="#d8d8d0"/>
<polygon points="358,1062.8 361.1,1061.8 362.7,1063.7 359.6,1064.7" fill="#e8e8e2"/>
<polygon points="359.7,1064.8 362.8,1063.8 364,1065.3 361,1066.4" fill="#b8bab2"/>
<polygon points="382.7,1059.5 385,1058.7 385.8,1059.7 383.6,1060.5" fill="#f4f4f0"/>
<polygon points="359,1068.5 363.1,1067.1 364.7,1069 360.6,1070.4" fill="#deded6"/>
<polygon points="345.8,1064.2 349.4,1063 351.6,1065.7 347.9,1066.9" fill="#ccd2d8"/>
<polygon points="369.7,1069 373,1067.8 374.9,1070.1 371.6,1071.2" fill="#f4f4f0"/>
<polygon points="147.3,999.1 151,998.1 151.3,998.7 147.6,999.7" fill="#deded6"/>
<polygon points="139.9,1010.2 143.6,1009.2 144.2,1010.5 140.5,1011.5" fill="#f4f4f0"/>
<polygon points="150.4,997.3 154.1,996.4 154.5,997.1 150.7,998.1" fill="#e8e8e2"/>
<polygon points="153.5,1004.3 154.7,1004 155.2,1004.9 154,1005.2" fill="#f4f4f0"/>
<polygon points="148.2,1002.8 149.9,1002.4 150.7,1004.2 149,1004.6" fill="#b8bab2"/>
<polygon points="153.7,1002.8 156.7,1002 157.2,1003 154.1,1003.8" fill="#f4f4f0"/>
<polygon points="152.9,997.9 154.4,997.5 155.1,998.9 153.6,999.3" fill="#c4c6be"/>
<polygon points="160.4,1000.7 164.2,999.7 165.2,1001.7 161.4,1002.7" fill="#f4f4f0"/>
<polygon points="130.8,1011.1 133.2,1010.5 133.7,1011.6 131.3,1012.3" fill="#c4c6be"/>
<polygon points="149.1,998.1 153.1,997.1 154,999 150,1000" fill="#deded6"/>
<polygon points="153.6,998.9 155.4,998.4 156.2,1000.1 154.4,1000.6" fill="#f4f4f0"/>
<polygon points="145.4,1013.2 149.8,1012 150.4,1013.4 146.1,1014.6" fill="#b8bab2"/>
<polygon points="146.2,1005 150.2,1004 151,1005.6 146.9,1006.7" fill="#e8e8e2"/>
<polygon points="135.4,1001.2 138,1000.5 138.5,1001.8 135.9,1002.5" fill="#ccd2d8"/>
<polygon points="150.9,1003.5 153.8,1002.8 154.5,1004.2 151.6,1005" fill="#deded6"/>
<polygon points="148.9,1011.9 152.5,1010.9 153.1,1012.2 149.5,1013.1" fill="#d8d8d0"/>
<polygon points="269.5,1069.2 272.9,1068.1 274.5,1070.6 271.1,1071.7" fill="#c4c6be"/>
<polygon points="278.6,1059.6 283.1,1058.2 284.2,1059.9 279.7,1061.3" fill="#f4f4f0"/>
<polygon points="273.2,1080.1 274.7,1079.6 276.5,1082.4 275,1082.9" fill="#ccd2d8"/>
<polygon points="276.4,1072.1 280.5,1070.8 281.7,1072.6 277.6,1074" fill="#d8d8d0"/>
<polygon points="286.9,1068.6 291,1067.3 292.4,1069.4 288.3,1070.8" fill="#d8d8d0"/>
<polygon points="277.9,1064.4 279.4,1063.9 281.1,1066.4 279.5,1066.9" fill="#e8e8e2"/>
<polygon points="278.3,1067.1 280.3,1066.5 281.9,1068.9 279.9,1069.5" fill="#ccd2d8"/>
<polygon points="281.8,1072.4 283.4,1071.9 284.8,1073.9 283.1,1074.5" fill="#e8e8e2"/>
<polygon points="282.8,1067.8 285,1067.1 286.7,1069.6 284.4,1070.3" fill="#e8e8e2"/>
<polygon points="275,1071.4 278.8,1070.1 280,1071.9 276.1,1073.2" fill="#b8bab2"/>
<polygon points="405,1005.2 407.8,1004.3 409.1,1005.5 406.2,1006.4" fill="#e8e8e2"/>
<polygon points="414.5,1003.4 416.1,1002.9 416.8,1003.6 415.2,1004.1" fill="#d8d8d0"/>
<polygon points="416.1,1006.9 417.6,1006.5 419.8,1008.5 418.3,1009" fill="#deded6"/>
<polygon points="411.7,1003.7 414,1002.9 415.1,1003.9 412.7,1004.7" fill="#c4c6be"/>
<polygon points="406,1008.8 409.5,1007.7 411,1009.1 407.4,1010.2" fill="#e8e8e2"/>
<polygon points="261.1,956.7 264.3,955.9 265,956.7 261.8,957.5" fill="#d8d8d0"/>
<polygon points="265.2,952.5 268.1,951.8 269.2,953.1 266.3,953.8" fill="#f4f4f0"/>
<polygon points="276,948 279,947.3 280.3,948.8 277.3,949.6" fill="#ccd2d8"/>
<polygon points="276.9,948.1 279.7,947.4 280.3,948.1 277.5,948.8" fill="#b8bab2"/>
<polygon points="282,956.2 285.3,955.4 286.2,956.4 282.9,957.3" fill="#ccd2d8"/>
<polygon points="276.8,949.5 280,948.7 281.3,950.2 278.1,951" fill="#deded6"/>
<polygon points="282,950.8 284.9,950.1 285.9,951.3 283,952" fill="#f4f4f0"/>
<polygon points="302,1045.8 303.5,1045.3 304.4,1046.5 302.9,1047" fill="#ccd2d8"/>
<polygon points="285.7,1044.8 289.7,1043.6 290.6,1044.9 286.6,1046.1" fill="#deded6"/>
<polygon points="280.4,1045.4 284.1,1044.3 285.8,1046.6 282.1,1047.8" fill="#deded6"/>
<polygon points="300.4,1042.1 302,1041.6 303.6,1043.7 302,1044.2" fill="#f4f4f0"/>
<polygon points="288.2,1051.9 292.2,1050.7 293.7,1052.8 289.7,1054.1" fill="#deded6"/>
<polygon points="271.8,1049.4 276.2,1048 277.3,1049.6 272.9,1051" fill="#f4f4f0"/>
<polygon points="286.7,1045.5 290.6,1044.2 291.5,1045.6 287.6,1046.8" fill="#d8d8d0"/>
<polygon points="291.8,1046.5 294.5,1045.7 295.7,1047.4 293.1,1048.3" fill="#d8d8d0"/>
<polygon points="275,1051.4 279.1,1050.1 280.3,1051.8 276.2,1053.1" fill="#c4c6be"/>
<polygon points="292.5,1058.7 296.7,1057.4 297.6,1058.7 293.4,1060" fill="#c4c6be"/>
<polygon points="423.4,997.4 426.6,996.4 428.1,997.6 424.8,998.6" fill="#b8bab2"/>
<polygon points="434,998.3 436.5,997.6 437.5,998.4 435,999.2" fill="#c4c6be"/>
<polygon points="417.7,995.9 420.2,995.1 421,995.8 418.4,996.6" fill="#c4c6be"/>
<polygon points="433.6,993.6 434.8,993.3 436.1,994.4 434.9,994.8" fill="#deded6"/>
<polygon points="430.6,997.1 434.2,996 436.4,998 432.8,999.1" fill="#deded6"/>
<polygon points="434.2,997.7 436,997.2 437.8,998.8 436,999.3" fill="#d8d8d0"/>
<polygon points="431,1001.7 433.8,1000.8 436.1,1002.9 433.3,1003.8" fill="#ccd2d8"/>
<polygon points="345.9,957.3 347.9,956.7 348.6,957.3 346.5,957.9" fill="#ccd2d8"/>
<polygon points="348.3,950.3 350.9,949.6 352.4,951.1 349.8,951.8" fill="#d8d8d0"/>
<polygon points="341.5,955.6 343.1,955.2 343.7,955.8 342.1,956.2" fill="#f4f4f0"/>
<polygon points="350.2,955.1 352.7,954.5 353.8,955.6 351.4,956.2" fill="#d8d8d0"/>
<polygon points="350.6,954.1 352.4,953.6 353.4,954.7 351.6,955.1" fill="#ccd2d8"/>
<polygon points="351.9,953.9 354,953.4 355,954.3 352.9,954.9" fill="#e8e8e2"/>
<polygon points="349.5,953.8 350.7,953.5 352.2,955 351.1,955.3" fill="#c4c6be"/>
<polygon points="345.3,951.5 346.8,951.1 347.5,951.9 346.1,952.2" fill="#ccd2d8"/>
<polygon points="343.3,954.5 346.1,953.8 347.1,954.8 344.3,955.5" fill="#c4c6be"/>
<polygon points="342.6,957.8 343.8,957.5 345.4,959 344.1,959.4" fill="#f4f4f0"/>
<polygon points="388.6,1036 390.5,1035.4 392.7,1037.8 390.8,1038.4" fill="#d8d8d0"/>
<polygon points="391.5,1031.9 393,1031.4 395.2,1033.7 393.7,1034.2" fill="#ccd2d8"/>
<polygon points="405.4,1036.3 408.2,1035.4 410.2,1037.4 407.4,1038.3" fill="#c4c6be"/>
<polygon points="404.1,1041.3 405.7,1040.8 407.5,1042.6 405.9,1043.2" fill="#deded6"/>
<polygon points="404.4,1041 407.8,1039.8 409,1041 405.6,1042.2" fill="#d8d8d0"/>
<polygon points="389.7,1036.2 393.5,1034.9 395.2,1036.7 391.4,1038" fill="#f4f4f0"/>
<polygon points="395,1045.3 398.2,1044.2 399.3,1045.4 396.1,1046.5" fill="#e8e8e2"/>
<polygon points="402.2,1031.7 404,1031.1 406,1033.1 404.1,1033.7" fill="#b8bab2"/>
<polygon points="392.5,1039.2 393.8,1038.8 395.2,1040.2 393.8,1040.6" fill="#e8e8e2"/>
<polygon points="385.7,1038.8 389.3,1037.6 390.2,1038.5 386.6,1039.7" fill="#b8bab2"/>
<polygon points="404.3,1029.8 406.9,1028.9 408.7,1030.7 406.1,1031.6" fill="#d8d8d0"/>
<polygon points="390.1,1030.3 391.5,1029.8 392.5,1030.8 391,1031.3" fill="#c4c6be"/>
<polygon points="377.9,1021 381.4,1019.9 382.8,1021.3 379.2,1022.4" fill="#f4f4f0"/>
<polygon points="370.1,1026.1 372.4,1025.3 373.6,1026.7 371.4,1027.5" fill="#deded6"/>
<polygon points="360,1025.2 361.2,1024.8 362.1,1025.8 360.9,1026.2" fill="#b8bab2"/>
<polygon points="360.9,1027 362.4,1026.6 364.4,1028.8 362.9,1029.3" fill="#deded6"/>
<polygon points="365.7,1025.7 368.2,1025 369.1,1026 366.6,1026.8" fill="#f4f4f0"/>
<polygon points="357.6,1020.3 359.1,1019.9 360.8,1021.7 359.3,1022.2" fill="#d8d8d0"/>
<polygon points="369.1,1029.4 372.1,1028.5 372.9,1029.4 370,1030.3" fill="#e8e8e2"/>
<polygon points="366.6,1031.2 368.4,1030.6 370,1032.2 368.1,1032.8" fill="#deded6"/>
<polygon points="367.4,1032.3 371.4,1031.1 372.6,1032.4 368.6,1033.7" fill="#d8d8d0"/>
<polygon points="373.5,1026.8 377.3,1025.6 378.5,1027 374.8,1028.2" fill="#e8e8e2"/>
<polygon points="360.6,1024.3 362.8,1023.6 363.8,1024.7 361.6,1025.4" fill="#f4f4f0"/>
<polygon points="365.1,1021.5 366.9,1021 368.9,1023.1 367,1023.7" fill="#deded6"/>
<polygon points="295.8,954.1 297.9,953.6 298.9,954.7 296.7,955.2" fill="#e8e8e2"/>
<polygon points="293.7,952.5 295.1,952.2 296.2,953.5 294.9,953.8" fill="#f4f4f0"/>
<polygon points="281.6,955.4 283.8,954.9 284.5,955.6 282.2,956.2" fill="#f4f4f0"/>
<polygon points="276.5,950.3 278.6,949.8 279.6,951 277.5,951.5" fill="#f4f4f0"/>
<polygon points="291.5,954.1 293.1,953.7 294.3,955 292.7,955.4" fill="#ccd2d8"/>
<polygon points="286.3,956.9 287.6,956.6 289,958.2 287.8,958.5" fill="#b8bab2"/>
<polygon points="289.2,953.2 292.4,952.4 293.5,953.7 290.3,954.5" fill="#b8bab2"/>
<polygon points="293.1,955.5 295,955.1 296.1,956.3 294.2,956.8" fill="#d8d8d0"/>
<polygon points="290,954.7 292.1,954.1 293.1,955.3 291,955.8" fill="#c4c6be"/>
<polygon points="287.8,952.8 291.1,951.9 292.5,953.5 289.3,954.4" fill="#d8d8d0"/>
<polygon points="282.6,955.1 283.7,954.9 284.2,955.5 283.1,955.7" fill="#f4f4f0"/>
<polygon points="288.7,953.3 290.9,952.7 291.7,953.6 289.5,954.1" fill="#deded6"/>
<polygon points="292,958.5 295.1,957.7 296.5,959.4 293.5,960.2" fill="#b8bab2"/>
<polygon points="276.4,957.9 280,957 281.2,958.5 277.7,959.4" fill="#ccd2d8"/>
<polygon points="367.2,963.4 369.3,962.8 370.1,963.5 367.9,964.1" fill="#c4c6be"/>
<polygon points="366.8,957.6 369,957 370.3,958.2 368,958.8" fill="#c4c6be"/>
<polygon points="370.4,962 373.1,961.2 374.4,962.5 371.7,963.2" fill="#f4f4f0"/>
<polygon points="365.3,959.6 368.1,958.8 369.6,960.2 366.7,960.9" fill="#ccd2d8"/>
<polygon points="360.1,960.1 362.1,959.6 363,960.5 361.1,961" fill="#d8d8d0"/>
<polygon points="372,956.6 375,955.8 376,956.7 373,957.5" fill="#d8d8d0"/>
<polygon points="381.2,959.4 382.4,959.1 383,959.6 381.8,959.9" fill="#b8bab2"/>
<polygon points="376.1,957.9 378.7,957.2 379.6,958 377,958.7" fill="#ccd2d8"/>
<polygon points="368.3,955 369.7,954.6 370.8,955.6 369.4,956" fill="#d8d8d0"/>
<polygon points="374.5,961 377.9,960.1 378.6,960.7 375.2,961.7" fill="#d8d8d0"/>
<polygon points="367.3,955.4 369.1,955 369.8,955.7 368.1,956.2" fill="#c4c6be"/>
<polygon points="282.6,969.8 284.9,969.2 285.8,970.2 283.5,970.8" fill="#f4f4f0"/>
<polygon points="286.5,970 287.8,969.7 288.9,971 287.6,971.4" fill="#deded6"/>
<polygon points="290,966.1 291.9,965.6 293.4,967.3 291.5,967.8" fill="#deded6"/>
<polygon points="302.9,966.9 305.5,966.2 306.1,966.9 303.5,967.5" fill="#b8bab2"/>
<polygon points="286.9,974.1 288.4,973.8 289.6,975.2 288.1,975.6" fill="#b8bab2"/>
<polygon points="291.6,965.7 293.4,965.3 294.3,966.4 292.6,966.9" fill="#f4f4f0"/>
<polygon points="274.3,971 275.9,970.6 276.5,971.4 275,971.8" fill="#b8bab2"/>
<polygon points="282.8,970.8 285.6,970 286.9,971.6 284,972.3" fill="#e8e8e2"/>
<polygon points="283.4,967.2 284.6,966.9 285.5,968 284.3,968.3" fill="#d8d8d0"/>
<polygon points="290.1,967.4 292.5,966.8 293.2,967.6 290.7,968.2" fill="#d8d8d0"/>
<polygon points="285.6,965.1 287.9,964.5 288.9,965.7 286.6,966.3" fill="#c4c6be"/>
<polygon points="284.9,963.5 286.6,963.1 287.6,964.2 285.8,964.7" fill="#b8bab2"/>
<polygon points="388.3,1058.2 392.3,1056.8 394.6,1059.4 390.6,1060.7" fill="#c4c6be"/>
<polygon points="404.2,1056.8 405.8,1056.3 408,1058.6 406.4,1059.2" fill="#f4f4f0"/>
<polygon points="396,1059.9 397.4,1059.5 399.7,1062 398.3,1062.5" fill="#deded6"/>
<polygon points="395.4,1055.4 398.7,1054.3 399.9,1055.7 396.6,1056.8" fill="#deded6"/>
<polygon points="380.1,1054.8 382.9,1053.9 384.9,1056.1 382,1057" fill="#c4c6be"/>
<polygon points="393.6,1061.1 395.1,1060.6 396.5,1062.2 395,1062.7" fill="#b8bab2"/>
<polygon points="396.8,1058.6 398.7,1058 399.5,1058.8 397.6,1059.5" fill="#b8bab2"/>
<polygon points="390.6,1046.3 393.4,1045.4 394.5,1046.6 391.7,1047.5" fill="#ccd2d8"/>
<polygon points="282.2,951.9 284.3,951.4 285.2,952.4 283.1,952.9" fill="#c4c6be"/>
<polygon points="297.3,949.3 300,948.6 300.7,949.4 298,950.1" fill="#b8bab2"/>
<polygon points="302.1,945.2 303,944.9 303.6,945.6 302.7,945.8" fill="#deded6"/>
<polygon points="292,944.3 294,943.8 295.1,945 293.1,945.5" fill="#b8bab2"/>
<polygon points="294,949.7 297.5,948.8 298,949.4 294.5,950.3" fill="#ccd2d8"/>
<polygon points="290.8,947.7 292.1,947.4 293.4,948.9 292.1,949.2" fill="#d8d8d0"/>
<polygon points="307.8,946.6 310.9,945.8 311.7,946.6 308.6,947.4" fill="#f4f4f0"/>
<polygon points="282.6,946.2 284.6,945.7 285.9,947.1 283.9,947.6" fill="#c4c6be"/>
<polygon points="434.3,1038.8 437.7,1037.7 438.8,1038.8 435.4,1039.9" fill="#e8e8e2"/>
<polygon points="447,1045.3 449.3,1044.5 450.3,1045.4 448,1046.2" fill="#deded6"/>
<polygon points="436.7,1044.9 439.2,1044 440.2,1045 437.7,1045.9" fill="#f4f4f0"/>
<polygon points="426.4,1046.4 428.9,1045.5 431.2,1047.8 428.6,1048.7" fill="#d8d8d0"/>
<polygon points="430,1035.9 433,1034.9 434.2,1036 431.1,1037" fill="#deded6"/>
<polygon points="432.9,1033.7 433.9,1033.3 436.1,1035.4 435,1035.8" fill="#f4f4f0"/>
<polygon points="433.9,1044.2 437.8,1042.9 439.3,1044.4 435.4,1045.7" fill="#b8bab2"/>
<polygon points="427.5,1038.4 429.5,1037.7 431.6,1039.8 429.5,1040.5" fill="#f4f4f0"/>
<polygon points="423.1,1041.5 424.4,1041 426.5,1043.1 425.2,1043.5" fill="#d8d8d0"/>
<polygon points="319.2,950.1 321.9,949.4 322.6,950.1 319.8,950.8" fill="#deded6"/>
<polygon points="319.5,951.9 322.5,951.1 323.5,952.2 320.5,952.9" fill="#e8e8e2"/>
<polygon points="317.4,950.3 319.7,949.7 321.1,951.2 318.9,951.8" fill="#ccd2d8"/>
<polygon points="318.3,949.6 319.8,949.2 320.6,950 319.1,950.4" fill="#ccd2d8"/>
<polygon points="317,950.4 318.1,950.1 319.5,951.5 318.3,951.8" fill="#f4f4f0"/>
<polygon points="319.8,944.2 322,943.6 322.7,944.3 320.5,944.8" fill="#b8bab2"/>
<polygon points="316.9,951.9 318.7,951.4 319.5,952.2 317.7,952.7" fill="#f4f4f0"/>
<polygon points="317.4,957.7 319.6,957.1 320.9,958.5 318.7,959.1" fill="#deded6"/>
<polygon points="434.7,1042.4 436.3,1041.9 437.5,1043.1 435.9,1043.6" fill="#d8d8d0"/>
<polygon points="456.8,1041.3 459.4,1040.4 460.4,1041.3 457.7,1042.2" fill="#c4c6be"/>
<polygon points="427,1044.6 430.1,1043.6 431.6,1045.1 428.5,1046.1" fill="#c4c6be"/>
<polygon points="444.2,1043.2 446.3,1042.4 447.7,1043.8 445.5,1044.5" fill="#deded6"/>
<polygon points="426.7,1047 428.6,1046.4 431,1048.8 429.1,1049.5" fill="#ccd2d8"/>
<polygon points="428.4,1040.7 431.7,1039.6 433.4,1041.2 430,1042.4" fill="#deded6"/>
<polygon points="439.7,1048.9 441,1048.5 441.9,1049.3 440.6,1049.8" fill="#b8bab2"/>
<polygon points="443.3,1041.7 445.5,1040.9 448.1,1043.4 445.8,1044.1" fill="#c4c6be"/>
<polygon points="446.1,1045.1 448,1044.4 449.3,1045.7 447.5,1046.4" fill="#e8e8e2"/>
<polygon points="435.1,1042.1 438.8,1040.8 441.1,1043.1 437.5,1044.4" fill="#d8d8d0"/>
<polygon points="442,1045.1 444,1044.4 446.5,1046.9 444.6,1047.6" fill="#f4f4f0"/>
<polygon points="440.4,1050.3 443.8,1049.2 446.1,1051.5 442.7,1052.6" fill="#b8bab2"/>
<polygon points="438.2,1049.5 441.1,1048.5 442,1049.4 439.1,1050.4" fill="#b8bab2"/>
<polygon points="180.7,1002 182,1001.7 182.5,1002.6 181.2,1002.9" fill="#ccd2d8"/>
<polygon points="187.7,993.5 190.8,992.7 191.5,993.7 188.3,994.6" fill="#b8bab2"/>
<polygon points="175,1006.1 178.9,1005 179.6,1006.3 175.6,1007.3" fill="#e8e8e2"/>
<polygon points="180.5,998 184,997.1 184.8,998.5 181.2,999.5" fill="#ccd2d8"/>
<polygon points="179,1001.3 182.3,1000.4 183,1001.7 179.7,1002.6" fill="#ccd2d8"/>
<polygon points="179.6,1001.8 181.3,1001.3 181.7,1002 179.9,1002.5" fill="#c4c6be"/>
<polygon points="175.4,1002.8 178.1,1002 179,1003.7 176.3,1004.4" fill="#e8e8e2"/>
<polygon points="182.4,1001.4 184.5,1000.8 184.9,1001.6 182.8,1002.2" fill="#e8e8e2"/>
<polygon points="193,1002.6 196.1,1001.8 196.6,1002.6 193.5,1003.5" fill="#b8bab2"/>
<polygon points="176.4,998.4 178.8,997.8 179.3,998.8 176.9,999.4" fill="#d8d8d0"/>
<polygon points="193.8,1000.2 196.2,999.6 197.1,1001.2 194.7,1001.8" fill="#e8e8e2"/>
<polygon points="156.7,980.2 158.9,979.7 159.5,980.8 157.2,981.4" fill="#c4c6be"/>
<polygon points="182.2,985.7 186.1,984.7 186.8,985.9 182.9,986.9" fill="#b8bab2"/>
<polygon points="164.4,976 166.7,975.4 167.2,976.4 164.9,977" fill="#b8bab2"/>
<polygon points="163.8,982.2 165.2,981.9 166,983.3 164.6,983.7" fill="#d8d8d0"/>
<polygon points="168.4,981.7 172.4,980.7 173,981.7 168.9,982.8" fill="#d8d8d0"/>
<polygon points="318.9,977.2 321.2,976.6 321.9,977.3 319.5,977.9" fill="#c4c6be"/>
<polygon points="315.4,971.9 318.1,971.2 319.4,972.5 316.7,973.3" fill="#f4f4f0"/>
<polygon points="296.5,979.4 299.7,978.6 300.3,979.3 297.1,980.1" fill="#e8e8e2"/>
<polygon points="312,975.1 314.2,974.5 314.9,975.3 312.7,975.9" fill="#c4c6be"/>
<polygon points="310.8,979.2 314.4,978.2 315.9,979.9 312.3,980.9" fill="#e8e8e2"/>
<polygon points="311.7,969.9 315,969.1 315.5,969.7 312.2,970.5" fill="#d8d8d0"/>
<polygon points="311.1,979.2 312.6,978.8 313.4,979.7 311.9,980.1" fill="#ccd2d8"/>
<polygon points="315.8,977.1 317.1,976.8 318.5,978.3 317.2,978.7" fill="#b8bab2"/>
<polygon points="312.7,974.7 316.1,973.7 316.9,974.6 313.4,975.5" fill="#b8bab2"/>
<polygon points="322.8,976 326,975.1 327.3,976.6 324.1,977.4" fill="#b8bab2"/>
<polygon points="311.8,975.8 313.1,975.4 314.2,976.7 312.9,977" fill="#b8bab2"/>
<polygon points="313.9,980.3 317.2,979.3 318.1,980.3 314.7,981.2" fill="#f4f4f0"/>
<polygon points="294.1,977.9 295.3,977.6 296.2,978.6 295,978.9" fill="#deded6"/>
<polygon points="291,973.4 292.7,972.9 293.7,974.1 292,974.6" fill="#ccd2d8"/>
<polygon points="282.6,978 283.8,977.7 285.2,979.4 283.9,979.7" fill="#deded6"/>
<polygon points="290.4,978.5 291.8,978.1 292.6,979.1 291.2,979.5" fill="#d8d8d0"/>
<polygon points="286.4,978.3 287.9,977.9 289,979.2 287.5,979.6" fill="#b8bab2"/>
<polygon points="287.4,980.3 290.8,979.4 291.9,980.6 288.4,981.5" fill="#d8d8d0"/>
<polygon points="294.6,974 296.5,973.5 297.7,974.9 295.8,975.4" fill="#e8e8e2"/>
<polygon points="299.5,976.3 301.4,975.8 302.8,977.3 300.8,977.8" fill="#d8d8d0"/>
<polygon points="290.1,976.8 291.2,976.4 291.8,977.1 290.6,977.4" fill="#c4c6be"/>
<polygon points="299.2,969 301.7,968.4 302.2,968.9 299.7,969.6" fill="#ccd2d8"/>
<polygon points="288.2,972.1 291.5,971.2 292.7,972.7 289.4,973.6" fill="#c4c6be"/>
<polygon points="287.1,976.5 288.3,976.1 289.6,977.7 288.4,978" fill="#c4c6be"/>
<polygon points="336.6,953.6 339.2,952.9 340.4,954.1 337.8,954.8" fill="#d8d8d0"/>
<polygon points="335.7,951.9 338.6,951.1 340,952.5 337,953.2" fill="#deded6"/>
<polygon points="331.6,948.3 333.4,947.9 335,949.4 333.2,949.9" fill="#c4c6be"/>
<polygon points="334.5,947.6 335.6,947.3 336.8,948.6 335.7,948.8" fill="#e8e8e2"/>
<polygon points="329,948.1 330,947.8 330.9,948.8 330,949" fill="#e8e8e2"/>
<polygon points="335.9,949.4 337.1,949.1 338.3,950.3 337.1,950.6" fill="#deded6"/>
<polygon points="346.7,953.5 349.4,952.8 350.1,953.5 347.4,954.2" fill="#e8e8e2"/>
<polygon points="345.5,948.7 346.5,948.5 347.5,949.4 346.5,949.7" fill="#f4f4f0"/>
<polygon points="333,948.9 335.6,948.2 336.5,949.1 333.8,949.8" fill="#e8e8e2"/>
<polygon points="338.9,948.3 340.8,947.8 342.3,949.2 340.3,949.8" fill="#c4c6be"/>
<polygon points="319.9,1034.8 322.9,1033.9 324.8,1036.2 321.8,1037.2" fill="#d8d8d0"/>
<polygon points="306.9,1040.1 310.5,1039 311.9,1040.8 308.3,1041.9" fill="#deded6"/>
<polygon points="306.6,1037.1 308.3,1036.6 309.7,1038.4 308,1039" fill="#d8d8d0"/>
<polygon points="312.6,1037.6 313.8,1037.2 315.5,1039.4 314.3,1039.8" fill="#ccd2d8"/>
<polygon points="313.9,1044 315.9,1043.3 317.4,1045.4 315.5,1046" fill="#e8e8e2"/>
<polygon points="288.4,1040.3 290.9,1039.5 291.8,1040.9 289.4,1041.6" fill="#b8bab2"/>
<polygon points="309.9,1038.6 312.8,1037.6 314.1,1039.3 311.1,1040.3" fill="#deded6"/>
<polygon points="307.2,1033.9 310.5,1032.8 311.9,1034.6 308.5,1035.6" fill="#e8e8e2"/>
<polygon points="310.3,1045.6 312.2,1045 313.1,1046.1 311.1,1046.8" fill="#ccd2d8"/>
<polygon points="319.4,1043.1 320.9,1042.6 322.9,1045.1 321.3,1045.6" fill="#c4c6be"/>
<polygon points="308.2,1033.6 309.6,1033.1 311.3,1035.4 309.9,1035.8" fill="#f4f4f0"/>
<polygon points="90.3,1131.6 92.3,1130.9 93.1,1133.7 91,1134.4" fill="#f4f4f0"/>
<polygon points="88.8,1122.4 93.2,1121 94,1124.1 89.6,1125.5" fill="#b8bab2"/>
<polygon points="97.4,1123.1 100.8,1122 101.1,1123.3 97.7,1124.4" fill="#c4c6be"/>
<polygon points="90.1,1134.6 95.5,1132.8 96,1134.6 90.5,1136.4" fill="#c4c6be"/>
<polygon points="85.6,1117.4 90.4,1115.8 90.8,1117.2 85.9,1118.8" fill="#c4c6be"/>
<polygon points="93.2,1125.8 96,1124.9 96.6,1127 93.8,1127.9" fill="#d8d8d0"/>
<polygon points="91.5,1124.1 95.9,1122.7 96.3,1124.2 91.8,1125.6" fill="#f4f4f0"/>
<polygon points="81.7,1129.8 84.2,1129 84.9,1132 82.4,1132.8" fill="#ccd2d8"/>
<polygon points="69.7,1135.4 71.7,1134.7 72.1,1136.5 70.1,1137.2" fill="#ccd2d8"/>
<polygon points="101.5,1127.2 104.7,1126.1 105.3,1128.3 102.1,1129.3" fill="#f4f4f0"/>
<polygon points="37.2,1012.4 39.2,1011.9 39.4,1012.6 37.4,1013.1" fill="#deded6"/>
<polygon points="42.9,1021.9 47.3,1020.7 47.6,1022.4 43.3,1023.5" fill="#deded6"/>
<polygon points="46.7,1015.7 49.7,1015 50.2,1016.8 47.1,1017.6" fill="#c4c6be"/>
<polygon points="59.6,1014.9 61.2,1014.5 61.6,1015.9 60,1016.3" fill="#f4f4f0"/>
<polygon points="55.8,1010.9 59,1010.1 59.2,1011 56,1011.8" fill="#c4c6be"/>
<polygon points="51.2,1010.4 54.3,1009.6 54.6,1010.9 51.5,1011.7" fill="#b8bab2"/>
<polygon points="60.8,1019.4 65.1,1018.3 65.5,1019.8 61.2,1021" fill="#d8d8d0"/>
<polygon points="49.7,1013.6 52.4,1012.9 52.7,1014.2 50,1014.9" fill="#b8bab2"/>
<polygon points="61.6,1011.5 65.1,1010.6 65.6,1012.6 62.1,1013.5" fill="#c4c6be"/>
<polygon points="320.4,982.4 322.3,981.8 323,982.6 321.1,983.1" fill="#deded6"/>
<polygon points="331.4,976.4 333.2,975.9 334.7,977.4 332.8,978" fill="#d8d8d0"/>
<polygon points="313.7,979.4 316.8,978.6 317.5,979.4 314.5,980.3" fill="#c4c6be"/>
<polygon points="313.8,985.5 315.5,985 316.8,986.4 315.1,986.9" fill="#ccd2d8"/>
<polygon points="330.4,983.9 332.6,983.3 334.3,985.1 332.1,985.8" fill="#c4c6be"/>
<polygon points="188.4,984.8 191.8,983.9 192.8,985.6 189.3,986.5" fill="#e8e8e2"/>
<polygon points="188.2,989.1 190.9,988.3 191.6,989.6 188.9,990.3" fill="#f4f4f0"/>
<polygon points="185.9,989.5 188,989 188.4,989.8 186.4,990.4" fill="#f4f4f0"/>
<polygon points="190.1,986.1 192.8,985.3 193.9,987.2 191.1,987.9" fill="#deded6"/>
<polygon points="188.5,985.1 191.3,984.4 191.8,985.3 189,986" fill="#e8e8e2"/>
<polygon points="178,991.7 179.9,991.2 180.4,992.2 178.5,992.7" fill="#deded6"/>
<polygon points="194.5,984.8 196.7,984.2 197.2,985 195,985.5" fill="#b8bab2"/>
<polygon points="170.4,993.1 171.6,992.8 172.3,994 171,994.4" fill="#d8d8d0"/>
<polygon points="184.1,984.6 186.9,983.9 187.6,985.1 184.8,985.8" fill="#deded6"/>
<polygon points="181.7,985.5 184.6,984.8 185.3,986 182.4,986.8" fill="#deded6"/>
<polygon points="194.9,983.7 197.4,983.1 198.3,984.7 195.9,985.3" fill="#d8d8d0"/>
<polygon points="185.7,1129 188.4,1128.1 189.7,1131 187,1132" fill="#d8d8d0"/>
<polygon points="207.4,1127.9 209.5,1127.2 210.9,1130.2 208.7,1130.9" fill="#d8d8d0"/>
<polygon points="180.7,1130.6 185,1129.1 186,1131.6 181.8,1133.1" fill="#d8d8d0"/>
<polygon points="180.8,1125.6 182.5,1125.1 183.1,1126.4 181.4,1127" fill="#d8d8d0"/>
<polygon points="192.7,1130.7 197.3,1129.2 198.6,1132.1 194,1133.7" fill="#f4f4f0"/>
<polygon points="171.5,1127.6 173.4,1126.9 173.9,1128.2 172,1128.8" fill="#c4c6be"/>
<polygon points="182.8,1124.4 185.1,1123.6 186.1,1126 183.8,1126.8" fill="#d8d8d0"/>
<polygon points="199,1134.2 204,1132.5 205.3,1135.5 200.4,1137.2" fill="#f4f4f0"/>
<polygon points="193,1133.3 198.3,1131.5 199.6,1134.4 194.3,1136.2" fill="#d8d8d0"/>
<polygon points="84.2,997.2 86.4,996.6 87,998.3 84.7,998.8" fill="#deded6"/>
<polygon points="102.9,996.7 105.9,996 106.3,997 103.3,997.8" fill="#ccd2d8"/>
<polygon points="100.5,999.7 104.8,998.6 105.5,1000.5 101.2,1001.6" fill="#b8bab2"/>
<polygon points="102.3,996.3 103.7,996 104,997.1 102.7,997.4" fill="#c4c6be"/>
<polygon points="90.2,998.7 91.5,998.4 91.9,999.7 90.6,1000" fill="#deded6"/>
<polygon points="108,994.6 109.6,994.2 110.3,996.2 108.8,996.6" fill="#c4c6be"/>
<polygon points="307.4,950.9 309.5,950.4 310.2,951.2 308.2,951.7" fill="#ccd2d8"/>
<polygon points="306,954.6 309.4,953.8 310.8,955.3 307.4,956.2" fill="#f4f4f0"/>
<polygon points="300.5,951.3 303.1,950.7 304.2,951.9 301.7,952.6" fill="#deded6"/>
<polygon points="304.4,950 307.7,949.2 308.5,950.1 305.3,950.9" fill="#e8e8e2"/>
<polygon points="307.4,948.1 310.2,947.4 311.7,949 308.9,949.7" fill="#c4c6be"/>
<polygon points="312.8,955.7 314,955.4 315.6,957.1 314.4,957.4" fill="#e8e8e2"/>
<polygon points="139.4,980.2 141,979.8 141.8,981.4 140.2,981.8" fill="#e8e8e2"/>
<polygon points="138.5,979.6 140.6,979.1 141.2,980.4 139.1,980.9" fill="#ccd2d8"/>
<polygon points="148.1,977.2 151,976.5 151.6,977.7 148.7,978.4" fill="#e8e8e2"/>
<polygon points="145.7,986.4 148.1,985.7 148.6,986.7 146.2,987.3" fill="#e8e8e2"/>
<polygon points="126.3,983.2 127.6,982.9 128.1,984.1 126.8,984.5" fill="#b8bab2"/>
<polygon points="123.5,988.2 126,987.6 126.3,988.2 123.8,988.8" fill="#d8d8d0"/>
<polygon points="128.3,975.1 131.2,974.4 131.5,975 128.5,975.7" fill="#d8d8d0"/>
<polygon points="137.4,982 139.8,981.4 140.6,983.3 138.2,983.9" fill="#d8d8d0"/>
<polygon points="126.5,980.1 128.6,979.6 129.1,980.8 127,981.3" fill="#e8e8e2"/>
<polygon points="129.7,979.5 131.7,979 132.3,980.2 130.2,980.7" fill="#f4f4f0"/>
<polygon points="440.8,1014.3 443.9,1013.3 446.2,1015.5 443.1,1016.5" fill="#b8bab2"/>
<polygon points="439.5,1021.3 442.5,1020.3 443.8,1021.5 440.8,1022.5" fill="#deded6"/>
<polygon points="418.3,1006.6 420.4,1005.9 421.9,1007.3 419.8,1008" fill="#deded6"/>
<polygon points="433.4,1019.7 436.6,1018.6 438,1019.9 434.8,1021" fill="#f4f4f0"/>
<polygon points="436.6,1021 437.9,1020.6 439.8,1022.3 438.4,1022.8" fill="#f4f4f0"/>
<polygon points="428.2,1015.5 429.5,1015.1 431.6,1017.1 430.3,1017.5" fill="#d8d8d0"/>
<polygon points="439.6,1015.1 441.8,1014.4 442.9,1015.5 440.8,1016.2" fill="#d8d8d0"/>
<polygon points="448.2,1019.3 450.4,1018.6 452.5,1020.5 450.3,1021.2" fill="#deded6"/>
<polygon points="348.8,940.1 349.9,939.8 350.7,940.6 349.6,940.8" fill="#e8e8e2"/>
<polygon points="348.3,946.2 349.8,945.8 350.8,946.7 349.3,947.1" fill="#e8e8e2"/>
<polygon points="354,934.6 356.3,934.1 357.8,935.5 355.5,936.1" fill="#d8d8d0"/>
<polygon points="351.8,943.3 354.4,942.6 355.7,943.8 353,944.5" fill="#d8d8d0"/>
<polygon points="355.4,940.1 358.4,939.3 359,939.9 356,940.7" fill="#c4c6be"/>
<polygon points="366.5,945.3 368.1,944.8 368.8,945.5 367.3,945.9" fill="#ccd2d8"/>
<polygon points="350.1,942.5 352.3,941.9 354,943.5 351.8,944" fill="#d8d8d0"/>
<polygon points="358,944.4 359.3,944.1 360.5,945.1 359.1,945.5" fill="#c4c6be"/>
<polygon points="353.5,937.7 356.8,936.8 357.3,937.4 354.1,938.2" fill="#d8d8d0"/>
<polygon points="360.7,943.5 362.4,943 363.1,943.7 361.4,944.1" fill="#ccd2d8"/>
<polygon points="325.3,1079.6 329.1,1078.3 330.9,1080.7 327.1,1082" fill="#b8bab2"/>
<polygon points="312.2,1065.1 316.3,1063.7 318.2,1066.3 314,1067.6" fill="#d8d8d0"/>
<polygon points="344.9,1067.5 348.4,1066.3 349.2,1067.2 345.6,1068.4" fill="#f4f4f0"/>
<polygon points="334.1,1076.5 337.6,1075.3 338.3,1076.2 334.8,1077.4" fill="#b8bab2"/>
<polygon points="326.3,1071.6 329.8,1070.5 331.9,1073.2 328.4,1074.4" fill="#c4c6be"/>
<polygon points="326.4,1080.2 330.7,1078.7 331.8,1080.2 327.5,1081.7" fill="#e8e8e2"/>
<polygon points="338.2,1075.7 341.3,1074.6 343.3,1077.2 340.2,1078.3" fill="#d8d8d0"/>
<polygon points="333.5,1076.1 336.4,1075 337.3,1076.2 334.3,1077.2" fill="#d8d8d0"/>
<polygon points="331.9,1078.7 336.3,1077.2 338.3,1079.8 333.9,1081.4" fill="#deded6"/>
<polygon points="117.5,1033.9 118.9,1033.5 119.2,1034.4 117.9,1034.8" fill="#b8bab2"/>
<polygon points="119.1,1018.4 121,1017.9 121.6,1019.4 119.6,1019.9" fill="#e8e8e2"/>
<polygon points="130,1027.7 131.8,1027.2 132.6,1029.3 130.8,1029.8" fill="#f4f4f0"/>
<polygon points="119.9,1030.9 122.7,1030.1 123,1030.9 120.2,1031.7" fill="#ccd2d8"/>
<polygon points="120.2,1024.4 122,1023.9 122.8,1026.1 121.1,1026.6" fill="#c4c6be"/>
<polygon points="97.8,1025.9 102.2,1024.7 102.7,1026.2 98.3,1027.4" fill="#d8d8d0"/>
<polygon points="106.3,1031.7 110.5,1030.6 111,1032.1 106.8,1033.3" fill="#b8bab2"/>
<polygon points="112.4,1026.4 116.1,1025.4 116.6,1026.7 112.9,1027.7" fill="#f4f4f0"/>
<polygon points="122.2,1024.4 126,1023.4 126.9,1025.6 123.1,1026.7" fill="#d8d8d0"/>
<polygon points="100.8,1018.7 105.3,1017.5 105.6,1018.4 101.1,1019.6" fill="#e8e8e2"/>
<polygon points="111.4,1030.1 114.6,1029.2 115.1,1030.6 111.9,1031.5" fill="#b8bab2"/>
<polygon points="113.8,1025.7 118.1,1024.6 118.4,1025.5 114.2,1026.6" fill="#b8bab2"/>
<polygon points="117.5,1028.3 120.2,1027.5 121,1029.6 118.3,1030.4" fill="#d8d8d0"/>
<polygon points="118.1,1019.7 119.7,1019.3 120.1,1020.4 118.5,1020.8" fill="#deded6"/>
<polygon points="118,1016.8 121.6,1015.8 122.5,1018 118.8,1019" fill="#c4c6be"/>
<polygon points="309,1057.1 310.3,1056.7 312.1,1059 310.7,1059.5" fill="#d8d8d0"/>
<polygon points="311.3,1068.6 314.8,1067.4 316.5,1069.8 313,1070.9" fill="#deded6"/>
<polygon points="323,1053.4 325.5,1052.6 326.8,1054.3 324.3,1055.1" fill="#deded6"/>
<polygon points="320.3,1061.6 321.9,1061.1 322.5,1062 320.9,1062.5" fill="#d8d8d0"/>
<polygon points="312.7,1061.4 315.7,1060.4 317.1,1062.3 314.1,1063.3" fill="#ccd2d8"/>
<polygon points="318.9,1061.3 322,1060.3 323.1,1061.7 319.9,1062.7" fill="#b8bab2"/>
<polygon points="309.2,1074.5 312.5,1073.4 313.2,1074.5 310,1075.6" fill="#b8bab2"/>
<polygon points="315.4,1055 318.5,1054 320.4,1056.5 317.2,1057.5" fill="#d8d8d0"/>
<polygon points="321.7,1057.7 323.7,1057 325.2,1059.1 323.3,1059.7" fill="#c4c6be"/>
<polygon points="189.7,1009.3 192.9,1008.4 193.7,1009.9 190.5,1010.7" fill="#e8e8e2"/>
<polygon points="185.7,1006.3 188.7,1005.5 189.8,1007.5 186.8,1008.4" fill="#d8d8d0"/>
<polygon points="189.2,1005.7 193,1004.7 193.7,1006 189.9,1007" fill="#deded6"/>
<polygon points="182.4,1007.6 184.7,1007 185.1,1007.8 182.9,1008.4" fill="#deded6"/>
<polygon points="183.9,1006.4 187.7,1005.4 188.7,1007.4 185,1008.4" fill="#d8d8d0"/>
<polygon points="178.3,997.7 181.5,996.8 182.4,998.5 179.2,999.3" fill="#c4c6be"/>
<polygon points="189,997.8 190.7,997.3 191.5,998.8 189.8,999.3" fill="#e8e8e2"/>
<polygon points="193.8,1008 196.4,1007.3 197.6,1009.3 195,1010" fill="#c4c6be"/>
<polygon points="193.5,999.1 196.1,998.4 196.5,999.2 194,999.9" fill="#c4c6be"/>
<polygon points="178.5,1001.4 179.8,1001 180.2,1001.8 178.9,1002.1" fill="#e8e8e2"/>
<polygon points="252.2,1021.2 254.3,1020.6 255,1021.8 253,1022.3" fill="#d8d8d0"/>
<polygon points="248.8,1017.4 252.7,1016.2 254.2,1018.4 250.2,1019.6" fill="#d8d8d0"/>
<polygon points="255.9,1015.8 258.2,1015.1 259.4,1016.8 257.1,1017.5" fill="#b8bab2"/>
<polygon points="252.8,1008.2 255.8,1007.4 257.1,1009.3 254.1,1010.1" fill="#f4f4f0"/>
<polygon points="245.6,1015 249.6,1013.9 250.5,1015.3 246.5,1016.4" fill="#c4c6be"/>
<polygon points="309.2,1009.5 311.8,1008.8 313,1010.3 310.4,1011" fill="#b8bab2"/>
<polygon points="309.5,1009.6 311.4,1009 312.9,1010.9 311.1,1011.5" fill="#ccd2d8"/>
<polygon points="303.8,1017.8 306.1,1017.1 306.8,1018 304.5,1018.7" fill="#b8bab2"/>
<polygon points="312.8,1007.4 316.6,1006.3 317.9,1007.9 314.2,1009" fill="#b8bab2"/>
<polygon points="301,1017.2 303.3,1016.5 305,1018.6 302.6,1019.3" fill="#ccd2d8"/>
<polygon points="267.5,1043.7 270.6,1042.8 271.6,1044.4 268.6,1045.3" fill="#e8e8e2"/>
<polygon points="275.7,1047.5 278.5,1046.6 279.8,1048.6 277.1,1049.4" fill="#e8e8e2"/>
<polygon points="272.9,1045.8 277.1,1044.5 278.4,1046.3 274.1,1047.6" fill="#f4f4f0"/>
<polygon points="272.5,1034.6 275.7,1033.6 276.4,1034.7 273.3,1035.7" fill="#b8bab2"/>
<polygon points="272,1046.7 275.2,1045.7 276,1046.8 272.8,1047.8" fill="#c4c6be"/>
<polygon points="420,999 422,998.4 423.5,999.8 421.6,1000.4" fill="#d8d8d0"/>
<polygon points="428.8,1001 432.1,1000 433.6,1001.3 430.2,1002.3" fill="#d8d8d0"/>
<polygon points="445.1,1002.5 446.6,1002 448.7,1003.8 447.2,1004.3" fill="#deded6"/>
<polygon points="429.8,1000.7 431.5,1000.2 432.4,1001 430.7,1001.5" fill="#f4f4f0"/>
<polygon points="426.7,998.4 428.5,997.9 429.9,999.1 428,999.7" fill="#d8d8d0"/>
<polygon points="204.6,1007.8 208.5,1006.8 209.1,1007.8 205.2,1008.8" fill="#ccd2d8"/>
<polygon points="189.8,1009.6 193.9,1008.5 194.6,1009.8 190.5,1011" fill="#ccd2d8"/>
<polygon points="196,1016.8 198.3,1016.2 198.8,1017.1 196.5,1017.8" fill="#f4f4f0"/>
<polygon points="192.7,1021.9 194.2,1021.5 194.7,1022.4 193.2,1022.8" fill="#ccd2d8"/>
<polygon points="204.6,1004.6 207.1,1003.9 208.2,1005.9 205.7,1006.6" fill="#d8d8d0"/>
<polygon points="131.7,1024.1 135.4,1023.1 136,1024.4 132.2,1025.4" fill="#d8d8d0"/>
<polygon points="113.8,1027.9 117.7,1026.8 118,1027.6 114.1,1028.7" fill="#b8bab2"/>
<polygon points="135.6,1017.4 138.7,1016.5 139.3,1018 136.2,1018.8" fill="#f4f4f0"/>
<polygon points="128.1,1025.6 129.6,1025.2 130.5,1027.5 129,1027.9" fill="#b8bab2"/>
<polygon points="128.1,1024.5 130.1,1023.9 130.5,1025 128.5,1025.5" fill="#b8bab2"/>
<polygon points="133.2,1026 136.4,1025.2 136.8,1026.3 133.7,1027.2" fill="#b8bab2"/>
<polygon points="138.4,1026.7 140.6,1026.1 141.1,1027.3 138.9,1027.9" fill="#e8e8e2"/>
<polygon points="138.9,1025 140.4,1024.6 141.1,1026.4 139.6,1026.8" fill="#d8d8d0"/>
<polygon points="122.4,1020 126.7,1018.9 127.1,1019.9 122.8,1021.1" fill="#deded6"/>
<polygon points="134.2,1030.4 136.9,1029.6 137.7,1031.6 135,1032.3" fill="#f4f4f0"/>
<polygon points="129.7,1025.4 131.4,1025 132.2,1026.9 130.4,1027.4" fill="#d8d8d0"/>
<polygon points="125.3,1016.7 129.4,1015.7 129.9,1017.1 125.9,1018.2" fill="#deded6"/>
<polygon points="140.9,1019.5 145.4,1018.3 146.2,1020.3 141.8,1021.5" fill="#b8bab2"/>
<polygon points="136.2,1018.3 138.8,1017.6 139.7,1019.6 137.1,1020.3" fill="#d8d8d0"/>
<polygon points="360.7,921.7 362.9,921.2 363.4,921.6 361.2,922.2" fill="#f4f4f0"/>
<polygon points="357.9,918 360.1,917.5 360.9,918.2 358.7,918.7" fill="#e8e8e2"/>
<polygon points="365.9,917.8 368.4,917.2 369.2,917.9 366.7,918.5" fill="#f4f4f0"/>
<polygon points="375.4,920.6 376.4,920.3 377.1,920.9 376,921.1" fill="#b8bab2"/>
<polygon points="377.7,920.7 379.8,920.2 380.7,920.9 378.6,921.4" fill="#f4f4f0"/>
<polygon points="357.5,917.5 359.6,916.9 360.1,917.4 358,917.9" fill="#b8bab2"/>
<polygon points="361.7,914.2 363.1,913.9 363.8,914.5 362.4,914.8" fill="#b8bab2"/>
<polygon points="367.9,927.3 370.9,926.5 371.9,927.4 368.9,928.2" fill="#d8d8d0"/>
<polygon points="368.1,916.7 369.2,916.5 370.7,917.7 369.6,918" fill="#d8d8d0"/>
<polygon points="368.1,917.7 370.3,917.2 371.5,918.2 369.4,918.7" fill="#b8bab2"/>
<polygon points="368.9,920.9 371.8,920.2 372.4,920.7 369.5,921.4" fill="#c4c6be"/>
<polygon points="366.7,918.2 368.3,917.8 369.2,918.6 367.5,919" fill="#e8e8e2"/>
<polygon points="373.7,916.7 376.4,916 377.1,916.5 374.3,917.2" fill="#e8e8e2"/>
<polygon points="429,1016.9 430.1,1016.6 432.4,1018.7 431.2,1019.1" fill="#c4c6be"/>
<polygon points="422.1,1014.1 424.8,1013.2 426.5,1014.8 423.7,1015.6" fill="#e8e8e2"/>
<polygon points="413.9,1010 416.9,1009 418.4,1010.4 415.3,1011.4" fill="#deded6"/>
<polygon points="424,1005 426.3,1004.3 427.6,1005.5 425.3,1006.2" fill="#deded6"/>
<polygon points="429.5,1010.3 432.3,1009.4 434.4,1011.4 431.6,1012.3" fill="#ccd2d8"/>
<polygon points="424.4,1013.2 428,1012.1 429.5,1013.4 425.9,1014.6" fill="#deded6"/>
<polygon points="412.4,1008.5 414.2,1008 415,1008.8 413.3,1009.3" fill="#b8bab2"/>
<polygon points="428.1,1007.2 431.4,1006.1 432.4,1007 429,1008.1" fill="#b8bab2"/>
<polygon points="392.1,961.9 395.3,961 397.2,962.7 394,963.6" fill="#b8bab2"/>
<polygon points="396.7,963.1 398.4,962.6 399.3,963.4 397.5,963.9" fill="#c4c6be"/>
<polygon points="401.2,970.6 402.3,970.3 403.3,971.2 402.2,971.5" fill="#ccd2d8"/>
<polygon points="392,955.6 393.8,955.1 395.2,956.3 393.3,956.8" fill="#d8d8d0"/>
<polygon points="405,963.1 406.5,962.7 407.3,963.4 405.8,963.8" fill="#ccd2d8"/>
<polygon points="350.9,949 353.9,948.3 355.5,949.8 352.5,950.6" fill="#ccd2d8"/>
<polygon points="342.3,940.3 343.9,939.9 344.4,940.4 342.8,940.8" fill="#d8d8d0"/>
<polygon points="341.3,941 343.5,940.4 344.7,941.6 342.5,942.1" fill="#ccd2d8"/>
<polygon points="334.5,946.8 336.4,946.4 337.7,947.6 335.8,948.1" fill="#b8bab2"/>
<polygon points="344.1,942.8 345.7,942.3 346.5,943.1 344.8,943.5" fill="#b8bab2"/>
<polygon points="333.7,951.1 336.7,950.4 337.5,951.2 334.5,952" fill="#d8d8d0"/>
<polygon points="335.6,944.1 337.6,943.6 338.2,944.1 336.1,944.6" fill="#e8e8e2"/>
<polygon points="335.3,948.9 337.5,948.4 338.4,949.3 336.2,949.8" fill="#d8d8d0"/>
<polygon points="333.8,943.4 335,943.1 336.3,944.4 335.1,944.7" fill="#b8bab2"/>
<polygon points="334.9,942.5 336.3,942.1 337.7,943.5 336.2,943.9" fill="#d8d8d0"/>
<polygon points="334.9,943.1 337.5,942.4 338.6,943.4 336,944.1" fill="#b8bab2"/>
<polygon points="342.9,944.6 344,944.3 344.6,944.9 343.4,945.2" fill="#e8e8e2"/>
<polygon points="305.7,942.3 307.5,941.8 309,943.4 307.1,943.8" fill="#c4c6be"/>
<polygon points="305.3,942.4 307.7,941.8 308.9,943.1 306.5,943.7" fill="#ccd2d8"/>
<polygon points="295.4,944.4 297.4,943.9 298.1,944.7 296,945.2" fill="#e8e8e2"/>
<polygon points="301.5,944.1 303.3,943.7 304.6,945 302.7,945.5" fill="#deded6"/>
<polygon points="299.9,943.8 302.6,943.2 304,944.7 301.3,945.4" fill="#f4f4f0"/>
<polygon points="296,945 297.2,944.7 298.1,945.8 297,946.1" fill="#c4c6be"/>
<polygon points="291,942.4 292.5,942 293.3,942.9 291.8,943.3" fill="#ccd2d8"/>
<polygon points="303.1,941.1 305,940.7 305.7,941.5 303.9,942" fill="#c4c6be"/>
<polygon points="301.8,936.8 303.7,936.4 304.9,937.6 303,938.1" fill="#e8e8e2"/>
<polygon points="299,941.5 300.6,941.1 301.1,941.6 299.5,942" fill="#ccd2d8"/>
<polygon points="298.2,942.7 299.6,942.4 301,943.9 299.6,944.3" fill="#d8d8d0"/>
<polygon points="309,941 310.3,940.7 311.4,941.9 310.2,942.2" fill="#e8e8e2"/>
<polygon points="294,938 296.1,937.5 297.2,938.7 295.1,939.2" fill="#d8d8d0"/>
<polygon points="358.6,921.4 360.6,920.9 361.8,922 359.8,922.5" fill="#e8e8e2"/>
<polygon points="363.4,932.5 365.8,931.9 366.8,932.8 364.4,933.4" fill="#b8bab2"/>
<polygon points="370.4,931.2 372.8,930.6 373.5,931.2 371.1,931.8" fill="#deded6"/>
<polygon points="352.6,927 355.4,926.3 356.3,927.1 353.5,927.8" fill="#deded6"/>
<polygon points="360.5,925.3 361.9,924.9 362.5,925.4 361.1,925.8" fill="#f4f4f0"/>
<polygon points="358.5,925.4 361.5,924.7 362.8,925.8 359.8,926.6" fill="#b8bab2"/>
<polygon points="363,928 364.3,927.7 365.3,928.6 364,928.9" fill="#f4f4f0"/>
<polygon points="309.1,948 312.3,947.2 313.3,948.4 310.1,949.2" fill="#d8d8d0"/>
<polygon points="310.8,946.1 312.4,945.7 313.2,946.6 311.6,947" fill="#ccd2d8"/>
<polygon points="308.6,946.7 311,946.1 312.5,947.7 310.1,948.3" fill="#f4f4f0"/>
<polygon points="312.7,946.6 315.7,945.8 316.4,946.5 313.4,947.3" fill="#e8e8e2"/>
<polygon points="301.9,944.7 303.8,944.2 305.1,945.6 303.2,946.1" fill="#d8d8d0"/>
<polygon points="307.8,950.1 310,949.5 310.7,950.3 308.5,950.9" fill="#e8e8e2"/>
<polygon points="303.4,944.3 306.7,943.4 307.6,944.4 304.3,945.2" fill="#c4c6be"/>
<polygon points="309.5,943.4 311.4,942.9 312.5,944.1 310.7,944.6" fill="#deded6"/>
<polygon points="313.3,943.9 316.3,943.2 316.9,943.9 314,944.6" fill="#deded6"/>
<polygon points="294.2,945.7 297.2,945 298.2,946.1 295.2,946.8" fill="#c4c6be"/>
<polygon points="307.1,941.1 308.2,940.8 309.6,942.3 308.5,942.6" fill="#deded6"/>
<polygon points="305.6,945.5 308.1,944.8 309.3,946.2 306.9,946.8" fill="#deded6"/>
<polygon points="306.5,943.5 309.7,942.7 310.2,943.2 307,944" fill="#f4f4f0"/>
<polygon points="308,941 310.6,940.4 311.6,941.4 309,942.1" fill="#d8d8d0"/>
<polygon points="304.6,947.7 305.6,947.5 307,948.9 306,949.2" fill="#ccd2d8"/>
<polygon points="305.3,946.3 307.5,945.8 308.6,946.9 306.4,947.4" fill="#deded6"/>
<polygon points="401.3,1009.6 402.9,1009.1 405,1011.1 403.4,1011.6" fill="#e8e8e2"/>
<polygon points="414.3,1014.8 416.7,1014 418.4,1015.6 415.9,1016.4" fill="#b8bab2"/>
<polygon points="413.2,1015.7 415.7,1014.9 416.5,1015.7 414,1016.5" fill="#b8bab2"/>
<polygon points="396.2,1012.7 397.4,1012.3 398.1,1013 396.9,1013.4" fill="#e8e8e2"/>
<polygon points="396.9,1011.2 398.3,1010.7 399.9,1012.4 398.5,1012.8" fill="#d8d8d0"/>
<polygon points="391.1,1005.9 393.8,1005.1 395.6,1006.9 393,1007.7" fill="#d8d8d0"/>
<polygon points="405.6,1016.4 408.5,1015.5 410.7,1017.6 407.8,1018.6" fill="#deded6"/>
<polygon points="410.8,1016.2 414.2,1015.1 416,1016.8 412.6,1017.9" fill="#f4f4f0"/>
<polygon points="422,1016.8 425,1015.9 426.7,1017.4 423.6,1018.4" fill="#d8d8d0"/>
<polygon points="395.1,1015.2 397.7,1014.4 399.6,1016.3 397,1017.1" fill="#deded6"/>
<polygon points="410.5,1017.8 413.6,1016.9 415.5,1018.8 412.4,1019.7" fill="#d8d8d0"/>
<polygon points="368,1005.4 369.1,1005.1 370.2,1006.2 369.1,1006.5" fill="#c4c6be"/>
<polygon points="365.3,1002.2 367.5,1001.6 368.4,1002.6 366.2,1003.2" fill="#deded6"/>
<polygon points="358.6,1000.1 361.8,999.2 362.9,1000.4 359.7,1001.3" fill="#ccd2d8"/>
<polygon points="368.7,1008.3 370.8,1007.7 371.9,1008.8 369.8,1009.5" fill="#c4c6be"/>
<polygon points="355.8,1008.3 358.6,1007.4 360.2,1009.1 357.3,1010" fill="#f4f4f0"/>
<polygon points="371.6,1011.1 374.7,1010.1 375.9,1011.3 372.8,1012.3" fill="#ccd2d8"/>
<polygon points="379.3,1002.3 381.1,1001.8 383,1003.7 381.2,1004.3" fill="#b8bab2"/>
<polygon points="361.2,1005.9 364.4,1005 365.3,1006 362.2,1006.9" fill="#ccd2d8"/>
<polygon points="180.5,974.6 184.1,973.7 185.1,975.3 181.4,976.2" fill="#b8bab2"/>
<polygon points="195.6,972.4 198.5,971.7 199.5,973.3 196.6,974.1" fill="#deded6"/>
<polygon points="190.5,980.9 191.9,980.5 193,982.2 191.5,982.6" fill="#ccd2d8"/>
<polygon points="188.9,969.9 190.3,969.6 191.3,971.3 189.9,971.7" fill="#ccd2d8"/>
<polygon points="183.7,975.4 185.7,974.9 186.7,976.6 184.7,977.1" fill="#d8d8d0"/>
<polygon points="198.6,975.6 201.1,974.9 202,976.4 199.4,977" fill="#deded6"/>
<polygon points="204.5,977.3 206.8,976.6 207.9,978.3 205.5,978.9" fill="#b8bab2"/>
<polygon points="188.2,969.5 189.7,969.2 190.4,970.5 189,970.8" fill="#c4c6be"/>
<polygon points="197.8,971.1 201,970.3 201.9,971.7 198.7,972.5" fill="#ccd2d8"/>
<polygon points="197,968.7 198.1,968.4 199.2,970.2 198,970.5" fill="#deded6"/>
<polygon points="188.3,972 191.2,971.2 191.8,972.3 188.9,973" fill="#b8bab2"/>
<polygon points="197.5,971.4 199,971 199.5,971.9 198.1,972.3" fill="#b8bab2"/>
<polygon points="199.5,964.9 202.5,964.2 203.3,965.5 200.3,966.2" fill="#b8bab2"/>
<polygon points="408.5,953.9 410,953.5 411,954.3 409.5,954.7" fill="#b8bab2"/>
<polygon points="369.6,974.6 371.9,973.9 373.2,975.2 370.9,975.8" fill="#e8e8e2"/>
<polygon points="311.5,1077.3 313.2,1076.7 314.2,1078.1 312.5,1078.7" fill="#deded6"/>
<polygon points="110.9,1035.3 113.6,1034.5 114.2,1036.1 111.5,1036.9" fill="#deded6"/>
<polygon points="269.7,942.4 270.8,942.2 271.7,943.2 270.5,943.5" fill="#b8bab2"/>
<polygon points="171.8,1008.1 173.7,1007.6 174.4,1008.9 172.5,1009.4" fill="#deded6"/>
<polygon points="120.6,1030.7 123.5,1029.9 123.9,1030.9 121,1031.6" fill="#deded6"/>
<polygon points="182.5,973.8 185.1,973.2 185.5,973.8 182.9,974.5" fill="#d8d8d0"/>
<polygon points="167.6,1037.1 170.9,1036.1 171.5,1037.4 168.2,1038.4" fill="#deded6"/>
<polygon points="312.6,1025 315.3,1024.2 315.7,1024.8 313.1,1025.6" fill="#c4c6be"/>
<polygon points="244,1038.2 247,1037.3 247.9,1038.8 244.9,1039.7" fill="#c4c6be"/>
<polygon points="86.6,1074.6 88,1074.2 88.4,1075.6 87,1076" fill="#b8bab2"/>
<polygon points="52.7,1003.6 54.9,1003 55.2,1004.4 53.1,1004.9" fill="#e8e8e2"/>
<polygon points="420.8,970.9 422.1,970.6 423.5,971.8 422.2,972.2" fill="#f4f4f0"/>
<polygon points="125.5,1050 127.8,1049.3 128.1,1050.1 125.8,1050.7" fill="#d8d8d0"/>
<polygon points="328.6,965.3 330.8,964.7 331.9,965.9 329.7,966.4" fill="#ccd2d8"/>
<polygon points="175.6,984.4 178,983.7 178.8,985.1 176.3,985.7" fill="#e8e8e2"/>
<polygon points="159.2,980.7 162.2,980 162.9,981.4 160,982.1" fill="#f4f4f0"/>
<polygon points="336.4,954.3 337.5,954 338.5,955 337.4,955.3" fill="#f4f4f0"/>
<polygon points="74.9,1050.5 76.3,1050.1 76.8,1051.8 75.4,1052.2" fill="#deded6"/>
<polygon points="257,944 259.2,943.5 259.6,944.1 257.5,944.6" fill="#c4c6be"/>
<polygon points="235.2,951.4 237.1,950.9 237.4,951.4 235.5,951.8" fill="#b8bab2"/>
<polygon points="387.1,966.9 389.6,966.2 390.3,966.8 387.8,967.5" fill="#deded6"/>
<polygon points="309,986.1 311.6,985.3 312.8,986.7 310.1,987.4" fill="#ccd2d8"/>
<polygon points="237.9,1115 240.8,1114 241.3,1115.1 238.5,1116.1" fill="#d8d8d0"/>
<polygon points="278.9,983.9 281,983.3 281.6,984 279.4,984.6" fill="#deded6"/>
<polygon points="190.5,995.8 193.1,995.2 193.9,996.5 191.3,997.2" fill="#d8d8d0"/>
<polygon points="154.1,970.8 155.6,970.4 156.1,971.2 154.5,971.6" fill="#e8e8e2"/>
<polygon points="113.7,1098 115.6,1097.4 116.3,1099.7 114.5,1100.3" fill="#f4f4f0"/>
<polygon points="170.4,1051.5 172.8,1050.8 173.2,1051.8 170.9,1052.5" fill="#e8e8e2"/>
<polygon points="217.4,962.7 220,962.1 220.4,962.7 217.8,963.4" fill="#deded6"/>
<polygon points="310.4,1007 311.9,1006.6 312.6,1007.4 311.1,1007.9" fill="#c4c6be"/>
<polygon points="245.2,968.5 247.8,967.8 248.1,968.3 245.6,969" fill="#b8bab2"/>
<polygon points="370.6,918.2 372.1,917.9 372.9,918.5 371.4,918.9" fill="#ccd2d8"/>
<polygon points="305.5,962.9 308.1,962.2 309.1,963.3 306.5,964" fill="#e8e8e2"/>
<polygon points="218.7,1061.4 220,1061 220.8,1062.5 219.5,1062.9" fill="#c4c6be"/>
<polygon points="351.7,945 353,944.6 354.2,945.8 353,946.1" fill="#b8bab2"/>
<polygon points="153.2,983.6 155.7,983 156,983.6 153.6,984.2" fill="#f4f4f0"/>
<polygon points="172.5,1001.3 174.8,1000.6 175.5,1001.9 173.1,1002.5" fill="#ccd2d8"/>
<polygon points="304.2,1030.7 306.2,1030 307.4,1031.5 305.4,1032.1" fill="#deded6"/>
<polygon points="95.7,999.7 97.3,999.3 97.8,1000.8 96.2,1001.2" fill="#c4c6be"/>
<polygon points="64.7,1013.6 67,1013 67.3,1014.2 65,1014.7" fill="#d8d8d0"/>
<polygon points="376,1051.4 378.9,1050.5 379.7,1051.3 376.7,1052.3" fill="#f4f4f0"/>
<polygon points="357.9,1055 360.3,1054.2 361.4,1055.6 359,1056.4" fill="#d8d8d0"/>
<polygon points="157.2,1110.5 159.7,1109.7 160.5,1111.9 158,1112.7" fill="#f4f4f0"/>
<polygon points="79.5,1012.7 82.7,1011.9 83.1,1013.2 79.9,1014" fill="#e8e8e2"/>
<polygon points="294,963.4 295.9,962.9 296.8,963.9 294.9,964.4" fill="#b8bab2"/>
<polygon points="341.6,968.6 344,968 345,969 342.5,969.7" fill="#f4f4f0"/>
<polygon points="203.3,1013.2 205.9,1012.5 206.4,1013.4 203.8,1014.1" fill="#deded6"/>
<polygon points="230.7,1114.2 232.3,1113.7 233.4,1115.9 231.8,1116.5" fill="#c4c6be"/>
<polygon points="411.6,966.8 412.6,966.6 413.5,967.3 412.5,967.6" fill="#d8d8d0"/>
<polygon points="86.1,989.2 88.4,988.6 88.8,989.8 86.5,990.3" fill="#ccd2d8"/>
<polygon points="244.5,1004.4 246.8,1003.8 247.6,1005 245.3,1005.6" fill="#deded6"/>
<polygon points="374.6,934.8 376,934.5 376.7,935.1 375.4,935.5" fill="#deded6"/>
<polygon points="66.9,1142.3 69.1,1141.6 69.5,1143.4 67.3,1144.1" fill="#ccd2d8"/>
<polygon points="380.8,980.5 383,979.9 384,980.8 381.8,981.5" fill="#d8d8d0"/>
<polygon points="377.1,925.6 379.1,925.1 380.1,925.9 378.1,926.4" fill="#d8d8d0"/>
<polygon points="345.8,1048.1 347,1047.7 347.8,1048.6 346.5,1049" fill="#ccd2d8"/>
<polygon points="71.7,1027.1 73.8,1026.5 74.1,1027.6 72,1028.2" fill="#ccd2d8"/>
<polygon points="294.6,1031.9 296.1,1031.4 297.3,1033 295.8,1033.5" fill="#ccd2d8"/>
<polygon points="391.2,938.5 392.2,938.3 393.1,939.1 392.1,939.3" fill="#b8bab2"/>
<polygon points="70.2,1032.7 72.8,1032 73,1032.7 70.4,1033.4" fill="#c4c6be"/>
<polygon points="271.1,955.8 273.4,955.3 274.2,956.3 272,956.9" fill="#deded6"/>
<polygon points="163.3,978.8 165.9,978.1 166.4,979.2 163.8,979.9" fill="#e8e8e2"/>
<polygon points="328.3,965.5 330.9,964.8 331.7,965.6 329.2,966.3" fill="#ccd2d8"/>
<polygon points="313.6,1024.7 315,1024.2 315.5,1024.8 314.1,1025.3" fill="#deded6"/>
<polygon points="270.8,984.8 272.9,984.2 273.8,985.4 271.7,986" fill="#f4f4f0"/>
<polygon points="128.6,1031.8 131.5,1031 132.1,1032.4 129.2,1033.2" fill="#e8e8e2"/>
<polygon points="283.7,976.5 285.6,976 286.6,977.3 284.7,977.8" fill="#ccd2d8"/>
<polygon points="373.7,952.8 374.9,952.5 375.4,952.9 374.2,953.2" fill="#b8bab2"/>
<polygon points="268.9,1095.6 270.4,1095 271,1096.1 269.5,1096.6" fill="#c4c6be"/>
<polygon points="264.7,1025.8 266.4,1025.3 266.9,1026 265.2,1026.5" fill="#e8e8e2"/>
<polygon points="87.4,1045.8 88.8,1045.4 89.1,1046.2 87.6,1046.6" fill="#d8d8d0"/>
<polygon points="363.5,1007.5 364.6,1007.2 365.7,1008.3 364.5,1008.7" fill="#d8d8d0"/>
<polygon points="397.7,1004.6 400.3,1003.8 401.5,1005 398.9,1005.8" fill="#c4c6be"/>
<polygon points="76.5,1060.4 79.4,1059.6 79.8,1061.1 76.9,1061.9" fill="#c4c6be"/>
<polygon points="486.3,1017.1 487.4,1016.7 489.4,1018.3 488.3,1018.7" fill="#deded6"/>
<polygon points="277.6,998.4 280.4,997.7 281.3,998.9 278.6,999.7" fill="#b8bab2"/>
<polygon points="356.2,931.7 357.8,931.3 358.7,932.1 357.1,932.5" fill="#f4f4f0"/>
<polygon points="372.8,917.7 374.6,917.3 375.7,918.2 373.9,918.6" fill="#d8d8d0"/>
<polygon points="292.7,938.8 295,938.2 295.4,938.8 293.2,939.3" fill="#deded6"/>
<polygon points="353.1,994.6 355.5,993.9 356.5,994.9 354.1,995.6" fill="#c4c6be"/>
<polygon points="422.1,1023.9 424.4,1023.2 426.1,1024.8 423.8,1025.6" fill="#c4c6be"/>
<polygon points="182.4,1023.4 183.7,1023 184.2,1024 182.9,1024.4" fill="#b8bab2"/>
<polygon points="358.5,984.6 360.4,984.1 361.5,985.2 359.6,985.8" fill="#e8e8e2"/>
<polygon points="298.1,1030 300.8,1029.2 301.5,1030.1 298.8,1030.9" fill="#e8e8e2"/>
<polygon points="303.1,988.3 305.3,987.7 305.9,988.3 303.7,988.9" fill="#deded6"/>
<polygon points="318.9,1040.8 320.5,1040.3 321.3,1041.2 319.7,1041.8" fill="#deded6"/>
<polygon points="376.9,923.5 379.2,923 379.9,923.6 377.6,924.1" fill="#c4c6be"/>
<polygon points="410,1005.6 412.1,1005 413.7,1006.6 411.7,1007.2" fill="#c4c6be"/>
<polygon points="180.8,1009.8 182.6,1009.3 183.2,1010.4 181.4,1010.9" fill="#d8d8d0"/>
<polygon points="145.8,1126.1 147.4,1125.6 147.9,1127.1 146.3,1127.6" fill="#f4f4f0"/>
<polygon points="174.3,1003.8 175.6,1003.4 176.1,1004.3 174.8,1004.7" fill="#deded6"/>
<polygon points="198.7,994.5 201.6,993.7 202,994.3 199.1,995.1" fill="#e8e8e2"/>
<polygon points="284.6,989.9 286.4,989.4 287.3,990.6 285.5,991.1" fill="#deded6"/>
<polygon points="338.9,1036.5 340.7,1035.9 341.2,1036.6 339.4,1037.1" fill="#b8bab2"/>
<polygon points="312.5,953.7 315,953.1 315.8,954 313.4,954.6" fill="#b8bab2"/>
<polygon points="376.3,1042.6 378.3,1041.9 380,1043.7 377.9,1044.4" fill="#f4f4f0"/>
<polygon points="417.1,989.1 419.2,988.5 420.8,989.9 418.6,990.5" fill="#ccd2d8"/>
<polygon points="142.6,1048.4 144.5,1047.8 144.8,1048.8 143,1049.3" fill="#deded6"/>
<polygon points="217.1,1113.4 220.5,1112.2 221.5,1114.3 218.1,1115.4" fill="#c4c6be"/>
<polygon points="182,1107.4 185.5,1106.3 186.4,1108.4 183,1109.6" fill="#deded6"/>
<polygon points="121.5,1030 123.9,1029.3 124.3,1030.3 121.9,1031" fill="#c4c6be"/>
<polygon points="238.2,1063.2 241.1,1062.3 241.7,1063.2 238.8,1064.1" fill="#e8e8e2"/>
<polygon points="354.4,1009.8 356.7,1009.1 357.8,1010.2 355.4,1010.9" fill="#f4f4f0"/>
<polygon points="277.9,1037.2 280,1036.6 281.2,1038.3 279.1,1038.9" fill="#deded6"/>
<polygon points="194.4,1055.7 196.9,1054.9 197.4,1056 194.9,1056.7" fill="#f4f4f0"/>
<polygon points="226.5,1078.8 228.8,1078.1 229.3,1079.1 227,1079.8" fill="#f4f4f0"/>
<polygon points="384.6,934.4 386.7,933.9 387.7,934.8 385.7,935.4" fill="#e8e8e2"/>
<polygon points="274,1060.3 276.8,1059.4 277.8,1061.1 275,1061.9" fill="#deded6"/>
<polygon points="236.2,954.4 238.5,953.8 239.3,954.9 237,955.4" fill="#ccd2d8"/>
<polygon points="156.6,1070.9 158.8,1070.2 159.2,1071.2 157,1071.8" fill="#c4c6be"/>
<polygon points="247.2,1053.1 249.1,1052.5 250.2,1054.3 248.2,1054.9" fill="#d8d8d0"/>
<polygon points="153.3,987.8 156.2,987.1 156.5,987.6 153.6,988.3" fill="#f4f4f0"/>
<polygon points="328.4,1004.7 330.7,1004 331.8,1005.3 329.5,1006" fill="#f4f4f0"/>
<polygon points="262.2,957.3 264.5,956.7 265,957.3 262.7,957.9" fill="#ccd2d8"/>
<polygon points="365.4,981.9 366.8,981.5 367.5,982.3 366.2,982.7" fill="#c4c6be"/>
<polygon points="118.2,1072.7 121.4,1071.7 122,1073.3 118.7,1074.3" fill="#e8e8e2"/>
<polygon points="154.5,1054.8 156.3,1054.3 156.8,1055.5 155,1056" fill="#f4f4f0"/>
<polygon points="134.5,1087.1 136.8,1086.4 137.5,1088.3 135.2,1089" fill="#f4f4f0"/>
<polygon points="154.3,971.1 155.5,970.8 156.1,972 154.9,972.2" fill="#b8bab2"/>
<polygon points="365.8,1052.8 368.3,1051.9 369.5,1053.4 367.1,1054.2" fill="#f4f4f0"/>
<polygon points="397.3,937.2 399.2,936.7 400,937.4 398.1,937.9" fill="#b8bab2"/>
<polygon points="140.6,1020.1 141.9,1019.7 142.6,1021.1 141.2,1021.5" fill="#c4c6be"/>
<polygon points="42.2,1023.2 44.1,1022.7 44.2,1023.4 42.3,1023.9" fill="#b8bab2"/>
<polygon points="368.8,940.4 370.6,939.9 371.3,940.5 369.5,941" fill="#f4f4f0"/>
<polygon points="117.9,1022.5 119.9,1022 120.4,1023.2 118.4,1023.7" fill="#b8bab2"/>
<polygon points="407.7,1013.7 409.2,1013.3 410,1014 408.4,1014.5" fill="#b8bab2"/>
<polygon points="234.5,996.8 236.4,996.3 237.1,997.3 235.2,997.8" fill="#f4f4f0"/>
<polygon points="206.4,969.4 208.3,968.9 208.7,969.4 206.7,969.9" fill="#f4f4f0"/>
<polygon points="280.5,1051.2 283.2,1050.3 284,1051.5 281.3,1052.4" fill="#b8bab2"/>
<polygon points="205.9,1046.6 208.2,1046 209,1047.5 206.8,1048.2" fill="#e8e8e2"/>
<polygon points="195.8,963.4 197.3,963 197.9,964 196.4,964.4" fill="#f4f4f0"/>
<polygon points="342.7,1017.1 344.9,1016.4 345.8,1017.4 343.6,1018.1" fill="#deded6"/>
<polygon points="278.8,953.1 281.1,952.5 281.7,953.3 279.4,953.9" fill="#b8bab2"/>
<polygon points="284.8,982.9 287,982.3 287.9,983.5 285.7,984.1" fill="#b8bab2"/>
<polygon points="217.6,1001.9 219.7,1001.4 220.4,1002.4 218.3,1003" fill="#d8d8d0"/>
<polygon points="226.1,1064.5 228.2,1063.9 228.6,1064.6 226.5,1065.2" fill="#c4c6be"/>
<polygon points="111.1,1143.8 115,1142.5 115.8,1145 111.8,1146.4" fill="#c4c6be"/>
<polygon points="153.1,1045 154.6,1044.5 155.3,1045.9 153.7,1046.4" fill="#c4c6be"/>
<polygon points="450.1,1009.4 452.6,1008.6 453.9,1009.8 451.4,1010.6" fill="#f4f4f0"/>
<polygon points="332.9,939.9 334.8,939.5 335.9,940.6 334.1,941.1" fill="#c4c6be"/>
<polygon points="339.8,924 341.7,923.5 342.3,924.1 340.4,924.5" fill="#deded6"/>
<polygon points="337.4,981.2 338.7,980.9 339.2,981.5 338,981.8" fill="#e8e8e2"/>
<polygon points="87,1126.5 89.8,1125.6 90.2,1127.1 87.4,1128" fill="#c4c6be"/>
<polygon points="378.8,961 380.6,960.5 381.9,961.8 380.2,962.3" fill="#e8e8e2"/>
<polygon points="121.5,1119 123.3,1118.4 123.7,1119.8 122,1120.4" fill="#deded6"/>
<polygon points="214.6,1055.9 217.7,1055 218.1,1055.8 215.1,1056.8" fill="#e8e8e2"/>
<polygon points="403.1,975.3 404.6,974.9 405.3,975.6 403.9,976" fill="#ccd2d8"/>
<polygon points="136.4,1016.4 138.1,1015.9 138.7,1017.3 136.9,1017.7" fill="#b8bab2"/>
<polygon points="325.4,967.6 327,967.1 327.9,968.1 326.3,968.5" fill="#f4f4f0"/>
<polygon points="402.1,985.7 403.7,985.2 404.4,985.9 402.8,986.4" fill="#ccd2d8"/>
<polygon points="386.5,929.6 387.9,929.3 389.1,930.2 387.6,930.6" fill="#deded6"/>
<polygon points="154.1,1013.3 157.1,1012.5 157.5,1013.3 154.5,1014.1" fill="#d8d8d0"/>
<polygon points="342.5,952 344.8,951.5 346,952.6 343.7,953.2" fill="#b8bab2"/>
<polygon points="110.2,983.3 112,982.9 112.5,984.1 110.6,984.6" fill="#deded6"/>
<polygon points="374.6,933.3 376.4,932.8 377.2,933.5 375.4,934" fill="#deded6"/>
<polygon points="192.1,1066.2 193.5,1065.8 194.3,1067.3 192.9,1067.8" fill="#ccd2d8"/>
<polygon points="92.3,1074.7 95.5,1073.8 95.7,1074.5 92.5,1075.4" fill="#e8e8e2"/>
<polygon points="257.7,954.3 259.5,953.8 260.1,954.6 258.3,955" fill="#c4c6be"/>
<polygon points="437.1,984.1 438.3,983.8 439.7,985 438.5,985.3" fill="#ccd2d8"/>
<polygon points="283.2,951.3 284.2,951 284.7,951.5 283.6,951.8" fill="#b8bab2"/>
<polygon points="160.4,1046 163.1,1045.2 163.9,1046.8 161.2,1047.6" fill="#e8e8e2"/>
<polygon points="58.4,1025.7 61.1,1025 61.3,1025.7 58.6,1026.4" fill="#d8d8d0"/>
<polygon points="409.9,993.7 412.4,992.9 413.5,994 411,994.7" fill="#b8bab2"/>
<polygon points="163.1,976.3 164.4,976 165,977 163.7,977.4" fill="#c4c6be"/>
<polygon points="197.5,1128.5 201.2,1127.3 201.6,1128.3 198,1129.6" fill="#deded6"/>
<polygon points="216.7,1115.3 220,1114.1 220.8,1115.7 217.5,1116.9" fill="#e8e8e2"/>
<polygon points="366.7,1047.3 369.3,1046.4 370.4,1047.7 367.8,1048.5" fill="#d8d8d0"/>
<polygon points="218,958.1 219.5,957.7 220,958.3 218.5,958.7" fill="#ccd2d8"/>
<polygon points="359.2,955.5 361.1,955 362,955.9 360.1,956.4" fill="#b8bab2"/>
<polygon points="328.7,1036.5 331.2,1035.7 331.9,1036.5 329.4,1037.3" fill="#e8e8e2"/>
<polygon points="136.8,1081.7 139.9,1080.7 140.5,1082.3 137.4,1083.3" fill="#deded6"/>
<polygon points="360.5,958.9 362.5,958.3 363,958.8 361,959.4" fill="#ccd2d8"/>
<polygon points="347.1,931.3 349,930.9 349.8,931.6 348,932.1" fill="#deded6"/>
<polygon points="250.7,944 251.8,943.8 252.6,944.8 251.5,945" fill="#f4f4f0"/>
<polygon points="270.7,959.4 272.4,959 273.4,960.2 271.7,960.6" fill="#deded6"/>
<polygon points="65,1039.6 68.3,1038.7 68.7,1040.3 65.4,1041.2" fill="#e8e8e2"/>
<polygon points="360,1065.1 361.8,1064.4 362.5,1065.3 360.7,1065.9" fill="#b8bab2"/>
<polygon points="56.5,998.6 59.6,997.8 59.8,998.7 56.8,999.5" fill="#c4c6be"/>
<polygon points="154.2,989.9 156.7,989.3 157.1,990.1 154.6,990.7" fill="#ccd2d8"/>
<polygon points="268.4,1096.1 270.1,1095.6 271,1097.1 269.3,1097.6" fill="#f4f4f0"/>
<polygon points="193.8,958.9 195.9,958.4 196.3,959.1 194.2,959.6" fill="#c4c6be"/>
<polygon points="212,956.6 214.3,956 214.9,957 212.6,957.5" fill="#ccd2d8"/>
<polygon points="63,1022.3 64.8,1021.8 65.3,1023.5 63.5,1024" fill="#ccd2d8"/>
<polygon points="269.4,1063.9 272.2,1063 273,1064.2 270.2,1065.1" fill="#b8bab2"/>
<polygon points="290.9,1005.5 292.5,1005 293.3,1006 291.7,1006.4" fill="#d8d8d0"/>
<polygon points="376.3,931.8 378.4,931.3 379,931.8 376.9,932.4" fill="#c4c6be"/>
<polygon points="259.8,1032.4 262.5,1031.6 263,1032.5 260.4,1033.3" fill="#f4f4f0"/>
<polygon points="152.6,987.4 154.3,987 154.9,988.2 153.2,988.6" fill="#e8e8e2"/>
<polygon points="333,954.9 334.9,954.4 335.7,955.1 333.8,955.6" fill="#d8d8d0"/>
<polygon points="261.7,987.3 263.8,986.7 264.4,987.5 262.2,988.1" fill="#c4c6be"/>
<polygon points="81.4,1042.8 84.6,1041.9 85,1043.3 81.7,1044.2" fill="#d8d8d0"/>
<polygon points="74.2,1079.4 78,1078.3 78.2,1079.3 74.5,1080.4" fill="#deded6"/>
<polygon points="296.3,957.6 298.6,957 299.4,958 297.1,958.6" fill="#deded6"/>
<polygon points="336,990.9 338.5,990.2 339.4,991.1 336.9,991.8" fill="#e8e8e2"/>
<polygon points="222.3,1088.2 224.2,1087.6 225,1089.1 223.1,1089.7" fill="#d8d8d0"/>
<polygon points="41.2,1000.9 44.2,1000.2 44.4,1001.2 41.4,1001.9" fill="#e8e8e2"/>
<polygon points="393.7,993.2 395.6,992.6 396.4,993.4 394.5,994" fill="#d8d8d0"/>
<polygon points="172.8,1001.1 174.1,1000.8 174.6,1001.8 173.3,1002.1" fill="#c4c6be"/>
<polygon points="70.5,1059.5 73.4,1058.7 73.6,1059.6 70.7,1060.4" fill="#c4c6be"/>
<polygon points="226.4,967.6 228,967.2 228.7,968.2 227.1,968.6" fill="#d8d8d0"/>
<polygon points="350.4,937.6 351.9,937.2 352.6,937.9 351.1,938.3" fill="#ccd2d8"/>
<polygon points="48.5,1027.7 50.1,1027.2 50.5,1028.7 48.8,1029.1" fill="#e8e8e2"/>
<polygon points="399.1,952.1 400.6,951.7 402,952.8 400.5,953.2" fill="#ccd2d8"/>
<polygon points="347.4,925.3 349.2,924.9 349.7,925.3 347.9,925.7" fill="#c4c6be"/>
<polygon points="292.7,933.9 295,933.4 296,934.5 293.7,935" fill="#ccd2d8"/>
<polygon points="296.8,968.1 299.2,967.4 300.1,968.3 297.6,969" fill="#e8e8e2"/>
<polygon points="496.6,1020 497.9,1019.6 499.2,1020.6 497.9,1021.1" fill="#d8d8d0"/>
<polygon points="360.1,961 362.5,960.3 363.4,961.2 361,961.9" fill="#f4f4f0"/>
<polygon points="271.3,964.9 272.5,964.6 273.1,965.4 271.9,965.7" fill="#e8e8e2"/>
<polygon points="197.2,973.7 198.5,973.4 198.8,974 197.5,974.3" fill="#deded6"/>
<polygon points="115,1037.5 118.3,1036.5 119,1038.3 115.6,1039.2" fill="#d8d8d0"/>
<polygon points="321.1,986.1 322.9,985.6 324.1,987 322.3,987.5" fill="#c4c6be"/>
<polygon points="360.3,921.8 362,921.4 362.4,921.7 360.7,922.2" fill="#f4f4f0"/>
<polygon points="372.2,968 373.6,967.6 374.6,968.5 373.1,968.9" fill="#b8bab2"/>
<polygon points="269.6,960.4 271,960 271.6,960.7 270.2,961.1" fill="#ccd2d8"/>
<polygon points="160.1,1000.3 162.1,999.8 162.5,1000.8 160.5,1001.3" fill="#b8bab2"/>
<polygon points="332.5,979.4 333.9,979 334.4,979.5 333,979.9" fill="#c4c6be"/>
<polygon points="439.2,972.9 441.5,972.2 442.3,972.9 440.1,973.5" fill="#c4c6be"/>
<polygon points="255.8,947.8 257.3,947.5 257.8,948.2 256.3,948.5" fill="#e8e8e2"/>
<polygon points="142.4,1046.6 145.2,1045.8 146,1047.6 143.2,1048.4" fill="#deded6"/>
<polygon points="192.6,1079 194.2,1078.5 195.1,1080.3 193.5,1080.8" fill="#b8bab2"/>
<polygon points="71.8,1145.6 74.6,1144.6 75,1146.6 72.3,1147.5" fill="#c4c6be"/>
<polygon points="142.1,1088.2 144.2,1087.5 144.8,1089 142.6,1089.7" fill="#f4f4f0"/>
<polygon points="96.3,1034.3 98.5,1033.7 99.1,1035.4 96.9,1036" fill="#b8bab2"/>
<polygon points="141.3,988.7 142.9,988.3 143.3,989.2 141.7,989.6" fill="#d8d8d0"/>
<polygon points="426.5,1037.5 428,1037 429.8,1038.8 428.3,1039.3" fill="#ccd2d8"/>
<polygon points="194.5,1009.6 195.7,1009.2 196.4,1010.4 195.1,1010.7" fill="#e8e8e2"/>
<polygon points="397.3,971.9 399.1,971.4 400.2,972.4 398.4,972.9" fill="#b8bab2"/>
<polygon points="162.9,976.8 165.5,976.1 166,976.9 163.3,977.6" fill="#c4c6be"/>
<polygon points="281.3,987.4 283.6,986.8 284.1,987.4 281.8,988" fill="#f4f4f0"/>
<polygon points="261.3,1101.1 264.9,1099.9 265.8,1101.4 262.2,1102.7" fill="#deded6"/>
<polygon points="199.9,1027.9 202.8,1027.1 203.6,1028.5 200.7,1029.3" fill="#d8d8d0"/>
<polygon points="281.7,964.8 283.7,964.3 284.7,965.4 282.7,965.9" fill="#d8d8d0"/>
<polygon points="412.6,996.9 414,996.5 415.4,997.8 413.9,998.2" fill="#b8bab2"/>
<polygon points="345.4,1045.8 347.2,1045.2 348.5,1046.7 346.6,1047.3" fill="#b8bab2"/>
<polygon points="326.4,942.8 327.9,942.4 328.5,943 327,943.4" fill="#deded6"/>
<polygon points="162.9,1114.2 164.4,1113.7 164.8,1114.8 163.3,1115.3" fill="#d8d8d0"/>
<polygon points="392.1,1032.7 394.6,1031.8 396.2,1033.5 393.6,1034.3" fill="#b8bab2"/>
<polygon points="182.9,1038.9 186.2,1038 186.6,1038.8 183.4,1039.7" fill="#deded6"/>
<polygon points="158.6,1118.2 161.9,1117.2 162.4,1118.5 159.1,1119.6" fill="#f4f4f0"/>
<polygon points="175.9,966.3 178.1,965.7 178.7,966.8 176.5,967.3" fill="#ccd2d8"/>
<polygon points="395,1038.5 397.9,1037.6 399.5,1039.2 396.6,1040.2" fill="#ccd2d8"/>
<polygon points="478.5,1007.7 480.4,1007.1 481.3,1007.9 479.4,1008.5" fill="#deded6"/>
<polygon points="272.5,1065.5 274.2,1065 275.2,1066.6 273.5,1067.1" fill="#d8d8d0"/>
<polygon points="330.4,959.9 331.5,959.6 332.1,960.1 330.9,960.4" fill="#f4f4f0"/>
<polygon points="328.1,968.4 330.4,967.8 331.2,968.7 328.9,969.3" fill="#f4f4f0"/>
<polygon points="110,1044.9 112.2,1044.3 112.5,1045.3 110.3,1045.9" fill="#ccd2d8"/>
<polygon points="181.7,1083.5 183.2,1083 184.1,1085 182.6,1085.5" fill="#f4f4f0"/>
</g>
<polygon points="34.6,995.4 370.8,914.2 502.5,1024.1 71.8,1172.5" fill="url(#pg)"/>
<path d="M62.9 988.6L110.5 1159.2M105.6 978.3L167.9 1139.4M146.2 968.4L221.7 1120.9M185.1 959.1L272.2 1103.5M222.2 950.1L319.7 1087.1M257.7 941.5L364.4 1071.7M291.8 933.3L406.7 1057.1M324.4 925.4L446.7 1043.3M355.8 917.8L484.6 1030.3M38.6 1014.6L386 926.9M44.1 1040.4L406.1 943.7M50.1 1069.3L428 962M57 1101.9L452.2 982.1M64.7 1138.9L478.9 1004.4" stroke="#111" stroke-width="1.15" fill="none"/>
<polygon points="34.6,995.4 370.8,914.2 502.5,1024.1 71.8,1172.5" stroke="#111" stroke-width="1.15" fill="none"/>
<line x1="452.3" y1="1048.1" x2="489.5" y2="1035.2" stroke="#000" stroke-width="3.9"/>
<text transform="translate(450.8 1082) rotate(-19.2)" font-size="29.5" class="t">500 m</text>
</svg>
</body></html>
